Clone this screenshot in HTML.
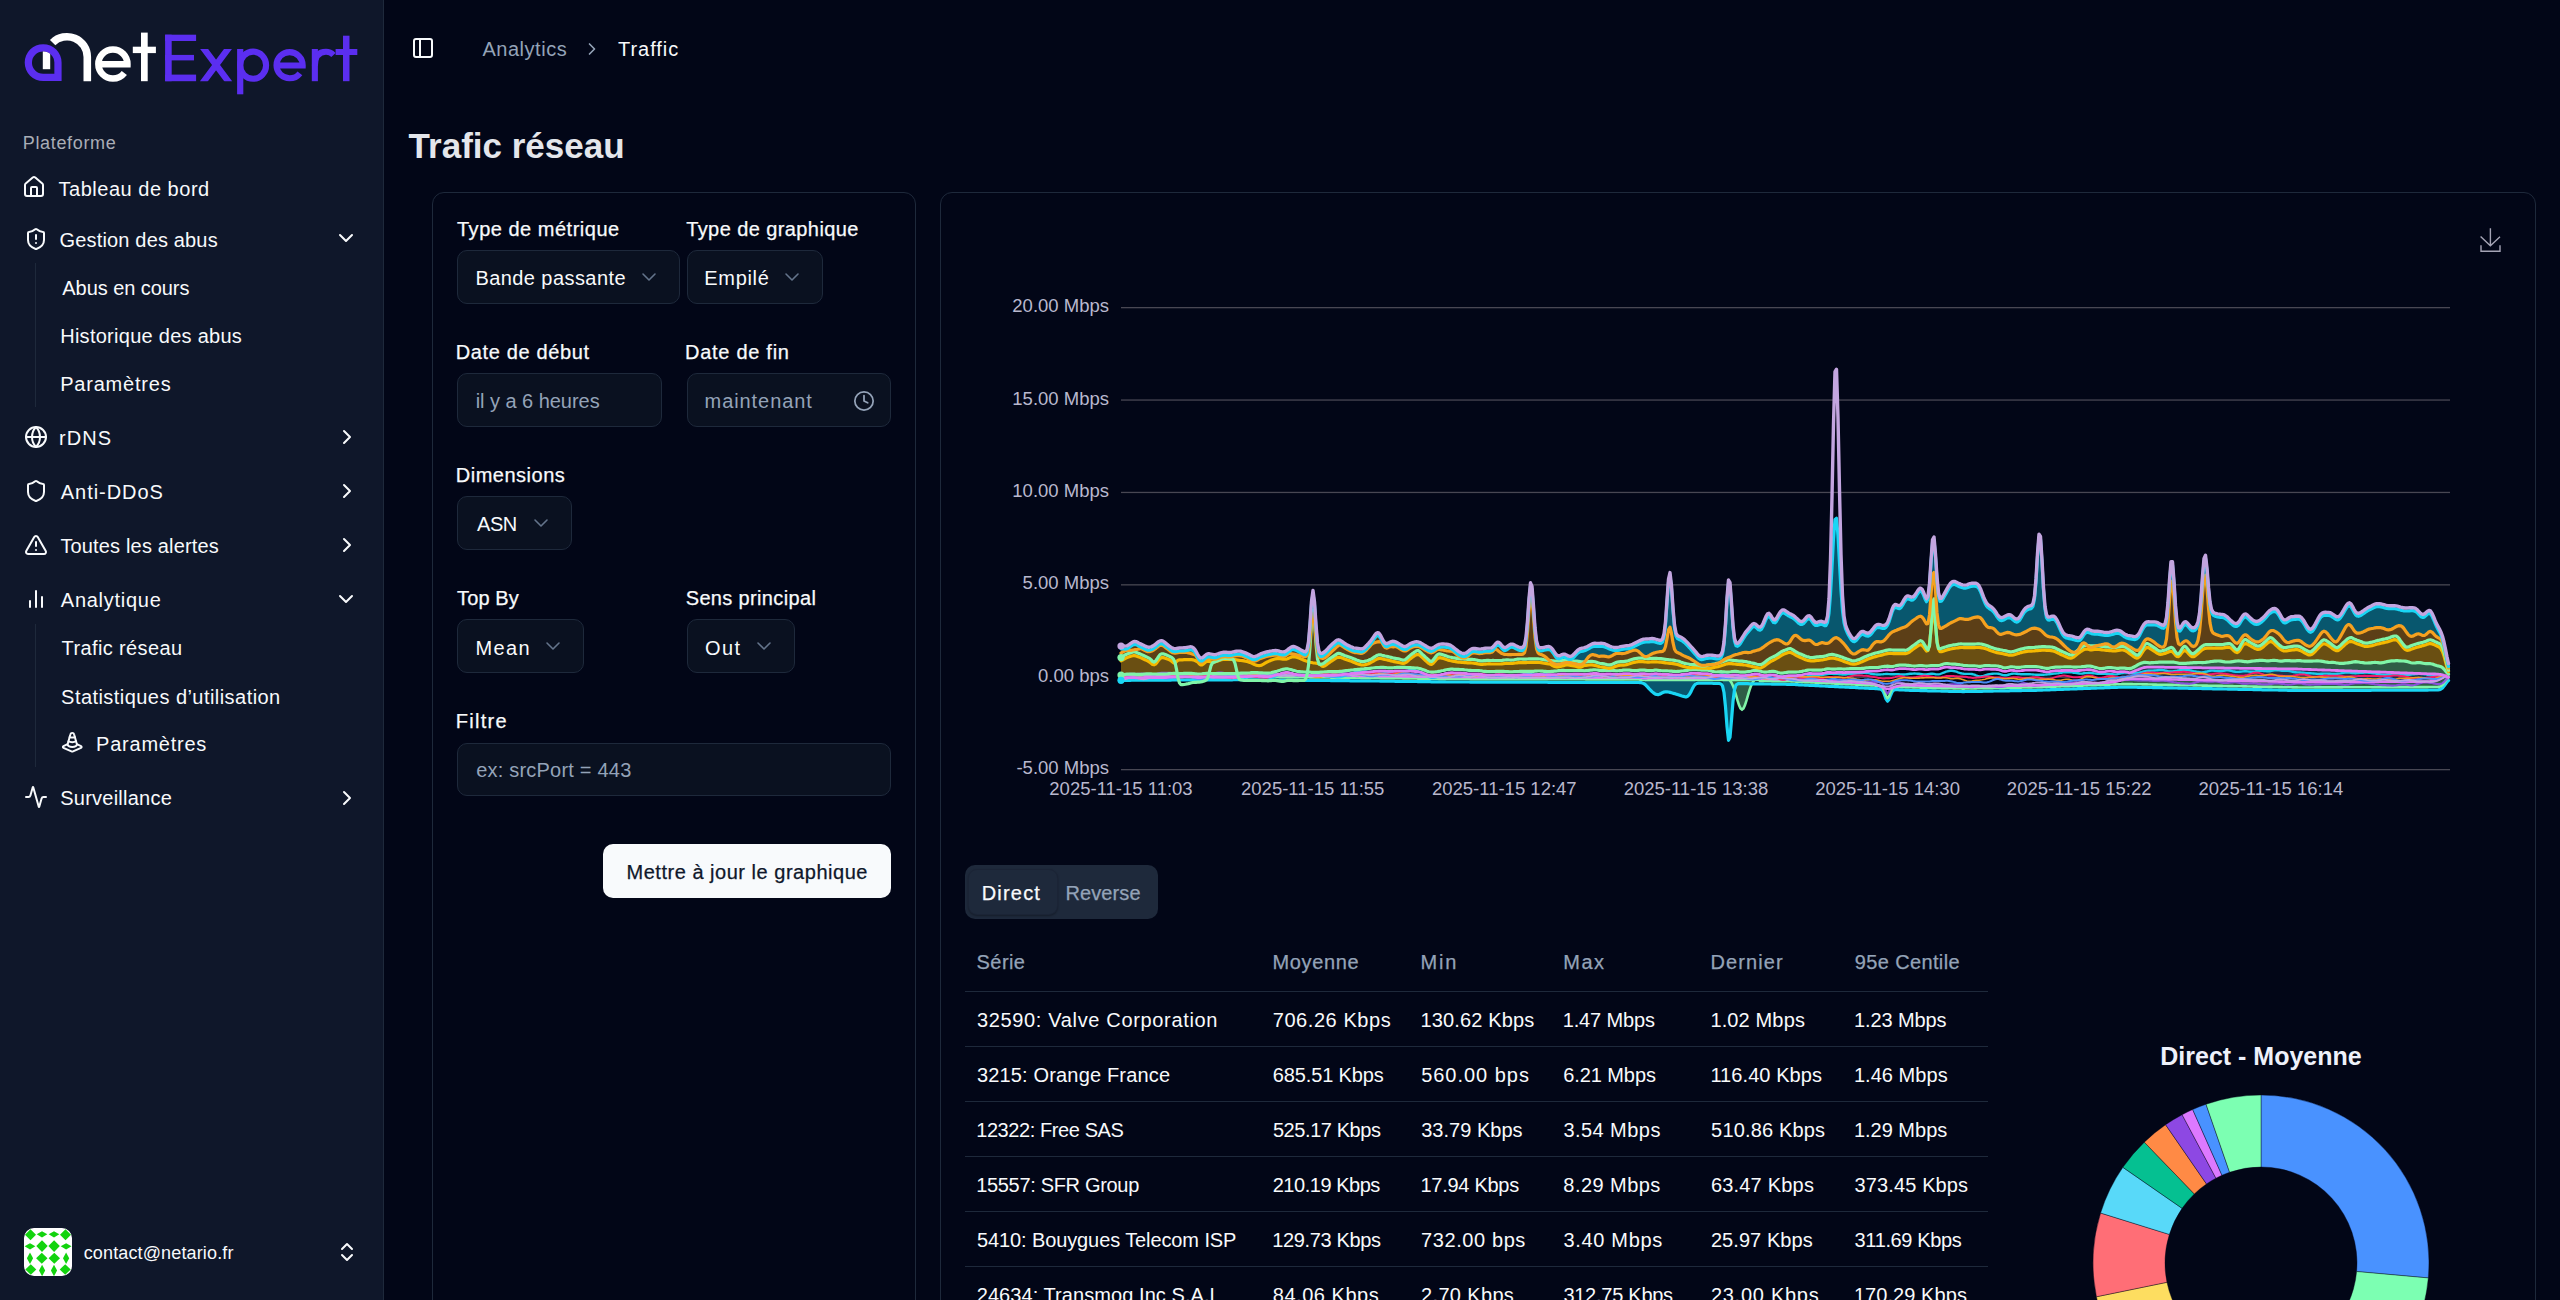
<!DOCTYPE html><html><head><meta charset="utf-8"><style>
html,body{margin:0;padding:0;}
body{width:2560px;height:1300px;overflow:hidden;background:#020617;position:relative;font-family:"Liberation Sans",sans-serif;}
.t{position:absolute;line-height:1;white-space:nowrap;}
.i{position:absolute;overflow:visible;}
.b{position:absolute;}
</style></head><body>
<div class="b" style="left:0.0px;top:0.0px;width:383.0px;height:1300.0px;background:#0f172a;"></div>
<div class="b" style="left:383.0px;top:0.0px;width:1.0px;height:1300.0px;background:#1e293b;"></div>
<svg class="i" style="left:0;top:0;width:384px;height:110px" viewBox="0 0 384 110"><path d="M43.15,44.150000000000006 A18.45,18.45 0 0 0 24.7,62.6 A18.45,18.45 0 0 0 43.15,81.05 L61.599999999999994,81.05 L61.599999999999994,62.6 A18.45,18.45 0 0 0 43.15,44.150000000000006 Z M43.15,51.400000000000006 A11.2,11.2 0 0 1 54.349999999999994,62.6 L54.349999999999994,73.8 L43.15,73.8 A11.2,11.2 0 0 1 31.95,62.6 A11.2,11.2 0 0 1 43.15,51.400000000000006 Z" fill="#5b2ef0" fill-rule="evenodd"/><clipPath id="kc"><path d="M43.15,51.400000000000006 A11.2,11.2 0 0 1 54.349999999999994,62.6 L54.349999999999994,73.8 L43.15,73.8 A11.2,11.2 0 0 1 31.95,62.6 A11.2,11.2 0 0 1 43.15,51.400000000000006 Z"/></clipPath><rect x="42.8" y="48" width="7.4" height="21.2" fill="#ffffff" clip-path="url(#kc)"/><path d="M52.65,42.65 A20.3,20.3 0 0 1 87.3,57.0 L87.3,81.2" fill="none" stroke="#ffffff" stroke-width="7.6"/><path d="M98.9,64.3 L127.4,64.3 A14.5,14.5 0 0 0 112.9,49.5 A14.5,14.5 0 0 0 98.4,64.0 A14.5,14.5 0 0 0 112.9,78.5 A14.5,14.5 0 0 0 124.33,72.93" fill="none" stroke="#ffffff" stroke-width="6.6"/><rect x="141" y="32.6" width="6.7" height="48.6" fill="#ffffff"/><rect x="132.8" y="46.7" width="23.1" height="6.4" fill="#ffffff"/><rect x="165.1" y="34.7" width="6.6" height="46.5" fill="#5b2ef0"/><rect x="165.1" y="34.7" width="31" height="6.3" fill="#5b2ef0"/><rect x="165.1" y="54.9" width="28.9" height="5.5" fill="#5b2ef0"/><rect x="165.1" y="74.6" width="31" height="6.6" fill="#5b2ef0"/><clipPath id="xc"><rect x="195" y="49" width="45" height="32.2"/></clipPath><path d="M202.5,46.8 L229.8,83.4 M229.6,46.8 L202.3,83.4" stroke="#5b2ef0" stroke-width="6.4" fill="none" clip-path="url(#xc)"/><rect x="237.1" y="49" width="6.2" height="45.3" fill="#5b2ef0"/><ellipse cx="253.1" cy="65.2" rx="13" ry="13.6" fill="none" stroke="#5b2ef0" stroke-width="6.1"/><path d="M277.0,65.5 L302.70000000000005,65.5 A13.1,13.1 0 0 0 289.6,52.1 A13.1,13.1 0 0 0 276.5,65.2 A13.1,13.1 0 0 0 289.6,78.3 A13.1,13.1 0 0 0 299.92,73.27" fill="none" stroke="#5b2ef0" stroke-width="6.1"/><rect x="311.8" y="49" width="6.1" height="32.2" fill="#5b2ef0"/><path d="M314.9,66 C314.9,55 320,51.8 326,51.8 C329.5,51.8 331.5,53 333.5,55" stroke="#5b2ef0" stroke-width="6" fill="none"/><rect x="343" y="35.7" width="6.5" height="45.5" fill="#5b2ef0"/><rect x="335.6" y="49" width="21.7" height="6" fill="#5b2ef0"/></svg>
<div class="t" style="left:22.8px;top:134.0px;font-size:18px;color:#a9adb6;letter-spacing:0.65px;">Plateforme</div>
<div class="t" style="left:58.6px;top:178.9px;font-size:20px;color:#f8fafc;letter-spacing:0.51px;">Tableau de bord</div>
<div class="t" style="left:59.6px;top:230.1px;font-size:20px;color:#f8fafc;letter-spacing:0.16px;">Gestion des abus</div>
<div class="t" style="left:62.3px;top:278.2px;font-size:20px;color:#f8fafc;letter-spacing:-0.06px;">Abus en cours</div>
<div class="t" style="left:60.2px;top:326.2px;font-size:20px;color:#f8fafc;letter-spacing:0.27px;">Historique des abus</div>
<div class="t" style="left:60.2px;top:373.9px;font-size:20px;color:#f8fafc;letter-spacing:0.79px;">Paramètres</div>
<div class="t" style="left:59.0px;top:427.7px;font-size:20px;color:#f8fafc;letter-spacing:1.03px;">rDNS</div>
<div class="t" style="left:60.8px;top:482.4px;font-size:20px;color:#f8fafc;letter-spacing:0.96px;">Anti-DDoS</div>
<div class="t" style="left:60.4px;top:536.1px;font-size:20px;color:#f8fafc;letter-spacing:0.16px;">Toutes les alertes</div>
<div class="t" style="left:60.8px;top:590.2px;font-size:20px;color:#f8fafc;letter-spacing:0.74px;">Analytique</div>
<div class="t" style="left:61.6px;top:638.1px;font-size:20px;color:#f8fafc;letter-spacing:0.38px;">Trafic réseau</div>
<div class="t" style="left:61.1px;top:686.6px;font-size:20px;color:#f8fafc;letter-spacing:0.45px;">Statistiques d’utilisation</div>
<div class="t" style="left:96.1px;top:734.1px;font-size:20px;color:#f8fafc;letter-spacing:0.76px;">Paramètres</div>
<div class="t" style="left:60.3px;top:787.6px;font-size:20px;color:#f8fafc;letter-spacing:0.23px;">Surveillance</div>
<svg class="i" style="left:22.3px;top:175.3px;width:24px;height:24px;" viewBox="0 0 24 24" fill="none" stroke="#f8fafc" stroke-width="2" stroke-linecap="round" stroke-linejoin="round"><path d="M15 21v-8a1 1 0 0 0-1-1h-4a1 1 0 0 0-1 1v8"/><path d="M3 10a2 2 0 0 1 .709-1.528l7-5.999a2 2 0 0 1 2.582 0l7 5.999A2 2 0 0 1 21 10v9a2 2 0 0 1-2 2H5a2 2 0 0 1-2-2z"/></svg>
<svg class="i" style="left:23.9px;top:227.1px;width:24px;height:24px;" viewBox="0 0 24 24" fill="none" stroke="#f8fafc" stroke-width="2" stroke-linecap="round" stroke-linejoin="round"><path d="M20 13c0 5-3.5 7.5-7.66 8.95a1 1 0 0 1-.67-.01C7.5 20.5 4 18 4 13V6a1 1 0 0 1 1-1c2 0 4.5-1.2 6.24-2.72a1.17 1.17 0 0 1 1.52 0C14.51 3.81 17 5 19 5a1 1 0 0 1 1 1z"/><path d="M12 8v4"/><path d="M12 16h.01"/></svg>
<svg class="i" style="left:23.6px;top:425.0px;width:24px;height:24px;" viewBox="0 0 24 24" fill="none" stroke="#f8fafc" stroke-width="2" stroke-linecap="round" stroke-linejoin="round"><circle cx="12" cy="12" r="10"/><path d="M12 2a14.5 14.5 0 0 0 0 20 14.5 14.5 0 0 0 0-20"/><path d="M2 12h20"/></svg>
<svg class="i" style="left:23.8px;top:479.1px;width:24px;height:24px;" viewBox="0 0 24 24" fill="none" stroke="#f8fafc" stroke-width="2" stroke-linecap="round" stroke-linejoin="round"><path d="M20 13c0 5-3.5 7.5-7.66 8.95a1 1 0 0 1-.67-.01C7.5 20.5 4 18 4 13V6a1 1 0 0 1 1-1c2 0 4.5-1.2 6.24-2.72a1.17 1.17 0 0 1 1.52 0C14.51 3.81 17 5 19 5a1 1 0 0 1 1 1z"/></svg>
<svg class="i" style="left:24.0px;top:533.4px;width:24px;height:24px;" viewBox="0 0 24 24" fill="none" stroke="#f8fafc" stroke-width="2" stroke-linecap="round" stroke-linejoin="round"><path d="m21.73 18-8-14a2 2 0 0 0-3.48 0l-8 14A2 2 0 0 0 4 21h16a2 2 0 0 0 1.73-3"/><path d="M12 9v4"/><path d="M12 17h.01"/></svg>
<svg class="i" style="left:23.7px;top:587.3px;width:24px;height:24px;" viewBox="0 0 24 24" fill="none" stroke="#f8fafc" stroke-width="2" stroke-linecap="round" stroke-linejoin="round"><line x1="18" x2="18" y1="20" y2="10"/><line x1="12" x2="12" y1="20" y2="4"/><line x1="6" x2="6" y1="20" y2="14"/></svg>
<svg class="i" style="left:61.3px;top:731.2px;width:22.5px;height:22.5px;" viewBox="0 0 24 24" fill="none" stroke="#f8fafc" stroke-width="2.1" stroke-linecap="round" stroke-linejoin="round"><path d="M16.05 10.966a5 2.5 0 0 1-8.1 0"/><path d="m16.923 14.049 4.48 2.04a1 1 0 0 1 .001 1.831l-8.574 3.9a2 2 0 0 1-1.66 0l-8.574-3.91a1 1 0 0 1 0-1.83l4.484-2.04"/><path d="M16.949 14.14a5 2.5 0 1 1-9.9 0L10.063 3.5a2 2 0 0 1 3.874 0z"/><path d="M9.194 6.57a5 2.5 0 0 0 5.61 0"/></svg>
<svg class="i" style="left:24.0px;top:785.2px;width:24px;height:24px;" viewBox="0 0 24 24" fill="none" stroke="#f8fafc" stroke-width="2" stroke-linecap="round" stroke-linejoin="round"><path d="M22 12h-2.48a2 2 0 0 0-1.93 1.46l-2.35 8.36a.25.25 0 0 1-.48 0L9.24 2.18a.25.25 0 0 0-.48 0l-2.35 8.36A2 2 0 0 1 4.49 12H2"/></svg>
<svg class="i" style="left:334.3px;top:226.3px;width:24px;height:24px;" viewBox="0 0 24 24" fill="none" stroke="#f8fafc" stroke-width="2" stroke-linecap="round" stroke-linejoin="round"><path d="m6 9 6 6 6-6"/></svg>
<svg class="i" style="left:335.0px;top:425.0px;width:24px;height:24px;" viewBox="0 0 24 24" fill="none" stroke="#f8fafc" stroke-width="2" stroke-linecap="round" stroke-linejoin="round"><path d="m9 18 6-6-6-6"/></svg>
<svg class="i" style="left:335.0px;top:479.0px;width:24px;height:24px;" viewBox="0 0 24 24" fill="none" stroke="#f8fafc" stroke-width="2" stroke-linecap="round" stroke-linejoin="round"><path d="m9 18 6-6-6-6"/></svg>
<svg class="i" style="left:335.0px;top:533.0px;width:24px;height:24px;" viewBox="0 0 24 24" fill="none" stroke="#f8fafc" stroke-width="2" stroke-linecap="round" stroke-linejoin="round"><path d="m9 18 6-6-6-6"/></svg>
<svg class="i" style="left:334.3px;top:586.5px;width:24px;height:24px;" viewBox="0 0 24 24" fill="none" stroke="#f8fafc" stroke-width="2" stroke-linecap="round" stroke-linejoin="round"><path d="m6 9 6 6 6-6"/></svg>
<svg class="i" style="left:335.0px;top:785.5px;width:24px;height:24px;" viewBox="0 0 24 24" fill="none" stroke="#f8fafc" stroke-width="2" stroke-linecap="round" stroke-linejoin="round"><path d="m9 18 6-6-6-6"/></svg>
<div class="b" style="left:35.0px;top:263.0px;width:1.0px;height:144.0px;background:#1e293b;"></div>
<div class="b" style="left:35.0px;top:624.0px;width:1.0px;height:143.0px;background:#1e293b;"></div>
<svg class="i" style="left:24px;top:1228px;width:48px;height:48px" viewBox="0 0 48 48"><clipPath id="avc"><rect x="0" y="0" width="48" height="48" rx="10"/></clipPath><g clip-path="url(#avc)"><rect width="48" height="48" fill="#fff"/><path d="M1.0,6.8 L6.5,1.2999999999999998 L12.0,6.8 L6.5,12.3 Z" fill="#12d30e"/><path d="M12.7,6.3 L18,3.1999999999999997 L23.3,6.3 L18,9.4 Z" fill="#12d30e"/><path d="M24.7,6.3 L30,3.1999999999999997 L35.3,6.3 L30,9.4 Z" fill="#12d30e"/><path d="M36.0,6.8 L41.5,1.2999999999999998 L47.0,6.8 L41.5,12.3 Z" fill="#12d30e"/><path d="M0.5999999999999996,18.3 L6,15.200000000000001 L11.4,18.3 L6,21.400000000000002 Z" fill="#12d30e"/><path d="M12.3,18.1 L18,12.3 L23.7,18.1 L18,23.900000000000002 Z" fill="#12d30e"/><path d="M24.400000000000002,18.1 L30.1,12.3 L35.800000000000004,18.1 L30.1,23.900000000000002 Z" fill="#12d30e"/><path d="M36.7,18.3 L42.1,15.200000000000001 L47.5,18.3 L42.1,21.400000000000002 Z" fill="#12d30e"/><path d="M2.9,30.3 L6,24.6 L9.1,30.3 L6,36.0 Z" fill="#12d30e"/><path d="M12.100000000000001,30.2 L17.8,24.7 L23.5,30.2 L17.8,35.7 Z" fill="#12d30e"/><path d="M24.6,30.2 L30.3,24.7 L36.0,30.2 L30.3,35.7 Z" fill="#12d30e"/><path d="M39.0,30.3 L42.1,24.6 L45.2,30.3 L42.1,36.0 Z" fill="#12d30e"/><path d="M1.2999999999999998,41.5 L6.8,36.25 L12.3,41.5 L6.8,46.75 Z" fill="#12d30e"/><path d="M15.000000000000002,42.5 L18.1,36.8 L21.200000000000003,42.5 L18.1,48.2 Z" fill="#12d30e"/><path d="M26.9,42.5 L30,36.8 L33.1,42.5 L30,48.2 Z" fill="#12d30e"/><path d="M35.7,41.5 L41.2,36.25 L46.7,41.5 L41.2,46.75 Z" fill="#12d30e"/></g></svg>
<div class="t" style="left:83.7px;top:1243.8px;font-size:18px;color:#f8fafc;letter-spacing:0.14px;">contact@netario.fr</div>
<svg class="i" style="left:334.8px;top:1240.2px;width:24px;height:24px;" viewBox="0 0 24 24" fill="none" stroke="#f8fafc" stroke-width="2" stroke-linecap="round" stroke-linejoin="round"><path d="m7 15 5 5 5-5"/><path d="m7 9 5-5 5 5"/></svg>
<svg class="i" style="left:410.9px;top:35.8px;width:24px;height:24px;" viewBox="0 0 24 24" fill="none" stroke="#f8fafc" stroke-width="2" stroke-linecap="round" stroke-linejoin="round"><rect width="18" height="18" x="3" y="3" rx="2"/><path d="M9 3v18"/></svg>
<div class="t" style="left:482.4px;top:39.0px;font-size:20px;color:#94a3b8;letter-spacing:0.54px;">Analytics</div>
<svg class="i" style="left:582.0px;top:39.2px;width:20px;height:20px;" viewBox="0 0 24 24" fill="none" stroke="#94a3b8" stroke-width="2" stroke-linecap="round" stroke-linejoin="round"><path d="m9 18 6-6-6-6"/></svg>
<div class="t" style="left:618.0px;top:39.0px;font-size:20px;color:#f8fafc;letter-spacing:0.97px;">Traffic</div>
<div class="t" style="left:408.6px;top:128.2px;font-size:35px;color:#e4e6eb;font-weight:700;">Trafic réseau</div>
<div class="b" style="left:432.0px;top:192.0px;width:484.0px;height:1300.0px;border:1px solid #1e293b;border-radius:12px;box-sizing:border-box;"></div>
<div class="t" style="left:457.0px;top:219.2px;font-size:20px;color:#f8fafc;-webkit-text-stroke:0.25px #f8fafc;letter-spacing:0.51px;">Type de métrique</div>
<div class="t" style="left:686.2px;top:219.2px;font-size:20px;color:#f8fafc;-webkit-text-stroke:0.25px #f8fafc;letter-spacing:0.41px;">Type de graphique</div>
<div class="t" style="left:455.8px;top:342.0px;font-size:20px;color:#f8fafc;-webkit-text-stroke:0.25px #f8fafc;letter-spacing:0.63px;">Date de début</div>
<div class="t" style="left:685.0px;top:342.0px;font-size:20px;color:#f8fafc;-webkit-text-stroke:0.25px #f8fafc;letter-spacing:0.72px;">Date de fin</div>
<div class="t" style="left:455.8px;top:465.1px;font-size:20px;color:#f8fafc;-webkit-text-stroke:0.25px #f8fafc;letter-spacing:0.5px;">Dimensions</div>
<div class="t" style="left:457.0px;top:588.4px;font-size:20px;color:#f8fafc;-webkit-text-stroke:0.25px #f8fafc;letter-spacing:0.14px;">Top By</div>
<div class="t" style="left:685.7px;top:588.4px;font-size:20px;color:#f8fafc;-webkit-text-stroke:0.25px #f8fafc;letter-spacing:0.35px;">Sens principal</div>
<div class="t" style="left:455.8px;top:711.2px;font-size:20px;color:#f8fafc;-webkit-text-stroke:0.25px #f8fafc;letter-spacing:1.26px;">Filtre</div>
<div class="b" style="left:457.0px;top:250.0px;width:223.0px;height:54.0px;border:1px solid #1e293b;background:#0a1120;border-radius:10px;box-sizing:border-box;"></div>
<div class="b" style="left:686.5px;top:250.0px;width:136.5px;height:54.0px;border:1px solid #1e293b;background:#0a1120;border-radius:10px;box-sizing:border-box;"></div>
<div class="b" style="left:457.0px;top:373.0px;width:205.0px;height:54.0px;border:1px solid #1e293b;background:#0a1120;border-radius:10px;box-sizing:border-box;"></div>
<div class="b" style="left:686.5px;top:373.0px;width:204.5px;height:54.0px;border:1px solid #1e293b;background:#0a1120;border-radius:10px;box-sizing:border-box;"></div>
<div class="b" style="left:457.0px;top:496.0px;width:115.0px;height:54.0px;border:1px solid #1e293b;background:#0a1120;border-radius:10px;box-sizing:border-box;"></div>
<div class="b" style="left:457.0px;top:619.0px;width:127.0px;height:54.0px;border:1px solid #1e293b;background:#0a1120;border-radius:10px;box-sizing:border-box;"></div>
<div class="b" style="left:686.5px;top:619.0px;width:108.5px;height:54.0px;border:1px solid #1e293b;background:#0a1120;border-radius:10px;box-sizing:border-box;"></div>
<div class="b" style="left:457.0px;top:742.5px;width:434.0px;height:53.5px;border:1px solid #1e293b;background:#0a1120;border-radius:10px;box-sizing:border-box;"></div>
<div class="t" style="left:475.4px;top:268.3px;font-size:20px;color:#f8fafc;letter-spacing:0.43px;">Bande passante</div>
<div class="t" style="left:704.3px;top:268.3px;font-size:20px;color:#f8fafc;letter-spacing:0.68px;">Empilé</div>
<div class="t" style="left:475.7px;top:391.1px;font-size:20px;color:#94a3b8;letter-spacing:-0.04px;">il y a 6 heures</div>
<div class="t" style="left:704.6px;top:391.1px;font-size:20px;color:#94a3b8;letter-spacing:0.92px;">maintenant</div>
<div class="t" style="left:477.0px;top:513.9px;font-size:20px;color:#f8fafc;letter-spacing:-0.45px;">ASN</div>
<div class="t" style="left:475.4px;top:638.1px;font-size:20px;color:#f8fafc;letter-spacing:1.37px;">Mean</div>
<div class="t" style="left:705.0px;top:638.1px;font-size:20px;color:#f8fafc;letter-spacing:1.4px;">Out</div>
<div class="t" style="left:476.2px;top:760.1px;font-size:20px;color:#94a3b8;letter-spacing:0.21px;">ex: srcPort = 443</div>
<svg class="i" style="left:637.0px;top:265.0px;width:24px;height:24px;" viewBox="0 0 24 24" fill="none" stroke="#64748b" stroke-width="1.6" stroke-linecap="round" stroke-linejoin="round"><path d="m6 9 6 6 6-6"/></svg>
<svg class="i" style="left:780.4px;top:265.0px;width:24px;height:24px;" viewBox="0 0 24 24" fill="none" stroke="#64748b" stroke-width="1.6" stroke-linecap="round" stroke-linejoin="round"><path d="m6 9 6 6 6-6"/></svg>
<svg class="i" style="left:529.0px;top:510.5px;width:24px;height:24px;" viewBox="0 0 24 24" fill="none" stroke="#64748b" stroke-width="1.6" stroke-linecap="round" stroke-linejoin="round"><path d="m6 9 6 6 6-6"/></svg>
<svg class="i" style="left:541.3px;top:633.8px;width:24px;height:24px;" viewBox="0 0 24 24" fill="none" stroke="#64748b" stroke-width="1.6" stroke-linecap="round" stroke-linejoin="round"><path d="m6 9 6 6 6-6"/></svg>
<svg class="i" style="left:751.7px;top:633.8px;width:24px;height:24px;" viewBox="0 0 24 24" fill="none" stroke="#64748b" stroke-width="1.6" stroke-linecap="round" stroke-linejoin="round"><path d="m6 9 6 6 6-6"/></svg>
<svg class="i" style="left:853.1px;top:389.6px;width:22px;height:22px;" viewBox="0 0 24 24" fill="none" stroke="#94a3b8" stroke-width="1.9" stroke-linecap="round" stroke-linejoin="round"><circle cx="12" cy="12" r="10"/><polyline points="12 6 12 12 16 14"/></svg>
<div class="b" style="left:603.3px;top:844.1px;width:287.5px;height:53.5px;background:#f8fafc;border-radius:10px;"></div>
<div class="t" style="left:626.5px;top:862.3px;font-size:20px;color:#0f172a;-webkit-text-stroke:0.25px #0f172a;letter-spacing:0.52px;">Mettre à jour le graphique</div>
<div class="b" style="left:940.0px;top:192.0px;width:1596.0px;height:1300.0px;border:1px solid #1e293b;border-radius:12px;box-sizing:border-box;"></div>
<svg class="i" style="left:2478px;top:226px;width:26px;height:28px" viewBox="0 0 26 28"><path d="M2.6,10.5 L12.4,19.8 L22.0,10.8 M3.0,19.2 L3.0,25.3 L22.0,25.3 L22.0,19.2 M12.4,19.6 L12.4,2.2" fill="none" stroke="#a5a4b5" stroke-width="1.4"/></svg>
<svg class="i" style="left:0;top:0;width:2560px;height:1300px" viewBox="0 0 2560 1300"><rect x="1121" y="307.0" width="1329" height="1.3" fill="#484753"/><rect x="1121" y="399.4" width="1329" height="1.3" fill="#484753"/><rect x="1121" y="491.8" width="1329" height="1.3" fill="#484753"/><rect x="1121" y="584.2" width="1329" height="1.3" fill="#484753"/><rect x="1121" y="676.6" width="1329" height="1.3" fill="#484753"/><rect x="1121" y="769.0" width="1329" height="1.3" fill="#484753"/><g font-family="Liberation Sans, sans-serif" font-size="18.5" fill="#b9b8ce"><text x="1109" y="312.1" text-anchor="end">20.00 Mbps</text><text x="1109" y="404.5" text-anchor="end">15.00 Mbps</text><text x="1109" y="496.9" text-anchor="end">10.00 Mbps</text><text x="1109" y="589.3" text-anchor="end">5.00 Mbps</text><text x="1109" y="681.7" text-anchor="end">0.00 bps</text><text x="1109" y="774.1" text-anchor="end">-5.00 Mbps</text><text x="1121.0" y="794.7" text-anchor="middle">2025-11-15 11:03</text><text x="1312.7" y="794.7" text-anchor="middle">2025-11-15 11:55</text><text x="1504.3" y="794.7" text-anchor="middle">2025-11-15 12:47</text><text x="1696.0" y="794.7" text-anchor="middle">2025-11-15 13:38</text><text x="1887.6" y="794.7" text-anchor="middle">2025-11-15 14:30</text><text x="2079.2" y="794.7" text-anchor="middle">2025-11-15 15:22</text><text x="2270.9" y="794.7" text-anchor="middle">2025-11-15 16:14</text></g><path d="M1121.0,649.0 L1122.5,648.9 L1124.0,649.0 L1125.5,649.1 L1127.0,648.8 L1128.5,648.0 L1130.0,646.9 L1131.5,645.8 L1133.0,644.8 L1134.5,644.4 L1136.0,644.6 L1137.5,645.3 L1139.0,646.2 L1140.5,646.9 L1142.0,647.6 L1143.5,648.3 L1145.0,649.1 L1146.5,649.7 L1148.0,650.2 L1149.5,650.2 L1151.0,649.8 L1152.5,649.2 L1154.0,648.3 L1155.5,647.2 L1157.0,645.9 L1158.5,644.7 L1160.0,643.9 L1161.5,643.7 L1163.0,644.2 L1164.5,645.2 L1166.0,646.4 L1167.5,647.6 L1169.0,648.8 L1170.5,649.9 L1172.0,650.9 L1173.5,651.4 L1175.0,651.6 L1176.5,651.5 L1178.0,651.2 L1179.5,651.0 L1181.0,650.9 L1182.5,650.9 L1184.0,650.8 L1185.5,650.7 L1187.0,650.4 L1188.5,650.1 L1190.0,649.8 L1191.5,649.9 L1193.0,650.5 L1194.5,651.9 L1196.0,654.2 L1197.5,657.0 L1199.0,659.5 L1200.5,660.9 L1202.0,660.9 L1203.5,659.9 L1205.0,658.5 L1206.5,657.4 L1208.0,656.8 L1209.5,656.8 L1211.0,657.1 L1212.5,657.4 L1214.0,657.7 L1215.5,657.6 L1217.0,657.2 L1218.5,656.7 L1220.0,656.1 L1221.5,655.6 L1223.0,655.3 L1224.5,655.2 L1226.0,655.2 L1227.5,655.4 L1229.0,655.5 L1230.5,655.4 L1232.0,655.2 L1233.5,654.8 L1235.0,654.5 L1236.5,654.2 L1238.0,654.1 L1239.5,654.1 L1241.0,654.3 L1242.5,654.8 L1244.0,655.3 L1245.5,655.9 L1247.0,656.6 L1248.5,657.3 L1250.0,658.1 L1251.5,658.9 L1253.0,659.5 L1254.5,659.6 L1256.0,659.2 L1257.5,658.5 L1259.0,657.7 L1260.5,656.9 L1262.0,656.4 L1263.5,655.9 L1265.0,655.4 L1266.5,655.0 L1268.0,654.6 L1269.5,654.3 L1271.0,654.1 L1272.5,653.8 L1274.0,653.6 L1275.5,653.5 L1277.0,653.7 L1278.5,654.0 L1280.0,654.4 L1281.5,654.7 L1283.0,654.9 L1284.5,654.7 L1286.0,654.0 L1287.5,652.9 L1289.0,651.6 L1290.5,650.5 L1292.0,649.7 L1293.5,649.5 L1295.0,649.9 L1296.5,650.5 L1298.0,651.3 L1299.5,652.1 L1301.0,653.0 L1302.5,653.8 L1304.0,654.6 L1305.5,654.8 L1307.0,652.8 L1308.5,644.9 L1310.0,627.0 L1311.5,604.4 L1313.0,593.5 L1314.5,604.9 L1316.0,627.9 L1317.5,646.0 L1319.0,654.2 L1320.5,656.4 L1322.0,656.4 L1323.5,655.6 L1325.0,654.4 L1326.5,653.0 L1328.0,651.4 L1329.5,649.7 L1331.0,648.2 L1332.5,646.8 L1334.0,645.5 L1335.5,644.2 L1337.0,643.2 L1338.5,642.8 L1340.0,643.2 L1341.5,644.1 L1343.0,645.2 L1344.5,646.3 L1346.0,647.2 L1347.5,648.1 L1349.0,648.8 L1350.5,649.6 L1352.0,650.2 L1353.5,650.8 L1355.0,651.1 L1356.5,651.2 L1358.0,651.4 L1359.5,651.7 L1361.0,652.0 L1362.5,651.7 L1364.0,650.9 L1365.5,649.5 L1367.0,648.0 L1368.5,646.4 L1370.0,644.7 L1371.5,642.8 L1373.0,640.6 L1374.5,638.4 L1376.0,636.5 L1377.5,635.6 L1379.0,636.2 L1380.5,638.2 L1382.0,641.2 L1383.5,644.1 L1385.0,646.0 L1386.5,646.6 L1388.0,646.2 L1389.5,645.4 L1391.0,644.7 L1392.5,644.3 L1394.0,644.4 L1395.5,644.9 L1397.0,645.6 L1398.5,646.4 L1400.0,647.4 L1401.5,648.3 L1403.0,649.2 L1404.5,649.5 L1406.0,649.3 L1407.5,648.5 L1409.0,647.4 L1410.5,646.5 L1412.0,645.8 L1413.5,645.3 L1415.0,644.9 L1416.5,644.8 L1418.0,644.9 L1419.5,645.3 L1421.0,646.1 L1422.5,647.0 L1424.0,647.9 L1425.5,648.8 L1427.0,649.7 L1428.5,650.5 L1430.0,651.1 L1431.5,651.3 L1433.0,650.8 L1434.5,649.9 L1436.0,648.9 L1437.5,648.0 L1439.0,647.4 L1440.5,647.1 L1442.0,647.0 L1443.5,647.0 L1445.0,647.1 L1446.5,647.3 L1448.0,647.5 L1449.5,647.9 L1451.0,648.6 L1452.5,649.6 L1454.0,650.8 L1455.5,652.0 L1457.0,653.2 L1458.5,654.4 L1460.0,655.3 L1461.5,656.0 L1463.0,656.5 L1464.5,656.5 L1466.0,656.0 L1467.5,655.0 L1469.0,653.7 L1470.5,652.5 L1472.0,651.7 L1473.5,651.4 L1475.0,651.5 L1476.5,651.7 L1478.0,651.9 L1479.5,652.1 L1481.0,652.0 L1482.5,651.8 L1484.0,651.5 L1485.5,651.2 L1487.0,651.1 L1488.5,651.1 L1490.0,651.1 L1491.5,650.8 L1493.0,649.8 L1494.5,648.1 L1496.0,646.3 L1497.5,645.1 L1499.0,645.4 L1500.5,646.8 L1502.0,648.7 L1503.5,650.2 L1505.0,650.6 L1506.5,650.0 L1508.0,648.9 L1509.5,647.8 L1511.0,647.2 L1512.5,647.2 L1514.0,647.7 L1515.5,648.5 L1517.0,649.2 L1518.5,650.0 L1520.0,650.5 L1521.5,650.7 L1523.0,650.2 L1524.5,647.8 L1526.0,640.2 L1527.5,623.8 L1529.0,601.4 L1530.5,585.8 L1532.0,589.4 L1533.5,609.1 L1535.0,630.5 L1536.5,643.7 L1538.0,649.1 L1539.5,650.6 L1541.0,650.8 L1542.5,650.6 L1544.0,650.3 L1545.5,650.0 L1547.0,649.6 L1548.5,649.5 L1550.0,649.8 L1551.5,651.0 L1553.0,652.9 L1554.5,655.1 L1556.0,657.2 L1557.5,658.5 L1559.0,658.8 L1560.5,658.3 L1562.0,657.6 L1563.5,657.1 L1565.0,657.3 L1566.5,658.0 L1568.0,658.9 L1569.5,659.4 L1571.0,659.3 L1572.5,658.5 L1574.0,657.1 L1575.5,655.5 L1577.0,653.9 L1578.5,652.6 L1580.0,651.7 L1581.5,651.3 L1583.0,651.1 L1584.5,650.7 L1586.0,650.2 L1587.5,649.4 L1589.0,648.6 L1590.5,647.7 L1592.0,646.9 L1593.5,646.5 L1595.0,646.3 L1596.5,646.4 L1598.0,646.4 L1599.5,646.4 L1601.0,646.3 L1602.5,646.4 L1604.0,646.7 L1605.5,647.2 L1607.0,647.9 L1608.5,648.6 L1610.0,649.3 L1611.5,649.8 L1613.0,650.2 L1614.5,650.5 L1616.0,650.5 L1617.5,650.4 L1619.0,650.1 L1620.5,649.7 L1622.0,649.4 L1623.5,649.2 L1625.0,649.0 L1626.5,648.8 L1628.0,648.6 L1629.5,648.4 L1631.0,647.9 L1632.5,647.3 L1634.0,646.5 L1635.5,645.7 L1637.0,645.0 L1638.5,644.3 L1640.0,643.6 L1641.5,642.9 L1643.0,642.3 L1644.5,642.1 L1646.0,642.0 L1647.5,642.0 L1649.0,641.9 L1650.5,641.6 L1652.0,641.5 L1653.5,641.7 L1655.0,642.0 L1656.5,642.5 L1658.0,642.9 L1659.5,643.3 L1661.0,643.3 L1662.5,642.0 L1664.0,637.1 L1665.5,624.6 L1667.0,603.4 L1668.5,582.2 L1670.0,575.6 L1671.5,588.8 L1673.0,610.8 L1674.5,627.8 L1676.0,636.0 L1677.5,638.6 L1679.0,639.4 L1680.5,640.0 L1682.0,640.8 L1683.5,641.9 L1685.0,643.1 L1686.5,644.6 L1688.0,646.2 L1689.5,647.8 L1691.0,649.5 L1692.5,651.2 L1694.0,652.9 L1695.5,654.6 L1697.0,656.4 L1698.5,658.1 L1700.0,659.2 L1701.5,659.6 L1703.0,659.4 L1704.5,659.0 L1706.0,658.5 L1707.5,658.3 L1709.0,658.1 L1710.5,658.1 L1712.0,658.2 L1713.5,658.4 L1715.0,658.6 L1716.5,658.9 L1718.0,659.0 L1719.5,658.7 L1721.0,657.6 L1722.5,654.2 L1724.0,645.1 L1725.5,626.4 L1727.0,601.0 L1728.5,583.0 L1730.0,585.7 L1731.5,606.1 L1733.0,628.1 L1734.5,641.2 L1736.0,645.8 L1737.5,646.3 L1739.0,645.2 L1740.5,643.4 L1742.0,641.0 L1743.5,638.5 L1745.0,636.1 L1746.5,634.1 L1748.0,632.3 L1749.5,630.5 L1751.0,628.7 L1752.5,627.1 L1754.0,626.5 L1755.5,627.0 L1757.0,628.4 L1758.5,629.8 L1760.0,630.2 L1761.5,629.1 L1763.0,626.5 L1764.5,623.0 L1766.0,619.4 L1767.5,616.9 L1769.0,616.3 L1770.5,617.9 L1772.0,620.4 L1773.5,622.5 L1775.0,622.8 L1776.5,621.3 L1778.0,618.7 L1779.5,616.0 L1781.0,614.0 L1782.5,612.9 L1784.0,613.0 L1785.5,613.8 L1787.0,614.8 L1788.5,615.9 L1790.0,616.7 L1791.5,617.4 L1793.0,618.2 L1794.5,619.3 L1796.0,620.7 L1797.5,622.1 L1799.0,623.5 L1800.5,624.4 L1802.0,624.5 L1803.5,623.6 L1805.0,622.0 L1806.5,620.1 L1808.0,618.9 L1809.5,618.8 L1811.0,620.1 L1812.5,622.2 L1814.0,624.2 L1815.5,625.4 L1817.0,625.5 L1818.5,624.9 L1820.0,624.4 L1821.5,624.3 L1823.0,624.8 L1824.5,625.6 L1826.0,625.6 L1827.5,622.6 L1829.0,613.2 L1830.5,594.4 L1832.0,567.1 L1833.5,538.5 L1835.0,519.4 L1836.5,518.2 L1838.0,535.4 L1839.5,563.2 L1841.0,590.9 L1842.5,611.0 L1844.0,622.6 L1845.5,628.6 L1847.0,632.2 L1848.5,635.2 L1850.0,637.8 L1851.5,640.0 L1853.0,641.4 L1854.5,641.6 L1856.0,640.7 L1857.5,639.0 L1859.0,637.0 L1860.5,635.3 L1862.0,634.4 L1863.5,634.5 L1865.0,635.3 L1866.5,636.0 L1868.0,636.2 L1869.5,635.6 L1871.0,634.3 L1872.5,632.4 L1874.0,630.4 L1875.5,628.7 L1877.0,627.7 L1878.5,627.4 L1880.0,627.7 L1881.5,628.1 L1883.0,628.4 L1884.5,628.3 L1886.0,627.4 L1887.5,625.4 L1889.0,621.9 L1890.5,617.2 L1892.0,612.4 L1893.5,608.9 L1895.0,607.5 L1896.5,607.7 L1898.0,608.4 L1899.5,608.6 L1901.0,607.6 L1902.5,605.4 L1904.0,602.7 L1905.5,600.3 L1907.0,599.0 L1908.5,599.0 L1910.0,599.6 L1911.5,600.2 L1913.0,599.9 L1914.5,598.6 L1916.0,596.5 L1917.5,594.0 L1919.0,591.9 L1920.5,591.1 L1922.0,592.1 L1923.5,595.1 L1925.0,599.0 L1926.5,601.7 L1928.0,599.1 L1929.5,586.2 L1931.0,563.5 L1932.5,542.8 L1934.0,540.0 L1935.5,557.2 L1937.0,580.3 L1938.5,595.7 L1940.0,601.3 L1941.5,601.2 L1943.0,599.0 L1944.5,596.3 L1946.0,593.6 L1947.5,590.9 L1949.0,588.4 L1950.5,586.3 L1952.0,584.9 L1953.5,584.4 L1955.0,584.5 L1956.5,585.2 L1958.0,586.0 L1959.5,586.7 L1961.0,587.3 L1962.5,587.8 L1964.0,588.1 L1965.5,588.1 L1967.0,587.8 L1968.5,587.2 L1970.0,586.7 L1971.5,586.3 L1973.0,586.2 L1974.5,586.1 L1976.0,586.3 L1977.5,587.0 L1979.0,588.7 L1980.5,591.7 L1982.0,595.6 L1983.5,599.7 L1985.0,603.2 L1986.5,605.9 L1988.0,607.6 L1989.5,608.8 L1991.0,609.7 L1992.5,610.8 L1994.0,612.4 L1995.5,614.5 L1997.0,616.9 L1998.5,618.9 L2000.0,620.2 L2001.5,620.6 L2003.0,620.3 L2004.5,619.5 L2006.0,618.7 L2007.5,617.9 L2009.0,617.6 L2010.5,618.0 L2012.0,619.0 L2013.5,620.3 L2015.0,621.5 L2016.5,622.1 L2018.0,621.7 L2019.5,620.3 L2021.0,617.9 L2022.5,615.2 L2024.0,612.8 L2025.5,611.1 L2027.0,610.0 L2028.5,609.3 L2030.0,608.9 L2031.5,608.4 L2033.0,606.3 L2034.5,599.0 L2036.0,581.9 L2037.5,556.7 L2039.0,537.2 L2040.5,539.5 L2042.0,562.9 L2043.5,590.6 L2045.0,609.3 L2046.5,617.6 L2048.0,620.0 L2049.5,620.1 L2051.0,619.5 L2052.5,619.1 L2054.0,619.3 L2055.5,620.6 L2057.0,622.9 L2058.5,626.0 L2060.0,629.4 L2061.5,632.7 L2063.0,635.3 L2064.5,637.0 L2066.0,637.9 L2067.5,638.3 L2069.0,638.6 L2070.5,638.9 L2072.0,639.2 L2073.5,639.6 L2075.0,640.1 L2076.5,640.5 L2078.0,640.8 L2079.5,640.5 L2081.0,639.2 L2082.5,637.0 L2084.0,634.7 L2085.5,633.0 L2087.0,632.3 L2088.5,632.4 L2090.0,633.0 L2091.5,633.6 L2093.0,634.0 L2094.5,634.2 L2096.0,634.2 L2097.5,634.2 L2099.0,634.4 L2100.5,634.6 L2102.0,634.9 L2103.5,635.2 L2105.0,635.4 L2106.5,635.5 L2108.0,635.4 L2109.5,635.2 L2111.0,634.8 L2112.5,634.4 L2114.0,633.9 L2115.5,633.5 L2117.0,633.3 L2118.5,633.4 L2120.0,633.8 L2121.5,634.7 L2123.0,635.8 L2124.5,636.9 L2126.0,637.7 L2127.5,638.3 L2129.0,638.6 L2130.5,638.9 L2132.0,639.2 L2133.5,639.5 L2135.0,639.6 L2136.5,639.1 L2138.0,637.8 L2139.5,635.6 L2141.0,632.6 L2142.5,629.6 L2144.0,627.2 L2145.5,625.6 L2147.0,624.9 L2148.5,624.8 L2150.0,624.9 L2151.5,624.9 L2153.0,624.9 L2154.5,624.9 L2156.0,625.1 L2157.5,625.6 L2159.0,626.4 L2160.5,627.2 L2162.0,628.0 L2163.5,628.3 L2165.0,626.8 L2166.5,620.5 L2168.0,605.5 L2169.5,583.0 L2171.0,564.6 L2172.5,564.8 L2174.0,584.2 L2175.5,608.2 L2177.0,624.4 L2178.5,630.8 L2180.0,631.1 L2181.5,629.0 L2183.0,626.5 L2184.5,624.9 L2186.0,624.8 L2187.5,626.0 L2189.0,627.8 L2190.5,629.6 L2192.0,630.7 L2193.5,630.9 L2195.0,630.2 L2196.5,628.5 L2198.0,624.8 L2199.5,616.4 L2201.0,600.6 L2202.5,579.2 L2204.0,561.4 L2205.5,558.3 L2207.0,571.2 L2208.5,590.2 L2210.0,604.9 L2211.5,612.3 L2213.0,615.1 L2214.5,616.0 L2216.0,616.5 L2217.5,616.9 L2219.0,617.1 L2220.5,617.3 L2222.0,617.4 L2223.5,617.7 L2225.0,618.3 L2226.5,619.3 L2228.0,620.6 L2229.5,622.1 L2231.0,623.6 L2232.5,624.9 L2234.0,626.0 L2235.5,626.5 L2237.0,626.3 L2238.5,625.2 L2240.0,623.2 L2241.5,620.7 L2243.0,618.5 L2244.5,617.1 L2246.0,617.0 L2247.5,618.1 L2249.0,619.6 L2250.5,621.2 L2252.0,622.4 L2253.5,623.5 L2255.0,624.2 L2256.5,624.5 L2258.0,624.2 L2259.5,623.5 L2261.0,622.4 L2262.5,621.2 L2264.0,619.8 L2265.5,618.1 L2267.0,616.4 L2268.5,614.7 L2270.0,613.3 L2271.5,612.3 L2273.0,611.7 L2274.5,611.5 L2276.0,611.9 L2277.5,613.3 L2279.0,615.5 L2280.5,618.2 L2282.0,620.8 L2283.5,622.5 L2285.0,623.0 L2286.5,622.5 L2288.0,621.5 L2289.5,620.5 L2291.0,619.8 L2292.5,619.6 L2294.0,619.5 L2295.5,619.3 L2297.0,619.2 L2298.5,619.1 L2300.0,619.5 L2301.5,620.7 L2303.0,622.5 L2304.5,624.8 L2306.0,627.4 L2307.5,629.8 L2309.0,631.6 L2310.5,632.3 L2312.0,631.6 L2313.5,629.9 L2315.0,627.4 L2316.5,624.6 L2318.0,621.7 L2319.5,619.1 L2321.0,617.1 L2322.5,615.9 L2324.0,615.5 L2325.5,615.3 L2327.0,615.4 L2328.5,615.4 L2330.0,615.7 L2331.5,616.3 L2333.0,617.3 L2334.5,618.4 L2336.0,619.5 L2337.5,619.9 L2339.0,619.4 L2340.5,617.9 L2342.0,615.7 L2343.5,613.2 L2345.0,610.5 L2346.5,608.1 L2348.0,606.3 L2349.5,605.8 L2351.0,606.9 L2352.5,609.4 L2354.0,612.3 L2355.5,614.7 L2357.0,616.0 L2358.5,616.3 L2360.0,615.8 L2361.5,615.0 L2363.0,614.0 L2364.5,612.9 L2366.0,611.8 L2367.5,610.8 L2369.0,610.1 L2370.5,609.4 L2372.0,608.6 L2373.5,607.8 L2375.0,607.1 L2376.5,606.7 L2378.0,606.6 L2379.5,606.7 L2381.0,606.9 L2382.5,607.3 L2384.0,607.7 L2385.5,608.1 L2387.0,608.4 L2388.5,608.6 L2390.0,608.7 L2391.5,608.7 L2393.0,608.7 L2394.5,608.7 L2396.0,608.9 L2397.5,609.2 L2399.0,609.6 L2400.5,610.1 L2402.0,610.4 L2403.5,610.8 L2405.0,611.0 L2406.5,611.0 L2408.0,610.9 L2409.5,610.8 L2411.0,610.7 L2412.5,610.7 L2414.0,610.9 L2415.5,611.4 L2417.0,612.5 L2418.5,614.1 L2420.0,615.7 L2421.5,617.0 L2423.0,617.5 L2424.5,616.9 L2426.0,615.6 L2427.5,614.2 L2429.0,613.4 L2430.5,613.9 L2432.0,616.1 L2433.5,619.5 L2435.0,623.2 L2436.5,626.6 L2438.0,629.4 L2439.5,632.1 L2441.0,635.2 L2442.5,639.3 L2444.0,645.0 L2445.5,652.1 L2447.0,659.9 L2448.5,666.5 L2448.5,674.2 L2447.0,672.7 L2445.5,670.9 L2444.0,669.1 L2442.5,667.6 L2441.0,666.7 L2439.5,666.2 L2438.0,665.9 L2436.5,665.5 L2435.0,665.0 L2433.5,664.4 L2432.0,664.0 L2430.5,663.7 L2429.0,663.7 L2427.5,663.7 L2426.0,663.7 L2424.5,663.5 L2423.0,663.2 L2421.5,662.9 L2420.0,662.7 L2418.5,662.6 L2417.0,662.7 L2415.5,662.9 L2414.0,663.0 L2412.5,663.0 L2411.0,662.7 L2409.5,662.3 L2408.0,661.8 L2406.5,661.4 L2405.0,661.1 L2403.5,661.0 L2402.0,661.0 L2400.5,660.9 L2399.0,660.8 L2397.5,660.7 L2396.0,660.7 L2394.5,660.8 L2393.0,660.9 L2391.5,660.9 L2390.0,661.1 L2388.5,661.3 L2387.0,661.6 L2385.5,662.0 L2384.0,662.4 L2382.5,662.7 L2381.0,662.8 L2379.5,662.8 L2378.0,662.6 L2376.5,662.5 L2375.0,662.4 L2373.5,662.5 L2372.0,662.6 L2370.5,662.8 L2369.0,662.9 L2367.5,663.0 L2366.0,663.0 L2364.5,662.9 L2363.0,662.7 L2361.5,662.5 L2360.0,662.3 L2358.5,662.0 L2357.0,661.8 L2355.5,661.7 L2354.0,661.8 L2352.5,662.1 L2351.0,662.4 L2349.5,662.6 L2348.0,662.8 L2346.5,663.0 L2345.0,663.1 L2343.5,663.3 L2342.0,663.4 L2340.5,663.4 L2339.0,663.3 L2337.5,663.0 L2336.0,662.8 L2334.5,662.5 L2333.0,662.4 L2331.5,662.4 L2330.0,662.5 L2328.5,662.4 L2327.0,662.2 L2325.5,662.0 L2324.0,661.6 L2322.5,661.3 L2321.0,661.1 L2319.5,661.0 L2318.0,660.9 L2316.5,660.9 L2315.0,661.0 L2313.5,661.0 L2312.0,661.1 L2310.5,661.2 L2309.0,661.2 L2307.5,661.2 L2306.0,661.2 L2304.5,661.1 L2303.0,661.0 L2301.5,660.9 L2300.0,660.7 L2298.5,660.7 L2297.0,660.7 L2295.5,660.8 L2294.0,660.9 L2292.5,660.9 L2291.0,660.8 L2289.5,660.6 L2288.0,660.6 L2286.5,660.6 L2285.0,660.7 L2283.5,660.9 L2282.0,661.1 L2280.5,661.1 L2279.0,661.0 L2277.5,660.7 L2276.0,660.5 L2274.5,660.4 L2273.0,660.4 L2271.5,660.5 L2270.0,660.7 L2268.5,660.8 L2267.0,660.8 L2265.5,660.7 L2264.0,660.5 L2262.5,660.4 L2261.0,660.3 L2259.5,660.4 L2258.0,660.6 L2256.5,660.7 L2255.0,660.8 L2253.5,661.0 L2252.0,661.2 L2250.5,661.4 L2249.0,661.7 L2247.5,661.8 L2246.0,661.7 L2244.5,661.6 L2243.0,661.3 L2241.5,661.1 L2240.0,661.0 L2238.5,660.9 L2237.0,661.0 L2235.5,661.2 L2234.0,661.4 L2232.5,661.7 L2231.0,661.8 L2229.5,662.0 L2228.0,662.0 L2226.5,662.0 L2225.0,661.9 L2223.5,661.7 L2222.0,661.4 L2220.5,661.2 L2219.0,661.0 L2217.5,661.0 L2216.0,661.1 L2214.5,661.2 L2213.0,661.3 L2211.5,661.5 L2210.0,661.7 L2208.5,662.0 L2207.0,662.2 L2205.5,662.4 L2204.0,662.5 L2202.5,662.6 L2201.0,662.5 L2199.5,662.5 L2198.0,662.5 L2196.5,662.6 L2195.0,662.6 L2193.5,662.7 L2192.0,662.8 L2190.5,662.9 L2189.0,663.1 L2187.5,663.2 L2186.0,663.3 L2184.5,663.3 L2183.0,663.4 L2181.5,663.3 L2180.0,663.3 L2178.5,663.1 L2177.0,662.8 L2175.5,662.5 L2174.0,662.2 L2172.5,662.1 L2171.0,662.1 L2169.5,662.1 L2168.0,662.2 L2166.5,662.2 L2165.0,662.2 L2163.5,662.2 L2162.0,662.1 L2160.5,662.1 L2159.0,662.2 L2157.5,662.3 L2156.0,662.4 L2154.5,662.5 L2153.0,662.6 L2151.5,662.7 L2150.0,662.8 L2148.5,662.7 L2147.0,662.5 L2145.5,662.4 L2144.0,662.4 L2142.5,662.7 L2141.0,663.2 L2139.5,663.9 L2138.0,664.7 L2136.5,665.6 L2135.0,666.5 L2133.5,667.2 L2132.0,667.9 L2130.5,668.4 L2129.0,668.6 L2127.5,668.6 L2126.0,668.4 L2124.5,668.2 L2123.0,668.1 L2121.5,668.1 L2120.0,668.2 L2118.5,668.3 L2117.0,668.3 L2115.5,668.2 L2114.0,668.0 L2112.5,667.8 L2111.0,667.6 L2109.5,667.6 L2108.0,667.6 L2106.5,667.8 L2105.0,668.1 L2103.5,668.3 L2102.0,668.5 L2100.5,668.5 L2099.0,668.3 L2097.5,668.0 L2096.0,667.6 L2094.5,667.2 L2093.0,666.8 L2091.5,666.4 L2090.0,666.2 L2088.5,666.1 L2087.0,666.1 L2085.5,666.3 L2084.0,666.5 L2082.5,666.7 L2081.0,666.9 L2079.5,667.0 L2078.0,667.0 L2076.5,667.1 L2075.0,667.1 L2073.5,667.1 L2072.0,667.0 L2070.5,666.9 L2069.0,666.9 L2067.5,666.8 L2066.0,666.9 L2064.5,666.9 L2063.0,667.0 L2061.5,667.0 L2060.0,667.1 L2058.5,667.1 L2057.0,667.2 L2055.5,667.2 L2054.0,667.3 L2052.5,667.5 L2051.0,667.8 L2049.5,668.1 L2048.0,668.3 L2046.5,668.3 L2045.0,668.2 L2043.5,668.0 L2042.0,667.6 L2040.5,667.3 L2039.0,667.0 L2037.5,666.8 L2036.0,666.7 L2034.5,666.7 L2033.0,666.7 L2031.5,666.7 L2030.0,666.7 L2028.5,666.6 L2027.0,666.6 L2025.5,666.7 L2024.0,666.8 L2022.5,667.0 L2021.0,667.2 L2019.5,667.3 L2018.0,667.4 L2016.5,667.3 L2015.0,667.2 L2013.5,667.0 L2012.0,666.9 L2010.5,666.9 L2009.0,667.2 L2007.5,667.5 L2006.0,667.8 L2004.5,667.8 L2003.0,667.6 L2001.5,667.1 L2000.0,666.6 L1998.5,666.2 L1997.0,666.0 L1995.5,665.9 L1994.0,665.9 L1992.5,665.9 L1991.0,665.8 L1989.5,665.7 L1988.0,665.6 L1986.5,665.6 L1985.0,665.7 L1983.5,665.9 L1982.0,666.2 L1980.5,666.3 L1979.0,666.3 L1977.5,666.2 L1976.0,666.0 L1974.5,665.9 L1973.0,665.8 L1971.5,665.8 L1970.0,665.8 L1968.5,665.8 L1967.0,665.7 L1965.5,665.6 L1964.0,665.5 L1962.5,665.2 L1961.0,665.0 L1959.5,664.7 L1958.0,664.5 L1956.5,664.3 L1955.0,664.2 L1953.5,664.2 L1952.0,664.1 L1950.5,664.0 L1949.0,663.8 L1947.5,663.6 L1946.0,663.6 L1944.5,663.8 L1943.0,664.2 L1941.5,664.7 L1940.0,665.2 L1938.5,665.5 L1937.0,665.6 L1935.5,665.6 L1934.0,665.5 L1932.5,665.5 L1931.0,665.6 L1929.5,665.8 L1928.0,666.0 L1926.5,666.1 L1925.0,666.0 L1923.5,665.8 L1922.0,665.6 L1920.5,665.6 L1919.0,665.7 L1917.5,665.8 L1916.0,666.0 L1914.5,666.1 L1913.0,666.0 L1911.5,665.9 L1910.0,665.7 L1908.5,665.4 L1907.0,665.3 L1905.5,665.2 L1904.0,665.2 L1902.5,665.2 L1901.0,665.2 L1899.5,665.2 L1898.0,665.3 L1896.5,665.6 L1895.0,666.0 L1893.5,666.3 L1892.0,666.5 L1890.5,666.5 L1889.0,666.3 L1887.5,666.2 L1886.0,666.3 L1884.5,666.4 L1883.0,666.7 L1881.5,666.9 L1880.0,667.2 L1878.5,667.4 L1877.0,667.5 L1875.5,667.6 L1874.0,667.6 L1872.5,667.6 L1871.0,667.6 L1869.5,667.7 L1868.0,667.8 L1866.5,667.9 L1865.0,668.1 L1863.5,668.3 L1862.0,668.4 L1860.5,668.5 L1859.0,668.6 L1857.5,668.7 L1856.0,668.7 L1854.5,668.7 L1853.0,668.7 L1851.5,668.7 L1850.0,668.7 L1848.5,668.8 L1847.0,668.9 L1845.5,669.0 L1844.0,669.1 L1842.5,669.0 L1841.0,668.9 L1839.5,668.9 L1838.0,668.9 L1836.5,669.0 L1835.0,669.1 L1833.5,669.2 L1832.0,669.1 L1830.5,669.0 L1829.0,668.9 L1827.5,668.9 L1826.0,669.1 L1824.5,669.5 L1823.0,669.8 L1821.5,670.1 L1820.0,670.2 L1818.5,670.2 L1817.0,670.2 L1815.5,670.1 L1814.0,670.1 L1812.5,670.1 L1811.0,670.0 L1809.5,670.0 L1808.0,670.1 L1806.5,670.3 L1805.0,670.7 L1803.5,671.0 L1802.0,671.4 L1800.5,671.7 L1799.0,671.9 L1797.5,672.0 L1796.0,672.1 L1794.5,672.2 L1793.0,672.2 L1791.5,672.1 L1790.0,672.1 L1788.5,672.2 L1787.0,672.4 L1785.5,672.7 L1784.0,672.9 L1782.5,673.1 L1781.0,673.1 L1779.5,672.9 L1778.0,672.5 L1776.5,672.0 L1775.0,671.6 L1773.5,671.4 L1772.0,671.3 L1770.5,671.5 L1769.0,671.7 L1767.5,672.0 L1766.0,672.2 L1764.5,672.2 L1763.0,672.0 L1761.5,671.6 L1760.0,671.1 L1758.5,670.7 L1757.0,670.4 L1755.5,670.4 L1754.0,670.5 L1752.5,670.8 L1751.0,671.2 L1749.5,671.5 L1748.0,671.7 L1746.5,671.9 L1745.0,672.1 L1743.5,672.2 L1742.0,672.2 L1740.5,672.1 L1739.0,671.9 L1737.5,671.6 L1736.0,671.4 L1734.5,671.3 L1733.0,671.5 L1731.5,671.7 L1730.0,672.0 L1728.5,672.1 L1727.0,672.1 L1725.5,672.0 L1724.0,671.9 L1722.5,671.8 L1721.0,671.7 L1719.5,671.8 L1718.0,671.9 L1716.5,672.0 L1715.0,671.9 L1713.5,671.6 L1712.0,671.2 L1710.5,670.7 L1709.0,670.3 L1707.5,670.1 L1706.0,670.1 L1704.5,670.1 L1703.0,670.2 L1701.5,670.1 L1700.0,670.0 L1698.5,669.9 L1697.0,669.7 L1695.5,669.7 L1694.0,669.6 L1692.5,669.7 L1691.0,669.8 L1689.5,670.0 L1688.0,670.3 L1686.5,670.5 L1685.0,670.7 L1683.5,670.9 L1682.0,671.0 L1680.5,671.2 L1679.0,671.3 L1677.5,671.4 L1676.0,671.5 L1674.5,671.4 L1673.0,671.4 L1671.5,671.2 L1670.0,671.1 L1668.5,671.0 L1667.0,670.9 L1665.5,670.9 L1664.0,670.9 L1662.5,670.8 L1661.0,670.7 L1659.5,670.5 L1658.0,670.3 L1656.5,670.2 L1655.0,670.2 L1653.5,670.4 L1652.0,670.5 L1650.5,670.7 L1649.0,670.7 L1647.5,670.6 L1646.0,670.4 L1644.5,670.2 L1643.0,670.1 L1641.5,670.1 L1640.0,670.2 L1638.5,670.4 L1637.0,670.6 L1635.5,670.7 L1634.0,670.6 L1632.5,670.5 L1631.0,670.3 L1629.5,670.2 L1628.0,670.1 L1626.5,670.1 L1625.0,670.1 L1623.5,670.2 L1622.0,670.4 L1620.5,670.5 L1619.0,670.7 L1617.5,670.8 L1616.0,670.8 L1614.5,670.7 L1613.0,670.6 L1611.5,670.5 L1610.0,670.3 L1608.5,670.3 L1607.0,670.3 L1605.5,670.5 L1604.0,670.6 L1602.5,670.6 L1601.0,670.6 L1599.5,670.4 L1598.0,670.1 L1596.5,670.0 L1595.0,669.9 L1593.5,669.9 L1592.0,670.1 L1590.5,670.2 L1589.0,670.4 L1587.5,670.6 L1586.0,670.7 L1584.5,670.8 L1583.0,670.7 L1581.5,670.6 L1580.0,670.6 L1578.5,670.5 L1577.0,670.5 L1575.5,670.5 L1574.0,670.5 L1572.5,670.6 L1571.0,670.6 L1569.5,670.7 L1568.0,670.7 L1566.5,670.6 L1565.0,670.5 L1563.5,670.4 L1562.0,670.4 L1560.5,670.5 L1559.0,670.6 L1557.5,670.9 L1556.0,671.1 L1554.5,671.2 L1553.0,671.4 L1551.5,671.4 L1550.0,671.5 L1548.5,671.5 L1547.0,671.5 L1545.5,671.4 L1544.0,671.3 L1542.5,671.2 L1541.0,671.1 L1539.5,671.0 L1538.0,671.0 L1536.5,671.1 L1535.0,671.2 L1533.5,671.3 L1532.0,671.4 L1530.5,671.4 L1529.0,671.4 L1527.5,671.4 L1526.0,671.4 L1524.5,671.3 L1523.0,671.3 L1521.5,671.4 L1520.0,671.4 L1518.5,671.5 L1517.0,671.6 L1515.5,671.7 L1514.0,671.7 L1512.5,671.8 L1511.0,671.8 L1509.5,671.8 L1508.0,671.7 L1506.5,671.6 L1505.0,671.5 L1503.5,671.4 L1502.0,671.3 L1500.5,671.3 L1499.0,671.3 L1497.5,671.3 L1496.0,671.4 L1494.5,671.6 L1493.0,671.7 L1491.5,671.7 L1490.0,671.7 L1488.5,671.7 L1487.0,671.6 L1485.5,671.4 L1484.0,671.3 L1482.5,671.1 L1481.0,670.8 L1479.5,670.7 L1478.0,670.5 L1476.5,670.5 L1475.0,670.5 L1473.5,670.5 L1472.0,670.5 L1470.5,670.4 L1469.0,670.3 L1467.5,670.2 L1466.0,670.0 L1464.5,669.9 L1463.0,669.7 L1461.5,669.6 L1460.0,669.5 L1458.5,669.4 L1457.0,669.4 L1455.5,669.3 L1454.0,669.3 L1452.5,669.2 L1451.0,669.2 L1449.5,669.3 L1448.0,669.5 L1446.5,669.8 L1445.0,670.1 L1443.5,670.5 L1442.0,670.8 L1440.5,671.1 L1439.0,671.3 L1437.5,671.6 L1436.0,671.8 L1434.5,672.0 L1433.0,672.2 L1431.5,672.2 L1430.0,672.0 L1428.5,671.7 L1427.0,671.2 L1425.5,670.6 L1424.0,670.0 L1422.5,669.4 L1421.0,668.9 L1419.5,668.5 L1418.0,668.2 L1416.5,668.0 L1415.0,668.0 L1413.5,667.9 L1412.0,667.8 L1410.5,667.7 L1409.0,667.6 L1407.5,667.5 L1406.0,667.5 L1404.5,667.4 L1403.0,667.4 L1401.5,667.4 L1400.0,667.4 L1398.5,667.3 L1397.0,667.4 L1395.5,667.5 L1394.0,667.7 L1392.5,667.8 L1391.0,667.9 L1389.5,667.9 L1388.0,667.8 L1386.5,667.7 L1385.0,667.5 L1383.5,667.4 L1382.0,667.4 L1380.5,667.4 L1379.0,667.5 L1377.5,667.6 L1376.0,667.7 L1374.5,667.8 L1373.0,668.0 L1371.5,668.1 L1370.0,668.3 L1368.5,668.5 L1367.0,668.6 L1365.5,668.7 L1364.0,668.9 L1362.5,669.0 L1361.0,669.1 L1359.5,669.3 L1358.0,669.4 L1356.5,669.6 L1355.0,669.7 L1353.5,669.9 L1352.0,670.0 L1350.5,670.2 L1349.0,670.3 L1347.5,670.5 L1346.0,670.7 L1344.5,670.9 L1343.0,671.1 L1341.5,671.3 L1340.0,671.4 L1338.5,671.6 L1337.0,671.7 L1335.5,671.7 L1334.0,671.7 L1332.5,671.7 L1331.0,671.6 L1329.5,671.6 L1328.0,671.7 L1326.5,671.8 L1325.0,671.9 L1323.5,672.0 L1322.0,672.1 L1320.5,672.2 L1319.0,672.3 L1317.5,672.3 L1316.0,672.3 L1314.5,672.3 L1313.0,672.3 L1311.5,672.3 L1310.0,672.2 L1308.5,672.2 L1307.0,672.1 L1305.5,672.0 L1304.0,672.0 L1302.5,671.9 L1301.0,671.9 L1299.5,671.7 L1298.0,671.5 L1296.5,671.2 L1295.0,670.8 L1293.5,670.4 L1292.0,669.9 L1290.5,669.5 L1289.0,669.2 L1287.5,668.9 L1286.0,668.9 L1284.5,669.1 L1283.0,669.4 L1281.5,669.8 L1280.0,670.3 L1278.5,670.7 L1277.0,671.2 L1275.5,671.6 L1274.0,672.0 L1272.5,672.4 L1271.0,672.8 L1269.5,673.0 L1268.0,673.1 L1266.5,673.1 L1265.0,673.0 L1263.5,673.0 L1262.0,672.9 L1260.5,672.8 L1259.0,672.8 L1257.5,672.7 L1256.0,672.6 L1254.5,672.6 L1253.0,672.6 L1251.5,672.7 L1250.0,672.9 L1248.5,673.0 L1247.0,673.1 L1245.5,673.2 L1244.0,673.2 L1242.5,673.2 L1241.0,673.2 L1239.5,673.3 L1238.0,673.4 L1236.5,673.4 L1235.0,673.6 L1233.5,673.6 L1232.0,673.7 L1230.5,673.7 L1229.0,673.7 L1227.5,673.7 L1226.0,673.7 L1224.5,673.6 L1223.0,673.6 L1221.5,673.6 L1220.0,673.6 L1218.5,673.6 L1217.0,673.7 L1215.5,673.7 L1214.0,673.7 L1212.5,673.6 L1211.0,673.5 L1209.5,673.4 L1208.0,673.4 L1206.5,673.4 L1205.0,673.5 L1203.5,673.7 L1202.0,673.9 L1200.5,674.0 L1199.0,674.0 L1197.5,674.0 L1196.0,673.8 L1194.5,673.7 L1193.0,673.5 L1191.5,673.4 L1190.0,673.3 L1188.5,673.3 L1187.0,673.3 L1185.5,673.4 L1184.0,673.4 L1182.5,673.5 L1181.0,673.5 L1179.5,673.5 L1178.0,673.5 L1176.5,673.4 L1175.0,673.4 L1173.5,673.4 L1172.0,673.5 L1170.5,673.6 L1169.0,673.7 L1167.5,673.9 L1166.0,674.0 L1164.5,674.0 L1163.0,674.0 L1161.5,674.0 L1160.0,674.0 L1158.5,674.0 L1157.0,674.0 L1155.5,674.0 L1154.0,674.0 L1152.5,674.0 L1151.0,673.9 L1149.5,673.9 L1148.0,673.9 L1146.5,673.9 L1145.0,674.0 L1143.5,674.2 L1142.0,674.3 L1140.5,674.4 L1139.0,674.4 L1137.5,674.3 L1136.0,674.3 L1134.5,674.2 L1133.0,674.1 L1131.5,674.1 L1130.0,674.1 L1128.5,674.1 L1127.0,674.2 L1125.5,674.3 L1124.0,674.5 L1122.5,674.8 L1121.0,675.0 Z " fill="#5c3f17"/><path d="M1556.0,657.2 L1557.5,658.5 L1559.0,658.8 L1560.5,658.3 L1562.0,657.6 L1563.5,657.1 L1565.0,657.3 L1566.5,658.0 L1568.0,658.9 L1569.5,659.4 L1571.0,659.3 L1572.5,658.5 L1574.0,657.1 L1575.5,655.5 L1577.0,653.9 L1578.5,652.6 L1580.0,651.7 L1581.5,651.3 L1583.0,651.1 L1584.5,650.7 L1586.0,650.2 L1587.5,649.4 L1589.0,648.6 L1590.5,647.7 L1592.0,646.9 L1593.5,646.5 L1595.0,646.3 L1596.5,646.4 L1598.0,646.4 L1599.5,646.4 L1601.0,646.3 L1602.5,646.4 L1604.0,646.7 L1605.5,647.2 L1607.0,647.9 L1608.5,648.6 L1610.0,649.3 L1611.5,649.8 L1613.0,650.2 L1614.5,650.5 L1616.0,650.5 L1617.5,650.4 L1619.0,650.1 L1620.5,649.7 L1622.0,649.4 L1623.5,649.2 L1625.0,649.0 L1626.5,648.8 L1628.0,648.6 L1629.5,648.4 L1631.0,647.9 L1632.5,647.3 L1634.0,646.5 L1635.5,645.7 L1637.0,645.0 L1638.5,644.3 L1640.0,643.6 L1641.5,642.9 L1643.0,642.3 L1644.5,642.1 L1646.0,642.0 L1647.5,642.0 L1649.0,641.9 L1650.5,641.6 L1652.0,641.5 L1653.5,641.7 L1655.0,642.0 L1656.5,642.5 L1658.0,642.9 L1659.5,643.3 L1661.0,643.3 L1662.5,642.0 L1664.0,637.1 L1665.5,624.6 L1667.0,603.4 L1668.5,582.2 L1670.0,575.6 L1671.5,588.8 L1673.0,610.8 L1674.5,627.8 L1676.0,636.0 L1677.5,638.6 L1679.0,639.4 L1680.5,640.0 L1682.0,640.8 L1683.5,641.9 L1685.0,643.1 L1686.5,644.6 L1688.0,646.2 L1689.5,647.8 L1691.0,649.5 L1692.5,651.2 L1694.0,652.9 L1695.5,654.6 L1697.0,656.4 L1698.5,658.1 L1700.0,659.2 L1701.5,659.6 L1703.0,659.4 L1704.5,659.0 L1706.0,658.5 L1707.5,658.3 L1709.0,658.1 L1710.5,658.1 L1712.0,658.2 L1713.5,658.4 L1715.0,658.6 L1716.5,658.9 L1718.0,659.0 L1719.5,658.7 L1721.0,657.6 L1722.5,654.2 L1724.0,645.1 L1725.5,626.4 L1727.0,601.0 L1728.5,583.0 L1730.0,585.7 L1731.5,606.1 L1733.0,628.1 L1734.5,641.2 L1736.0,645.8 L1737.5,646.3 L1739.0,645.2 L1740.5,643.4 L1742.0,641.0 L1743.5,638.5 L1745.0,636.1 L1746.5,634.1 L1748.0,632.3 L1749.5,630.5 L1751.0,628.7 L1752.5,627.1 L1754.0,626.5 L1755.5,627.0 L1757.0,628.4 L1758.5,629.8 L1760.0,630.2 L1761.5,629.1 L1763.0,626.5 L1764.5,623.0 L1766.0,619.4 L1767.5,616.9 L1769.0,616.3 L1770.5,617.9 L1772.0,620.4 L1773.5,622.5 L1775.0,622.8 L1776.5,621.3 L1778.0,618.7 L1779.5,616.0 L1781.0,614.0 L1782.5,612.9 L1784.0,613.0 L1785.5,613.8 L1787.0,614.8 L1788.5,615.9 L1790.0,616.7 L1791.5,617.4 L1793.0,618.2 L1794.5,619.3 L1796.0,620.7 L1797.5,622.1 L1799.0,623.5 L1800.5,624.4 L1802.0,624.5 L1803.5,623.6 L1805.0,622.0 L1806.5,620.1 L1808.0,618.9 L1809.5,618.8 L1811.0,620.1 L1812.5,622.2 L1814.0,624.2 L1815.5,625.4 L1817.0,625.5 L1818.5,624.9 L1820.0,624.4 L1821.5,624.3 L1823.0,624.8 L1824.5,625.6 L1826.0,625.6 L1827.5,622.6 L1829.0,613.2 L1830.5,594.4 L1832.0,567.1 L1833.5,538.5 L1835.0,519.4 L1836.5,518.2 L1838.0,535.4 L1839.5,563.2 L1841.0,590.9 L1842.5,611.0 L1844.0,622.6 L1845.5,628.6 L1847.0,632.2 L1848.5,635.2 L1850.0,637.8 L1851.5,640.0 L1853.0,641.4 L1854.5,641.6 L1856.0,640.7 L1857.5,639.0 L1859.0,637.0 L1860.5,635.3 L1862.0,634.4 L1863.5,634.5 L1865.0,635.3 L1866.5,636.0 L1868.0,636.2 L1869.5,635.6 L1871.0,634.3 L1872.5,632.4 L1874.0,630.4 L1875.5,628.7 L1877.0,627.7 L1878.5,627.4 L1880.0,627.7 L1881.5,628.1 L1883.0,628.4 L1884.5,628.3 L1886.0,627.4 L1887.5,625.4 L1889.0,621.9 L1890.5,617.2 L1892.0,612.4 L1893.5,608.9 L1895.0,607.5 L1896.5,607.7 L1898.0,608.4 L1899.5,608.6 L1901.0,607.6 L1902.5,605.4 L1904.0,602.7 L1905.5,600.3 L1907.0,599.0 L1908.5,599.0 L1910.0,599.6 L1911.5,600.2 L1913.0,599.9 L1914.5,598.6 L1916.0,596.5 L1917.5,594.0 L1919.0,591.9 L1920.5,591.1 L1922.0,592.1 L1923.5,595.1 L1925.0,599.0 L1926.5,601.7 L1928.0,599.1 L1929.5,586.2 L1931.0,563.5 L1932.5,542.8 L1934.0,540.0 L1935.5,557.2 L1937.0,580.3 L1938.5,595.7 L1940.0,601.3 L1941.5,601.2 L1943.0,599.0 L1944.5,596.3 L1946.0,593.6 L1947.5,590.9 L1949.0,588.4 L1950.5,586.3 L1952.0,584.9 L1953.5,584.4 L1955.0,584.5 L1956.5,585.2 L1958.0,586.0 L1959.5,586.7 L1961.0,587.3 L1962.5,587.8 L1964.0,588.1 L1965.5,588.1 L1967.0,587.8 L1968.5,587.2 L1970.0,586.7 L1971.5,586.3 L1973.0,586.2 L1974.5,586.1 L1976.0,586.3 L1977.5,587.0 L1979.0,588.7 L1980.5,591.7 L1982.0,595.6 L1983.5,599.7 L1985.0,603.2 L1986.5,605.9 L1988.0,607.6 L1989.5,608.8 L1991.0,609.7 L1992.5,610.8 L1994.0,612.4 L1995.5,614.5 L1997.0,616.9 L1998.5,618.9 L2000.0,620.2 L2001.5,620.6 L2003.0,620.3 L2004.5,619.5 L2006.0,618.7 L2007.5,617.9 L2009.0,617.6 L2010.5,618.0 L2012.0,619.0 L2013.5,620.3 L2015.0,621.5 L2016.5,622.1 L2018.0,621.7 L2019.5,620.3 L2021.0,617.9 L2022.5,615.2 L2024.0,612.8 L2025.5,611.1 L2027.0,610.0 L2028.5,609.3 L2030.0,608.9 L2031.5,608.4 L2033.0,606.3 L2034.5,599.0 L2036.0,581.9 L2037.5,556.7 L2039.0,537.2 L2040.5,539.5 L2042.0,562.9 L2043.5,590.6 L2045.0,609.3 L2046.5,617.6 L2048.0,620.0 L2049.5,620.1 L2051.0,619.5 L2052.5,619.1 L2054.0,619.3 L2055.5,620.6 L2057.0,622.9 L2058.5,626.0 L2060.0,629.4 L2061.5,632.7 L2063.0,635.3 L2064.5,637.0 L2066.0,637.9 L2067.5,638.3 L2069.0,638.6 L2070.5,638.9 L2072.0,639.2 L2073.5,639.6 L2075.0,640.1 L2076.5,640.5 L2078.0,640.8 L2079.5,640.5 L2081.0,639.2 L2082.5,637.0 L2084.0,634.7 L2085.5,633.0 L2087.0,632.3 L2088.5,632.4 L2090.0,633.0 L2091.5,633.6 L2093.0,634.0 L2094.5,634.2 L2096.0,634.2 L2097.5,634.2 L2099.0,634.4 L2100.5,634.6 L2102.0,634.9 L2103.5,635.2 L2105.0,635.4 L2106.5,635.5 L2108.0,635.4 L2109.5,635.2 L2111.0,634.8 L2112.5,634.4 L2114.0,633.9 L2115.5,633.5 L2117.0,633.3 L2118.5,633.4 L2120.0,633.8 L2121.5,634.7 L2123.0,635.8 L2124.5,636.9 L2126.0,637.7 L2127.5,638.3 L2129.0,638.6 L2130.5,638.9 L2132.0,639.2 L2133.5,639.5 L2135.0,639.6 L2136.5,639.1 L2138.0,637.8 L2139.5,635.6 L2141.0,632.6 L2142.5,629.6 L2144.0,627.2 L2145.5,625.6 L2147.0,624.9 L2148.5,624.8 L2150.0,624.9 L2151.5,624.9 L2153.0,624.9 L2154.5,624.9 L2156.0,625.1 L2157.5,625.6 L2159.0,626.4 L2160.5,627.2 L2162.0,628.0 L2163.5,628.3 L2165.0,626.8 L2166.5,620.5 L2168.0,605.5 L2169.5,583.0 L2171.0,564.6 L2172.5,564.8 L2174.0,584.2 L2175.5,608.2 L2177.0,624.4 L2178.5,630.8 L2180.0,631.1 L2181.5,629.0 L2183.0,626.5 L2184.5,624.9 L2186.0,624.8 L2187.5,626.0 L2189.0,627.8 L2190.5,629.6 L2192.0,630.7 L2193.5,630.9 L2195.0,630.2 L2196.5,628.5 L2198.0,624.8 L2199.5,616.4 L2201.0,600.6 L2202.5,579.2 L2204.0,561.4 L2205.5,558.3 L2207.0,571.2 L2208.5,590.2 L2210.0,604.9 L2211.5,612.3 L2213.0,615.1 L2214.5,616.0 L2216.0,616.5 L2217.5,616.9 L2219.0,617.1 L2220.5,617.3 L2222.0,617.4 L2223.5,617.7 L2225.0,618.3 L2226.5,619.3 L2228.0,620.6 L2229.5,622.1 L2231.0,623.6 L2232.5,624.9 L2234.0,626.0 L2235.5,626.5 L2237.0,626.3 L2238.5,625.2 L2240.0,623.2 L2241.5,620.7 L2243.0,618.5 L2244.5,617.1 L2246.0,617.0 L2247.5,618.1 L2249.0,619.6 L2250.5,621.2 L2252.0,622.4 L2253.5,623.5 L2255.0,624.2 L2256.5,624.5 L2258.0,624.2 L2259.5,623.5 L2261.0,622.4 L2262.5,621.2 L2264.0,619.8 L2265.5,618.1 L2267.0,616.4 L2268.5,614.7 L2270.0,613.3 L2271.5,612.3 L2273.0,611.7 L2274.5,611.5 L2276.0,611.9 L2277.5,613.3 L2279.0,615.5 L2280.5,618.2 L2282.0,620.8 L2283.5,622.5 L2285.0,623.0 L2286.5,622.5 L2288.0,621.5 L2289.5,620.5 L2291.0,619.8 L2292.5,619.6 L2294.0,619.5 L2295.5,619.3 L2297.0,619.2 L2298.5,619.1 L2300.0,619.5 L2301.5,620.7 L2303.0,622.5 L2304.5,624.8 L2306.0,627.4 L2307.5,629.8 L2309.0,631.6 L2310.5,632.3 L2312.0,631.6 L2313.5,629.9 L2315.0,627.4 L2316.5,624.6 L2318.0,621.7 L2319.5,619.1 L2321.0,617.1 L2322.5,615.9 L2324.0,615.5 L2325.5,615.3 L2327.0,615.4 L2328.5,615.4 L2330.0,615.7 L2331.5,616.3 L2333.0,617.3 L2334.5,618.4 L2336.0,619.5 L2337.5,619.9 L2339.0,619.4 L2340.5,617.9 L2342.0,615.7 L2343.5,613.2 L2345.0,610.5 L2346.5,608.1 L2348.0,606.3 L2349.5,605.8 L2351.0,606.9 L2352.5,609.4 L2354.0,612.3 L2355.5,614.7 L2357.0,616.0 L2358.5,616.3 L2360.0,615.8 L2361.5,615.0 L2363.0,614.0 L2364.5,612.9 L2366.0,611.8 L2367.5,610.8 L2369.0,610.1 L2370.5,609.4 L2372.0,608.6 L2373.5,607.8 L2375.0,607.1 L2376.5,606.7 L2378.0,606.6 L2379.5,606.7 L2381.0,606.9 L2382.5,607.3 L2384.0,607.7 L2385.5,608.1 L2387.0,608.4 L2388.5,608.6 L2390.0,608.7 L2391.5,608.7 L2393.0,608.7 L2394.5,608.7 L2396.0,608.9 L2397.5,609.2 L2399.0,609.6 L2400.5,610.1 L2402.0,610.4 L2403.5,610.8 L2405.0,611.0 L2406.5,611.0 L2408.0,610.9 L2409.5,610.8 L2411.0,610.7 L2412.5,610.7 L2414.0,610.9 L2415.5,611.4 L2417.0,612.5 L2418.5,614.1 L2420.0,615.7 L2421.5,617.0 L2423.0,617.5 L2424.5,616.9 L2426.0,615.6 L2427.5,614.2 L2429.0,613.4 L2430.5,613.9 L2432.0,616.1 L2433.5,619.5 L2435.0,623.2 L2436.5,626.6 L2438.0,629.4 L2439.5,632.1 L2441.0,635.2 L2442.5,639.3 L2444.0,645.0 L2445.5,652.1 L2447.0,659.9 L2448.5,666.5 L2448.5,668.0 L2447.0,661.4 L2445.5,653.6 L2444.0,646.5 L2442.5,642.3 L2441.0,639.7 L2439.5,638.3 L2438.0,637.6 L2436.5,636.7 L2435.0,635.4 L2433.5,633.7 L2432.0,632.1 L2430.5,631.4 L2429.0,631.8 L2427.5,633.1 L2426.0,634.5 L2424.5,635.4 L2423.0,635.5 L2421.5,634.9 L2420.0,634.2 L2418.5,633.8 L2417.0,634.0 L2415.5,634.7 L2414.0,635.5 L2412.5,636.2 L2411.0,636.3 L2409.5,635.7 L2408.0,634.3 L2406.5,632.3 L2405.0,630.1 L2403.5,628.0 L2402.0,626.5 L2400.5,625.8 L2399.0,625.6 L2397.5,626.0 L2396.0,626.7 L2394.5,627.6 L2393.0,628.5 L2391.5,629.2 L2390.0,629.7 L2388.5,629.9 L2387.0,629.6 L2385.5,629.2 L2384.0,628.6 L2382.5,628.1 L2381.0,627.7 L2379.5,627.6 L2378.0,627.5 L2376.5,627.6 L2375.0,627.8 L2373.5,628.2 L2372.0,628.5 L2370.5,628.8 L2369.0,629.1 L2367.5,629.7 L2366.0,630.5 L2364.5,631.2 L2363.0,631.9 L2361.5,632.5 L2360.0,632.9 L2358.5,633.2 L2357.0,633.1 L2355.5,632.2 L2354.0,630.5 L2352.5,628.2 L2351.0,626.0 L2349.5,624.6 L2348.0,624.6 L2346.5,625.9 L2345.0,628.2 L2343.5,630.9 L2342.0,633.7 L2340.5,636.4 L2339.0,638.9 L2337.5,640.9 L2336.0,641.9 L2334.5,641.7 L2333.0,640.5 L2331.5,638.8 L2330.0,636.9 L2328.5,635.0 L2327.0,633.1 L2325.5,631.7 L2324.0,631.2 L2322.5,631.9 L2321.0,633.5 L2319.5,635.6 L2318.0,637.9 L2316.5,640.1 L2315.0,642.2 L2313.5,644.0 L2312.0,645.4 L2310.5,646.2 L2309.0,646.3 L2307.5,645.8 L2306.0,645.1 L2304.5,644.1 L2303.0,642.9 L2301.5,641.7 L2300.0,640.8 L2298.5,640.4 L2297.0,640.3 L2295.5,640.5 L2294.0,640.9 L2292.5,641.3 L2291.0,641.8 L2289.5,642.3 L2288.0,642.5 L2286.5,642.2 L2285.0,641.2 L2283.5,639.5 L2282.0,637.5 L2280.5,635.6 L2279.0,634.1 L2277.5,632.9 L2276.0,631.9 L2274.5,631.1 L2273.0,630.5 L2271.5,630.5 L2270.0,631.2 L2268.5,632.6 L2267.0,634.6 L2265.5,636.6 L2264.0,638.3 L2262.5,639.7 L2261.0,640.7 L2259.5,641.5 L2258.0,641.9 L2256.5,641.9 L2255.0,641.4 L2253.5,640.7 L2252.0,639.8 L2250.5,638.7 L2249.0,637.3 L2247.5,635.9 L2246.0,634.9 L2244.5,634.9 L2243.0,636.1 L2241.5,638.2 L2240.0,640.6 L2238.5,642.4 L2237.0,643.3 L2235.5,642.8 L2234.0,641.4 L2232.5,639.4 L2231.0,637.6 L2229.5,636.3 L2228.0,635.6 L2226.5,635.5 L2225.0,635.8 L2223.5,636.1 L2222.0,636.3 L2220.5,636.1 L2219.0,635.6 L2217.5,635.0 L2216.0,634.4 L2214.5,633.8 L2213.0,632.9 L2211.5,630.3 L2210.0,622.9 L2208.5,608.0 L2207.0,588.6 L2205.5,575.2 L2204.0,577.7 L2202.5,595.1 L2201.0,616.3 L2199.5,632.0 L2198.0,640.4 L2196.5,644.3 L2195.0,646.1 L2193.5,646.6 L2192.0,646.0 L2190.5,644.6 L2189.0,642.8 L2187.5,641.3 L2186.0,640.8 L2184.5,641.2 L2183.0,642.4 L2181.5,643.9 L2180.0,644.8 L2178.5,643.7 L2177.0,637.4 L2175.5,622.0 L2174.0,599.1 L2172.5,580.9 L2171.0,581.6 L2169.5,600.7 L2168.0,623.7 L2166.5,638.8 L2165.0,645.3 L2163.5,647.0 L2162.0,647.1 L2160.5,646.7 L2159.0,646.0 L2157.5,644.9 L2156.0,643.7 L2154.5,642.4 L2153.0,641.3 L2151.5,640.3 L2150.0,639.5 L2148.5,638.9 L2147.0,638.8 L2145.5,639.8 L2144.0,641.8 L2142.5,644.4 L2141.0,647.2 L2139.5,649.3 L2138.0,650.3 L2136.5,650.4 L2135.0,649.9 L2133.5,649.0 L2132.0,648.1 L2130.5,647.2 L2129.0,646.3 L2127.5,645.3 L2126.0,644.5 L2124.5,643.8 L2123.0,643.3 L2121.5,643.2 L2120.0,643.6 L2118.5,644.6 L2117.0,645.7 L2115.5,646.7 L2114.0,647.2 L2112.5,647.0 L2111.0,646.1 L2109.5,645.0 L2108.0,644.1 L2106.5,643.8 L2105.0,643.9 L2103.5,644.2 L2102.0,644.6 L2100.5,645.0 L2099.0,645.2 L2097.5,645.5 L2096.0,645.9 L2094.5,646.5 L2093.0,647.1 L2091.5,647.4 L2090.0,647.3 L2088.5,646.5 L2087.0,645.2 L2085.5,643.7 L2084.0,642.8 L2082.5,643.2 L2081.0,645.2 L2079.5,647.9 L2078.0,650.4 L2076.5,651.8 L2075.0,652.3 L2073.5,652.3 L2072.0,651.9 L2070.5,651.1 L2069.0,650.0 L2067.5,648.7 L2066.0,647.4 L2064.5,646.0 L2063.0,644.5 L2061.5,643.0 L2060.0,641.5 L2058.5,640.3 L2057.0,639.1 L2055.5,638.2 L2054.0,637.5 L2052.5,637.2 L2051.0,637.0 L2049.5,636.8 L2048.0,636.4 L2046.5,635.6 L2045.0,634.4 L2043.5,632.9 L2042.0,631.4 L2040.5,630.1 L2039.0,629.2 L2037.5,628.7 L2036.0,628.4 L2034.5,628.2 L2033.0,628.3 L2031.5,628.6 L2030.0,629.3 L2028.5,630.1 L2027.0,631.0 L2025.5,631.8 L2024.0,632.5 L2022.5,633.2 L2021.0,633.9 L2019.5,634.4 L2018.0,634.7 L2016.5,634.8 L2015.0,634.6 L2013.5,634.3 L2012.0,633.7 L2010.5,633.1 L2009.0,632.6 L2007.5,632.4 L2006.0,632.7 L2004.5,633.2 L2003.0,633.8 L2001.5,634.3 L2000.0,634.3 L1998.5,633.6 L1997.0,632.2 L1995.5,630.4 L1994.0,628.9 L1992.5,628.0 L1991.0,627.7 L1989.5,627.6 L1988.0,627.2 L1986.5,626.0 L1985.0,624.1 L1983.5,621.7 L1982.0,619.4 L1980.5,617.8 L1979.0,617.1 L1977.5,616.9 L1976.0,617.1 L1974.5,617.3 L1973.0,617.7 L1971.5,618.3 L1970.0,618.9 L1968.5,619.3 L1967.0,619.4 L1965.5,619.3 L1964.0,619.1 L1962.5,618.8 L1961.0,618.6 L1959.5,618.7 L1958.0,619.3 L1956.5,620.1 L1955.0,620.9 L1953.5,621.6 L1952.0,622.3 L1950.5,623.0 L1949.0,623.9 L1947.5,624.9 L1946.0,625.8 L1944.5,626.7 L1943.0,627.5 L1941.5,628.3 L1940.0,628.3 L1938.5,624.8 L1937.0,612.7 L1935.5,591.0 L1934.0,572.5 L1932.5,574.7 L1931.0,595.0 L1929.5,614.7 L1928.0,623.4 L1926.5,623.9 L1925.0,621.5 L1923.5,618.8 L1922.0,616.9 L1920.5,616.2 L1919.0,616.5 L1917.5,617.4 L1916.0,618.5 L1914.5,619.5 L1913.0,620.5 L1911.5,621.7 L1910.0,623.1 L1908.5,624.5 L1907.0,625.8 L1905.5,626.7 L1904.0,627.3 L1902.5,627.8 L1901.0,628.3 L1899.5,628.9 L1898.0,629.5 L1896.5,630.2 L1895.0,630.8 L1893.5,631.4 L1892.0,632.2 L1890.5,633.3 L1889.0,634.8 L1887.5,636.7 L1886.0,638.6 L1884.5,640.2 L1883.0,641.3 L1881.5,641.8 L1880.0,641.9 L1878.5,641.7 L1877.0,641.6 L1875.5,642.1 L1874.0,643.2 L1872.5,645.0 L1871.0,647.2 L1869.5,649.0 L1868.0,650.1 L1866.5,650.3 L1865.0,650.0 L1863.5,649.7 L1862.0,649.8 L1860.5,650.5 L1859.0,651.4 L1857.5,652.4 L1856.0,653.4 L1854.5,654.0 L1853.0,653.9 L1851.5,653.0 L1850.0,651.6 L1848.5,649.7 L1847.0,647.7 L1845.5,645.7 L1844.0,643.9 L1842.5,642.3 L1841.0,640.8 L1839.5,639.5 L1838.0,638.4 L1836.5,637.7 L1835.0,637.8 L1833.5,638.7 L1832.0,640.0 L1830.5,641.5 L1829.0,642.7 L1827.5,643.4 L1826.0,643.4 L1824.5,643.1 L1823.0,642.7 L1821.5,642.7 L1820.0,643.2 L1818.5,643.9 L1817.0,644.5 L1815.5,644.5 L1814.0,643.6 L1812.5,642.2 L1811.0,640.9 L1809.5,640.2 L1808.0,640.2 L1806.5,640.4 L1805.0,640.6 L1803.5,640.4 L1802.0,639.9 L1800.5,638.9 L1799.0,637.5 L1797.5,636.2 L1796.0,635.3 L1794.5,635.5 L1793.0,636.9 L1791.5,639.2 L1790.0,641.6 L1788.5,643.3 L1787.0,644.0 L1785.5,643.8 L1784.0,643.1 L1782.5,642.0 L1781.0,641.1 L1779.5,640.3 L1778.0,639.8 L1776.5,639.7 L1775.0,640.1 L1773.5,640.6 L1772.0,641.3 L1770.5,642.1 L1769.0,643.0 L1767.5,644.0 L1766.0,645.1 L1764.5,646.2 L1763.0,647.4 L1761.5,648.4 L1760.0,649.3 L1758.5,649.9 L1757.0,650.3 L1755.5,650.7 L1754.0,651.1 L1752.5,651.6 L1751.0,652.2 L1749.5,652.5 L1748.0,652.6 L1746.5,652.4 L1745.0,652.3 L1743.5,652.5 L1742.0,652.9 L1740.5,653.4 L1739.0,653.8 L1737.5,654.2 L1736.0,654.5 L1734.5,655.0 L1733.0,655.6 L1731.5,656.3 L1730.0,656.9 L1728.5,657.5 L1727.0,658.1 L1725.5,658.8 L1724.0,659.7 L1722.5,660.7 L1721.0,661.7 L1719.5,662.6 L1718.0,663.3 L1716.5,663.8 L1715.0,664.3 L1713.5,664.5 L1712.0,664.6 L1710.5,664.6 L1709.0,664.6 L1707.5,664.8 L1706.0,665.1 L1704.5,665.3 L1703.0,665.4 L1701.5,665.3 L1700.0,664.9 L1698.5,664.1 L1697.0,663.1 L1695.5,662.0 L1694.0,661.0 L1692.5,660.1 L1691.0,659.1 L1689.5,658.2 L1688.0,657.5 L1686.5,656.9 L1685.0,656.3 L1683.5,655.6 L1682.0,654.8 L1680.5,653.9 L1679.0,653.2 L1677.5,652.6 L1676.0,651.7 L1674.5,649.1 L1673.0,642.7 L1671.5,633.4 L1670.0,627.2 L1668.5,629.9 L1667.0,638.6 L1665.5,646.5 L1664.0,650.3 L1662.5,651.4 L1661.0,651.6 L1659.5,651.7 L1658.0,652.0 L1656.5,652.3 L1655.0,652.7 L1653.5,653.1 L1652.0,653.8 L1650.5,654.7 L1649.0,655.6 L1647.5,656.3 L1646.0,656.6 L1644.5,656.4 L1643.0,655.5 L1641.5,654.2 L1640.0,652.8 L1638.5,651.4 L1637.0,650.5 L1635.5,650.1 L1634.0,650.1 L1632.5,650.5 L1631.0,651.0 L1629.5,651.6 L1628.0,652.2 L1626.5,652.8 L1625.0,653.2 L1623.5,653.5 L1622.0,653.6 L1620.5,653.5 L1619.0,653.3 L1617.5,653.2 L1616.0,653.5 L1614.5,654.2 L1613.0,655.1 L1611.5,656.0 L1610.0,656.6 L1608.5,656.8 L1607.0,656.6 L1605.5,656.3 L1604.0,656.1 L1602.5,656.1 L1601.0,656.2 L1599.5,656.3 L1598.0,656.1 L1596.5,655.6 L1595.0,655.1 L1593.5,654.7 L1592.0,654.7 L1590.5,655.2 L1589.0,656.4 L1587.5,658.1 L1586.0,660.2 L1584.5,662.1 L1583.0,663.6 L1581.5,664.4 L1580.0,664.7 L1578.5,664.6 L1577.0,664.2 L1575.5,663.8 L1574.0,663.5 L1572.5,663.2 L1571.0,662.9 L1569.5,662.6 L1568.0,662.5 L1566.5,662.5 L1565.0,662.7 L1563.5,663.1 L1562.0,663.5 L1560.5,663.9 L1559.0,664.2 L1557.5,664.4 L1556.0,664.3 Z " fill="#08576e"/><path d="M1121.0,660.8 L1122.5,660.1 L1124.0,659.2 L1125.5,658.3 L1127.0,657.6 L1128.5,657.0 L1130.0,656.5 L1131.5,656.0 L1133.0,655.7 L1134.5,655.6 L1136.0,655.9 L1137.5,656.4 L1139.0,657.0 L1140.5,657.6 L1142.0,658.3 L1143.5,659.0 L1145.0,659.7 L1146.5,660.4 L1148.0,661.2 L1149.5,662.1 L1151.0,663.3 L1152.5,664.4 L1154.0,664.8 L1155.5,664.1 L1157.0,662.4 L1158.5,660.3 L1160.0,658.6 L1161.5,657.7 L1163.0,657.6 L1164.5,657.9 L1166.0,658.4 L1167.5,659.0 L1169.0,659.6 L1170.5,660.4 L1172.0,661.5 L1173.5,662.8 L1175.0,663.0 L1176.5,661.5 L1178.0,660.3 L1179.5,659.9 L1181.0,659.8 L1182.5,659.8 L1184.0,659.7 L1185.5,659.7 L1187.0,659.7 L1188.5,659.6 L1190.0,659.6 L1191.5,659.7 L1193.0,659.9 L1194.5,660.3 L1196.0,661.0 L1197.5,661.8 L1199.0,663.5 L1200.5,664.9 L1202.0,664.9 L1203.5,663.9 L1205.0,662.5 L1206.5,661.4 L1208.0,661.1 L1209.5,661.5 L1211.0,661.9 L1212.5,662.1 L1214.0,661.9 L1215.5,661.6 L1217.0,661.2 L1218.5,660.7 L1220.0,660.1 L1221.5,659.7 L1223.0,659.5 L1224.5,659.4 L1226.0,659.4 L1227.5,659.4 L1229.0,659.5 L1230.5,659.4 L1232.0,659.5 L1233.5,659.6 L1235.0,659.7 L1236.5,659.9 L1238.0,660.1 L1239.5,660.3 L1241.0,660.5 L1242.5,660.7 L1244.0,660.9 L1245.5,661.2 L1247.0,661.5 L1248.5,661.9 L1250.0,662.4 L1251.5,663.1 L1253.0,663.8 L1254.5,664.5 L1256.0,665.1 L1257.5,665.5 L1259.0,665.7 L1260.5,665.5 L1262.0,664.9 L1263.5,664.1 L1265.0,663.2 L1266.5,662.3 L1268.0,661.6 L1269.5,660.9 L1271.0,660.3 L1272.5,659.7 L1274.0,659.2 L1275.5,658.8 L1277.0,658.6 L1278.5,658.6 L1280.0,658.7 L1281.5,658.9 L1283.0,659.1 L1284.5,659.2 L1286.0,659.1 L1287.5,658.7 L1289.0,658.1 L1290.5,657.4 L1292.0,656.8 L1293.5,656.6 L1295.0,656.9 L1296.5,657.2 L1298.0,657.6 L1299.5,658.2 L1301.0,658.9 L1302.5,659.5 L1304.0,660.2 L1305.5,660.8 L1307.0,661.3 L1308.5,661.8 L1310.0,662.2 L1311.5,662.5 L1313.0,662.8 L1314.5,663.0 L1316.0,663.2 L1317.5,663.5 L1319.0,663.8 L1320.5,664.8 L1322.0,666.1 L1323.5,666.4 L1325.0,665.7 L1326.5,664.6 L1328.0,663.5 L1329.5,662.4 L1331.0,661.3 L1332.5,660.3 L1334.0,659.3 L1335.5,658.3 L1337.0,657.5 L1338.5,657.1 L1340.0,657.3 L1341.5,657.7 L1343.0,658.3 L1344.5,658.9 L1346.0,659.4 L1347.5,659.9 L1349.0,660.4 L1350.5,660.9 L1352.0,661.6 L1353.5,662.2 L1355.0,662.8 L1356.5,663.4 L1358.0,663.9 L1359.5,664.4 L1361.0,664.8 L1362.5,665.0 L1364.0,664.9 L1365.5,664.6 L1367.0,664.2 L1368.5,663.7 L1370.0,663.0 L1371.5,662.2 L1373.0,661.4 L1374.5,660.4 L1376.0,659.6 L1377.5,658.9 L1379.0,658.5 L1380.5,658.5 L1382.0,658.8 L1383.5,659.1 L1385.0,659.5 L1386.5,659.8 L1388.0,660.1 L1389.5,660.5 L1391.0,660.9 L1392.5,661.3 L1394.0,661.6 L1395.5,661.9 L1397.0,662.2 L1398.5,662.5 L1400.0,662.8 L1401.5,663.2 L1403.0,663.4 L1404.5,663.2 L1406.0,662.4 L1407.5,661.2 L1409.0,659.9 L1410.5,658.6 L1412.0,657.5 L1413.5,656.4 L1415.0,655.4 L1416.5,654.7 L1418.0,654.5 L1419.5,655.1 L1421.0,656.3 L1422.5,657.7 L1424.0,659.2 L1425.5,660.6 L1427.0,661.9 L1428.5,663.2 L1430.0,664.1 L1431.5,664.3 L1433.0,663.3 L1434.5,661.7 L1436.0,659.9 L1437.5,658.5 L1439.0,657.8 L1440.5,657.7 L1442.0,658.1 L1443.5,658.5 L1445.0,659.0 L1446.5,659.6 L1448.0,660.1 L1449.5,660.5 L1451.0,660.8 L1452.5,661.1 L1454.0,661.3 L1455.5,661.6 L1457.0,661.9 L1458.5,662.1 L1460.0,662.2 L1461.5,662.3 L1463.0,662.5 L1464.5,662.6 L1466.0,662.7 L1467.5,662.8 L1469.0,662.8 L1470.5,662.9 L1472.0,663.0 L1473.5,663.1 L1475.0,663.3 L1476.5,663.6 L1478.0,663.9 L1479.5,664.1 L1481.0,664.3 L1482.5,664.3 L1484.0,664.2 L1485.5,664.1 L1487.0,664.0 L1488.5,663.9 L1490.0,663.9 L1491.5,664.0 L1493.0,664.0 L1494.5,664.0 L1496.0,664.0 L1497.5,664.0 L1499.0,664.0 L1500.5,664.0 L1502.0,663.8 L1503.5,663.7 L1505.0,663.5 L1506.5,663.4 L1508.0,663.5 L1509.5,663.5 L1511.0,663.5 L1512.5,663.4 L1514.0,663.2 L1515.5,663.0 L1517.0,662.8 L1518.5,662.6 L1520.0,662.5 L1521.5,662.6 L1523.0,662.6 L1524.5,662.6 L1526.0,662.6 L1527.5,662.5 L1529.0,662.5 L1530.5,662.4 L1532.0,662.4 L1533.5,662.4 L1535.0,662.4 L1536.5,662.4 L1538.0,662.4 L1539.5,662.5 L1541.0,662.7 L1542.5,662.9 L1544.0,663.2 L1545.5,663.4 L1547.0,663.7 L1548.5,663.9 L1550.0,664.0 L1551.5,664.8 L1553.0,665.8 L1554.5,666.4 L1556.0,666.8 L1557.5,666.9 L1559.0,666.7 L1560.5,666.4 L1562.0,666.0 L1563.5,665.6 L1565.0,665.2 L1566.5,665.0 L1568.0,665.0 L1569.5,665.1 L1571.0,665.4 L1572.5,665.7 L1574.0,666.0 L1575.5,666.3 L1577.0,666.7 L1578.5,667.1 L1580.0,667.2 L1581.5,666.9 L1583.0,666.1 L1584.5,665.4 L1586.0,665.3 L1587.5,665.2 L1589.0,665.0 L1590.5,664.9 L1592.0,664.9 L1593.5,665.1 L1595.0,665.4 L1596.5,665.8 L1598.0,666.3 L1599.5,666.7 L1601.0,667.0 L1602.5,667.2 L1604.0,667.4 L1605.5,667.7 L1607.0,668.0 L1608.5,668.3 L1610.0,668.2 L1611.5,667.9 L1613.0,667.4 L1614.5,666.8 L1616.0,666.2 L1617.5,665.7 L1619.0,665.4 L1620.5,665.2 L1622.0,665.1 L1623.5,665.1 L1625.0,664.9 L1626.5,664.6 L1628.0,664.2 L1629.5,663.8 L1631.0,663.3 L1632.5,662.8 L1634.0,662.4 L1635.5,662.1 L1637.0,661.8 L1638.5,661.7 L1640.0,661.6 L1641.5,661.6 L1643.0,661.7 L1644.5,661.8 L1646.0,662.0 L1647.5,662.1 L1649.0,662.1 L1650.5,662.0 L1652.0,661.9 L1653.5,661.9 L1655.0,661.8 L1656.5,661.9 L1658.0,662.0 L1659.5,662.1 L1661.0,662.2 L1662.5,662.4 L1664.0,662.6 L1665.5,662.8 L1667.0,663.0 L1668.5,663.2 L1670.0,663.3 L1671.5,663.5 L1673.0,663.7 L1674.5,663.9 L1676.0,664.2 L1677.5,664.5 L1679.0,664.9 L1680.5,665.4 L1682.0,665.9 L1683.5,666.4 L1685.0,666.8 L1686.5,667.2 L1688.0,667.5 L1689.5,667.7 L1691.0,667.8 L1692.5,667.7 L1694.0,667.6 L1695.5,667.7 L1697.0,667.7 L1698.5,667.9 L1700.0,668.0 L1701.5,668.1 L1703.0,668.2 L1704.5,668.1 L1706.0,668.1 L1707.5,668.1 L1709.0,668.3 L1710.5,668.2 L1712.0,667.9 L1713.5,667.6 L1715.0,667.3 L1716.5,666.9 L1718.0,666.6 L1719.5,666.2 L1721.0,665.7 L1722.5,665.2 L1724.0,664.7 L1725.5,664.2 L1727.0,663.8 L1728.5,663.6 L1730.0,663.6 L1731.5,663.7 L1733.0,663.8 L1734.5,664.0 L1736.0,664.2 L1737.5,664.4 L1739.0,664.5 L1740.5,664.7 L1742.0,664.7 L1743.5,664.9 L1745.0,665.0 L1746.5,665.3 L1748.0,665.6 L1749.5,665.9 L1751.0,666.2 L1752.5,666.6 L1754.0,666.9 L1755.5,667.3 L1757.0,667.7 L1758.5,667.9 L1760.0,668.0 L1761.5,667.7 L1763.0,666.9 L1764.5,665.9 L1766.0,664.7 L1767.5,663.6 L1769.0,662.6 L1770.5,661.7 L1772.0,660.9 L1773.5,660.2 L1775.0,659.4 L1776.5,658.5 L1778.0,657.6 L1779.5,656.6 L1781.0,655.6 L1782.5,654.8 L1784.0,654.1 L1785.5,653.5 L1787.0,652.9 L1788.5,652.5 L1790.0,652.4 L1791.5,652.8 L1793.0,653.5 L1794.5,654.4 L1796.0,655.3 L1797.5,656.1 L1799.0,656.8 L1800.5,657.5 L1802.0,658.1 L1803.5,658.8 L1805.0,659.4 L1806.5,660.0 L1808.0,660.4 L1809.5,660.7 L1811.0,660.9 L1812.5,660.9 L1814.0,660.8 L1815.5,660.6 L1817.0,660.4 L1818.5,660.3 L1820.0,660.2 L1821.5,660.0 L1823.0,659.8 L1824.5,659.5 L1826.0,659.2 L1827.5,658.8 L1829.0,658.4 L1830.5,658.1 L1832.0,658.1 L1833.5,658.2 L1835.0,658.5 L1836.5,658.9 L1838.0,659.3 L1839.5,659.8 L1841.0,660.3 L1842.5,660.8 L1844.0,661.4 L1845.5,662.0 L1847.0,662.5 L1848.5,663.1 L1850.0,663.6 L1851.5,664.0 L1853.0,664.2 L1854.5,664.2 L1856.0,663.9 L1857.5,663.5 L1859.0,662.9 L1860.5,662.3 L1862.0,661.7 L1863.5,661.0 L1865.0,660.4 L1866.5,659.7 L1868.0,659.1 L1869.5,658.6 L1871.0,658.1 L1872.5,657.5 L1874.0,657.0 L1875.5,656.6 L1877.0,656.2 L1878.5,655.8 L1880.0,655.5 L1881.5,655.1 L1883.0,654.7 L1884.5,654.3 L1886.0,653.9 L1887.5,653.6 L1889.0,653.5 L1890.5,653.4 L1892.0,653.5 L1893.5,653.6 L1895.0,653.7 L1896.5,653.7 L1898.0,653.7 L1899.5,653.6 L1901.0,653.6 L1902.5,653.6 L1904.0,653.7 L1905.5,653.6 L1907.0,653.3 L1908.5,652.6 L1910.0,651.6 L1911.5,650.4 L1913.0,649.3 L1914.5,648.2 L1916.0,647.1 L1917.5,646.1 L1919.0,645.2 L1920.5,644.8 L1922.0,645.3 L1923.5,646.9 L1925.0,649.1 L1926.5,651.0 L1928.0,650.4 L1929.5,643.7 L1931.0,629.6 L1932.5,615.3 L1934.0,613.4 L1935.5,625.7 L1937.0,640.6 L1938.5,649.0 L1940.0,651.6 L1941.5,651.7 L1943.0,651.2 L1944.5,650.7 L1946.0,650.3 L1947.5,649.8 L1949.0,649.4 L1950.5,649.0 L1952.0,648.7 L1953.5,648.5 L1955.0,648.2 L1956.5,648.0 L1958.0,647.8 L1959.5,647.6 L1961.0,647.5 L1962.5,647.5 L1964.0,647.6 L1965.5,647.6 L1967.0,647.7 L1968.5,647.7 L1970.0,647.7 L1971.5,647.6 L1973.0,647.6 L1974.5,647.6 L1976.0,647.5 L1977.5,647.5 L1979.0,647.5 L1980.5,647.6 L1982.0,647.8 L1983.5,648.1 L1985.0,648.6 L1986.5,649.1 L1988.0,649.6 L1989.5,650.2 L1991.0,650.8 L1992.5,651.3 L1994.0,651.8 L1995.5,652.2 L1997.0,652.6 L1998.5,652.9 L2000.0,653.2 L2001.5,653.5 L2003.0,653.8 L2004.5,654.1 L2006.0,654.4 L2007.5,654.8 L2009.0,655.1 L2010.5,655.2 L2012.0,655.2 L2013.5,654.9 L2015.0,654.5 L2016.5,654.0 L2018.0,653.5 L2019.5,653.1 L2021.0,652.6 L2022.5,652.2 L2024.0,651.9 L2025.5,651.6 L2027.0,651.4 L2028.5,651.2 L2030.0,651.2 L2031.5,651.1 L2033.0,651.0 L2034.5,650.9 L2036.0,650.7 L2037.5,650.6 L2039.0,650.4 L2040.5,650.3 L2042.0,650.2 L2043.5,650.2 L2045.0,650.2 L2046.5,650.3 L2048.0,650.3 L2049.5,650.4 L2051.0,650.6 L2052.5,650.8 L2054.0,651.2 L2055.5,651.8 L2057.0,652.5 L2058.5,653.2 L2060.0,654.0 L2061.5,654.7 L2063.0,655.4 L2064.5,656.1 L2066.0,656.7 L2067.5,657.4 L2069.0,657.9 L2070.5,658.2 L2072.0,657.9 L2073.5,657.1 L2075.0,656.0 L2076.5,654.8 L2078.0,653.6 L2079.5,652.4 L2081.0,651.3 L2082.5,650.3 L2084.0,649.5 L2085.5,649.1 L2087.0,649.1 L2088.5,649.2 L2090.0,649.8 L2091.5,649.9 L2093.0,649.6 L2094.5,649.4 L2096.0,649.3 L2097.5,649.4 L2099.0,649.5 L2100.5,649.6 L2102.0,649.8 L2103.5,650.0 L2105.0,650.1 L2106.5,650.3 L2108.0,650.4 L2109.5,650.6 L2111.0,650.7 L2112.5,650.8 L2114.0,650.9 L2115.5,650.8 L2117.0,650.6 L2118.5,650.4 L2120.0,650.2 L2121.5,650.0 L2123.0,650.0 L2124.5,650.4 L2126.0,651.1 L2127.5,652.0 L2129.0,653.1 L2130.5,654.2 L2132.0,655.3 L2133.5,656.5 L2135.0,657.5 L2136.5,658.1 L2138.0,657.9 L2139.5,656.6 L2141.0,654.5 L2142.5,652.1 L2144.0,649.9 L2145.5,648.2 L2147.0,647.5 L2148.5,647.7 L2150.0,648.5 L2151.5,649.3 L2153.0,650.3 L2154.5,651.3 L2156.0,652.4 L2157.5,653.4 L2159.0,654.1 L2160.5,654.3 L2162.0,654.2 L2163.5,653.8 L2165.0,653.4 L2166.5,652.8 L2168.0,652.2 L2169.5,651.6 L2171.0,651.3 L2172.5,651.8 L2174.0,653.3 L2175.5,655.2 L2177.0,656.5 L2178.5,656.6 L2180.0,655.3 L2181.5,653.3 L2183.0,651.5 L2184.5,650.6 L2186.0,651.0 L2187.5,652.4 L2189.0,654.1 L2190.5,655.7 L2192.0,656.7 L2193.5,656.7 L2195.0,656.0 L2196.5,654.8 L2198.0,653.5 L2199.5,652.1 L2201.0,650.8 L2202.5,649.6 L2204.0,648.8 L2205.5,648.3 L2207.0,648.2 L2208.5,648.2 L2210.0,648.1 L2211.5,648.1 L2213.0,648.1 L2214.5,648.1 L2216.0,648.1 L2217.5,648.2 L2219.0,648.2 L2220.5,648.2 L2222.0,648.1 L2223.5,647.9 L2225.0,647.6 L2226.5,647.4 L2228.0,647.2 L2229.5,647.4 L2231.0,648.1 L2232.5,649.3 L2234.0,650.8 L2235.5,652.1 L2237.0,652.6 L2238.5,651.8 L2240.0,649.9 L2241.5,647.4 L2243.0,645.1 L2244.5,643.8 L2246.0,643.6 L2247.5,644.2 L2249.0,645.1 L2250.5,646.0 L2252.0,646.9 L2253.5,647.7 L2255.0,648.5 L2256.5,649.1 L2258.0,649.4 L2259.5,649.2 L2261.0,648.5 L2262.5,647.4 L2264.0,646.2 L2265.5,644.8 L2267.0,643.5 L2268.5,642.3 L2270.0,641.7 L2271.5,641.7 L2273.0,642.6 L2274.5,643.8 L2276.0,645.3 L2277.5,646.7 L2279.0,648.1 L2280.5,649.3 L2282.0,650.2 L2283.5,650.8 L2285.0,651.0 L2286.5,650.8 L2288.0,650.6 L2289.5,650.3 L2291.0,650.1 L2292.5,649.9 L2294.0,649.8 L2295.5,649.6 L2297.0,649.7 L2298.5,649.9 L2300.0,650.4 L2301.5,651.1 L2303.0,651.9 L2304.5,652.8 L2306.0,653.6 L2307.5,654.4 L2309.0,654.9 L2310.5,654.9 L2312.0,654.2 L2313.5,653.0 L2315.0,651.6 L2316.5,650.0 L2318.0,648.4 L2319.5,646.8 L2321.0,645.4 L2322.5,644.3 L2324.0,643.8 L2325.5,644.0 L2327.0,644.7 L2328.5,645.6 L2330.0,646.6 L2331.5,647.7 L2333.0,648.9 L2334.5,649.9 L2336.0,650.6 L2337.5,650.7 L2339.0,650.0 L2340.5,648.8 L2342.0,647.4 L2343.5,646.0 L2345.0,644.6 L2346.5,643.4 L2348.0,642.3 L2349.5,641.6 L2351.0,641.4 L2352.5,641.7 L2354.0,642.4 L2355.5,643.1 L2357.0,643.7 L2358.5,644.2 L2360.0,644.8 L2361.5,645.3 L2363.0,645.8 L2364.5,646.3 L2366.0,646.5 L2367.5,646.5 L2369.0,646.2 L2370.5,645.9 L2372.0,645.6 L2373.5,645.2 L2375.0,644.8 L2376.5,644.3 L2378.0,643.9 L2379.5,643.6 L2381.0,643.2 L2382.5,642.9 L2384.0,642.6 L2385.5,642.3 L2387.0,641.9 L2388.5,641.4 L2390.0,640.9 L2391.5,640.4 L2393.0,639.9 L2394.5,639.7 L2396.0,639.9 L2397.5,640.7 L2399.0,642.2 L2400.5,644.1 L2402.0,646.1 L2403.5,647.9 L2405.0,649.4 L2406.5,650.2 L2408.0,650.3 L2409.5,649.9 L2411.0,649.3 L2412.5,648.8 L2414.0,648.2 L2415.5,647.8 L2417.0,647.3 L2418.5,646.9 L2420.0,646.5 L2421.5,646.1 L2423.0,645.6 L2424.5,645.2 L2426.0,644.7 L2427.5,644.1 L2429.0,643.7 L2430.5,643.6 L2432.0,643.8 L2433.5,644.4 L2435.0,645.1 L2436.5,645.8 L2438.0,646.5 L2439.5,647.4 L2441.0,648.9 L2442.5,651.7 L2444.0,656.1 L2445.5,661.6 L2447.0,667.3 L2448.5,671.6 L2448.5,674.2 L2447.0,672.7 L2445.5,670.9 L2444.0,669.1 L2442.5,667.6 L2441.0,666.7 L2439.5,666.2 L2438.0,665.9 L2436.5,665.5 L2435.0,665.0 L2433.5,664.4 L2432.0,664.0 L2430.5,663.7 L2429.0,663.7 L2427.5,663.7 L2426.0,663.7 L2424.5,663.5 L2423.0,663.2 L2421.5,662.9 L2420.0,662.7 L2418.5,662.6 L2417.0,662.7 L2415.5,662.9 L2414.0,663.0 L2412.5,663.0 L2411.0,662.7 L2409.5,662.3 L2408.0,661.8 L2406.5,661.4 L2405.0,661.1 L2403.5,661.0 L2402.0,661.0 L2400.5,660.9 L2399.0,660.8 L2397.5,660.7 L2396.0,660.7 L2394.5,660.8 L2393.0,660.9 L2391.5,660.9 L2390.0,661.1 L2388.5,661.3 L2387.0,661.6 L2385.5,662.0 L2384.0,662.4 L2382.5,662.7 L2381.0,662.8 L2379.5,662.8 L2378.0,662.6 L2376.5,662.5 L2375.0,662.4 L2373.5,662.5 L2372.0,662.6 L2370.5,662.8 L2369.0,662.9 L2367.5,663.0 L2366.0,663.0 L2364.5,662.9 L2363.0,662.7 L2361.5,662.5 L2360.0,662.3 L2358.5,662.0 L2357.0,661.8 L2355.5,661.7 L2354.0,661.8 L2352.5,662.1 L2351.0,662.4 L2349.5,662.6 L2348.0,662.8 L2346.5,663.0 L2345.0,663.1 L2343.5,663.3 L2342.0,663.4 L2340.5,663.4 L2339.0,663.3 L2337.5,663.0 L2336.0,662.8 L2334.5,662.5 L2333.0,662.4 L2331.5,662.4 L2330.0,662.5 L2328.5,662.4 L2327.0,662.2 L2325.5,662.0 L2324.0,661.6 L2322.5,661.3 L2321.0,661.1 L2319.5,661.0 L2318.0,660.9 L2316.5,660.9 L2315.0,661.0 L2313.5,661.0 L2312.0,661.1 L2310.5,661.2 L2309.0,661.2 L2307.5,661.2 L2306.0,661.2 L2304.5,661.1 L2303.0,661.0 L2301.5,660.9 L2300.0,660.7 L2298.5,660.7 L2297.0,660.7 L2295.5,660.8 L2294.0,660.9 L2292.5,660.9 L2291.0,660.8 L2289.5,660.6 L2288.0,660.6 L2286.5,660.6 L2285.0,660.7 L2283.5,660.9 L2282.0,661.1 L2280.5,661.1 L2279.0,661.0 L2277.5,660.7 L2276.0,660.5 L2274.5,660.4 L2273.0,660.4 L2271.5,660.5 L2270.0,660.7 L2268.5,660.8 L2267.0,660.8 L2265.5,660.7 L2264.0,660.5 L2262.5,660.4 L2261.0,660.3 L2259.5,660.4 L2258.0,660.6 L2256.5,660.7 L2255.0,660.8 L2253.5,661.0 L2252.0,661.2 L2250.5,661.4 L2249.0,661.7 L2247.5,661.8 L2246.0,661.7 L2244.5,661.6 L2243.0,661.3 L2241.5,661.1 L2240.0,661.0 L2238.5,660.9 L2237.0,661.0 L2235.5,661.2 L2234.0,661.4 L2232.5,661.7 L2231.0,661.8 L2229.5,662.0 L2228.0,662.0 L2226.5,662.0 L2225.0,661.9 L2223.5,661.7 L2222.0,661.4 L2220.5,661.2 L2219.0,661.0 L2217.5,661.0 L2216.0,661.1 L2214.5,661.2 L2213.0,661.3 L2211.5,661.5 L2210.0,661.7 L2208.5,662.0 L2207.0,662.2 L2205.5,662.4 L2204.0,662.5 L2202.5,662.6 L2201.0,662.5 L2199.5,662.5 L2198.0,662.5 L2196.5,662.6 L2195.0,662.6 L2193.5,662.7 L2192.0,662.8 L2190.5,662.9 L2189.0,663.1 L2187.5,663.2 L2186.0,663.3 L2184.5,663.3 L2183.0,663.4 L2181.5,663.3 L2180.0,663.3 L2178.5,663.1 L2177.0,662.8 L2175.5,662.5 L2174.0,662.2 L2172.5,662.1 L2171.0,662.1 L2169.5,662.1 L2168.0,662.2 L2166.5,662.2 L2165.0,662.2 L2163.5,662.2 L2162.0,662.1 L2160.5,662.1 L2159.0,662.2 L2157.5,662.3 L2156.0,662.4 L2154.5,662.5 L2153.0,662.6 L2151.5,662.7 L2150.0,662.8 L2148.5,662.7 L2147.0,662.5 L2145.5,662.4 L2144.0,662.4 L2142.5,662.7 L2141.0,663.2 L2139.5,663.9 L2138.0,664.7 L2136.5,665.6 L2135.0,666.5 L2133.5,667.2 L2132.0,667.9 L2130.5,668.4 L2129.0,668.6 L2127.5,668.6 L2126.0,668.4 L2124.5,668.2 L2123.0,668.1 L2121.5,668.1 L2120.0,668.2 L2118.5,668.3 L2117.0,668.3 L2115.5,668.2 L2114.0,668.0 L2112.5,667.8 L2111.0,667.6 L2109.5,667.6 L2108.0,667.6 L2106.5,667.8 L2105.0,668.1 L2103.5,668.3 L2102.0,668.5 L2100.5,668.5 L2099.0,668.3 L2097.5,668.0 L2096.0,667.6 L2094.5,667.2 L2093.0,666.8 L2091.5,666.4 L2090.0,666.2 L2088.5,666.1 L2087.0,666.1 L2085.5,666.3 L2084.0,666.5 L2082.5,666.7 L2081.0,666.9 L2079.5,667.0 L2078.0,667.0 L2076.5,667.1 L2075.0,667.1 L2073.5,667.1 L2072.0,667.0 L2070.5,666.9 L2069.0,666.9 L2067.5,666.8 L2066.0,666.9 L2064.5,666.9 L2063.0,667.0 L2061.5,667.0 L2060.0,667.1 L2058.5,667.1 L2057.0,667.2 L2055.5,667.2 L2054.0,667.3 L2052.5,667.5 L2051.0,667.8 L2049.5,668.1 L2048.0,668.3 L2046.5,668.3 L2045.0,668.2 L2043.5,668.0 L2042.0,667.6 L2040.5,667.3 L2039.0,667.0 L2037.5,666.8 L2036.0,666.7 L2034.5,666.7 L2033.0,666.7 L2031.5,666.7 L2030.0,666.7 L2028.5,666.6 L2027.0,666.6 L2025.5,666.7 L2024.0,666.8 L2022.5,667.0 L2021.0,667.2 L2019.5,667.3 L2018.0,667.4 L2016.5,667.3 L2015.0,667.2 L2013.5,667.0 L2012.0,666.9 L2010.5,666.9 L2009.0,667.2 L2007.5,667.5 L2006.0,667.8 L2004.5,667.8 L2003.0,667.6 L2001.5,667.1 L2000.0,666.6 L1998.5,666.2 L1997.0,666.0 L1995.5,665.9 L1994.0,665.9 L1992.5,665.9 L1991.0,665.8 L1989.5,665.7 L1988.0,665.6 L1986.5,665.6 L1985.0,665.7 L1983.5,665.9 L1982.0,666.2 L1980.5,666.3 L1979.0,666.3 L1977.5,666.2 L1976.0,666.0 L1974.5,665.9 L1973.0,665.8 L1971.5,665.8 L1970.0,665.8 L1968.5,665.8 L1967.0,665.7 L1965.5,665.6 L1964.0,665.5 L1962.5,665.2 L1961.0,665.0 L1959.5,664.7 L1958.0,664.5 L1956.5,664.3 L1955.0,664.2 L1953.5,664.2 L1952.0,664.1 L1950.5,664.0 L1949.0,663.8 L1947.5,663.6 L1946.0,663.6 L1944.5,663.8 L1943.0,664.2 L1941.5,664.7 L1940.0,665.2 L1938.5,665.5 L1937.0,665.6 L1935.5,665.6 L1934.0,665.5 L1932.5,665.5 L1931.0,665.6 L1929.5,665.8 L1928.0,666.0 L1926.5,666.1 L1925.0,666.0 L1923.5,665.8 L1922.0,665.6 L1920.5,665.6 L1919.0,665.7 L1917.5,665.8 L1916.0,666.0 L1914.5,666.1 L1913.0,666.0 L1911.5,665.9 L1910.0,665.7 L1908.5,665.4 L1907.0,665.3 L1905.5,665.2 L1904.0,665.2 L1902.5,665.2 L1901.0,665.2 L1899.5,665.2 L1898.0,665.3 L1896.5,665.6 L1895.0,666.0 L1893.5,666.3 L1892.0,666.5 L1890.5,666.5 L1889.0,666.3 L1887.5,666.2 L1886.0,666.3 L1884.5,666.4 L1883.0,666.7 L1881.5,666.9 L1880.0,667.2 L1878.5,667.4 L1877.0,667.5 L1875.5,667.6 L1874.0,667.6 L1872.5,667.6 L1871.0,667.6 L1869.5,667.7 L1868.0,667.8 L1866.5,667.9 L1865.0,668.1 L1863.5,668.3 L1862.0,668.4 L1860.5,668.5 L1859.0,668.6 L1857.5,668.7 L1856.0,668.7 L1854.5,668.7 L1853.0,668.7 L1851.5,668.7 L1850.0,668.7 L1848.5,668.8 L1847.0,668.9 L1845.5,669.0 L1844.0,669.1 L1842.5,669.0 L1841.0,668.9 L1839.5,668.9 L1838.0,668.9 L1836.5,669.0 L1835.0,669.1 L1833.5,669.2 L1832.0,669.1 L1830.5,669.0 L1829.0,668.9 L1827.5,668.9 L1826.0,669.1 L1824.5,669.5 L1823.0,669.8 L1821.5,670.1 L1820.0,670.2 L1818.5,670.2 L1817.0,670.2 L1815.5,670.1 L1814.0,670.1 L1812.5,670.1 L1811.0,670.0 L1809.5,670.0 L1808.0,670.1 L1806.5,670.3 L1805.0,670.7 L1803.5,671.0 L1802.0,671.4 L1800.5,671.7 L1799.0,671.9 L1797.5,672.0 L1796.0,672.1 L1794.5,672.2 L1793.0,672.2 L1791.5,672.1 L1790.0,672.1 L1788.5,672.2 L1787.0,672.4 L1785.5,672.7 L1784.0,672.9 L1782.5,673.1 L1781.0,673.1 L1779.5,672.9 L1778.0,672.5 L1776.5,672.0 L1775.0,671.6 L1773.5,671.4 L1772.0,671.3 L1770.5,671.5 L1769.0,671.7 L1767.5,672.0 L1766.0,672.2 L1764.5,672.2 L1763.0,672.0 L1761.5,671.6 L1760.0,671.1 L1758.5,670.7 L1757.0,670.4 L1755.5,670.4 L1754.0,670.5 L1752.5,670.8 L1751.0,671.2 L1749.5,671.5 L1748.0,671.7 L1746.5,671.9 L1745.0,672.1 L1743.5,672.2 L1742.0,672.2 L1740.5,672.1 L1739.0,671.9 L1737.5,671.6 L1736.0,671.4 L1734.5,671.3 L1733.0,671.5 L1731.5,671.7 L1730.0,672.0 L1728.5,672.1 L1727.0,672.1 L1725.5,672.0 L1724.0,671.9 L1722.5,671.8 L1721.0,671.7 L1719.5,671.8 L1718.0,671.9 L1716.5,672.0 L1715.0,671.9 L1713.5,671.6 L1712.0,671.2 L1710.5,670.7 L1709.0,670.3 L1707.5,670.1 L1706.0,670.1 L1704.5,670.1 L1703.0,670.2 L1701.5,670.1 L1700.0,670.0 L1698.5,669.9 L1697.0,669.7 L1695.5,669.7 L1694.0,669.6 L1692.5,669.7 L1691.0,669.8 L1689.5,670.0 L1688.0,670.3 L1686.5,670.5 L1685.0,670.7 L1683.5,670.9 L1682.0,671.0 L1680.5,671.2 L1679.0,671.3 L1677.5,671.4 L1676.0,671.5 L1674.5,671.4 L1673.0,671.4 L1671.5,671.2 L1670.0,671.1 L1668.5,671.0 L1667.0,670.9 L1665.5,670.9 L1664.0,670.9 L1662.5,670.8 L1661.0,670.7 L1659.5,670.5 L1658.0,670.3 L1656.5,670.2 L1655.0,670.2 L1653.5,670.4 L1652.0,670.5 L1650.5,670.7 L1649.0,670.7 L1647.5,670.6 L1646.0,670.4 L1644.5,670.2 L1643.0,670.1 L1641.5,670.1 L1640.0,670.2 L1638.5,670.4 L1637.0,670.6 L1635.5,670.7 L1634.0,670.6 L1632.5,670.5 L1631.0,670.3 L1629.5,670.2 L1628.0,670.1 L1626.5,670.1 L1625.0,670.1 L1623.5,670.2 L1622.0,670.4 L1620.5,670.5 L1619.0,670.7 L1617.5,670.8 L1616.0,670.8 L1614.5,670.7 L1613.0,670.6 L1611.5,670.5 L1610.0,670.3 L1608.5,670.3 L1607.0,670.3 L1605.5,670.5 L1604.0,670.6 L1602.5,670.6 L1601.0,670.6 L1599.5,670.4 L1598.0,670.1 L1596.5,670.0 L1595.0,669.9 L1593.5,669.9 L1592.0,670.1 L1590.5,670.2 L1589.0,670.4 L1587.5,670.6 L1586.0,670.7 L1584.5,670.8 L1583.0,670.7 L1581.5,670.6 L1580.0,670.6 L1578.5,670.5 L1577.0,670.5 L1575.5,670.5 L1574.0,670.5 L1572.5,670.6 L1571.0,670.6 L1569.5,670.7 L1568.0,670.7 L1566.5,670.6 L1565.0,670.5 L1563.5,670.4 L1562.0,670.4 L1560.5,670.5 L1559.0,670.6 L1557.5,670.9 L1556.0,671.1 L1554.5,671.2 L1553.0,671.4 L1551.5,671.4 L1550.0,671.5 L1548.5,671.5 L1547.0,671.5 L1545.5,671.4 L1544.0,671.3 L1542.5,671.2 L1541.0,671.1 L1539.5,671.0 L1538.0,671.0 L1536.5,671.1 L1535.0,671.2 L1533.5,671.3 L1532.0,671.4 L1530.5,671.4 L1529.0,671.4 L1527.5,671.4 L1526.0,671.4 L1524.5,671.3 L1523.0,671.3 L1521.5,671.4 L1520.0,671.4 L1518.5,671.5 L1517.0,671.6 L1515.5,671.7 L1514.0,671.7 L1512.5,671.8 L1511.0,671.8 L1509.5,671.8 L1508.0,671.7 L1506.5,671.6 L1505.0,671.5 L1503.5,671.4 L1502.0,671.3 L1500.5,671.3 L1499.0,671.3 L1497.5,671.3 L1496.0,671.4 L1494.5,671.6 L1493.0,671.7 L1491.5,671.7 L1490.0,671.7 L1488.5,671.7 L1487.0,671.6 L1485.5,671.4 L1484.0,671.3 L1482.5,671.1 L1481.0,670.8 L1479.5,670.7 L1478.0,670.5 L1476.5,670.5 L1475.0,670.5 L1473.5,670.5 L1472.0,670.5 L1470.5,670.4 L1469.0,670.3 L1467.5,670.2 L1466.0,670.0 L1464.5,669.9 L1463.0,669.7 L1461.5,669.6 L1460.0,669.5 L1458.5,669.4 L1457.0,669.4 L1455.5,669.3 L1454.0,669.3 L1452.5,669.2 L1451.0,669.2 L1449.5,669.3 L1448.0,669.5 L1446.5,669.8 L1445.0,670.1 L1443.5,670.5 L1442.0,670.8 L1440.5,671.1 L1439.0,671.3 L1437.5,671.6 L1436.0,671.8 L1434.5,672.0 L1433.0,672.2 L1431.5,672.2 L1430.0,672.0 L1428.5,671.7 L1427.0,671.2 L1425.5,670.6 L1424.0,670.0 L1422.5,669.4 L1421.0,668.9 L1419.5,668.5 L1418.0,668.2 L1416.5,668.0 L1415.0,668.0 L1413.5,667.9 L1412.0,667.8 L1410.5,667.7 L1409.0,667.6 L1407.5,667.5 L1406.0,667.5 L1404.5,667.4 L1403.0,667.4 L1401.5,667.4 L1400.0,667.4 L1398.5,667.3 L1397.0,667.4 L1395.5,667.5 L1394.0,667.7 L1392.5,667.8 L1391.0,667.9 L1389.5,667.9 L1388.0,667.8 L1386.5,667.7 L1385.0,667.5 L1383.5,667.4 L1382.0,667.4 L1380.5,667.4 L1379.0,667.5 L1377.5,667.6 L1376.0,667.7 L1374.5,667.8 L1373.0,668.0 L1371.5,668.1 L1370.0,668.3 L1368.5,668.5 L1367.0,668.6 L1365.5,668.7 L1364.0,668.9 L1362.5,669.0 L1361.0,669.1 L1359.5,669.3 L1358.0,669.4 L1356.5,669.6 L1355.0,669.7 L1353.5,669.9 L1352.0,670.0 L1350.5,670.2 L1349.0,670.3 L1347.5,670.5 L1346.0,670.7 L1344.5,670.9 L1343.0,671.1 L1341.5,671.3 L1340.0,671.4 L1338.5,671.6 L1337.0,671.7 L1335.5,671.7 L1334.0,671.7 L1332.5,671.7 L1331.0,671.6 L1329.5,671.6 L1328.0,671.7 L1326.5,671.8 L1325.0,671.9 L1323.5,672.0 L1322.0,672.1 L1320.5,672.2 L1319.0,672.3 L1317.5,672.3 L1316.0,672.3 L1314.5,672.3 L1313.0,672.3 L1311.5,672.3 L1310.0,672.2 L1308.5,672.2 L1307.0,672.1 L1305.5,672.0 L1304.0,672.0 L1302.5,671.9 L1301.0,671.9 L1299.5,671.7 L1298.0,671.5 L1296.5,671.2 L1295.0,670.8 L1293.5,670.4 L1292.0,669.9 L1290.5,669.5 L1289.0,669.2 L1287.5,668.9 L1286.0,668.9 L1284.5,669.1 L1283.0,669.4 L1281.5,669.8 L1280.0,670.3 L1278.5,670.7 L1277.0,671.2 L1275.5,671.6 L1274.0,672.0 L1272.5,672.4 L1271.0,672.8 L1269.5,673.0 L1268.0,673.1 L1266.5,673.1 L1265.0,673.0 L1263.5,673.0 L1262.0,672.9 L1260.5,672.8 L1259.0,672.8 L1257.5,672.7 L1256.0,672.6 L1254.5,672.6 L1253.0,672.6 L1251.5,672.7 L1250.0,672.9 L1248.5,673.0 L1247.0,673.1 L1245.5,673.2 L1244.0,673.2 L1242.5,673.2 L1241.0,673.2 L1239.5,673.3 L1238.0,673.4 L1236.5,673.4 L1235.0,673.6 L1233.5,673.6 L1232.0,673.7 L1230.5,673.7 L1229.0,673.7 L1227.5,673.7 L1226.0,673.7 L1224.5,673.6 L1223.0,673.6 L1221.5,673.6 L1220.0,673.6 L1218.5,673.6 L1217.0,673.7 L1215.5,673.7 L1214.0,673.7 L1212.5,673.6 L1211.0,673.5 L1209.5,673.4 L1208.0,673.4 L1206.5,673.4 L1205.0,673.5 L1203.5,673.7 L1202.0,673.9 L1200.5,674.0 L1199.0,674.0 L1197.5,674.0 L1196.0,673.8 L1194.5,673.7 L1193.0,673.5 L1191.5,673.4 L1190.0,673.3 L1188.5,673.3 L1187.0,673.3 L1185.5,673.4 L1184.0,673.4 L1182.5,673.5 L1181.0,673.5 L1179.5,673.5 L1178.0,673.5 L1176.5,673.4 L1175.0,673.4 L1173.5,673.4 L1172.0,673.5 L1170.5,673.6 L1169.0,673.7 L1167.5,673.9 L1166.0,674.0 L1164.5,674.0 L1163.0,674.0 L1161.5,674.0 L1160.0,674.0 L1158.5,674.0 L1157.0,674.0 L1155.5,674.0 L1154.0,674.0 L1152.5,674.0 L1151.0,673.9 L1149.5,673.9 L1148.0,673.9 L1146.5,673.9 L1145.0,674.0 L1143.5,674.2 L1142.0,674.3 L1140.5,674.4 L1139.0,674.4 L1137.5,674.3 L1136.0,674.3 L1134.5,674.2 L1133.0,674.1 L1131.5,674.1 L1130.0,674.1 L1128.5,674.1 L1127.0,674.2 L1125.5,674.3 L1124.0,674.5 L1122.5,674.8 L1121.0,675.0 Z " fill="#6a4f12"/><path d="M2129.0,668.6 L2130.5,668.4 L2132.0,667.9 L2133.5,667.2 L2135.0,666.5 L2136.5,665.6 L2138.0,664.7 L2139.5,663.9 L2141.0,663.2 L2142.5,662.7 L2144.0,662.4 L2145.5,662.4 L2147.0,662.5 L2148.5,662.7 L2150.0,662.8 L2151.5,662.7 L2153.0,662.6 L2154.5,662.5 L2156.0,662.4 L2157.5,662.3 L2159.0,662.2 L2160.5,662.1 L2162.0,662.1 L2163.5,662.2 L2165.0,662.2 L2166.5,662.2 L2168.0,662.2 L2169.5,662.1 L2171.0,662.1 L2172.5,662.1 L2174.0,662.2 L2175.5,662.5 L2177.0,662.8 L2178.5,663.1 L2180.0,663.3 L2181.5,663.3 L2183.0,663.4 L2184.5,663.3 L2186.0,663.3 L2187.5,663.2 L2189.0,663.1 L2190.5,662.9 L2192.0,662.8 L2193.5,662.7 L2195.0,662.6 L2196.5,662.6 L2198.0,662.5 L2199.5,662.5 L2201.0,662.5 L2202.5,662.6 L2204.0,662.5 L2205.5,662.4 L2207.0,662.2 L2208.5,662.0 L2210.0,661.7 L2211.5,661.5 L2213.0,661.3 L2214.5,661.2 L2216.0,661.1 L2217.5,661.0 L2219.0,661.0 L2220.5,661.2 L2222.0,661.4 L2223.5,661.7 L2225.0,661.9 L2226.5,662.0 L2228.0,662.0 L2229.5,662.0 L2231.0,661.8 L2232.5,661.7 L2234.0,661.4 L2235.5,661.2 L2237.0,661.0 L2238.5,660.9 L2240.0,661.0 L2241.5,661.1 L2243.0,661.3 L2244.5,661.6 L2246.0,661.7 L2247.5,661.8 L2249.0,661.7 L2250.5,661.4 L2252.0,661.2 L2253.5,661.0 L2255.0,660.8 L2256.5,660.7 L2258.0,660.6 L2259.5,660.4 L2261.0,660.3 L2262.5,660.4 L2264.0,660.5 L2265.5,660.7 L2267.0,660.8 L2268.5,660.8 L2270.0,660.7 L2271.5,660.5 L2273.0,660.4 L2274.5,660.4 L2276.0,660.5 L2277.5,660.7 L2279.0,661.0 L2280.5,661.1 L2282.0,661.1 L2283.5,660.9 L2285.0,660.7 L2286.5,660.6 L2288.0,660.6 L2289.5,660.6 L2291.0,660.8 L2292.5,660.9 L2294.0,660.9 L2295.5,660.8 L2297.0,660.7 L2298.5,660.7 L2300.0,660.7 L2301.5,660.9 L2303.0,661.0 L2304.5,661.1 L2306.0,661.2 L2307.5,661.2 L2309.0,661.2 L2310.5,661.2 L2312.0,661.1 L2313.5,661.0 L2315.0,661.0 L2316.5,660.9 L2318.0,660.9 L2319.5,661.0 L2321.0,661.1 L2322.5,661.3 L2324.0,661.6 L2325.5,662.0 L2327.0,662.2 L2328.5,662.4 L2330.0,662.5 L2331.5,662.4 L2333.0,662.4 L2334.5,662.5 L2336.0,662.8 L2337.5,663.0 L2339.0,663.3 L2340.5,663.4 L2342.0,663.4 L2343.5,663.3 L2345.0,663.1 L2346.5,663.0 L2348.0,662.8 L2349.5,662.6 L2351.0,662.4 L2352.5,662.1 L2354.0,661.8 L2355.5,661.7 L2357.0,661.8 L2358.5,662.0 L2360.0,662.3 L2361.5,662.5 L2363.0,662.7 L2364.5,662.9 L2366.0,663.0 L2367.5,663.0 L2369.0,662.9 L2370.5,662.8 L2372.0,662.6 L2373.5,662.5 L2375.0,662.4 L2376.5,662.5 L2378.0,662.6 L2379.5,662.8 L2381.0,662.8 L2382.5,662.7 L2384.0,662.4 L2385.5,662.0 L2387.0,661.6 L2388.5,661.3 L2390.0,661.1 L2391.5,660.9 L2393.0,660.9 L2394.5,660.8 L2396.0,660.7 L2397.5,660.7 L2399.0,660.8 L2400.5,660.9 L2402.0,661.0 L2403.5,661.0 L2405.0,661.1 L2406.5,661.4 L2408.0,661.8 L2409.5,662.3 L2411.0,662.7 L2412.5,663.0 L2414.0,663.0 L2415.5,662.9 L2417.0,662.7 L2418.5,662.6 L2420.0,662.7 L2421.5,662.9 L2423.0,663.2 L2424.5,663.5 L2426.0,663.7 L2427.5,663.7 L2429.0,663.7 L2430.5,663.7 L2432.0,664.0 L2433.5,664.4 L2435.0,665.0 L2436.5,665.5 L2438.0,665.9 L2439.5,666.2 L2441.0,666.7 L2442.5,667.6 L2444.0,669.1 L2445.5,670.9 L2447.0,672.7 L2448.5,674.2 L2448.5,677.2 L2447.0,676.8 L2445.5,676.1 L2444.0,675.5 L2442.5,674.9 L2441.0,674.5 L2439.5,674.3 L2438.0,674.2 L2436.5,674.1 L2435.0,674.0 L2433.5,674.0 L2432.0,673.9 L2430.5,673.9 L2429.0,673.8 L2427.5,673.8 L2426.0,673.7 L2424.5,673.7 L2423.0,673.6 L2421.5,673.6 L2420.0,673.5 L2418.5,673.4 L2417.0,673.4 L2415.5,673.3 L2414.0,673.3 L2412.5,673.2 L2411.0,673.2 L2409.5,673.1 L2408.0,673.1 L2406.5,673.0 L2405.0,673.0 L2403.5,672.9 L2402.0,672.8 L2400.5,672.8 L2399.0,672.7 L2397.5,672.7 L2396.0,672.6 L2394.5,672.6 L2393.0,672.5 L2391.5,672.5 L2390.0,672.4 L2388.5,672.4 L2387.0,672.3 L2385.5,672.2 L2384.0,672.2 L2382.5,672.1 L2381.0,672.1 L2379.5,672.0 L2378.0,672.0 L2376.5,671.9 L2375.0,671.9 L2373.5,671.8 L2372.0,671.8 L2370.5,671.7 L2369.0,671.6 L2367.5,671.6 L2366.0,671.5 L2364.5,671.5 L2363.0,671.4 L2361.5,671.4 L2360.0,671.3 L2358.5,671.3 L2357.0,671.2 L2355.5,671.2 L2354.0,671.1 L2352.5,671.1 L2351.0,671.0 L2349.5,670.9 L2348.0,670.9 L2346.5,670.8 L2345.0,670.8 L2343.5,670.7 L2342.0,670.7 L2340.5,670.6 L2339.0,670.6 L2337.5,670.5 L2336.0,670.5 L2334.5,670.4 L2333.0,670.3 L2331.5,670.3 L2330.0,670.2 L2328.5,670.2 L2327.0,670.1 L2325.5,670.1 L2324.0,670.0 L2322.5,670.0 L2321.0,669.9 L2319.5,669.9 L2318.0,669.8 L2316.5,669.7 L2315.0,669.7 L2313.5,669.6 L2312.0,669.6 L2310.5,669.5 L2309.0,669.5 L2307.5,669.4 L2306.0,669.4 L2304.5,669.3 L2303.0,669.3 L2301.5,669.2 L2300.0,669.1 L2298.5,669.1 L2297.0,669.0 L2295.5,669.0 L2294.0,669.0 L2292.5,669.0 L2291.0,668.9 L2289.5,668.9 L2288.0,668.9 L2286.5,668.9 L2285.0,668.9 L2283.5,668.8 L2282.0,668.8 L2280.5,668.8 L2279.0,668.8 L2277.5,668.8 L2276.0,668.7 L2274.5,668.7 L2273.0,668.7 L2271.5,668.7 L2270.0,668.7 L2268.5,668.6 L2267.0,668.6 L2265.5,668.6 L2264.0,668.6 L2262.5,668.6 L2261.0,668.5 L2259.5,668.5 L2258.0,668.5 L2256.5,668.5 L2255.0,668.5 L2253.5,668.4 L2252.0,668.4 L2250.5,668.4 L2249.0,668.4 L2247.5,668.4 L2246.0,668.3 L2244.5,668.3 L2243.0,668.3 L2241.5,668.3 L2240.0,668.3 L2238.5,668.2 L2237.0,668.2 L2235.5,668.2 L2234.0,668.2 L2232.5,668.2 L2231.0,668.1 L2229.5,668.1 L2228.0,668.1 L2226.5,668.1 L2225.0,668.1 L2223.5,668.0 L2222.0,668.0 L2220.5,668.0 L2219.0,668.0 L2217.5,668.0 L2216.0,667.9 L2214.5,667.9 L2213.0,667.9 L2211.5,667.9 L2210.0,667.9 L2208.5,667.8 L2207.0,667.8 L2205.5,667.8 L2204.0,667.8 L2202.5,667.8 L2201.0,667.7 L2199.5,667.7 L2198.0,667.7 L2196.5,667.7 L2195.0,667.7 L2193.5,667.6 L2192.0,667.6 L2190.5,667.6 L2189.0,667.6 L2187.5,667.6 L2186.0,667.5 L2184.5,667.5 L2183.0,667.5 L2181.5,667.5 L2180.0,667.5 L2178.5,667.4 L2177.0,667.4 L2175.5,667.4 L2174.0,667.4 L2172.5,667.4 L2171.0,667.3 L2169.5,667.3 L2168.0,667.3 L2166.5,667.3 L2165.0,667.3 L2163.5,667.2 L2162.0,667.2 L2160.5,667.2 L2159.0,667.2 L2157.5,667.2 L2156.0,667.2 L2154.5,667.1 L2153.0,667.1 L2151.5,667.1 L2150.0,667.1 L2148.5,667.1 L2147.0,667.1 L2145.5,667.3 L2144.0,667.5 L2142.5,668.0 L2141.0,668.5 L2139.5,669.1 L2138.0,669.7 L2136.5,670.3 L2135.0,670.9 L2133.5,671.5 L2132.0,672.1 L2130.5,672.5 L2129.0,672.8 Z " fill="#2f5e46"/><path d="M1644.5,677.5 L1646.0,677.5 L1647.5,677.5 L1649.0,677.5 L1650.5,677.5 L1652.0,677.5 L1653.5,677.5 L1655.0,677.5 L1656.5,677.5 L1658.0,677.5 L1659.5,677.5 L1661.0,677.5 L1662.5,677.5 L1664.0,677.5 L1665.5,677.5 L1667.0,677.5 L1668.5,677.5 L1670.0,677.5 L1671.5,677.5 L1673.0,677.5 L1674.5,677.5 L1676.0,677.5 L1677.5,677.5 L1679.0,677.5 L1680.5,677.5 L1682.0,677.5 L1683.5,677.5 L1685.0,677.5 L1686.5,677.5 L1688.0,677.5 L1689.5,677.5 L1691.0,677.5 L1692.5,677.5 L1694.0,677.5 L1695.5,677.5 L1695.5,684.1 L1694.0,685.8 L1692.5,688.4 L1691.0,691.6 L1689.5,694.3 L1688.0,696.1 L1686.5,696.8 L1685.0,696.8 L1683.5,696.4 L1682.0,696.0 L1680.5,695.5 L1679.0,695.0 L1677.5,694.5 L1676.0,694.1 L1674.5,693.6 L1673.0,693.2 L1671.5,692.8 L1670.0,692.4 L1668.5,692.0 L1667.0,691.8 L1665.5,691.8 L1664.0,692.1 L1662.5,692.7 L1661.0,693.5 L1659.5,694.2 L1658.0,694.6 L1656.5,694.5 L1655.0,693.9 L1653.5,692.9 L1652.0,691.6 L1650.5,690.1 L1649.0,688.6 L1647.5,686.9 L1646.0,685.3 L1644.5,684.0 Z M1722.5,677.5 L1724.0,677.5 L1725.5,677.5 L1727.0,677.5 L1728.5,677.5 L1730.0,677.5 L1731.5,677.5 L1733.0,677.5 L1734.5,677.5 L1736.0,677.5 L1736.0,685.1 L1734.5,689.7 L1733.0,701.3 L1731.5,720.0 L1730.0,737.4 L1728.5,740.4 L1727.0,726.6 L1725.5,706.9 L1724.0,692.5 L1722.5,685.9 Z " fill="#08576e"/><path d="M1728.5,677.5 L1730.0,677.5 L1731.5,677.5 L1733.0,677.5 L1734.5,677.5 L1736.0,677.5 L1737.5,677.5 L1739.0,677.5 L1740.5,677.5 L1742.0,677.5 L1743.5,677.5 L1745.0,677.5 L1746.5,677.5 L1748.0,677.5 L1749.5,677.5 L1751.0,677.5 L1752.5,677.5 L1754.0,677.5 L1755.5,677.5 L1757.0,677.5 L1758.5,677.5 L1760.0,677.5 L1761.5,677.5 L1763.0,677.5 L1764.5,677.5 L1764.5,677.5 L1763.0,677.5 L1761.5,677.6 L1760.0,677.7 L1758.5,677.9 L1757.0,678.3 L1755.5,679.1 L1754.0,680.5 L1752.5,682.7 L1751.0,685.9 L1749.5,690.1 L1748.0,695.1 L1746.5,700.4 L1745.0,705.1 L1743.5,708.3 L1742.0,709.5 L1740.5,708.3 L1739.0,705.1 L1737.5,700.4 L1736.0,695.1 L1734.5,690.1 L1733.0,685.9 L1731.5,682.7 L1730.0,680.5 L1728.5,679.1 Z " fill="#2f5e46"/><path d="M2121.5,671.6 L2123.0,671.6 L2124.5,671.7 L2126.0,671.9 L2127.5,672.1 L2129.0,672.8 L2130.5,672.5 L2132.0,672.1 L2133.5,671.5 L2135.0,670.9 L2136.5,670.3 L2138.0,669.7 L2139.5,669.1 L2141.0,668.5 L2142.5,668.0 L2144.0,667.5 L2145.5,667.3 L2147.0,667.1 L2148.5,667.1 L2150.0,667.1 L2151.5,667.1 L2153.0,667.1 L2154.5,667.1 L2156.0,667.2 L2157.5,667.2 L2159.0,667.2 L2160.5,667.2 L2162.0,667.2 L2163.5,667.2 L2165.0,667.3 L2166.5,667.3 L2168.0,667.3 L2169.5,667.3 L2171.0,667.3 L2172.5,667.4 L2174.0,667.4 L2175.5,667.4 L2177.0,667.4 L2178.5,667.4 L2180.0,667.5 L2181.5,667.5 L2183.0,667.5 L2184.5,667.5 L2186.0,667.5 L2187.5,667.6 L2189.0,667.6 L2190.5,667.6 L2192.0,667.6 L2193.5,667.6 L2195.0,667.7 L2196.5,667.7 L2198.0,667.7 L2199.5,667.7 L2201.0,667.7 L2202.5,667.8 L2204.0,667.8 L2205.5,667.8 L2207.0,667.8 L2208.5,667.8 L2210.0,667.9 L2211.5,667.9 L2213.0,667.9 L2214.5,667.9 L2216.0,667.9 L2217.5,668.0 L2219.0,668.0 L2220.5,668.0 L2222.0,668.0 L2223.5,668.0 L2225.0,668.1 L2226.5,668.1 L2228.0,668.1 L2229.5,668.1 L2231.0,668.1 L2232.5,668.2 L2234.0,668.2 L2235.5,668.2 L2237.0,668.2 L2238.5,668.2 L2240.0,668.3 L2241.5,668.3 L2243.0,668.3 L2244.5,668.3 L2246.0,668.3 L2247.5,668.4 L2249.0,668.4 L2250.5,668.4 L2252.0,668.4 L2253.5,668.4 L2255.0,668.5 L2256.5,668.5 L2258.0,668.5 L2259.5,668.5 L2261.0,668.5 L2262.5,668.6 L2264.0,668.6 L2265.5,668.6 L2267.0,668.6 L2268.5,668.6 L2270.0,668.7 L2271.5,668.7 L2273.0,668.7 L2274.5,668.7 L2276.0,668.7 L2277.5,668.8 L2279.0,668.8 L2280.5,668.8 L2282.0,668.8 L2283.5,668.8 L2285.0,668.9 L2286.5,668.9 L2288.0,668.9 L2289.5,668.9 L2291.0,668.9 L2292.5,669.0 L2294.0,669.0 L2295.5,669.0 L2297.0,669.0 L2298.5,669.1 L2300.0,669.1 L2301.5,669.2 L2303.0,669.3 L2304.5,669.3 L2306.0,669.4 L2307.5,669.4 L2309.0,669.5 L2310.5,669.5 L2312.0,669.6 L2313.5,669.6 L2315.0,669.7 L2316.5,669.7 L2318.0,669.8 L2319.5,669.9 L2321.0,669.9 L2322.5,670.0 L2324.0,670.0 L2325.5,670.1 L2327.0,670.1 L2328.5,670.2 L2330.0,670.2 L2331.5,670.3 L2333.0,670.3 L2334.5,670.4 L2336.0,670.5 L2337.5,670.5 L2339.0,670.6 L2340.5,670.6 L2342.0,670.7 L2343.5,670.7 L2345.0,670.8 L2346.5,670.8 L2348.0,670.9 L2349.5,670.9 L2351.0,671.0 L2352.5,671.1 L2354.0,671.1 L2355.5,671.2 L2357.0,671.2 L2358.5,671.3 L2360.0,671.3 L2361.5,671.4 L2363.0,671.4 L2364.5,671.5 L2366.0,671.5 L2367.5,671.6 L2369.0,671.6 L2370.5,671.7 L2372.0,671.8 L2373.5,671.8 L2375.0,671.9 L2376.5,671.9 L2378.0,672.0 L2379.5,672.0 L2381.0,672.1 L2382.5,672.1 L2384.0,672.2 L2385.5,672.2 L2387.0,672.3 L2388.5,672.4 L2390.0,672.4 L2391.5,672.5 L2393.0,672.5 L2394.5,672.6 L2396.0,672.6 L2397.5,672.7 L2399.0,672.7 L2400.5,672.8 L2402.0,672.8 L2403.5,672.9 L2405.0,673.0 L2406.5,673.0 L2408.0,673.1 L2409.5,673.1 L2411.0,673.2 L2412.5,673.2 L2414.0,673.3 L2415.5,673.3 L2417.0,673.4 L2418.5,673.4 L2420.0,673.5 L2421.5,673.6 L2423.0,673.6 L2424.5,673.7 L2426.0,673.7 L2427.5,673.8 L2429.0,673.8 L2430.5,673.9 L2432.0,673.9 L2433.5,674.0 L2435.0,674.0 L2436.5,674.1 L2438.0,674.2 L2439.5,674.3 L2441.0,674.5 L2442.5,674.9 L2444.0,675.5 L2445.5,676.1 L2447.0,676.8 L2448.5,677.2 L2448.5,671.9 L2447.0,673.5 L2445.5,675.5 L2444.0,677.6 L2442.5,679.4 L2441.0,680.6 L2439.5,681.2 L2438.0,681.4 L2436.5,681.5 L2435.0,681.5 L2433.5,681.5 L2432.0,681.5 L2430.5,681.5 L2429.0,681.5 L2427.5,681.6 L2426.0,681.6 L2424.5,681.6 L2423.0,681.6 L2421.5,681.6 L2420.0,681.6 L2418.5,681.6 L2417.0,681.6 L2415.5,681.6 L2414.0,681.6 L2412.5,681.6 L2411.0,681.6 L2409.5,681.6 L2408.0,681.6 L2406.5,681.6 L2405.0,681.6 L2403.5,681.6 L2402.0,681.6 L2400.5,681.6 L2399.0,681.7 L2397.5,681.7 L2396.0,681.7 L2394.5,681.7 L2393.0,681.7 L2391.5,681.7 L2390.0,681.7 L2388.5,681.7 L2387.0,681.7 L2385.5,681.7 L2384.0,681.7 L2382.5,681.7 L2381.0,681.7 L2379.5,681.7 L2378.0,681.7 L2376.5,681.7 L2375.0,681.7 L2373.5,681.7 L2372.0,681.7 L2370.5,681.8 L2369.0,681.8 L2367.5,681.8 L2366.0,681.8 L2364.5,681.8 L2363.0,681.8 L2361.5,681.8 L2360.0,681.8 L2358.5,681.8 L2357.0,681.8 L2355.5,681.8 L2354.0,681.8 L2352.5,681.8 L2351.0,681.8 L2349.5,681.8 L2348.0,681.8 L2346.5,681.8 L2345.0,681.8 L2343.5,681.8 L2342.0,681.9 L2340.5,681.9 L2339.0,681.9 L2337.5,681.9 L2336.0,681.9 L2334.5,681.9 L2333.0,681.9 L2331.5,681.9 L2330.0,681.9 L2328.5,681.9 L2327.0,681.9 L2325.5,681.9 L2324.0,681.9 L2322.5,681.9 L2321.0,681.9 L2319.5,681.9 L2318.0,681.9 L2316.5,681.9 L2315.0,681.9 L2313.5,682.0 L2312.0,682.0 L2310.5,682.0 L2309.0,682.0 L2307.5,682.0 L2306.0,682.0 L2304.5,682.0 L2303.0,682.0 L2301.5,682.0 L2300.0,682.0 L2298.5,682.0 L2297.0,681.9 L2295.5,681.9 L2294.0,681.9 L2292.5,681.9 L2291.0,681.8 L2289.5,681.8 L2288.0,681.8 L2286.5,681.7 L2285.0,681.7 L2283.5,681.7 L2282.0,681.6 L2280.5,681.6 L2279.0,681.6 L2277.5,681.5 L2276.0,681.5 L2274.5,681.5 L2273.0,681.5 L2271.5,681.4 L2270.0,681.4 L2268.5,681.4 L2267.0,681.3 L2265.5,681.3 L2264.0,681.3 L2262.5,681.2 L2261.0,681.2 L2259.5,681.2 L2258.0,681.2 L2256.5,681.1 L2255.0,681.1 L2253.5,681.1 L2252.0,681.0 L2250.5,681.0 L2249.0,681.0 L2247.5,681.0 L2246.0,680.9 L2244.5,680.9 L2243.0,680.9 L2241.5,680.8 L2240.0,680.8 L2238.5,680.8 L2237.0,680.7 L2235.5,680.7 L2234.0,680.7 L2232.5,680.6 L2231.0,680.6 L2229.5,680.6 L2228.0,680.6 L2226.5,680.5 L2225.0,680.5 L2223.5,680.5 L2222.0,680.4 L2220.5,680.4 L2219.0,680.4 L2217.5,680.4 L2216.0,680.3 L2214.5,680.3 L2213.0,680.3 L2211.5,680.2 L2210.0,680.2 L2208.5,680.2 L2207.0,680.1 L2205.5,680.1 L2204.0,680.1 L2202.5,680.1 L2201.0,680.0 L2199.5,680.0 L2198.0,680.0 L2196.5,679.9 L2195.0,679.9 L2193.5,679.9 L2192.0,679.8 L2190.5,679.8 L2189.0,679.8 L2187.5,679.8 L2186.0,679.7 L2184.5,679.7 L2183.0,679.7 L2181.5,679.6 L2180.0,679.6 L2178.5,679.6 L2177.0,679.5 L2175.5,679.5 L2174.0,679.5 L2172.5,679.4 L2171.0,679.4 L2169.5,679.4 L2168.0,679.4 L2166.5,679.3 L2165.0,679.3 L2163.5,679.3 L2162.0,679.2 L2160.5,679.2 L2159.0,679.2 L2157.5,679.2 L2156.0,679.1 L2154.5,679.1 L2153.0,679.1 L2151.5,679.0 L2150.0,679.0 L2148.5,679.0 L2147.0,678.9 L2145.5,678.9 L2144.0,678.9 L2142.5,678.9 L2141.0,678.8 L2139.5,678.8 L2138.0,678.8 L2136.5,678.7 L2135.0,678.7 L2133.5,678.7 L2132.0,678.6 L2130.5,678.6 L2129.0,678.6 L2127.5,678.6 L2126.0,678.6 L2124.5,678.6 L2123.0,678.6 L2121.5,678.6 Z " fill="#1f3550"/><path d="M2121.5,678.6 L2123.0,678.6 L2124.5,678.6 L2126.0,678.6 L2127.5,678.6 L2129.0,678.6 L2130.5,678.6 L2132.0,678.6 L2133.5,678.7 L2135.0,678.7 L2136.5,678.7 L2138.0,678.8 L2139.5,678.8 L2141.0,678.8 L2142.5,678.9 L2144.0,678.9 L2145.5,678.9 L2147.0,678.9 L2148.5,679.0 L2150.0,679.0 L2151.5,679.0 L2153.0,679.1 L2154.5,679.1 L2156.0,679.1 L2157.5,679.2 L2159.0,679.2 L2160.5,679.2 L2162.0,679.2 L2163.5,679.3 L2165.0,679.3 L2166.5,679.3 L2168.0,679.4 L2169.5,679.4 L2171.0,679.4 L2172.5,679.4 L2174.0,679.5 L2175.5,679.5 L2177.0,679.5 L2178.5,679.6 L2180.0,679.6 L2181.5,679.6 L2183.0,679.7 L2184.5,679.7 L2186.0,679.7 L2187.5,679.8 L2189.0,679.8 L2190.5,679.8 L2192.0,679.8 L2193.5,679.9 L2195.0,679.9 L2196.5,679.9 L2198.0,680.0 L2199.5,680.0 L2201.0,680.0 L2202.5,680.1 L2204.0,680.1 L2205.5,680.1 L2207.0,680.1 L2208.5,680.2 L2210.0,680.2 L2211.5,680.2 L2213.0,680.3 L2214.5,680.3 L2216.0,680.3 L2217.5,680.4 L2219.0,680.4 L2220.5,680.4 L2222.0,680.4 L2223.5,680.5 L2225.0,680.5 L2226.5,680.5 L2228.0,680.6 L2229.5,680.6 L2231.0,680.6 L2232.5,680.6 L2234.0,680.7 L2235.5,680.7 L2237.0,680.7 L2238.5,680.8 L2240.0,680.8 L2241.5,680.8 L2243.0,680.9 L2244.5,680.9 L2246.0,680.9 L2247.5,681.0 L2249.0,681.0 L2250.5,681.0 L2252.0,681.0 L2253.5,681.1 L2255.0,681.1 L2256.5,681.1 L2258.0,681.2 L2259.5,681.2 L2261.0,681.2 L2262.5,681.2 L2264.0,681.3 L2265.5,681.3 L2267.0,681.3 L2268.5,681.4 L2270.0,681.4 L2271.5,681.4 L2273.0,681.5 L2274.5,681.5 L2276.0,681.5 L2277.5,681.5 L2279.0,681.6 L2280.5,681.6 L2282.0,681.6 L2283.5,681.7 L2285.0,681.7 L2286.5,681.7 L2288.0,681.8 L2289.5,681.8 L2291.0,681.8 L2292.5,681.9 L2294.0,681.9 L2295.5,681.9 L2297.0,681.9 L2298.5,682.0 L2300.0,682.0 L2301.5,682.0 L2303.0,682.0 L2304.5,682.0 L2306.0,682.0 L2307.5,682.0 L2309.0,682.0 L2310.5,682.0 L2312.0,682.0 L2313.5,682.0 L2315.0,681.9 L2316.5,681.9 L2318.0,681.9 L2319.5,681.9 L2321.0,681.9 L2322.5,681.9 L2324.0,681.9 L2325.5,681.9 L2327.0,681.9 L2328.5,681.9 L2330.0,681.9 L2331.5,681.9 L2333.0,681.9 L2334.5,681.9 L2336.0,681.9 L2337.5,681.9 L2339.0,681.9 L2340.5,681.9 L2342.0,681.9 L2343.5,681.8 L2345.0,681.8 L2346.5,681.8 L2348.0,681.8 L2349.5,681.8 L2351.0,681.8 L2352.5,681.8 L2354.0,681.8 L2355.5,681.8 L2357.0,681.8 L2358.5,681.8 L2360.0,681.8 L2361.5,681.8 L2363.0,681.8 L2364.5,681.8 L2366.0,681.8 L2367.5,681.8 L2369.0,681.8 L2370.5,681.8 L2372.0,681.7 L2373.5,681.7 L2375.0,681.7 L2376.5,681.7 L2378.0,681.7 L2379.5,681.7 L2381.0,681.7 L2382.5,681.7 L2384.0,681.7 L2385.5,681.7 L2387.0,681.7 L2388.5,681.7 L2390.0,681.7 L2391.5,681.7 L2393.0,681.7 L2394.5,681.7 L2396.0,681.7 L2397.5,681.7 L2399.0,681.7 L2400.5,681.6 L2402.0,681.6 L2403.5,681.6 L2405.0,681.6 L2406.5,681.6 L2408.0,681.6 L2409.5,681.6 L2411.0,681.6 L2412.5,681.6 L2414.0,681.6 L2415.5,681.6 L2417.0,681.6 L2418.5,681.6 L2420.0,681.6 L2421.5,681.6 L2423.0,681.6 L2424.5,681.6 L2426.0,681.6 L2427.5,681.6 L2429.0,681.5 L2430.5,681.5 L2432.0,681.5 L2433.5,681.5 L2435.0,681.5 L2436.5,681.5 L2438.0,681.4 L2439.5,681.2 L2441.0,680.6 L2442.5,679.4 L2444.0,677.6 L2445.5,675.5 L2447.0,673.5 L2448.5,671.9 L2448.5,677.4 L2447.0,679.0 L2445.5,681.0 L2444.0,683.1 L2442.5,684.9 L2441.0,686.1 L2439.5,686.7 L2438.0,686.9 L2436.5,687.0 L2435.0,687.0 L2433.5,687.0 L2432.0,687.0 L2430.5,687.0 L2429.0,687.0 L2427.5,687.1 L2426.0,687.1 L2424.5,687.1 L2423.0,687.1 L2421.5,687.1 L2420.0,687.1 L2418.5,687.1 L2417.0,687.1 L2415.5,687.1 L2414.0,687.1 L2412.5,687.1 L2411.0,687.1 L2409.5,687.1 L2408.0,687.1 L2406.5,687.1 L2405.0,687.1 L2403.5,687.1 L2402.0,687.1 L2400.5,687.1 L2399.0,687.2 L2397.5,687.2 L2396.0,687.2 L2394.5,687.2 L2393.0,687.2 L2391.5,687.2 L2390.0,687.2 L2388.5,687.2 L2387.0,687.2 L2385.5,687.2 L2384.0,687.2 L2382.5,687.2 L2381.0,687.2 L2379.5,687.2 L2378.0,687.2 L2376.5,687.2 L2375.0,687.2 L2373.5,687.2 L2372.0,687.2 L2370.5,687.3 L2369.0,687.3 L2367.5,687.3 L2366.0,687.3 L2364.5,687.3 L2363.0,687.3 L2361.5,687.3 L2360.0,687.3 L2358.5,687.3 L2357.0,687.3 L2355.5,687.3 L2354.0,687.3 L2352.5,687.3 L2351.0,687.3 L2349.5,687.3 L2348.0,687.3 L2346.5,687.3 L2345.0,687.3 L2343.5,687.3 L2342.0,687.4 L2340.5,687.4 L2339.0,687.4 L2337.5,687.4 L2336.0,687.4 L2334.5,687.4 L2333.0,687.4 L2331.5,687.4 L2330.0,687.4 L2328.5,687.4 L2327.0,687.4 L2325.5,687.4 L2324.0,687.4 L2322.5,687.4 L2321.0,687.4 L2319.5,687.4 L2318.0,687.4 L2316.5,687.4 L2315.0,687.4 L2313.5,687.5 L2312.0,687.5 L2310.5,687.5 L2309.0,687.5 L2307.5,687.5 L2306.0,687.5 L2304.5,687.5 L2303.0,687.5 L2301.5,687.5 L2300.0,687.5 L2298.5,687.5 L2297.0,687.4 L2295.5,687.4 L2294.0,687.4 L2292.5,687.4 L2291.0,687.3 L2289.5,687.3 L2288.0,687.3 L2286.5,687.2 L2285.0,687.2 L2283.5,687.2 L2282.0,687.1 L2280.5,687.1 L2279.0,687.1 L2277.5,687.0 L2276.0,687.0 L2274.5,687.0 L2273.0,687.0 L2271.5,686.9 L2270.0,686.9 L2268.5,686.9 L2267.0,686.8 L2265.5,686.8 L2264.0,686.8 L2262.5,686.8 L2261.0,686.7 L2259.5,686.7 L2258.0,686.7 L2256.5,686.6 L2255.0,686.6 L2253.5,686.6 L2252.0,686.5 L2250.5,686.5 L2249.0,686.5 L2247.5,686.5 L2246.0,686.4 L2244.5,686.4 L2243.0,686.4 L2241.5,686.3 L2240.0,686.3 L2238.5,686.3 L2237.0,686.2 L2235.5,686.2 L2234.0,686.2 L2232.5,686.1 L2231.0,686.1 L2229.5,686.1 L2228.0,686.1 L2226.5,686.0 L2225.0,686.0 L2223.5,686.0 L2222.0,685.9 L2220.5,685.9 L2219.0,685.9 L2217.5,685.9 L2216.0,685.8 L2214.5,685.8 L2213.0,685.8 L2211.5,685.7 L2210.0,685.7 L2208.5,685.7 L2207.0,685.6 L2205.5,685.6 L2204.0,685.6 L2202.5,685.6 L2201.0,685.5 L2199.5,685.5 L2198.0,685.5 L2196.5,685.4 L2195.0,685.4 L2193.5,685.4 L2192.0,685.3 L2190.5,685.3 L2189.0,685.3 L2187.5,685.2 L2186.0,685.2 L2184.5,685.2 L2183.0,685.2 L2181.5,685.1 L2180.0,685.1 L2178.5,685.1 L2177.0,685.0 L2175.5,685.0 L2174.0,685.0 L2172.5,684.9 L2171.0,684.9 L2169.5,684.9 L2168.0,684.9 L2166.5,684.8 L2165.0,684.8 L2163.5,684.8 L2162.0,684.7 L2160.5,684.7 L2159.0,684.7 L2157.5,684.7 L2156.0,684.6 L2154.5,684.6 L2153.0,684.6 L2151.5,684.5 L2150.0,684.5 L2148.5,684.5 L2147.0,684.4 L2145.5,684.4 L2144.0,684.4 L2142.5,684.4 L2141.0,684.3 L2139.5,684.3 L2138.0,684.3 L2136.5,684.2 L2135.0,684.2 L2133.5,684.2 L2132.0,684.1 L2130.5,684.1 L2129.0,684.1 L2127.5,684.1 L2126.0,684.1 L2124.5,684.1 L2123.0,684.1 L2121.5,684.1 Z " fill="#2f5e46"/><path d="M1728.5,679.1 L1730.0,680.5 L1731.5,682.7 L1733.0,685.9 L1734.5,690.1 L1736.0,695.1 L1737.5,700.4 L1739.0,705.1 L1740.5,708.3 L1742.0,709.5 L1743.5,708.3 L1745.0,705.1 L1746.5,700.4 L1748.0,695.1 L1749.5,690.1 L1751.0,685.9 L1752.5,682.7 L1754.0,680.5 L1755.5,679.1 L1757.0,678.3 L1758.5,677.9 L1760.0,677.7 L1761.5,677.6 L1763.0,677.5 L1764.5,677.5 L1766.0,677.5 L1767.5,677.5" fill="none" stroke="#80f5a8" stroke-width="2.6"/><path d="M1121.0,680.3 L1122.5,680.3 L1124.0,680.3 L1125.5,680.3 L1127.0,680.3 L1128.5,680.3 L1130.0,680.3 L1131.5,680.2 L1133.0,680.2 L1134.5,680.2 L1136.0,680.2 L1137.5,680.2 L1139.0,680.2 L1140.5,680.2 L1142.0,680.2 L1143.5,680.2 L1145.0,680.2 L1146.5,680.2 L1148.0,680.2 L1149.5,680.2 L1151.0,680.2 L1152.5,680.1 L1154.0,680.1 L1155.5,680.1 L1157.0,680.1 L1158.5,680.1 L1160.0,680.1 L1161.5,680.1 L1163.0,680.1 L1164.5,680.1 L1166.0,680.1 L1167.5,680.1 L1169.0,680.1 L1170.5,680.1 L1172.0,680.0 L1173.5,680.0 L1175.0,680.0 L1176.5,680.0 L1178.0,680.0 L1179.5,680.0 L1181.0,680.0 L1182.5,680.0 L1184.0,680.0 L1185.5,680.0 L1187.0,680.0 L1188.5,680.0 L1190.0,680.0 L1191.5,680.0 L1193.0,679.9 L1194.5,679.9 L1196.0,679.9 L1197.5,679.9 L1199.0,679.9 L1200.5,679.9 L1202.0,679.9 L1203.5,679.9 L1205.0,679.9 L1206.5,679.9 L1208.0,679.9 L1209.5,679.9 L1211.0,679.9 L1212.5,679.9 L1214.0,679.8 L1215.5,679.8 L1217.0,679.8 L1218.5,679.8 L1220.0,679.8 L1221.5,679.8 L1223.0,679.8 L1224.5,679.8 L1226.0,679.8 L1227.5,679.8 L1229.0,679.8 L1230.5,679.8 L1232.0,679.8 L1233.5,679.7 L1235.0,679.7 L1236.5,679.7 L1238.0,679.7 L1239.5,679.7 L1241.0,679.7 L1242.5,679.7 L1244.0,679.7 L1245.5,679.7 L1247.0,679.7 L1248.5,679.8 L1250.0,679.8 L1251.5,679.8 L1253.0,679.8 L1254.5,679.8 L1256.0,679.8 L1257.5,679.8 L1259.0,679.9 L1260.5,679.9 L1262.0,679.9 L1263.5,679.9 L1265.0,679.9 L1266.5,679.9 L1268.0,679.9 L1269.5,680.0 L1271.0,680.0 L1272.5,680.0 L1274.0,680.0 L1275.5,680.0 L1277.0,680.0 L1278.5,680.0 L1280.0,680.1 L1281.5,680.1 L1283.0,680.1 L1284.5,680.1 L1286.0,680.1 L1287.5,680.1 L1289.0,680.2 L1290.5,680.2 L1292.0,680.2 L1293.5,680.2 L1295.0,680.2 L1296.5,680.2 L1298.0,680.2 L1299.5,680.3 L1301.0,680.3 L1302.5,680.3 L1304.0,680.3 L1305.5,680.3 L1307.0,680.3 L1308.5,680.3 L1310.0,680.4 L1311.5,680.4 L1313.0,680.4 L1314.5,680.4 L1316.0,680.4 L1317.5,680.4 L1319.0,680.4 L1320.5,680.5 L1322.0,680.5 L1323.5,680.5 L1325.0,680.5 L1326.5,680.5 L1328.0,680.5 L1329.5,680.5 L1331.0,680.6 L1332.5,680.6 L1334.0,680.6 L1335.5,680.6 L1337.0,680.6 L1338.5,680.6 L1340.0,680.7 L1341.5,680.7 L1343.0,680.7 L1344.5,680.7 L1346.0,680.7 L1347.5,680.7 L1349.0,680.7 L1350.5,680.8 L1352.0,680.8 L1353.5,680.8 L1355.0,680.8 L1356.5,680.8 L1358.0,680.8 L1359.5,680.8 L1361.0,680.9 L1362.5,680.9 L1364.0,680.9 L1365.5,680.9 L1367.0,680.9 L1368.5,680.9 L1370.0,680.9 L1371.5,681.0 L1373.0,681.0 L1374.5,681.0 L1376.0,681.0 L1377.5,681.0 L1379.0,681.0 L1380.5,681.1 L1382.0,681.1 L1383.5,681.1 L1385.0,681.1 L1386.5,681.1 L1388.0,681.2 L1389.5,681.2 L1391.0,681.2 L1392.5,681.2 L1394.0,681.2 L1395.5,681.3 L1397.0,681.3 L1398.5,681.3 L1400.0,681.3 L1401.5,681.3 L1403.0,681.4 L1404.5,681.4 L1406.0,681.4 L1407.5,681.4 L1409.0,681.4 L1410.5,681.5 L1412.0,681.5 L1413.5,681.5 L1415.0,681.5 L1416.5,681.5 L1418.0,681.6 L1419.5,681.6 L1421.0,681.6 L1422.5,681.6 L1424.0,681.7 L1425.5,681.7 L1427.0,681.7 L1428.5,681.7 L1430.0,681.7 L1431.5,681.8 L1433.0,681.8 L1434.5,681.8 L1436.0,681.8 L1437.5,681.8 L1439.0,681.9 L1440.5,681.9 L1442.0,681.9 L1443.5,681.9 L1445.0,681.9 L1446.5,682.0 L1448.0,682.0 L1449.5,682.0 L1451.0,682.0 L1452.5,682.0 L1454.0,682.0 L1455.5,682.0 L1457.0,682.0 L1458.5,682.0 L1460.0,682.0 L1461.5,682.0 L1463.0,682.0 L1464.5,682.0 L1466.0,682.0 L1467.5,682.0 L1469.0,682.0 L1470.5,682.1 L1472.0,682.1 L1473.5,682.1 L1475.0,682.1 L1476.5,682.1 L1478.0,682.1 L1479.5,682.1 L1481.0,682.1 L1482.5,682.1 L1484.0,682.1 L1485.5,682.1 L1487.0,682.1 L1488.5,682.1 L1490.0,682.1 L1491.5,682.1 L1493.0,682.1 L1494.5,682.1 L1496.0,682.1 L1497.5,682.1 L1499.0,682.1 L1500.5,682.1 L1502.0,682.1 L1503.5,682.1 L1505.0,682.1 L1506.5,682.1 L1508.0,682.1 L1509.5,682.2 L1511.0,682.2 L1512.5,682.2 L1514.0,682.2 L1515.5,682.2 L1517.0,682.2 L1518.5,682.2 L1520.0,682.2 L1521.5,682.2 L1523.0,682.2 L1524.5,682.2 L1526.0,682.2 L1527.5,682.2 L1529.0,682.2 L1530.5,682.2 L1532.0,682.2 L1533.5,682.2 L1535.0,682.2 L1536.5,682.2 L1538.0,682.2 L1539.5,682.2 L1541.0,682.2 L1542.5,682.2 L1544.0,682.2 L1545.5,682.2 L1547.0,682.2 L1548.5,682.3 L1550.0,682.3 L1551.5,682.3 L1553.0,682.3 L1554.5,682.3 L1556.0,682.3 L1557.5,682.3 L1559.0,682.3 L1560.5,682.3 L1562.0,682.3 L1563.5,682.3 L1565.0,682.3 L1566.5,682.3 L1568.0,682.3 L1569.5,682.3 L1571.0,682.3 L1572.5,682.3 L1574.0,682.3 L1575.5,682.3 L1577.0,682.3 L1578.5,682.3 L1580.0,682.3 L1581.5,682.3 L1583.0,682.3 L1584.5,682.3 L1586.0,682.4 L1587.5,682.4 L1589.0,682.4 L1590.5,682.4 L1592.0,682.4 L1593.5,682.4 L1595.0,682.4 L1596.5,682.4 L1598.0,682.4 L1599.5,682.4 L1601.0,682.4 L1602.5,682.4 L1604.0,682.4 L1605.5,682.4 L1607.0,682.4 L1608.5,682.4 L1610.0,682.4 L1611.5,682.4 L1613.0,682.4 L1614.5,682.4 L1616.0,682.4 L1617.5,682.4 L1619.0,682.4 L1620.5,682.4 L1622.0,682.4 L1623.5,682.4 L1625.0,682.5 L1626.5,682.5 L1628.0,682.5 L1629.5,682.5 L1631.0,682.5 L1632.5,682.5 L1634.0,682.5 L1635.5,682.5 L1637.0,682.5 L1638.5,682.5 L1640.0,682.6 L1641.5,682.7 L1643.0,683.2 L1644.5,684.0 L1646.0,685.3 L1647.5,686.9 L1649.0,688.6 L1650.5,690.1 L1652.0,691.6 L1653.5,692.9 L1655.0,693.9 L1656.5,694.5 L1658.0,694.6 L1659.5,694.2 L1661.0,693.5 L1662.5,692.7 L1664.0,692.1 L1665.5,691.8 L1667.0,691.8 L1668.5,692.0 L1670.0,692.4 L1671.5,692.8 L1673.0,693.2 L1674.5,693.6 L1676.0,694.1 L1677.5,694.5 L1679.0,695.0 L1680.5,695.5 L1682.0,696.0 L1683.5,696.4 L1685.0,696.8 L1686.5,696.8 L1688.0,696.1 L1689.5,694.3 L1691.0,691.6 L1692.5,688.4 L1694.0,685.8 L1695.5,684.1 L1697.0,683.4 L1698.5,683.1 L1700.0,683.1 L1701.5,683.1 L1703.0,683.1 L1704.5,683.1 L1706.0,683.2 L1707.5,683.2 L1709.0,683.2 L1710.5,683.2 L1712.0,683.2 L1713.5,683.3 L1715.0,683.3 L1716.5,683.3 L1718.0,683.3 L1719.5,683.4 L1721.0,683.9 L1722.5,685.9 L1724.0,692.5 L1725.5,706.9 L1727.0,726.6 L1728.5,740.4 L1730.0,737.4 L1731.5,720.0 L1733.0,701.3 L1734.5,689.7 L1736.0,685.1 L1737.5,683.9 L1739.0,683.6 L1740.5,683.6 L1742.0,683.7 L1743.5,683.7 L1745.0,683.7 L1746.5,683.7 L1748.0,683.7 L1749.5,683.8 L1751.0,683.8 L1752.5,683.8 L1754.0,683.8 L1755.5,683.8 L1757.0,683.9 L1758.5,683.9 L1760.0,683.9 L1761.5,683.9 L1763.0,683.9 L1764.5,684.0 L1766.0,684.0 L1767.5,684.0 L1769.0,684.0 L1770.5,684.0 L1772.0,684.1 L1773.5,684.1 L1775.0,684.1 L1776.5,684.1 L1778.0,684.1 L1779.5,684.2 L1781.0,684.2 L1782.5,684.2 L1784.0,684.2 L1785.5,684.2 L1787.0,684.3 L1788.5,684.3 L1790.0,684.3 L1791.5,684.4 L1793.0,684.5 L1794.5,684.5 L1796.0,684.6 L1797.5,684.7 L1799.0,684.8 L1800.5,684.8 L1802.0,684.9 L1803.5,685.0 L1805.0,685.1 L1806.5,685.1 L1808.0,685.2 L1809.5,685.3 L1811.0,685.4 L1812.5,685.4 L1814.0,685.5 L1815.5,685.6 L1817.0,685.7 L1818.5,685.7 L1820.0,685.8 L1821.5,685.9 L1823.0,686.0 L1824.5,686.0 L1826.0,686.1 L1827.5,686.2 L1829.0,686.3 L1830.5,686.3 L1832.0,686.4 L1833.5,686.5 L1835.0,686.6 L1836.5,686.6 L1838.0,686.7 L1839.5,686.8 L1841.0,686.9 L1842.5,686.9 L1844.0,687.0 L1845.5,687.1 L1847.0,687.2 L1848.5,687.2 L1850.0,687.3 L1851.5,687.4 L1853.0,687.5 L1854.5,687.5 L1856.0,687.6 L1857.5,687.7 L1859.0,687.8 L1860.5,687.8 L1862.0,687.9 L1863.5,688.0 L1865.0,688.1 L1866.5,688.1 L1868.0,688.2 L1869.5,688.3 L1871.0,688.4 L1872.5,688.4 L1874.0,688.5 L1875.5,688.6 L1877.0,688.7 L1878.5,688.8 L1880.0,688.9 L1881.5,689.5 L1883.0,691.2 L1884.5,694.6 L1886.0,698.9 L1887.5,701.2 L1889.0,699.5 L1890.5,695.5 L1892.0,692.0 L1893.5,690.2 L1895.0,689.7 L1896.5,689.7 L1898.0,689.7 L1899.5,689.8 L1901.0,689.9 L1902.5,689.9 L1904.0,690.0 L1905.5,690.1 L1907.0,690.2 L1908.5,690.2 L1910.0,690.3 L1911.5,690.3 L1913.0,690.4 L1914.5,690.4 L1916.0,690.5 L1917.5,690.5 L1919.0,690.5 L1920.5,690.6 L1922.0,690.6 L1923.5,690.6 L1925.0,690.7 L1926.5,690.7 L1928.0,690.8 L1929.5,690.8 L1931.0,690.8 L1932.5,690.9 L1934.0,690.9 L1935.5,690.9 L1937.0,691.0 L1938.5,691.0 L1940.0,691.0 L1941.5,691.1 L1943.0,691.1 L1944.5,691.2 L1946.0,691.2 L1947.5,691.2 L1949.0,691.3 L1950.5,691.3 L1952.0,691.3 L1953.5,691.4 L1955.0,691.4 L1956.5,691.5 L1958.0,691.5 L1959.5,691.5 L1961.0,691.5 L1962.5,691.6 L1964.0,691.6 L1965.5,691.5 L1967.0,691.5 L1968.5,691.5 L1970.0,691.5 L1971.5,691.4 L1973.0,691.4 L1974.5,691.4 L1976.0,691.4 L1977.5,691.3 L1979.0,691.3 L1980.5,691.3 L1982.0,691.3 L1983.5,691.2 L1985.0,691.2 L1986.5,691.2 L1988.0,691.1 L1989.5,691.1 L1991.0,691.1 L1992.5,691.1 L1994.0,691.0 L1995.5,691.0 L1997.0,691.0 L1998.5,691.0 L2000.0,690.9 L2001.5,690.9 L2003.0,690.9 L2004.5,690.9 L2006.0,690.8 L2007.5,690.8 L2009.0,690.8 L2010.5,690.7 L2012.0,690.7 L2013.5,690.7 L2015.0,690.7 L2016.5,690.6 L2018.0,690.6 L2019.5,690.6 L2021.0,690.6 L2022.5,690.5 L2024.0,690.5 L2025.5,690.5 L2027.0,690.5 L2028.5,690.4 L2030.0,690.4 L2031.5,690.4 L2033.0,690.3 L2034.5,690.3 L2036.0,690.3 L2037.5,690.2 L2039.0,690.2 L2040.5,690.1 L2042.0,690.1 L2043.5,690.0 L2045.0,690.0 L2046.5,689.9 L2048.0,689.8 L2049.5,689.8 L2051.0,689.7 L2052.5,689.7 L2054.0,689.6 L2055.5,689.6 L2057.0,689.5 L2058.5,689.5 L2060.0,689.4 L2061.5,689.3 L2063.0,689.3 L2064.5,689.2 L2066.0,689.2 L2067.5,689.1 L2069.0,689.1 L2070.5,689.0 L2072.0,689.0 L2073.5,688.9 L2075.0,688.8 L2076.5,688.8 L2078.0,688.7 L2079.5,688.7 L2081.0,688.6 L2082.5,688.6 L2084.0,688.5 L2085.5,688.5 L2087.0,688.4 L2088.5,688.3 L2090.0,688.3 L2091.5,688.2 L2093.0,688.2 L2094.5,688.1 L2096.0,688.1 L2097.5,688.0 L2099.0,688.0 L2100.5,687.9 L2102.0,687.8 L2103.5,687.8 L2105.0,687.7 L2106.5,687.7 L2108.0,687.6 L2109.5,687.6 L2111.0,687.5 L2112.5,687.5 L2114.0,687.4 L2115.5,687.4 L2117.0,687.3 L2118.5,687.2 L2120.0,687.2 L2121.5,687.1 L2123.0,687.1 L2124.5,687.1 L2126.0,687.1 L2127.5,687.1 L2129.0,687.1 L2130.5,687.1 L2132.0,687.1 L2133.5,687.2 L2135.0,687.2 L2136.5,687.2 L2138.0,687.3 L2139.5,687.3 L2141.0,687.3 L2142.5,687.4 L2144.0,687.4 L2145.5,687.4 L2147.0,687.4 L2148.5,687.5 L2150.0,687.5 L2151.5,687.5 L2153.0,687.6 L2154.5,687.6 L2156.0,687.6 L2157.5,687.7 L2159.0,687.7 L2160.5,687.7 L2162.0,687.7 L2163.5,687.8 L2165.0,687.8 L2166.5,687.8 L2168.0,687.9 L2169.5,687.9 L2171.0,687.9 L2172.5,687.9 L2174.0,688.0 L2175.5,688.0 L2177.0,688.0 L2178.5,688.1 L2180.0,688.1 L2181.5,688.1 L2183.0,688.2 L2184.5,688.2 L2186.0,688.2 L2187.5,688.2 L2189.0,688.3 L2190.5,688.3 L2192.0,688.3 L2193.5,688.4 L2195.0,688.4 L2196.5,688.4 L2198.0,688.5 L2199.5,688.5 L2201.0,688.5 L2202.5,688.6 L2204.0,688.6 L2205.5,688.6 L2207.0,688.6 L2208.5,688.7 L2210.0,688.7 L2211.5,688.7 L2213.0,688.8 L2214.5,688.8 L2216.0,688.8 L2217.5,688.9 L2219.0,688.9 L2220.5,688.9 L2222.0,688.9 L2223.5,689.0 L2225.0,689.0 L2226.5,689.0 L2228.0,689.1 L2229.5,689.1 L2231.0,689.1 L2232.5,689.1 L2234.0,689.2 L2235.5,689.2 L2237.0,689.2 L2238.5,689.3 L2240.0,689.3 L2241.5,689.3 L2243.0,689.4 L2244.5,689.4 L2246.0,689.4 L2247.5,689.5 L2249.0,689.5 L2250.5,689.5 L2252.0,689.5 L2253.5,689.6 L2255.0,689.6 L2256.5,689.6 L2258.0,689.7 L2259.5,689.7 L2261.0,689.7 L2262.5,689.8 L2264.0,689.8 L2265.5,689.8 L2267.0,689.8 L2268.5,689.9 L2270.0,689.9 L2271.5,689.9 L2273.0,690.0 L2274.5,690.0 L2276.0,690.0 L2277.5,690.0 L2279.0,690.1 L2280.5,690.1 L2282.0,690.1 L2283.5,690.2 L2285.0,690.2 L2286.5,690.2 L2288.0,690.3 L2289.5,690.3 L2291.0,690.3 L2292.5,690.4 L2294.0,690.4 L2295.5,690.4 L2297.0,690.4 L2298.5,690.5 L2300.0,690.5 L2301.5,690.5 L2303.0,690.5 L2304.5,690.5 L2306.0,690.5 L2307.5,690.5 L2309.0,690.5 L2310.5,690.5 L2312.0,690.5 L2313.5,690.5 L2315.0,690.4 L2316.5,690.4 L2318.0,690.4 L2319.5,690.4 L2321.0,690.4 L2322.5,690.4 L2324.0,690.4 L2325.5,690.4 L2327.0,690.4 L2328.5,690.4 L2330.0,690.4 L2331.5,690.4 L2333.0,690.4 L2334.5,690.4 L2336.0,690.4 L2337.5,690.4 L2339.0,690.4 L2340.5,690.4 L2342.0,690.4 L2343.5,690.3 L2345.0,690.3 L2346.5,690.3 L2348.0,690.3 L2349.5,690.3 L2351.0,690.3 L2352.5,690.3 L2354.0,690.3 L2355.5,690.3 L2357.0,690.3 L2358.5,690.3 L2360.0,690.3 L2361.5,690.3 L2363.0,690.3 L2364.5,690.3 L2366.0,690.3 L2367.5,690.3 L2369.0,690.3 L2370.5,690.3 L2372.0,690.2 L2373.5,690.2 L2375.0,690.2 L2376.5,690.2 L2378.0,690.2 L2379.5,690.2 L2381.0,690.2 L2382.5,690.2 L2384.0,690.2 L2385.5,690.2 L2387.0,690.2 L2388.5,690.2 L2390.0,690.2 L2391.5,690.2 L2393.0,690.2 L2394.5,690.2 L2396.0,690.2 L2397.5,690.2 L2399.0,690.2 L2400.5,690.1 L2402.0,690.1 L2403.5,690.1 L2405.0,690.1 L2406.5,690.1 L2408.0,690.1 L2409.5,690.1 L2411.0,690.1 L2412.5,690.1 L2414.0,690.1 L2415.5,690.1 L2417.0,690.1 L2418.5,690.1 L2420.0,690.1 L2421.5,690.1 L2423.0,690.1 L2424.5,690.1 L2426.0,690.1 L2427.5,690.1 L2429.0,690.0 L2430.5,690.0 L2432.0,690.0 L2433.5,690.0 L2435.0,690.0 L2436.5,690.0 L2438.0,689.9 L2439.5,689.7 L2441.0,689.1 L2442.5,687.9 L2444.0,686.1 L2445.5,684.0 L2447.0,682.0 L2448.5,680.4" fill="none" stroke="#19d6f5" stroke-width="3.2" stroke-linejoin="round" stroke-linecap="round" opacity="1"/><path d="M1121.0,677.3 L1122.5,677.3 L1124.0,677.3 L1125.5,677.3 L1127.0,677.3 L1128.5,677.3 L1130.0,677.3 L1131.5,677.2 L1133.0,677.2 L1134.5,677.2 L1136.0,677.2 L1137.5,677.2 L1139.0,677.2 L1140.5,677.2 L1142.0,677.2 L1143.5,677.2 L1145.0,677.2 L1146.5,677.2 L1148.0,677.2 L1149.5,677.2 L1151.0,677.2 L1152.5,677.1 L1154.0,677.1 L1155.5,677.1 L1157.0,677.1 L1158.5,677.1 L1160.0,677.1 L1161.5,677.1 L1163.0,677.1 L1164.5,677.1 L1166.0,677.1 L1167.5,677.1 L1169.0,677.1 L1170.5,677.1 L1172.0,677.0 L1173.5,677.0 L1175.0,677.0 L1176.5,677.0 L1178.0,677.0 L1179.5,677.0 L1181.0,677.0 L1182.5,677.0 L1184.0,677.0 L1185.5,677.0 L1187.0,677.0 L1188.5,677.0 L1190.0,677.0 L1191.5,677.0 L1193.0,676.9 L1194.5,676.9 L1196.0,676.9 L1197.5,676.9 L1199.0,676.9 L1200.5,676.9 L1202.0,676.9 L1203.5,676.9 L1205.0,676.9 L1206.5,676.9 L1208.0,676.9 L1209.5,676.9 L1211.0,676.9 L1212.5,676.9 L1214.0,676.8 L1215.5,676.8 L1217.0,676.8 L1218.5,676.8 L1220.0,676.8 L1221.5,676.8 L1223.0,676.8 L1224.5,676.8 L1226.0,676.8 L1227.5,676.8 L1229.0,676.8 L1230.5,676.8 L1232.0,676.8 L1233.5,676.7 L1235.0,676.7 L1236.5,676.7 L1238.0,676.7 L1239.5,676.7 L1241.0,676.7 L1242.5,676.7 L1244.0,676.7 L1245.5,676.7 L1247.0,676.7 L1248.5,676.8 L1250.0,676.8 L1251.5,676.8 L1253.0,676.8 L1254.5,676.8 L1256.0,676.8 L1257.5,676.8 L1259.0,676.9 L1260.5,676.9 L1262.0,676.9 L1263.5,676.9 L1265.0,676.9 L1266.5,676.9 L1268.0,676.9 L1269.5,677.0 L1271.0,677.0 L1272.5,677.0 L1274.0,677.0 L1275.5,677.0 L1277.0,677.0 L1278.5,677.0 L1280.0,677.1 L1281.5,677.1 L1283.0,677.1 L1284.5,677.1 L1286.0,677.1 L1287.5,677.1 L1289.0,677.2 L1290.5,677.2 L1292.0,677.2 L1293.5,677.2 L1295.0,677.2 L1296.5,677.2 L1298.0,677.2 L1299.5,677.3 L1301.0,677.3 L1302.5,677.3 L1304.0,677.3 L1305.5,677.3 L1307.0,677.3 L1308.5,677.3 L1310.0,677.4 L1311.5,677.4 L1313.0,677.4 L1314.5,677.4 L1316.0,677.4 L1317.5,677.4 L1319.0,677.4 L1320.5,677.5 L1322.0,677.5 L1323.5,677.5 L1325.0,677.5 L1326.5,677.5 L1328.0,677.5 L1329.5,677.5 L1331.0,677.6 L1332.5,677.6 L1334.0,677.6 L1335.5,677.6 L1337.0,677.6 L1338.5,677.6 L1340.0,677.7 L1341.5,677.7 L1343.0,677.7 L1344.5,677.7 L1346.0,677.7 L1347.5,677.7 L1349.0,677.7 L1350.5,677.8 L1352.0,677.8 L1353.5,677.8 L1355.0,677.8 L1356.5,677.8 L1358.0,677.8 L1359.5,677.8 L1361.0,677.9 L1362.5,677.9 L1364.0,677.9 L1365.5,677.9 L1367.0,677.9 L1368.5,677.9 L1370.0,677.9 L1371.5,678.0 L1373.0,678.0 L1374.5,678.0 L1376.0,678.0 L1377.5,678.0 L1379.0,678.0 L1380.5,678.1 L1382.0,678.1 L1383.5,678.1 L1385.0,678.1 L1386.5,678.1 L1388.0,678.2 L1389.5,678.2 L1391.0,678.2 L1392.5,678.2 L1394.0,678.2 L1395.5,678.3 L1397.0,678.3 L1398.5,678.3 L1400.0,678.3 L1401.5,678.3 L1403.0,678.4 L1404.5,678.4 L1406.0,678.4 L1407.5,678.4 L1409.0,678.4 L1410.5,678.5 L1412.0,678.5 L1413.5,678.5 L1415.0,678.5 L1416.5,678.5 L1418.0,678.6 L1419.5,678.6 L1421.0,678.6 L1422.5,678.6 L1424.0,678.7 L1425.5,678.7 L1427.0,678.7 L1428.5,678.7 L1430.0,678.7 L1431.5,678.8 L1433.0,678.8 L1434.5,678.8 L1436.0,678.8 L1437.5,678.8 L1439.0,678.9 L1440.5,678.9 L1442.0,678.9 L1443.5,678.9 L1445.0,678.9 L1446.5,679.0 L1448.0,679.0 L1449.5,679.0 L1451.0,679.0 L1452.5,679.0 L1454.0,679.0 L1455.5,679.0 L1457.0,679.0 L1458.5,679.0 L1460.0,679.0 L1461.5,679.0 L1463.0,679.0 L1464.5,679.0 L1466.0,679.0 L1467.5,679.0 L1469.0,679.0 L1470.5,679.1 L1472.0,679.1 L1473.5,679.1 L1475.0,679.1 L1476.5,679.1 L1478.0,679.1 L1479.5,679.1 L1481.0,679.1 L1482.5,679.1 L1484.0,679.1 L1485.5,679.1 L1487.0,679.1 L1488.5,679.1 L1490.0,679.1 L1491.5,679.1 L1493.0,679.1 L1494.5,679.1 L1496.0,679.1 L1497.5,679.1 L1499.0,679.1 L1500.5,679.1 L1502.0,679.1 L1503.5,679.1 L1505.0,679.1 L1506.5,679.1 L1508.0,679.1 L1509.5,679.2 L1511.0,679.2 L1512.5,679.2 L1514.0,679.2 L1515.5,679.2 L1517.0,679.2 L1518.5,679.2 L1520.0,679.2 L1521.5,679.2 L1523.0,679.2 L1524.5,679.2 L1526.0,679.2 L1527.5,679.2 L1529.0,679.2 L1530.5,679.2 L1532.0,679.2 L1533.5,679.2 L1535.0,679.2 L1536.5,679.2 L1538.0,679.2 L1539.5,679.2 L1541.0,679.2 L1542.5,679.2 L1544.0,679.2 L1545.5,679.2 L1547.0,679.2 L1548.5,679.3 L1550.0,679.3 L1551.5,679.3 L1553.0,679.3 L1554.5,679.3 L1556.0,679.3 L1557.5,679.3 L1559.0,679.3 L1560.5,679.3 L1562.0,679.3 L1563.5,679.3 L1565.0,679.3 L1566.5,679.3 L1568.0,679.3 L1569.5,679.3 L1571.0,679.3 L1572.5,679.3 L1574.0,679.3 L1575.5,679.3 L1577.0,679.3 L1578.5,679.3 L1580.0,679.3 L1581.5,679.3 L1583.0,679.3 L1584.5,679.3 L1586.0,679.4 L1587.5,679.4 L1589.0,679.4 L1590.5,679.4 L1592.0,679.4 L1593.5,679.4 L1595.0,679.4 L1596.5,679.4 L1598.0,679.4 L1599.5,679.4 L1601.0,679.4 L1602.5,679.4 L1604.0,679.4 L1605.5,679.4 L1607.0,679.4 L1608.5,679.4 L1610.0,679.4 L1611.5,679.4 L1613.0,679.4 L1614.5,679.4 L1616.0,679.4 L1617.5,679.4 L1619.0,679.4 L1620.5,679.4 L1622.0,679.4 L1623.5,679.4 L1625.0,679.5 L1626.5,679.5 L1628.0,679.5 L1629.5,679.5 L1631.0,679.5 L1632.5,679.5 L1634.0,679.5 L1635.5,679.5 L1637.0,679.5 L1638.5,679.5 L1640.0,679.6 L1641.5,679.7 L1643.0,680.0 L1644.5,680.0 L1646.0,680.0 L1647.5,680.0 L1649.0,680.0 L1650.5,680.0 L1652.0,680.0 L1653.5,680.0 L1655.0,680.0 L1656.5,680.0 L1658.0,680.0 L1659.5,680.0 L1661.0,680.0 L1662.5,680.0 L1664.0,680.0 L1665.5,680.0 L1667.0,680.0 L1668.5,680.0 L1670.0,680.0 L1671.5,680.0 L1673.0,680.0 L1674.5,680.0 L1676.0,680.0 L1677.5,680.0 L1679.0,680.0 L1680.5,680.0 L1682.0,680.0 L1683.5,680.0 L1685.0,680.0 L1686.5,680.0 L1688.0,680.0 L1689.5,680.0 L1691.0,680.0 L1692.5,680.0 L1694.0,680.0 L1695.5,680.0 L1697.0,680.0 L1698.5,680.0 L1700.0,680.0 L1701.5,680.0 L1703.0,680.0 L1704.5,680.0 L1706.0,680.0 L1707.5,680.0 L1709.0,680.0 L1710.5,680.0 L1712.0,680.0 L1713.5,680.0 L1715.0,680.0 L1716.5,680.0 L1718.0,680.0 L1719.5,680.0 L1721.0,680.0 L1722.5,680.0 L1724.0,680.0 L1725.5,680.0 L1727.0,680.0 L1728.5,680.0 L1730.0,680.0 L1731.5,680.0 L1733.0,680.0 L1734.5,680.0 L1736.0,680.0 L1737.5,680.0 L1739.0,680.0 L1740.5,680.0 L1742.0,680.0 L1743.5,680.0 L1745.0,680.0 L1746.5,680.0 L1748.0,680.0 L1749.5,680.0 L1751.0,680.0 L1752.5,680.0 L1754.0,680.0 L1755.5,680.0 L1757.0,680.0 L1758.5,680.0 L1760.0,680.9 L1761.5,680.9 L1763.0,680.9 L1764.5,681.0 L1766.0,681.0 L1767.5,681.0 L1769.0,681.0 L1770.5,681.0 L1772.0,681.1 L1773.5,681.1 L1775.0,681.1 L1776.5,681.1 L1778.0,681.1 L1779.5,681.2 L1781.0,681.2 L1782.5,681.2 L1784.0,681.2 L1785.5,681.2 L1787.0,681.3 L1788.5,681.3 L1790.0,681.3 L1791.5,681.4 L1793.0,681.5 L1794.5,681.5 L1796.0,681.6 L1797.5,681.7 L1799.0,681.8 L1800.5,681.8 L1802.0,681.9 L1803.5,682.0 L1805.0,682.1 L1806.5,682.1 L1808.0,682.2 L1809.5,682.3 L1811.0,682.4 L1812.5,682.4 L1814.0,682.5 L1815.5,682.6 L1817.0,682.7 L1818.5,682.7 L1820.0,682.8 L1821.5,682.9 L1823.0,683.0 L1824.5,683.0 L1826.0,683.1 L1827.5,683.2 L1829.0,683.3 L1830.5,683.3 L1832.0,683.4 L1833.5,683.5 L1835.0,683.6 L1836.5,683.6 L1838.0,683.7 L1839.5,683.8 L1841.0,683.9 L1842.5,683.9 L1844.0,684.0 L1845.5,684.1 L1847.0,684.2 L1848.5,684.2 L1850.0,684.3 L1851.5,684.4 L1853.0,684.5 L1854.5,684.5 L1856.0,684.6 L1857.5,684.7 L1859.0,684.8 L1860.5,684.8 L1862.0,684.9 L1863.5,685.0 L1865.0,685.1 L1866.5,685.1 L1868.0,685.2 L1869.5,685.3 L1871.0,685.4 L1872.5,685.4 L1874.0,685.5 L1875.5,685.6 L1877.0,685.7 L1878.5,685.8 L1880.0,685.9 L1881.5,686.5 L1883.0,688.2 L1884.5,691.6 L1886.0,695.9 L1887.5,698.2 L1889.0,696.5 L1890.5,692.5 L1892.0,689.0 L1893.5,687.2 L1895.0,686.7 L1896.5,686.7 L1898.0,686.7 L1899.5,686.8 L1901.0,686.9 L1902.5,686.9 L1904.0,687.0 L1905.5,687.1 L1907.0,687.2 L1908.5,687.2 L1910.0,687.3 L1911.5,687.3 L1913.0,687.4 L1914.5,687.4 L1916.0,687.5 L1917.5,687.5 L1919.0,687.5 L1920.5,687.6 L1922.0,687.6 L1923.5,687.6 L1925.0,687.7 L1926.5,687.7 L1928.0,687.8 L1929.5,687.8 L1931.0,687.8 L1932.5,687.9 L1934.0,687.9 L1935.5,687.9 L1937.0,688.0 L1938.5,688.0 L1940.0,688.0 L1941.5,688.1 L1943.0,688.1 L1944.5,688.2 L1946.0,688.2 L1947.5,688.2 L1949.0,688.3 L1950.5,688.3 L1952.0,688.3 L1953.5,688.4 L1955.0,688.4 L1956.5,688.5 L1958.0,688.5 L1959.5,688.5 L1961.0,688.5 L1962.5,688.6 L1964.0,688.6 L1965.5,688.5 L1967.0,688.5 L1968.5,688.5 L1970.0,688.5 L1971.5,688.4 L1973.0,688.4 L1974.5,688.4 L1976.0,688.4 L1977.5,688.3 L1979.0,688.3 L1980.5,688.3 L1982.0,688.3 L1983.5,688.2 L1985.0,688.2 L1986.5,688.2 L1988.0,688.1 L1989.5,688.1 L1991.0,688.1 L1992.5,688.1 L1994.0,688.0 L1995.5,688.0 L1997.0,688.0 L1998.5,688.0 L2000.0,687.9 L2001.5,687.9 L2003.0,687.9 L2004.5,687.9 L2006.0,687.8 L2007.5,687.8 L2009.0,687.8 L2010.5,687.7 L2012.0,687.7 L2013.5,687.7 L2015.0,687.7 L2016.5,687.6 L2018.0,687.6 L2019.5,687.6 L2021.0,687.6 L2022.5,687.5 L2024.0,687.5 L2025.5,687.5 L2027.0,687.5 L2028.5,687.4 L2030.0,687.4 L2031.5,687.4 L2033.0,687.3 L2034.5,687.3 L2036.0,687.3 L2037.5,687.2 L2039.0,687.2 L2040.5,687.1 L2042.0,687.1 L2043.5,687.0 L2045.0,687.0 L2046.5,686.9 L2048.0,686.8 L2049.5,686.8 L2051.0,686.7 L2052.5,686.7 L2054.0,686.6 L2055.5,686.6 L2057.0,686.5 L2058.5,686.5 L2060.0,686.4 L2061.5,686.3 L2063.0,686.3 L2064.5,686.2 L2066.0,686.2 L2067.5,686.1 L2069.0,686.1 L2070.5,686.0 L2072.0,686.0 L2073.5,685.9 L2075.0,685.8 L2076.5,685.8 L2078.0,685.7 L2079.5,685.7 L2081.0,685.6 L2082.5,685.6 L2084.0,685.5 L2085.5,685.5 L2087.0,685.4 L2088.5,685.3 L2090.0,685.3 L2091.5,685.2 L2093.0,685.2 L2094.5,685.1 L2096.0,685.1 L2097.5,685.0 L2099.0,685.0 L2100.5,684.9 L2102.0,684.8 L2103.5,684.8 L2105.0,684.7 L2106.5,684.7 L2108.0,684.6 L2109.5,684.6 L2111.0,684.5 L2112.5,684.5 L2114.0,684.4 L2115.5,684.4 L2117.0,684.3 L2118.5,684.2 L2120.0,684.2 L2121.5,684.1 L2123.0,684.1 L2124.5,684.1 L2126.0,684.1 L2127.5,684.1 L2129.0,684.1 L2130.5,684.1 L2132.0,684.1 L2133.5,684.2 L2135.0,684.2 L2136.5,684.2 L2138.0,684.3 L2139.5,684.3 L2141.0,684.3 L2142.5,684.4 L2144.0,684.4 L2145.5,684.4 L2147.0,684.4 L2148.5,684.5 L2150.0,684.5 L2151.5,684.5 L2153.0,684.6 L2154.5,684.6 L2156.0,684.6 L2157.5,684.7 L2159.0,684.7 L2160.5,684.7 L2162.0,684.7 L2163.5,684.8 L2165.0,684.8 L2166.5,684.8 L2168.0,684.9 L2169.5,684.9 L2171.0,684.9 L2172.5,684.9 L2174.0,685.0 L2175.5,685.0 L2177.0,685.0 L2178.5,685.1 L2180.0,685.1 L2181.5,685.1 L2183.0,685.2 L2184.5,685.2 L2186.0,685.2 L2187.5,685.2 L2189.0,685.3 L2190.5,685.3 L2192.0,685.3 L2193.5,685.4 L2195.0,685.4 L2196.5,685.4 L2198.0,685.5 L2199.5,685.5 L2201.0,685.5 L2202.5,685.6 L2204.0,685.6 L2205.5,685.6 L2207.0,685.6 L2208.5,685.7 L2210.0,685.7 L2211.5,685.7 L2213.0,685.8 L2214.5,685.8 L2216.0,685.8 L2217.5,685.9 L2219.0,685.9 L2220.5,685.9 L2222.0,685.9 L2223.5,686.0 L2225.0,686.0 L2226.5,686.0 L2228.0,686.1 L2229.5,686.1 L2231.0,686.1 L2232.5,686.1 L2234.0,686.2 L2235.5,686.2 L2237.0,686.2 L2238.5,686.3 L2240.0,686.3 L2241.5,686.3 L2243.0,686.4 L2244.5,686.4 L2246.0,686.4 L2247.5,686.5 L2249.0,686.5 L2250.5,686.5 L2252.0,686.5 L2253.5,686.6 L2255.0,686.6 L2256.5,686.6 L2258.0,686.7 L2259.5,686.7 L2261.0,686.7 L2262.5,686.8 L2264.0,686.8 L2265.5,686.8 L2267.0,686.8 L2268.5,686.9 L2270.0,686.9 L2271.5,686.9 L2273.0,687.0 L2274.5,687.0 L2276.0,687.0 L2277.5,687.0 L2279.0,687.1 L2280.5,687.1 L2282.0,687.1 L2283.5,687.2 L2285.0,687.2 L2286.5,687.2 L2288.0,687.3 L2289.5,687.3 L2291.0,687.3 L2292.5,687.4 L2294.0,687.4 L2295.5,687.4 L2297.0,687.4 L2298.5,687.5 L2300.0,687.5 L2301.5,687.5 L2303.0,687.5 L2304.5,687.5 L2306.0,687.5 L2307.5,687.5 L2309.0,687.5 L2310.5,687.5 L2312.0,687.5 L2313.5,687.5 L2315.0,687.4 L2316.5,687.4 L2318.0,687.4 L2319.5,687.4 L2321.0,687.4 L2322.5,687.4 L2324.0,687.4 L2325.5,687.4 L2327.0,687.4 L2328.5,687.4 L2330.0,687.4 L2331.5,687.4 L2333.0,687.4 L2334.5,687.4 L2336.0,687.4 L2337.5,687.4 L2339.0,687.4 L2340.5,687.4 L2342.0,687.4 L2343.5,687.3 L2345.0,687.3 L2346.5,687.3 L2348.0,687.3 L2349.5,687.3 L2351.0,687.3 L2352.5,687.3 L2354.0,687.3 L2355.5,687.3 L2357.0,687.3 L2358.5,687.3 L2360.0,687.3 L2361.5,687.3 L2363.0,687.3 L2364.5,687.3 L2366.0,687.3 L2367.5,687.3 L2369.0,687.3 L2370.5,687.3 L2372.0,687.2 L2373.5,687.2 L2375.0,687.2 L2376.5,687.2 L2378.0,687.2 L2379.5,687.2 L2381.0,687.2 L2382.5,687.2 L2384.0,687.2 L2385.5,687.2 L2387.0,687.2 L2388.5,687.2 L2390.0,687.2 L2391.5,687.2 L2393.0,687.2 L2394.5,687.2 L2396.0,687.2 L2397.5,687.2 L2399.0,687.2 L2400.5,687.1 L2402.0,687.1 L2403.5,687.1 L2405.0,687.1 L2406.5,687.1 L2408.0,687.1 L2409.5,687.1 L2411.0,687.1 L2412.5,687.1 L2414.0,687.1 L2415.5,687.1 L2417.0,687.1 L2418.5,687.1 L2420.0,687.1 L2421.5,687.1 L2423.0,687.1 L2424.5,687.1 L2426.0,687.1 L2427.5,687.1 L2429.0,687.0 L2430.5,687.0 L2432.0,687.0 L2433.5,687.0 L2435.0,687.0 L2436.5,687.0 L2438.0,686.9 L2439.5,686.7 L2441.0,686.1 L2442.5,684.9 L2444.0,683.1 L2445.5,681.0 L2447.0,679.0 L2448.5,677.4" fill="none" stroke="#80f5a8" stroke-width="2.6" stroke-linejoin="round" stroke-linecap="round" opacity="1"/><path d="M1121.0,676.9 L1122.5,676.2 L1124.0,675.5 L1125.5,674.9 L1127.0,674.4 L1128.5,674.1 L1130.0,673.9 L1131.5,673.9 L1133.0,673.9 L1134.5,673.9 L1136.0,674.0 L1137.5,673.9 L1139.0,673.8 L1140.5,673.8 L1142.0,673.7 L1143.5,673.8 L1145.0,673.8 L1146.5,674.0 L1148.0,674.2 L1149.5,674.4 L1151.0,674.5 L1152.5,674.5 L1154.0,674.4 L1155.5,674.1 L1157.0,673.8 L1158.5,673.4 L1160.0,673.1 L1161.5,672.9 L1163.0,672.9 L1164.5,672.9 L1166.0,672.8 L1167.5,672.8 L1169.0,672.8 L1170.5,672.8 L1172.0,673.0 L1173.5,673.3 L1175.0,673.7 L1176.5,674.1 L1178.0,674.4 L1179.5,674.4 L1181.0,674.3 L1182.5,674.0 L1184.0,673.7 L1185.5,673.5 L1187.0,673.5 L1188.5,673.6 L1190.0,674.0 L1191.5,674.4 L1193.0,674.8 L1194.5,675.0 L1196.0,675.0 L1197.5,674.8 L1199.0,674.6 L1200.5,674.2 L1202.0,673.9 L1203.5,673.7 L1205.0,673.6 L1206.5,673.5 L1208.0,673.5 L1209.5,673.5 L1211.0,673.4 L1212.5,673.3 L1214.0,673.2 L1215.5,673.0 L1217.0,672.8 L1218.5,672.7 L1220.0,672.6 L1221.5,672.7 L1223.0,672.9 L1224.5,673.4 L1226.0,673.8 L1227.5,674.3 L1229.0,674.7 L1230.5,674.9 L1232.0,675.0 L1233.5,674.9 L1235.0,674.6 L1236.5,674.3 L1238.0,674.1 L1239.5,673.9 L1241.0,673.8 L1242.5,673.7 L1244.0,673.7 L1245.5,673.8 L1247.0,674.0 L1248.5,674.2 L1250.0,674.6 L1251.5,674.9 L1253.0,675.2 L1254.5,675.3 L1256.0,675.2 L1257.5,675.1 L1259.0,674.9 L1260.5,674.8 L1262.0,674.8 L1263.5,674.8 L1265.0,674.7 L1266.5,674.5 L1268.0,674.3 L1269.5,674.1 L1271.0,673.9 L1272.5,673.8 L1274.0,673.9 L1275.5,674.0 L1277.0,674.3 L1278.5,674.5 L1280.0,674.8 L1281.5,675.0 L1283.0,675.1 L1284.5,675.1 L1286.0,675.0 L1287.5,674.8 L1289.0,674.7 L1290.5,674.5 L1292.0,674.3 L1293.5,674.2 L1295.0,674.2 L1296.5,674.2 L1298.0,674.3 L1299.5,674.4 L1301.0,674.5 L1302.5,674.6 L1304.0,674.8 L1305.5,674.9 L1307.0,675.1 L1308.5,675.2 L1310.0,675.2 L1311.5,675.1 L1313.0,674.9 L1314.5,674.6 L1316.0,674.2 L1317.5,673.7 L1319.0,673.3 L1320.5,672.9 L1322.0,672.6 L1323.5,672.3 L1325.0,672.2 L1326.5,672.3 L1328.0,672.4 L1329.5,672.5 L1331.0,672.7 L1332.5,672.8 L1334.0,672.8 L1335.5,672.8 L1337.0,672.7 L1338.5,672.7 L1340.0,672.7 L1341.5,672.7 L1343.0,672.8 L1344.5,673.0 L1346.0,673.4 L1347.5,673.8 L1349.0,674.4 L1350.5,674.9 L1352.0,675.4 L1353.5,675.7 L1355.0,676.0 L1356.5,676.1 L1358.0,676.1 L1359.5,676.0 L1361.0,675.9 L1362.5,675.8 L1364.0,675.7 L1365.5,675.5 L1367.0,675.3 L1368.5,675.1 L1370.0,674.8 L1371.5,674.5 L1373.0,674.4 L1374.5,674.3 L1376.0,674.3 L1377.5,674.5 L1379.0,674.7 L1380.5,674.9 L1382.0,675.1 L1383.5,675.2 L1385.0,675.3 L1386.5,675.3 L1388.0,675.4 L1389.5,675.4 L1391.0,675.4 L1392.5,675.4 L1394.0,675.3 L1395.5,675.2 L1397.0,675.0 L1398.5,674.9 L1400.0,674.9 L1401.5,675.0 L1403.0,675.2 L1404.5,675.3 L1406.0,675.3 L1407.5,675.3 L1409.0,675.2 L1410.5,675.1 L1412.0,675.1 L1413.5,675.1 L1415.0,675.1 L1416.5,675.1 L1418.0,675.1 L1419.5,675.0 L1421.0,674.9 L1422.5,674.8 L1424.0,674.8 L1425.5,674.9 L1427.0,675.1 L1428.5,675.3 L1430.0,675.4 L1431.5,675.5 L1433.0,675.5 L1434.5,675.4 L1436.0,675.4 L1437.5,675.4 L1439.0,675.4 L1440.5,675.5 L1442.0,675.6 L1443.5,675.7 L1445.0,675.8 L1446.5,676.0 L1448.0,676.2 L1449.5,676.4 L1451.0,676.5 L1452.5,676.5 L1454.0,676.3 L1455.5,676.2 L1457.0,676.0 L1458.5,676.0 L1460.0,676.0 L1461.5,676.0 L1463.0,676.1 L1464.5,676.3 L1466.0,676.5 L1467.5,676.7 L1469.0,676.9 L1470.5,677.0 L1472.0,677.1 L1473.5,677.0 L1475.0,676.9 L1476.5,676.6 L1478.0,676.3 L1479.5,676.1 L1481.0,676.0 L1482.5,675.9 L1484.0,675.9 L1485.5,676.0 L1487.0,676.0 L1488.5,675.9 L1490.0,675.8 L1491.5,675.6 L1493.0,675.5 L1494.5,675.5 L1496.0,675.5 L1497.5,675.6 L1499.0,675.8 L1500.5,676.0 L1502.0,676.1 L1503.5,676.2 L1505.0,676.3 L1506.5,676.4 L1508.0,676.5 L1509.5,676.6 L1511.0,676.7 L1512.5,676.8 L1514.0,676.8 L1515.5,676.8 L1517.0,676.7 L1518.5,676.7 L1520.0,676.7 L1521.5,676.7 L1523.0,676.8 L1524.5,676.9 L1526.0,677.0 L1527.5,677.0 L1529.0,676.9 L1530.5,676.7 L1532.0,676.4 L1533.5,676.0 L1535.0,675.5 L1536.5,675.1 L1538.0,674.6 L1539.5,674.4 L1541.0,674.2 L1542.5,674.2 L1544.0,674.4 L1545.5,674.7 L1547.0,675.0 L1548.5,675.3 L1550.0,675.6 L1551.5,675.8 L1553.0,676.0 L1554.5,676.3 L1556.0,676.5 L1557.5,676.7 L1559.0,677.0 L1560.5,677.2 L1562.0,677.4 L1563.5,677.6 L1565.0,677.7 L1566.5,677.6 L1568.0,677.4 L1569.5,677.1 L1571.0,676.8 L1572.5,676.5 L1574.0,676.3 L1575.5,676.3 L1577.0,676.2 L1578.5,676.1 L1580.0,676.0 L1581.5,675.8 L1583.0,675.6 L1584.5,675.4 L1586.0,675.5 L1587.5,675.6 L1589.0,675.9 L1590.5,676.2 L1592.0,676.5 L1593.5,676.7 L1595.0,676.8 L1596.5,676.7 L1598.0,676.7 L1599.5,676.5 L1601.0,676.3 L1602.5,676.1 L1604.0,676.0 L1605.5,675.9 L1607.0,675.9 L1608.5,676.0 L1610.0,676.1 L1611.5,676.2 L1613.0,676.2 L1614.5,676.1 L1616.0,675.9 L1617.5,675.7 L1619.0,675.4 L1620.5,675.2 L1622.0,675.1 L1623.5,675.1 L1625.0,675.2 L1626.5,675.3 L1628.0,675.4 L1629.5,675.5 L1631.0,675.5 L1632.5,675.4 L1634.0,675.4 L1635.5,675.5 L1637.0,675.8 L1638.5,676.3 L1640.0,676.9 L1641.5,677.7 L1643.0,678.4 L1644.5,678.5 L1646.0,678.4 L1647.5,678.0 L1649.0,677.4 L1650.5,676.8 L1652.0,676.2 L1653.5,675.9 L1655.0,675.8 L1656.5,675.9 L1658.0,676.1 L1659.5,676.4 L1661.0,676.6 L1662.5,676.7 L1664.0,676.7 L1665.5,676.6 L1667.0,676.4 L1668.5,676.3 L1670.0,676.1 L1671.5,675.9 L1673.0,675.8 L1674.5,675.9 L1676.0,676.0 L1677.5,676.1 L1679.0,676.3 L1680.5,676.5 L1682.0,676.6 L1683.5,676.7 L1685.0,676.9 L1686.5,676.9 L1688.0,677.0 L1689.5,676.8 L1691.0,676.5 L1692.5,676.1 L1694.0,675.6 L1695.5,675.2 L1697.0,674.9 L1698.5,675.0 L1700.0,675.3 L1701.5,675.7 L1703.0,676.1 L1704.5,676.4 L1706.0,676.6 L1707.5,676.6 L1709.0,676.7 L1710.5,676.8 L1712.0,677.0 L1713.5,677.3 L1715.0,677.7 L1716.5,678.0 L1718.0,678.1 L1719.5,678.1 L1721.0,677.9 L1722.5,677.6 L1724.0,677.3 L1725.5,677.1 L1727.0,676.9 L1728.5,676.9 L1730.0,677.0 L1731.5,677.1 L1733.0,677.3 L1734.5,677.3 L1736.0,677.2 L1737.5,677.1 L1739.0,676.9 L1740.5,676.6 L1742.0,676.4 L1743.5,676.1 L1745.0,675.8 L1746.5,675.5 L1748.0,675.2 L1749.5,674.9 L1751.0,674.8 L1752.5,674.7 L1754.0,674.7 L1755.5,674.8 L1757.0,674.9 L1758.5,675.0 L1760.0,676.1 L1761.5,676.4 L1763.0,676.7 L1764.5,677.1 L1766.0,677.4 L1767.5,677.8 L1769.0,678.1 L1770.5,678.3 L1772.0,678.4 L1773.5,678.5 L1775.0,678.6 L1776.5,678.6 L1778.0,678.7 L1779.5,678.9 L1781.0,679.0 L1782.5,679.1 L1784.0,679.2 L1785.5,679.1 L1787.0,679.0 L1788.5,678.8 L1790.0,678.5 L1791.5,678.1 L1793.0,677.8 L1794.5,677.5 L1796.0,677.3 L1797.5,677.3 L1799.0,677.4 L1800.5,677.7 L1802.0,677.9 L1803.5,678.1 L1805.0,678.3 L1806.5,678.3 L1808.0,678.3 L1809.5,678.4 L1811.0,678.4 L1812.5,678.6 L1814.0,678.8 L1815.5,679.0 L1817.0,679.3 L1818.5,679.5 L1820.0,679.7 L1821.5,679.8 L1823.0,679.9 L1824.5,680.0 L1826.0,680.0 L1827.5,680.0 L1829.0,680.1 L1830.5,680.2 L1832.0,680.4 L1833.5,680.5 L1835.0,680.7 L1836.5,680.8 L1838.0,681.0 L1839.5,681.2 L1841.0,681.3 L1842.5,681.4 L1844.0,681.3 L1845.5,681.2 L1847.0,681.1 L1848.5,681.0 L1850.0,680.9 L1851.5,681.0 L1853.0,681.1 L1854.5,681.3 L1856.0,681.5 L1857.5,681.7 L1859.0,681.8 L1860.5,681.9 L1862.0,682.0 L1863.5,682.1 L1865.0,682.1 L1866.5,682.1 L1868.0,682.1 L1869.5,682.1 L1871.0,682.0 L1872.5,682.0 L1874.0,682.0 L1875.5,682.0 L1877.0,682.1 L1878.5,682.2 L1880.0,682.4 L1881.5,682.9 L1883.0,684.4 L1884.5,687.5 L1886.0,691.5 L1887.5,693.5 L1889.0,691.7 L1890.5,687.5 L1892.0,684.0 L1893.5,682.3 L1895.0,681.9 L1896.5,681.9 L1898.0,682.1 L1899.5,682.4 L1901.0,682.9 L1902.5,683.3 L1904.0,683.9 L1905.5,684.3 L1907.0,684.7 L1908.5,685.0 L1910.0,685.2 L1911.5,685.2 L1913.0,685.0 L1914.5,684.8 L1916.0,684.5 L1917.5,684.2 L1919.0,684.0 L1920.5,683.9 L1922.0,683.9 L1923.5,683.9 L1925.0,683.9 L1926.5,684.0 L1928.0,684.0 L1929.5,683.9 L1931.0,683.9 L1932.5,683.8 L1934.0,683.8 L1935.5,683.9 L1937.0,684.0 L1938.5,684.2 L1940.0,684.4 L1941.5,684.7 L1943.0,684.8 L1944.5,684.9 L1946.0,684.8 L1947.5,684.7 L1949.0,684.6 L1950.5,684.4 L1952.0,684.3 L1953.5,684.3 L1955.0,684.4 L1956.5,684.5 L1958.0,684.6 L1959.5,684.9 L1961.0,685.2 L1962.5,685.6 L1964.0,686.0 L1965.5,686.4 L1967.0,686.7 L1968.5,687.0 L1970.0,687.2 L1971.5,687.2 L1973.0,687.1 L1974.5,686.9 L1976.0,686.7 L1977.5,686.5 L1979.0,686.3 L1980.5,686.1 L1982.0,686.0 L1983.5,685.9 L1985.0,685.9 L1986.5,685.8 L1988.0,685.9 L1989.5,685.9 L1991.0,686.1 L1992.5,686.3 L1994.0,686.5 L1995.5,686.7 L1997.0,686.8 L1998.5,686.9 L2000.0,686.9 L2001.5,686.8 L2003.0,686.7 L2004.5,686.5 L2006.0,686.2 L2007.5,685.9 L2009.0,685.6 L2010.5,685.3 L2012.0,685.2 L2013.5,685.1 L2015.0,685.0 L2016.5,684.8 L2018.0,684.6 L2019.5,684.2 L2021.0,683.7 L2022.5,683.4 L2024.0,683.2 L2025.5,683.3 L2027.0,683.6 L2028.5,684.1 L2030.0,684.7 L2031.5,685.2 L2033.0,685.6 L2034.5,685.8 L2036.0,685.7 L2037.5,685.5 L2039.0,685.3 L2040.5,685.0 L2042.0,684.7 L2043.5,684.5 L2045.0,684.3 L2046.5,684.3 L2048.0,684.3 L2049.5,684.3 L2051.0,684.2 L2052.5,684.1 L2054.0,684.0 L2055.5,683.9 L2057.0,683.7 L2058.5,683.6 L2060.0,683.5 L2061.5,683.5 L2063.0,683.5 L2064.5,683.5 L2066.0,683.5 L2067.5,683.4 L2069.0,683.3 L2070.5,683.0 L2072.0,682.7 L2073.5,682.5 L2075.0,682.3 L2076.5,682.2 L2078.0,682.3 L2079.5,682.3 L2081.0,682.3 L2082.5,682.3 L2084.0,682.3 L2085.5,682.3 L2087.0,682.3 L2088.5,682.4 L2090.0,682.5 L2091.5,682.6 L2093.0,682.8 L2094.5,682.8 L2096.0,682.9 L2097.5,683.0 L2099.0,683.0 L2100.5,683.0 L2102.0,682.9 L2103.5,682.6 L2105.0,682.3 L2106.5,681.9 L2108.0,681.5 L2109.5,681.2 L2111.0,681.0 L2112.5,680.8 L2114.0,680.8 L2115.5,680.7 L2117.0,680.6 L2118.5,680.4 L2120.0,680.2 L2121.5,680.0 L2123.0,679.8 L2124.5,679.8 L2126.0,679.8 L2127.5,679.8 L2129.0,679.9 L2130.5,680.0 L2132.0,680.0 L2133.5,680.0 L2135.0,680.1 L2136.5,680.1 L2138.0,680.3 L2139.5,680.4 L2141.0,680.5 L2142.5,680.5 L2144.0,680.4 L2145.5,680.4 L2147.0,680.4 L2148.5,680.4 L2150.0,680.6 L2151.5,680.7 L2153.0,680.9 L2154.5,681.0 L2156.0,681.0 L2157.5,680.9 L2159.0,680.8 L2160.5,680.7 L2162.0,680.7 L2163.5,680.7 L2165.0,680.8 L2166.5,680.9 L2168.0,681.1 L2169.5,681.4 L2171.0,681.7 L2172.5,682.0 L2174.0,682.3 L2175.5,682.5 L2177.0,682.8 L2178.5,683.0 L2180.0,683.2 L2181.5,683.3 L2183.0,683.4 L2184.5,683.5 L2186.0,683.6 L2187.5,683.7 L2189.0,683.8 L2190.5,683.7 L2192.0,683.5 L2193.5,683.2 L2195.0,682.7 L2196.5,682.3 L2198.0,681.9 L2199.5,681.5 L2201.0,681.3 L2202.5,681.2 L2204.0,681.3 L2205.5,681.4 L2207.0,681.6 L2208.5,681.7 L2210.0,681.7 L2211.5,681.7 L2213.0,681.6 L2214.5,681.5 L2216.0,681.5 L2217.5,681.6 L2219.0,681.9 L2220.5,682.3 L2222.0,682.6 L2223.5,682.9 L2225.0,683.0 L2226.5,683.0 L2228.0,682.9 L2229.5,682.7 L2231.0,682.5 L2232.5,682.3 L2234.0,682.2 L2235.5,682.1 L2237.0,682.3 L2238.5,682.6 L2240.0,683.0 L2241.5,683.3 L2243.0,683.6 L2244.5,683.7 L2246.0,683.7 L2247.5,683.6 L2249.0,683.5 L2250.5,683.4 L2252.0,683.3 L2253.5,683.4 L2255.0,683.5 L2256.5,683.7 L2258.0,683.9 L2259.5,684.0 L2261.0,684.2 L2262.5,684.3 L2264.0,684.3 L2265.5,684.3 L2267.0,684.3 L2268.5,684.2 L2270.0,684.0 L2271.5,683.8 L2273.0,683.6 L2274.5,683.4 L2276.0,683.3 L2277.5,683.3 L2279.0,683.4 L2280.5,683.6 L2282.0,683.8 L2283.5,684.0 L2285.0,684.3 L2286.5,684.5 L2288.0,684.6 L2289.5,684.5 L2291.0,684.4 L2292.5,684.2 L2294.0,683.9 L2295.5,683.6 L2297.0,683.4 L2298.5,683.3 L2300.0,683.3 L2301.5,683.5 L2303.0,683.8 L2304.5,684.1 L2306.0,684.4 L2307.5,684.5 L2309.0,684.6 L2310.5,684.6 L2312.0,684.5 L2313.5,684.5 L2315.0,684.4 L2316.5,684.4 L2318.0,684.4 L2319.5,684.3 L2321.0,684.1 L2322.5,684.0 L2324.0,683.9 L2325.5,683.8 L2327.0,683.8 L2328.5,683.8 L2330.0,683.8 L2331.5,683.8 L2333.0,683.8 L2334.5,683.9 L2336.0,684.0 L2337.5,684.1 L2339.0,684.3 L2340.5,684.4 L2342.0,684.6 L2343.5,684.7 L2345.0,684.8 L2346.5,684.7 L2348.0,684.6 L2349.5,684.3 L2351.0,683.9 L2352.5,683.6 L2354.0,683.3 L2355.5,683.2 L2357.0,683.1 L2358.5,683.1 L2360.0,683.1 L2361.5,683.1 L2363.0,683.0 L2364.5,683.0 L2366.0,683.1 L2367.5,683.2 L2369.0,683.4 L2370.5,683.6 L2372.0,683.8 L2373.5,684.0 L2375.0,684.3 L2376.5,684.5 L2378.0,684.7 L2379.5,684.9 L2381.0,685.0 L2382.5,685.1 L2384.0,685.1 L2385.5,685.2 L2387.0,685.3 L2388.5,685.4 L2390.0,685.5 L2391.5,685.6 L2393.0,685.6 L2394.5,685.5 L2396.0,685.4 L2397.5,685.2 L2399.0,684.9 L2400.5,684.7 L2402.0,684.4 L2403.5,684.3 L2405.0,684.4 L2406.5,684.6 L2408.0,684.8 L2409.5,685.1 L2411.0,685.3 L2412.5,685.3 L2414.0,685.0 L2415.5,684.6 L2417.0,684.1 L2418.5,683.6 L2420.0,683.1 L2421.5,682.8 L2423.0,682.5 L2424.5,682.4 L2426.0,682.4 L2427.5,682.5 L2429.0,682.6 L2430.5,682.8 L2432.0,683.0 L2433.5,683.3 L2435.0,683.6 L2436.5,683.9 L2438.0,684.1 L2439.5,684.1 L2441.0,683.9 L2442.5,683.1 L2444.0,681.8 L2445.5,680.3 L2447.0,678.8 L2448.5,677.7" fill="none" stroke="#9050e8" stroke-width="2.2" stroke-linejoin="round" stroke-linecap="round" opacity="0.9"/><path d="M1121.0,675.3 L1122.5,675.3 L1124.0,675.3 L1125.5,675.3 L1127.0,675.3 L1128.5,675.3 L1130.0,675.3 L1131.5,675.2 L1133.0,675.2 L1134.5,675.2 L1136.0,675.2 L1137.5,675.2 L1139.0,675.2 L1140.5,675.2 L1142.0,675.2 L1143.5,675.2 L1145.0,675.2 L1146.5,675.2 L1148.0,675.2 L1149.5,675.2 L1151.0,675.2 L1152.5,675.1 L1154.0,675.1 L1155.5,675.1 L1157.0,675.1 L1158.5,675.1 L1160.0,675.1 L1161.5,675.1 L1163.0,675.1 L1164.5,675.1 L1166.0,675.1 L1167.5,675.1 L1169.0,675.1 L1170.5,675.1 L1172.0,675.0 L1173.5,675.0 L1175.0,675.0 L1176.5,675.0 L1178.0,675.0 L1179.5,675.0 L1181.0,675.0 L1182.5,675.0 L1184.0,675.0 L1185.5,675.0 L1187.0,675.0 L1188.5,675.0 L1190.0,675.0 L1191.5,675.0 L1193.0,674.9 L1194.5,674.9 L1196.0,674.9 L1197.5,674.9 L1199.0,674.9 L1200.5,674.9 L1202.0,674.9 L1203.5,674.9 L1205.0,674.9 L1206.5,674.9 L1208.0,674.9 L1209.5,674.9 L1211.0,674.9 L1212.5,674.9 L1214.0,674.8 L1215.5,674.8 L1217.0,674.8 L1218.5,674.8 L1220.0,674.8 L1221.5,674.8 L1223.0,674.8 L1224.5,674.8 L1226.0,674.8 L1227.5,674.8 L1229.0,674.8 L1230.5,674.8 L1232.0,674.8 L1233.5,674.7 L1235.0,674.7 L1236.5,674.7 L1238.0,674.7 L1239.5,674.7 L1241.0,674.7 L1242.5,674.7 L1244.0,674.7 L1245.5,674.7 L1247.0,674.8 L1248.5,674.8 L1250.0,674.8 L1251.5,674.8 L1253.0,674.8 L1254.5,674.8 L1256.0,674.8 L1257.5,674.8 L1259.0,674.9 L1260.5,674.9 L1262.0,674.9 L1263.5,674.9 L1265.0,674.9 L1266.5,674.9 L1268.0,674.9 L1269.5,675.0 L1271.0,675.0 L1272.5,675.0 L1274.0,675.0 L1275.5,675.0 L1277.0,675.0 L1278.5,675.0 L1280.0,675.1 L1281.5,675.1 L1283.0,675.1 L1284.5,675.1 L1286.0,675.1 L1287.5,675.1 L1289.0,675.2 L1290.5,675.2 L1292.0,675.2 L1293.5,675.2 L1295.0,675.2 L1296.5,675.2 L1298.0,675.2 L1299.5,675.3 L1301.0,675.3 L1302.5,675.3 L1304.0,675.3 L1305.5,675.3 L1307.0,675.3 L1308.5,675.3 L1310.0,675.4 L1311.5,675.4 L1313.0,675.4 L1314.5,675.4 L1316.0,675.4 L1317.5,675.4 L1319.0,675.4 L1320.5,675.5 L1322.0,675.5 L1323.5,675.5 L1325.0,675.5 L1326.5,675.5 L1328.0,675.5 L1329.5,675.5 L1331.0,675.6 L1332.5,675.6 L1334.0,675.6 L1335.5,675.6 L1337.0,675.6 L1338.5,675.6 L1340.0,675.7 L1341.5,675.7 L1343.0,675.7 L1344.5,675.7 L1346.0,675.7 L1347.5,675.7 L1349.0,675.7 L1350.5,675.8 L1352.0,675.8 L1353.5,675.8 L1355.0,675.8 L1356.5,675.8 L1358.0,675.8 L1359.5,675.8 L1361.0,675.9 L1362.5,675.9 L1364.0,675.9 L1365.5,675.9 L1367.0,675.9 L1368.5,675.9 L1370.0,675.9 L1371.5,676.0 L1373.0,676.0 L1374.5,676.0 L1376.0,676.0 L1377.5,676.0 L1379.0,676.1 L1380.5,676.1 L1382.0,676.1 L1383.5,676.1 L1385.0,676.1 L1386.5,676.1 L1388.0,676.2 L1389.5,676.2 L1391.0,676.2 L1392.5,676.2 L1394.0,676.2 L1395.5,676.3 L1397.0,676.3 L1398.5,676.3 L1400.0,676.3 L1401.5,676.3 L1403.0,676.4 L1404.5,676.4 L1406.0,676.4 L1407.5,676.4 L1409.0,676.4 L1410.5,676.5 L1412.0,676.5 L1413.5,676.5 L1415.0,676.5 L1416.5,676.5 L1418.0,676.6 L1419.5,676.6 L1421.0,676.6 L1422.5,676.6 L1424.0,676.7 L1425.5,676.7 L1427.0,676.7 L1428.5,676.7 L1430.0,676.7 L1431.5,676.8 L1433.0,676.8 L1434.5,676.8 L1436.0,676.8 L1437.5,676.8 L1439.0,676.9 L1440.5,676.9 L1442.0,676.9 L1443.5,676.9 L1445.0,676.9 L1446.5,676.9 L1448.0,677.0 L1449.5,677.0 L1451.0,677.0 L1452.5,677.0 L1454.0,677.0 L1455.5,677.0 L1457.0,677.0 L1458.5,677.0 L1460.0,677.0 L1461.5,677.0 L1463.0,677.0 L1464.5,677.0 L1466.0,677.0 L1467.5,677.0 L1469.0,677.0 L1470.5,677.1 L1472.0,677.1 L1473.5,677.1 L1475.0,677.1 L1476.5,677.1 L1478.0,677.1 L1479.5,677.1 L1481.0,677.1 L1482.5,677.1 L1484.0,677.1 L1485.5,677.1 L1487.0,677.1 L1488.5,677.1 L1490.0,677.1 L1491.5,677.1 L1493.0,677.1 L1494.5,677.1 L1496.0,677.1 L1497.5,677.1 L1499.0,677.1 L1500.5,677.1 L1502.0,677.1 L1503.5,677.1 L1505.0,677.1 L1506.5,677.1 L1508.0,677.1 L1509.5,677.2 L1511.0,677.2 L1512.5,677.2 L1514.0,677.2 L1515.5,677.2 L1517.0,677.2 L1518.5,677.2 L1520.0,677.2 L1521.5,677.2 L1523.0,677.2 L1524.5,677.2 L1526.0,677.2 L1527.5,677.2 L1529.0,677.2 L1530.5,677.2 L1532.0,677.2 L1533.5,677.2 L1535.0,677.2 L1536.5,677.2 L1538.0,677.2 L1539.5,677.2 L1541.0,677.2 L1542.5,677.2 L1544.0,677.2 L1545.5,677.2 L1547.0,677.3 L1548.5,677.3 L1550.0,677.3 L1551.5,677.3 L1553.0,677.3 L1554.5,677.3 L1556.0,677.3 L1557.5,677.3 L1559.0,677.3 L1560.5,677.3 L1562.0,677.3 L1563.5,677.3 L1565.0,677.3 L1566.5,677.3 L1568.0,677.3 L1569.5,677.3 L1571.0,677.3 L1572.5,677.3 L1574.0,677.3 L1575.5,677.3 L1577.0,677.3 L1578.5,677.3 L1580.0,677.3 L1581.5,677.3 L1583.0,677.3 L1584.5,677.3 L1586.0,677.4 L1587.5,677.4 L1589.0,677.4 L1590.5,677.4 L1592.0,677.4 L1593.5,677.4 L1595.0,677.4 L1596.5,677.4 L1598.0,677.4 L1599.5,677.4 L1601.0,677.4 L1602.5,677.4 L1604.0,677.4 L1605.5,677.4 L1607.0,677.4 L1608.5,677.4 L1610.0,677.4 L1611.5,677.4 L1613.0,677.4 L1614.5,677.4 L1616.0,677.4 L1617.5,677.4 L1619.0,677.4 L1620.5,677.4 L1622.0,677.4 L1623.5,677.4 L1625.0,677.5 L1626.5,677.5 L1628.0,677.5 L1629.5,677.5 L1631.0,677.5 L1632.5,677.5 L1634.0,677.5 L1635.5,677.6 L1637.0,677.6 L1638.5,677.6 L1640.0,677.7 L1641.5,677.7 L1643.0,677.8 L1644.5,677.8 L1646.0,677.9 L1647.5,677.9 L1649.0,677.9 L1650.5,678.0 L1652.0,678.0 L1653.5,678.0 L1655.0,678.0 L1656.5,678.0 L1658.0,678.0 L1659.5,678.0 L1661.0,678.0 L1662.5,678.0 L1664.0,678.0 L1665.5,678.0 L1667.0,678.0 L1668.5,678.0 L1670.0,678.0 L1671.5,678.0 L1673.0,678.0 L1674.5,678.0 L1676.0,678.0 L1677.5,678.0 L1679.0,678.0 L1680.5,678.0 L1682.0,678.0 L1683.5,678.0 L1685.0,678.0 L1686.5,678.0 L1688.0,678.0 L1689.5,678.0 L1691.0,678.0 L1692.5,678.0 L1694.0,678.0 L1695.5,678.0 L1697.0,678.0 L1698.5,678.0 L1700.0,678.0 L1701.5,678.0 L1703.0,678.0 L1704.5,678.0 L1706.0,678.0 L1707.5,678.0 L1709.0,678.0 L1710.5,678.0 L1712.0,678.0 L1713.5,678.0 L1715.0,678.0 L1716.5,678.0 L1718.0,678.0 L1719.5,678.0 L1721.0,678.0 L1722.5,678.0 L1724.0,678.0 L1725.5,678.0 L1727.0,678.0 L1728.5,678.0 L1730.0,678.0 L1731.5,678.0 L1733.0,678.0 L1734.5,678.0 L1736.0,678.0 L1737.5,678.0 L1739.0,678.0 L1740.5,678.0 L1742.0,678.0 L1743.5,678.0 L1745.0,678.0 L1746.5,678.0 L1748.0,678.0 L1749.5,678.0 L1751.0,678.1 L1752.5,678.1 L1754.0,678.2 L1755.5,678.2 L1757.0,678.3 L1758.5,678.4 L1760.0,678.5 L1761.5,678.6 L1763.0,678.7 L1764.5,678.8 L1766.0,678.9 L1767.5,678.9 L1769.0,679.0 L1770.5,679.0 L1772.0,679.0 L1773.5,679.1 L1775.0,679.1 L1776.5,679.1 L1778.0,679.1 L1779.5,679.2 L1781.0,679.2 L1782.5,679.2 L1784.0,679.2 L1785.5,679.3 L1787.0,679.3 L1788.5,679.3 L1790.0,679.4 L1791.5,679.4 L1793.0,679.5 L1794.5,679.6 L1796.0,679.6 L1797.5,679.7 L1799.0,679.8 L1800.5,679.8 L1802.0,679.9 L1803.5,680.0 L1805.0,680.1 L1806.5,680.1 L1808.0,680.2 L1809.5,680.3 L1811.0,680.4 L1812.5,680.4 L1814.0,680.5 L1815.5,680.6 L1817.0,680.7 L1818.5,680.7 L1820.0,680.8 L1821.5,680.9 L1823.0,681.0 L1824.5,681.0 L1826.0,681.1 L1827.5,681.2 L1829.0,681.3 L1830.5,681.3 L1832.0,681.4 L1833.5,681.5 L1835.0,681.6 L1836.5,681.6 L1838.0,681.7 L1839.5,681.8 L1841.0,681.9 L1842.5,681.9 L1844.0,682.0 L1845.5,682.1 L1847.0,682.2 L1848.5,682.2 L1850.0,682.3 L1851.5,682.4 L1853.0,682.5 L1854.5,682.5 L1856.0,682.6 L1857.5,682.7 L1859.0,682.8 L1860.5,682.8 L1862.0,682.9 L1863.5,683.0 L1865.0,683.1 L1866.5,683.2 L1868.0,683.3 L1869.5,683.4 L1871.0,683.5 L1872.5,683.8 L1874.0,684.0 L1875.5,684.4 L1877.0,684.9 L1878.5,685.5 L1880.0,686.2 L1881.5,686.9 L1883.0,687.6 L1884.5,688.2 L1886.0,688.6 L1887.5,688.8 L1889.0,688.8 L1890.5,688.5 L1892.0,688.1 L1893.5,687.6 L1895.0,687.0 L1896.5,686.5 L1898.0,686.0 L1899.5,685.7 L1901.0,685.4 L1902.5,685.3 L1904.0,685.2 L1905.5,685.2 L1907.0,685.2 L1908.5,685.2 L1910.0,685.3 L1911.5,685.3 L1913.0,685.4 L1914.5,685.4 L1916.0,685.4 L1917.5,685.5 L1919.0,685.5 L1920.5,685.6 L1922.0,685.6 L1923.5,685.6 L1925.0,685.7 L1926.5,685.7 L1928.0,685.8 L1929.5,685.8 L1931.0,685.8 L1932.5,685.9 L1934.0,685.9 L1935.5,685.9 L1937.0,686.0 L1938.5,686.0 L1940.0,686.0 L1941.5,686.1 L1943.0,686.1 L1944.5,686.2 L1946.0,686.2 L1947.5,686.2 L1949.0,686.3 L1950.5,686.3 L1952.0,686.3 L1953.5,686.4 L1955.0,686.4 L1956.5,686.4 L1958.0,686.4 L1959.5,686.5 L1961.0,686.5 L1962.5,686.5 L1964.0,686.5 L1965.5,686.5 L1967.0,686.5 L1968.5,686.5 L1970.0,686.5 L1971.5,686.4 L1973.0,686.4 L1974.5,686.4 L1976.0,686.4 L1977.5,686.3 L1979.0,686.3 L1980.5,686.3 L1982.0,686.3 L1983.5,686.2 L1985.0,686.2 L1986.5,686.2 L1988.0,686.1 L1989.5,686.1 L1991.0,686.1 L1992.5,686.1 L1994.0,686.0 L1995.5,686.0 L1997.0,686.0 L1998.5,686.0 L2000.0,685.9 L2001.5,685.9 L2003.0,685.9 L2004.5,685.9 L2006.0,685.8 L2007.5,685.8 L2009.0,685.8 L2010.5,685.7 L2012.0,685.7 L2013.5,685.7 L2015.0,685.7 L2016.5,685.6 L2018.0,685.6 L2019.5,685.6 L2021.0,685.6 L2022.5,685.5 L2024.0,685.5 L2025.5,685.5 L2027.0,685.4 L2028.5,685.4 L2030.0,685.4 L2031.5,685.4 L2033.0,685.3 L2034.5,685.3 L2036.0,685.2 L2037.5,685.2 L2039.0,685.2 L2040.5,685.1 L2042.0,685.1 L2043.5,685.0 L2045.0,685.0 L2046.5,684.9 L2048.0,684.8 L2049.5,684.8 L2051.0,684.7 L2052.5,684.7 L2054.0,684.6 L2055.5,684.6 L2057.0,684.5 L2058.5,684.5 L2060.0,684.4 L2061.5,684.3 L2063.0,684.3 L2064.5,684.2 L2066.0,684.2 L2067.5,684.1 L2069.0,684.1 L2070.5,684.0 L2072.0,684.0 L2073.5,683.9 L2075.0,683.8 L2076.5,683.8 L2078.0,683.7 L2079.5,683.7 L2081.0,683.6 L2082.5,683.6 L2084.0,683.5 L2085.5,683.5 L2087.0,683.4 L2088.5,683.3 L2090.0,683.3 L2091.5,683.2 L2093.0,683.2 L2094.5,683.1 L2096.0,683.1 L2097.5,683.0 L2099.0,683.0 L2100.5,682.9 L2102.0,682.8 L2103.5,682.8 L2105.0,682.7 L2106.5,682.7 L2108.0,682.6 L2109.5,682.5 L2111.0,682.3 L2112.5,682.2 L2114.0,682.0 L2115.5,681.7 L2117.0,681.4 L2118.5,681.0 L2120.0,680.7 L2121.5,680.3 L2123.0,679.9 L2124.5,679.6 L2126.0,679.3 L2127.5,679.1 L2129.0,678.9 L2130.5,678.8 L2132.0,678.8 L2133.5,678.7 L2135.0,678.7 L2136.5,678.7 L2138.0,678.8 L2139.5,678.8 L2141.0,678.8 L2142.5,678.9 L2144.0,678.9 L2145.5,678.9 L2147.0,678.9 L2148.5,679.0 L2150.0,679.0 L2151.5,679.0 L2153.0,679.1 L2154.5,679.1 L2156.0,679.1 L2157.5,679.1 L2159.0,679.2 L2160.5,679.2 L2162.0,679.2 L2163.5,679.3 L2165.0,679.3 L2166.5,679.3 L2168.0,679.4 L2169.5,679.4 L2171.0,679.4 L2172.5,679.5 L2174.0,679.5 L2175.5,679.5 L2177.0,679.5 L2178.5,679.6 L2180.0,679.6 L2181.5,679.6 L2183.0,679.7 L2184.5,679.7 L2186.0,679.7 L2187.5,679.8 L2189.0,679.8 L2190.5,679.8 L2192.0,679.8 L2193.5,679.9 L2195.0,679.9 L2196.5,679.9 L2198.0,680.0 L2199.5,680.0 L2201.0,680.0 L2202.5,680.0 L2204.0,680.1 L2205.5,680.1 L2207.0,680.1 L2208.5,680.2 L2210.0,680.2 L2211.5,680.2 L2213.0,680.3 L2214.5,680.3 L2216.0,680.3 L2217.5,680.3 L2219.0,680.4 L2220.5,680.4 L2222.0,680.4 L2223.5,680.5 L2225.0,680.5 L2226.5,680.5 L2228.0,680.6 L2229.5,680.6 L2231.0,680.6 L2232.5,680.7 L2234.0,680.7 L2235.5,680.7 L2237.0,680.7 L2238.5,680.8 L2240.0,680.8 L2241.5,680.8 L2243.0,680.9 L2244.5,680.9 L2246.0,680.9 L2247.5,680.9 L2249.0,681.0 L2250.5,681.0 L2252.0,681.0 L2253.5,681.1 L2255.0,681.1 L2256.5,681.1 L2258.0,681.2 L2259.5,681.2 L2261.0,681.2 L2262.5,681.2 L2264.0,681.3 L2265.5,681.3 L2267.0,681.3 L2268.5,681.4 L2270.0,681.4 L2271.5,681.4 L2273.0,681.5 L2274.5,681.5 L2276.0,681.5 L2277.5,681.5 L2279.0,681.6 L2280.5,681.6 L2282.0,681.6 L2283.5,681.7 L2285.0,681.7 L2286.5,681.7 L2288.0,681.8 L2289.5,681.8 L2291.0,681.8 L2292.5,681.8 L2294.0,681.9 L2295.5,681.9 L2297.0,681.9 L2298.5,681.9 L2300.0,681.9 L2301.5,682.0 L2303.0,682.0 L2304.5,682.0 L2306.0,682.0 L2307.5,682.0 L2309.0,682.0 L2310.5,682.0 L2312.0,682.0 L2313.5,682.0 L2315.0,681.9 L2316.5,681.9 L2318.0,681.9 L2319.5,681.9 L2321.0,681.9 L2322.5,681.9 L2324.0,681.9 L2325.5,681.9 L2327.0,681.9 L2328.5,681.9 L2330.0,681.9 L2331.5,681.9 L2333.0,681.9 L2334.5,681.9 L2336.0,681.9 L2337.5,681.9 L2339.0,681.9 L2340.5,681.9 L2342.0,681.9 L2343.5,681.8 L2345.0,681.8 L2346.5,681.8 L2348.0,681.8 L2349.5,681.8 L2351.0,681.8 L2352.5,681.8 L2354.0,681.8 L2355.5,681.8 L2357.0,681.8 L2358.5,681.8 L2360.0,681.8 L2361.5,681.8 L2363.0,681.8 L2364.5,681.8 L2366.0,681.8 L2367.5,681.8 L2369.0,681.8 L2370.5,681.8 L2372.0,681.7 L2373.5,681.7 L2375.0,681.7 L2376.5,681.7 L2378.0,681.7 L2379.5,681.7 L2381.0,681.7 L2382.5,681.7 L2384.0,681.7 L2385.5,681.7 L2387.0,681.7 L2388.5,681.7 L2390.0,681.7 L2391.5,681.7 L2393.0,681.7 L2394.5,681.7 L2396.0,681.7 L2397.5,681.7 L2399.0,681.7 L2400.5,681.6 L2402.0,681.6 L2403.5,681.6 L2405.0,681.6 L2406.5,681.6 L2408.0,681.6 L2409.5,681.6 L2411.0,681.6 L2412.5,681.6 L2414.0,681.6 L2415.5,681.6 L2417.0,681.6 L2418.5,681.6 L2420.0,681.6 L2421.5,681.6 L2423.0,681.6 L2424.5,681.6 L2426.0,681.5 L2427.5,681.5 L2429.0,681.5 L2430.5,681.4 L2432.0,681.3 L2433.5,681.1 L2435.0,680.8 L2436.5,680.5 L2438.0,680.0 L2439.5,679.4 L2441.0,678.7 L2442.5,677.9 L2444.0,677.0 L2445.5,676.1 L2447.0,675.3 L2448.5,674.5" fill="none" stroke="#e07af5" stroke-width="2.6" stroke-linejoin="round" stroke-linecap="round" opacity="1"/><path d="M1121.0,676.1 L1122.5,676.1 L1124.0,676.1 L1125.5,676.2 L1127.0,676.4 L1128.5,676.6 L1130.0,676.9 L1131.5,677.1 L1133.0,677.3 L1134.5,677.5 L1136.0,677.7 L1137.5,677.8 L1139.0,677.9 L1140.5,677.9 L1142.0,677.8 L1143.5,677.7 L1145.0,677.7 L1146.5,677.6 L1148.0,677.6 L1149.5,677.7 L1151.0,677.8 L1152.5,677.9 L1154.0,678.0 L1155.5,678.1 L1157.0,678.1 L1158.5,678.1 L1160.0,678.0 L1161.5,677.8 L1163.0,677.6 L1164.5,677.5 L1166.0,677.4 L1167.5,677.5 L1169.0,677.5 L1170.5,677.6 L1172.0,677.7 L1173.5,677.6 L1175.0,677.5 L1176.5,677.3 L1178.0,677.1 L1179.5,676.9 L1181.0,676.8 L1182.5,676.8 L1184.0,676.8 L1185.5,676.9 L1187.0,677.0 L1188.5,677.1 L1190.0,677.1 L1191.5,677.2 L1193.0,677.3 L1194.5,677.4 L1196.0,677.6 L1197.5,677.8 L1199.0,678.0 L1200.5,678.3 L1202.0,678.5 L1203.5,678.7 L1205.0,678.7 L1206.5,678.6 L1208.0,678.4 L1209.5,678.1 L1211.0,677.9 L1212.5,677.7 L1214.0,677.5 L1215.5,677.4 L1217.0,677.4 L1218.5,677.4 L1220.0,677.5 L1221.5,677.6 L1223.0,677.8 L1224.5,678.0 L1226.0,678.2 L1227.5,678.3 L1229.0,678.4 L1230.5,678.4 L1232.0,678.5 L1233.5,678.5 L1235.0,678.4 L1236.5,678.3 L1238.0,678.1 L1239.5,677.8 L1241.0,677.5 L1242.5,677.2 L1244.0,677.0 L1245.5,676.7 L1247.0,676.4 L1248.5,676.1 L1250.0,675.9 L1251.5,675.8 L1253.0,675.8 L1254.5,676.0 L1256.0,676.3 L1257.5,676.6 L1259.0,677.0 L1260.5,677.2 L1262.0,677.4 L1263.5,677.6 L1265.0,677.8 L1266.5,678.1 L1268.0,678.3 L1269.5,678.3 L1271.0,678.1 L1272.5,677.7 L1274.0,677.0 L1275.5,676.3 L1277.0,675.7 L1278.5,675.2 L1280.0,674.8 L1281.5,674.4 L1283.0,673.9 L1284.5,673.5 L1286.0,673.2 L1287.5,673.1 L1289.0,673.2 L1290.5,673.5 L1292.0,674.0 L1293.5,674.5 L1295.0,675.0 L1296.5,675.3 L1298.0,675.6 L1299.5,675.6 L1301.0,675.5 L1302.5,675.3 L1304.0,675.0 L1305.5,674.9 L1307.0,674.9 L1308.5,674.9 L1310.0,675.1 L1311.5,675.2 L1313.0,675.4 L1314.5,675.6 L1316.0,675.7 L1317.5,675.7 L1319.0,675.7 L1320.5,675.5 L1322.0,675.3 L1323.5,675.2 L1325.0,675.2 L1326.5,675.2 L1328.0,675.4 L1329.5,675.7 L1331.0,676.0 L1332.5,676.4 L1334.0,676.8 L1335.5,677.1 L1337.0,677.2 L1338.5,677.3 L1340.0,677.1 L1341.5,676.8 L1343.0,676.4 L1344.5,675.9 L1346.0,675.3 L1347.5,674.7 L1349.0,674.0 L1350.5,673.5 L1352.0,673.0 L1353.5,672.6 L1355.0,672.3 L1356.5,672.0 L1358.0,671.8 L1359.5,671.6 L1361.0,671.5 L1362.5,671.4 L1364.0,671.4 L1365.5,671.5 L1367.0,671.7 L1368.5,671.9 L1370.0,672.0 L1371.5,672.1 L1373.0,672.0 L1374.5,671.9 L1376.0,671.8 L1377.5,671.7 L1379.0,671.7 L1380.5,671.7 L1382.0,671.8 L1383.5,672.0 L1385.0,672.2 L1386.5,672.4 L1388.0,672.5 L1389.5,672.6 L1391.0,672.7 L1392.5,672.7 L1394.0,672.6 L1395.5,672.5 L1397.0,672.4 L1398.5,672.3 L1400.0,672.2 L1401.5,672.0 L1403.0,671.7 L1404.5,671.4 L1406.0,671.0 L1407.5,670.6 L1409.0,670.3 L1410.5,670.1 L1412.0,670.1 L1413.5,670.2 L1415.0,670.3 L1416.5,670.6 L1418.0,671.1 L1419.5,671.7 L1421.0,672.4 L1422.5,673.3 L1424.0,674.2 L1425.5,675.2 L1427.0,676.0 L1428.5,676.8 L1430.0,677.4 L1431.5,677.7 L1433.0,677.8 L1434.5,677.6 L1436.0,677.4 L1437.5,677.0 L1439.0,676.5 L1440.5,675.8 L1442.0,675.1 L1443.5,674.4 L1445.0,673.8 L1446.5,673.5 L1448.0,673.3 L1449.5,673.4 L1451.0,673.7 L1452.5,674.0 L1454.0,674.4 L1455.5,674.7 L1457.0,674.8 L1458.5,674.8 L1460.0,674.8 L1461.5,674.8 L1463.0,674.8 L1464.5,674.8 L1466.0,674.9 L1467.5,675.0 L1469.0,675.0 L1470.5,674.9 L1472.0,674.8 L1473.5,674.5 L1475.0,674.3 L1476.5,674.2 L1478.0,674.2 L1479.5,674.3 L1481.0,674.7 L1482.5,675.1 L1484.0,675.5 L1485.5,675.9 L1487.0,676.2 L1488.5,676.4 L1490.0,676.4 L1491.5,676.4 L1493.0,676.4 L1494.5,676.3 L1496.0,676.3 L1497.5,676.2 L1499.0,676.2 L1500.5,676.2 L1502.0,676.2 L1503.5,676.3 L1505.0,676.4 L1506.5,676.5 L1508.0,676.5 L1509.5,676.5 L1511.0,676.3 L1512.5,676.2 L1514.0,676.0 L1515.5,675.8 L1517.0,675.6 L1518.5,675.4 L1520.0,675.1 L1521.5,674.8 L1523.0,674.4 L1524.5,674.0 L1526.0,673.8 L1527.5,673.7 L1529.0,673.8 L1530.5,673.9 L1532.0,674.2 L1533.5,674.4 L1535.0,674.6 L1536.5,674.7 L1538.0,674.8 L1539.5,674.8 L1541.0,674.8 L1542.5,674.7 L1544.0,674.5 L1545.5,674.4 L1547.0,674.2 L1548.5,674.2 L1550.0,674.2 L1551.5,674.4 L1553.0,674.7 L1554.5,675.0 L1556.0,675.3 L1557.5,675.6 L1559.0,675.8 L1560.5,675.9 L1562.0,675.9 L1563.5,675.9 L1565.0,675.8 L1566.5,675.6 L1568.0,675.4 L1569.5,675.1 L1571.0,674.8 L1572.5,674.6 L1574.0,674.4 L1575.5,674.3 L1577.0,674.3 L1578.5,674.4 L1580.0,674.5 L1581.5,674.6 L1583.0,674.8 L1584.5,674.9 L1586.0,675.0 L1587.5,674.9 L1589.0,674.8 L1590.5,674.6 L1592.0,674.3 L1593.5,674.2 L1595.0,674.1 L1596.5,674.2 L1598.0,674.4 L1599.5,674.7 L1601.0,675.0 L1602.5,675.1 L1604.0,675.2 L1605.5,675.2 L1607.0,675.2 L1608.5,675.2 L1610.0,675.2 L1611.5,675.2 L1613.0,675.1 L1614.5,675.0 L1616.0,674.8 L1617.5,674.6 L1619.0,674.5 L1620.5,674.5 L1622.0,674.5 L1623.5,674.5 L1625.0,674.5 L1626.5,674.6 L1628.0,674.7 L1629.5,674.9 L1631.0,675.2 L1632.5,675.5 L1634.0,675.8 L1635.5,675.9 L1637.0,675.9 L1638.5,675.8 L1640.0,675.7 L1641.5,675.6 L1643.0,675.7 L1644.5,675.8 L1646.0,676.1 L1647.5,676.3 L1649.0,676.4 L1650.5,676.4 L1652.0,676.2 L1653.5,675.9 L1655.0,675.6 L1656.5,675.4 L1658.0,675.4 L1659.5,675.5 L1661.0,675.6 L1662.5,675.8 L1664.0,675.9 L1665.5,676.0 L1667.0,676.0 L1668.5,676.0 L1670.0,676.0 L1671.5,676.0 L1673.0,675.9 L1674.5,675.9 L1676.0,675.8 L1677.5,675.8 L1679.0,675.9 L1680.5,675.9 L1682.0,676.0 L1683.5,676.0 L1685.0,675.8 L1686.5,675.5 L1688.0,675.1 L1689.5,674.7 L1691.0,674.3 L1692.5,673.9 L1694.0,673.7 L1695.5,673.5 L1697.0,673.5 L1698.5,673.5 L1700.0,673.7 L1701.5,673.9 L1703.0,674.2 L1704.5,674.5 L1706.0,674.8 L1707.5,675.1 L1709.0,675.5 L1710.5,675.9 L1712.0,676.3 L1713.5,676.4 L1715.0,676.2 L1716.5,675.8 L1718.0,675.3 L1719.5,674.9 L1721.0,674.6 L1722.5,674.5 L1724.0,674.6 L1725.5,674.8 L1727.0,675.0 L1728.5,675.3 L1730.0,675.6 L1731.5,675.8 L1733.0,675.9 L1734.5,676.0 L1736.0,676.0 L1737.5,676.1 L1739.0,676.2 L1740.5,676.2 L1742.0,676.2 L1743.5,676.1 L1745.0,676.0 L1746.5,675.8 L1748.0,675.7 L1749.5,675.6 L1751.0,675.5 L1752.5,675.4 L1754.0,675.3 L1755.5,675.3 L1757.0,675.4 L1758.5,675.6 L1760.0,676.0 L1761.5,676.3 L1763.0,676.5 L1764.5,676.5 L1766.0,676.3 L1767.5,676.1 L1769.0,675.7 L1770.5,675.5 L1772.0,675.3 L1773.5,675.2 L1775.0,675.3 L1776.5,675.5 L1778.0,675.9 L1779.5,676.2 L1781.0,676.5 L1782.5,676.8 L1784.0,676.9 L1785.5,677.0 L1787.0,677.2 L1788.5,677.3 L1790.0,677.3 L1791.5,677.3 L1793.0,677.1 L1794.5,676.9 L1796.0,676.7 L1797.5,676.5 L1799.0,676.5 L1800.5,676.5 L1802.0,676.6 L1803.5,676.6 L1805.0,676.6 L1806.5,676.5 L1808.0,676.3 L1809.5,676.1 L1811.0,675.9 L1812.5,675.6 L1814.0,675.3 L1815.5,675.1 L1817.0,675.0 L1818.5,675.1 L1820.0,675.1 L1821.5,675.1 L1823.0,674.9 L1824.5,674.6 L1826.0,674.3 L1827.5,674.0 L1829.0,673.8 L1830.5,673.8 L1832.0,673.9 L1833.5,674.0 L1835.0,674.0 L1836.5,674.0 L1838.0,674.1 L1839.5,674.2 L1841.0,674.4 L1842.5,674.6 L1844.0,674.6 L1845.5,674.5 L1847.0,674.3 L1848.5,674.1 L1850.0,674.0 L1851.5,673.9 L1853.0,673.8 L1854.5,673.7 L1856.0,673.6 L1857.5,673.4 L1859.0,673.3 L1860.5,673.1 L1862.0,673.0 L1863.5,672.9 L1865.0,672.9 L1866.5,673.0 L1868.0,673.1 L1869.5,673.4 L1871.0,673.7 L1872.5,674.0 L1874.0,674.2 L1875.5,674.4 L1877.0,674.5 L1878.5,674.5 L1880.0,674.5 L1881.5,674.4 L1883.0,674.3 L1884.5,674.1 L1886.0,674.0 L1887.5,674.0 L1889.0,674.1 L1890.5,674.2 L1892.0,674.3 L1893.5,674.3 L1895.0,674.2 L1896.5,674.1 L1898.0,674.1 L1899.5,674.3 L1901.0,674.4 L1902.5,674.5 L1904.0,674.5 L1905.5,674.4 L1907.0,674.2 L1908.5,674.0 L1910.0,673.8 L1911.5,673.7 L1913.0,673.6 L1914.5,673.5 L1916.0,673.6 L1917.5,673.7 L1919.0,673.8 L1920.5,674.0 L1922.0,674.2 L1923.5,674.4 L1925.0,674.4 L1926.5,674.4 L1928.0,674.1 L1929.5,673.9 L1931.0,673.7 L1932.5,673.7 L1934.0,673.9 L1935.5,674.2 L1937.0,674.4 L1938.5,674.4 L1940.0,674.1 L1941.5,673.5 L1943.0,672.9 L1944.5,672.3 L1946.0,671.7 L1947.5,671.3 L1949.0,671.0 L1950.5,670.8 L1952.0,670.8 L1953.5,671.0 L1955.0,671.3 L1956.5,671.7 L1958.0,672.3 L1959.5,672.8 L1961.0,673.3 L1962.5,673.6 L1964.0,673.8 L1965.5,673.9 L1967.0,673.9 L1968.5,673.9 L1970.0,673.9 L1971.5,674.0 L1973.0,674.3 L1974.5,674.7 L1976.0,675.3 L1977.5,675.8 L1979.0,676.2 L1980.5,676.4 L1982.0,676.3 L1983.5,675.9 L1985.0,675.4 L1986.5,674.9 L1988.0,674.5 L1989.5,674.1 L1991.0,673.9 L1992.5,673.7 L1994.0,673.6 L1995.5,673.6 L1997.0,673.6 L1998.5,673.8 L2000.0,674.1 L2001.5,674.6 L2003.0,675.1 L2004.5,675.3 L2006.0,675.3 L2007.5,675.0 L2009.0,674.5 L2010.5,674.1 L2012.0,673.7 L2013.5,673.6 L2015.0,673.6 L2016.5,673.8 L2018.0,674.0 L2019.5,674.1 L2021.0,674.3 L2022.5,674.3 L2024.0,674.3 L2025.5,674.3 L2027.0,674.3 L2028.5,674.3 L2030.0,674.3 L2031.5,674.4 L2033.0,674.5 L2034.5,674.6 L2036.0,674.7 L2037.5,674.8 L2039.0,674.8 L2040.5,674.8 L2042.0,674.8 L2043.5,674.7 L2045.0,674.6 L2046.5,674.5 L2048.0,674.4 L2049.5,674.2 L2051.0,674.0 L2052.5,673.8 L2054.0,673.6 L2055.5,673.5 L2057.0,673.4 L2058.5,673.2 L2060.0,672.9 L2061.5,672.7 L2063.0,672.4 L2064.5,672.3 L2066.0,672.2 L2067.5,672.1 L2069.0,672.2 L2070.5,672.3 L2072.0,672.4 L2073.5,672.7 L2075.0,672.9 L2076.5,673.1 L2078.0,673.3 L2079.5,673.5 L2081.0,673.6 L2082.5,673.5 L2084.0,673.3 L2085.5,673.1 L2087.0,672.9 L2088.5,672.8 L2090.0,672.8 L2091.5,673.0 L2093.0,673.2 L2094.5,673.4 L2096.0,673.6 L2097.5,673.7 L2099.0,673.8 L2100.5,673.9 L2102.0,673.9 L2103.5,673.9 L2105.0,673.9 L2106.5,674.0 L2108.0,674.0 L2109.5,674.1 L2111.0,674.2 L2112.5,674.3 L2114.0,674.4 L2115.5,674.4 L2117.0,674.2 L2118.5,673.9 L2120.0,673.5 L2121.5,673.0 L2123.0,672.7 L2124.5,672.5 L2126.0,672.4 L2127.5,672.5 L2129.0,673.1 L2130.5,673.2 L2132.0,673.2 L2133.5,673.2 L2135.0,673.1 L2136.5,673.0 L2138.0,672.9 L2139.5,672.6 L2141.0,672.3 L2142.5,671.9 L2144.0,671.5 L2145.5,671.2 L2147.0,670.9 L2148.5,670.8 L2150.0,670.7 L2151.5,670.6 L2153.0,670.6 L2154.5,670.5 L2156.0,670.4 L2157.5,670.2 L2159.0,670.0 L2160.5,669.9 L2162.0,670.0 L2163.5,670.1 L2165.0,670.5 L2166.5,670.8 L2168.0,671.2 L2169.5,671.4 L2171.0,671.5 L2172.5,671.4 L2174.0,671.2 L2175.5,671.0 L2177.0,670.8 L2178.5,670.5 L2180.0,670.2 L2181.5,669.9 L2183.0,669.7 L2184.5,669.6 L2186.0,669.7 L2187.5,669.9 L2189.0,670.2 L2190.5,670.5 L2192.0,670.8 L2193.5,671.2 L2195.0,671.5 L2196.5,671.8 L2198.0,672.0 L2199.5,672.2 L2201.0,672.4 L2202.5,672.3 L2204.0,672.1 L2205.5,671.8 L2207.0,671.5 L2208.5,671.1 L2210.0,670.8 L2211.5,670.6 L2213.0,670.6 L2214.5,670.7 L2216.0,670.9 L2217.5,671.1 L2219.0,671.2 L2220.5,671.2 L2222.0,671.0 L2223.5,670.8 L2225.0,670.5 L2226.5,670.4 L2228.0,670.4 L2229.5,670.5 L2231.0,670.8 L2232.5,671.2 L2234.0,671.5 L2235.5,671.8 L2237.0,671.9 L2238.5,671.9 L2240.0,671.7 L2241.5,671.6 L2243.0,671.4 L2244.5,671.3 L2246.0,671.3 L2247.5,671.4 L2249.0,671.6 L2250.5,671.7 L2252.0,671.7 L2253.5,671.6 L2255.0,671.5 L2256.5,671.2 L2258.0,671.0 L2259.5,670.8 L2261.0,670.7 L2262.5,670.8 L2264.0,671.0 L2265.5,671.1 L2267.0,671.3 L2268.5,671.3 L2270.0,671.2 L2271.5,670.9 L2273.0,670.6 L2274.5,670.4 L2276.0,670.3 L2277.5,670.2 L2279.0,670.4 L2280.5,670.5 L2282.0,670.7 L2283.5,670.7 L2285.0,670.8 L2286.5,670.8 L2288.0,670.9 L2289.5,671.1 L2291.0,671.4 L2292.5,671.7 L2294.0,672.0 L2295.5,672.2 L2297.0,672.4 L2298.5,672.4 L2300.0,672.5 L2301.5,672.6 L2303.0,672.7 L2304.5,672.9 L2306.0,673.1 L2307.5,673.2 L2309.0,673.3 L2310.5,673.3 L2312.0,673.4 L2313.5,673.5 L2315.0,673.6 L2316.5,673.8 L2318.0,673.9 L2319.5,673.9 L2321.0,673.8 L2322.5,673.7 L2324.0,673.6 L2325.5,673.6 L2327.0,673.6 L2328.5,673.7 L2330.0,673.8 L2331.5,673.9 L2333.0,673.9 L2334.5,673.9 L2336.0,673.9 L2337.5,673.7 L2339.0,673.6 L2340.5,673.4 L2342.0,673.1 L2343.5,672.8 L2345.0,672.6 L2346.5,672.5 L2348.0,672.5 L2349.5,672.6 L2351.0,672.8 L2352.5,673.0 L2354.0,673.1 L2355.5,673.2 L2357.0,673.1 L2358.5,673.0 L2360.0,672.9 L2361.5,672.8 L2363.0,672.7 L2364.5,672.6 L2366.0,672.6 L2367.5,672.6 L2369.0,672.7 L2370.5,672.8 L2372.0,673.0 L2373.5,673.2 L2375.0,673.4 L2376.5,673.7 L2378.0,674.0 L2379.5,674.3 L2381.0,674.5 L2382.5,674.6 L2384.0,674.7 L2385.5,674.7 L2387.0,674.6 L2388.5,674.5 L2390.0,674.5 L2391.5,674.4 L2393.0,674.3 L2394.5,674.3 L2396.0,674.3 L2397.5,674.3 L2399.0,674.4 L2400.5,674.6 L2402.0,674.7 L2403.5,674.8 L2405.0,674.9 L2406.5,674.9 L2408.0,674.8 L2409.5,674.7 L2411.0,674.5 L2412.5,674.3 L2414.0,674.2 L2415.5,674.0 L2417.0,674.0 L2418.5,673.9 L2420.0,673.9 L2421.5,674.0 L2423.0,674.1 L2424.5,674.2 L2426.0,674.4 L2427.5,674.7 L2429.0,675.0 L2430.5,675.3 L2432.0,675.5 L2433.5,675.6 L2435.0,675.7 L2436.5,675.6 L2438.0,675.5 L2439.5,675.5 L2441.0,675.5 L2442.5,675.5 L2444.0,675.6 L2445.5,675.7 L2447.0,676.2 L2448.5,676.5" fill="none" stroke="#19d6f5" stroke-width="2.4" stroke-linejoin="round" stroke-linecap="round" opacity="0.95"/><path d="M1121.0,678.6 L1122.5,678.1 L1124.0,677.6 L1125.5,677.2 L1127.0,677.0 L1128.5,676.9 L1130.0,677.0 L1131.5,677.1 L1133.0,677.4 L1134.5,677.6 L1136.0,677.9 L1137.5,678.1 L1139.0,678.2 L1140.5,678.2 L1142.0,677.9 L1143.5,677.6 L1145.0,677.4 L1146.5,677.1 L1148.0,677.1 L1149.5,677.1 L1151.0,677.1 L1152.5,677.2 L1154.0,677.2 L1155.5,677.1 L1157.0,677.1 L1158.5,677.1 L1160.0,677.1 L1161.5,677.3 L1163.0,677.4 L1164.5,677.4 L1166.0,677.4 L1167.5,677.2 L1169.0,677.0 L1170.5,676.7 L1172.0,676.6 L1173.5,676.6 L1175.0,676.7 L1176.5,676.9 L1178.0,677.1 L1179.5,677.2 L1181.0,677.1 L1182.5,676.9 L1184.0,676.6 L1185.5,676.4 L1187.0,676.2 L1188.5,676.1 L1190.0,676.1 L1191.5,676.1 L1193.0,676.3 L1194.5,676.5 L1196.0,676.6 L1197.5,676.7 L1199.0,676.6 L1200.5,676.3 L1202.0,676.1 L1203.5,675.8 L1205.0,675.7 L1206.5,675.7 L1208.0,675.9 L1209.5,676.2 L1211.0,676.6 L1212.5,676.9 L1214.0,677.1 L1215.5,677.3 L1217.0,677.3 L1218.5,677.3 L1220.0,677.2 L1221.5,677.2 L1223.0,677.2 L1224.5,677.3 L1226.0,677.5 L1227.5,677.7 L1229.0,677.9 L1230.5,678.1 L1232.0,678.2 L1233.5,678.1 L1235.0,678.0 L1236.5,677.7 L1238.0,677.3 L1239.5,676.8 L1241.0,676.4 L1242.5,675.9 L1244.0,675.6 L1245.5,675.4 L1247.0,675.4 L1248.5,675.6 L1250.0,675.9 L1251.5,676.1 L1253.0,676.4 L1254.5,676.7 L1256.0,676.9 L1257.5,677.1 L1259.0,677.2 L1260.5,677.4 L1262.0,677.5 L1263.5,677.6 L1265.0,677.7 L1266.5,677.7 L1268.0,677.5 L1269.5,677.1 L1271.0,676.6 L1272.5,676.0 L1274.0,675.4 L1275.5,675.0 L1277.0,674.8 L1278.5,674.7 L1280.0,674.6 L1281.5,674.4 L1283.0,674.2 L1284.5,673.9 L1286.0,673.8 L1287.5,673.8 L1289.0,673.8 L1290.5,674.0 L1292.0,674.2 L1293.5,674.3 L1295.0,674.5 L1296.5,674.7 L1298.0,674.8 L1299.5,674.9 L1301.0,674.9 L1302.5,674.9 L1304.0,674.9 L1305.5,674.9 L1307.0,675.0 L1308.5,675.1 L1310.0,675.2 L1311.5,675.2 L1313.0,675.2 L1314.5,675.1 L1316.0,675.0 L1317.5,674.8 L1319.0,674.5 L1320.5,674.2 L1322.0,673.9 L1323.5,673.6 L1325.0,673.6 L1326.5,673.7 L1328.0,674.0 L1329.5,674.5 L1331.0,675.0 L1332.5,675.5 L1334.0,675.9 L1335.5,676.0 L1337.0,676.0 L1338.5,675.8 L1340.0,675.5 L1341.5,675.1 L1343.0,674.7 L1344.5,674.4 L1346.0,674.1 L1347.5,674.0 L1349.0,674.0 L1350.5,674.0 L1352.0,674.1 L1353.5,674.1 L1355.0,674.1 L1356.5,673.9 L1358.0,673.8 L1359.5,673.5 L1361.0,673.3 L1362.5,673.2 L1364.0,673.1 L1365.5,673.1 L1367.0,673.1 L1368.5,673.1 L1370.0,673.2 L1371.5,673.2 L1373.0,673.2 L1374.5,673.1 L1376.0,673.1 L1377.5,673.1 L1379.0,673.2 L1380.5,673.4 L1382.0,673.5 L1383.5,673.7 L1385.0,673.8 L1386.5,673.8 L1388.0,673.8 L1389.5,673.7 L1391.0,673.6 L1392.5,673.4 L1394.0,673.2 L1395.5,673.0 L1397.0,672.9 L1398.5,673.0 L1400.0,673.1 L1401.5,673.3 L1403.0,673.6 L1404.5,673.9 L1406.0,674.1 L1407.5,674.2 L1409.0,674.2 L1410.5,674.2 L1412.0,674.2 L1413.5,674.2 L1415.0,674.3 L1416.5,674.5 L1418.0,674.8 L1419.5,675.1 L1421.0,675.4 L1422.5,675.5 L1424.0,675.6 L1425.5,675.5 L1427.0,675.2 L1428.5,674.9 L1430.0,674.7 L1431.5,674.5 L1433.0,674.4 L1434.5,674.4 L1436.0,674.6 L1437.5,674.9 L1439.0,675.2 L1440.5,675.3 L1442.0,675.3 L1443.5,675.1 L1445.0,674.8 L1446.5,674.5 L1448.0,674.2 L1449.5,674.1 L1451.0,674.2 L1452.5,674.6 L1454.0,675.0 L1455.5,675.3 L1457.0,675.5 L1458.5,675.6 L1460.0,675.5 L1461.5,675.4 L1463.0,675.4 L1464.5,675.4 L1466.0,675.6 L1467.5,675.8 L1469.0,676.0 L1470.5,676.0 L1472.0,675.9 L1473.5,675.5 L1475.0,675.0 L1476.5,674.4 L1478.0,674.0 L1479.5,673.8 L1481.0,673.8 L1482.5,674.1 L1484.0,674.5 L1485.5,675.0 L1487.0,675.4 L1488.5,675.6 L1490.0,675.6 L1491.5,675.5 L1493.0,675.2 L1494.5,674.9 L1496.0,674.6 L1497.5,674.4 L1499.0,674.3 L1500.5,674.4 L1502.0,674.5 L1503.5,674.8 L1505.0,675.1 L1506.5,675.4 L1508.0,675.6 L1509.5,675.8 L1511.0,675.9 L1512.5,676.0 L1514.0,675.9 L1515.5,675.9 L1517.0,675.7 L1518.5,675.5 L1520.0,675.3 L1521.5,675.0 L1523.0,674.8 L1524.5,674.8 L1526.0,674.8 L1527.5,674.9 L1529.0,675.1 L1530.5,675.3 L1532.0,675.5 L1533.5,675.8 L1535.0,676.0 L1536.5,676.1 L1538.0,676.2 L1539.5,676.1 L1541.0,676.0 L1542.5,675.8 L1544.0,675.5 L1545.5,675.2 L1547.0,674.8 L1548.5,674.6 L1550.0,674.4 L1551.5,674.4 L1553.0,674.6 L1554.5,675.1 L1556.0,675.6 L1557.5,676.1 L1559.0,676.6 L1560.5,676.8 L1562.0,676.9 L1563.5,676.9 L1565.0,676.9 L1566.5,676.8 L1568.0,676.8 L1569.5,676.8 L1571.0,676.8 L1572.5,676.7 L1574.0,676.6 L1575.5,676.3 L1577.0,676.0 L1578.5,675.6 L1580.0,675.2 L1581.5,674.8 L1583.0,674.6 L1584.5,674.5 L1586.0,674.5 L1587.5,674.6 L1589.0,674.8 L1590.5,674.9 L1592.0,674.9 L1593.5,674.8 L1595.0,674.7 L1596.5,674.7 L1598.0,674.8 L1599.5,675.1 L1601.0,675.3 L1602.5,675.6 L1604.0,675.8 L1605.5,676.0 L1607.0,676.1 L1608.5,676.2 L1610.0,676.3 L1611.5,676.5 L1613.0,676.7 L1614.5,676.9 L1616.0,677.0 L1617.5,677.1 L1619.0,677.2 L1620.5,677.2 L1622.0,677.1 L1623.5,676.9 L1625.0,676.6 L1626.5,676.3 L1628.0,675.9 L1629.5,675.5 L1631.0,675.2 L1632.5,675.2 L1634.0,675.3 L1635.5,675.5 L1637.0,675.8 L1638.5,676.1 L1640.0,676.3 L1641.5,676.3 L1643.0,676.3 L1644.5,676.3 L1646.0,676.2 L1647.5,676.0 L1649.0,675.9 L1650.5,675.7 L1652.0,675.4 L1653.5,675.2 L1655.0,675.0 L1656.5,675.0 L1658.0,675.0 L1659.5,675.2 L1661.0,675.4 L1662.5,675.5 L1664.0,675.7 L1665.5,675.9 L1667.0,676.1 L1668.5,676.4 L1670.0,676.6 L1671.5,676.8 L1673.0,677.0 L1674.5,677.2 L1676.0,677.3 L1677.5,677.3 L1679.0,677.2 L1680.5,677.1 L1682.0,677.0 L1683.5,676.8 L1685.0,676.5 L1686.5,676.2 L1688.0,675.8 L1689.5,675.5 L1691.0,675.3 L1692.5,675.2 L1694.0,675.1 L1695.5,675.1 L1697.0,675.2 L1698.5,675.3 L1700.0,675.4 L1701.5,675.5 L1703.0,675.6 L1704.5,675.6 L1706.0,675.7 L1707.5,675.7 L1709.0,675.8 L1710.5,676.0 L1712.0,676.2 L1713.5,676.5 L1715.0,676.7 L1716.5,676.8 L1718.0,676.7 L1719.5,676.5 L1721.0,676.4 L1722.5,676.3 L1724.0,676.4 L1725.5,676.5 L1727.0,676.7 L1728.5,676.8 L1730.0,676.8 L1731.5,676.7 L1733.0,676.4 L1734.5,676.0 L1736.0,675.7 L1737.5,675.5 L1739.0,675.5 L1740.5,675.4 L1742.0,675.4 L1743.5,675.4 L1745.0,675.4 L1746.5,675.5 L1748.0,675.7 L1749.5,676.0 L1751.0,676.2 L1752.5,676.3 L1754.0,676.3 L1755.5,676.2 L1757.0,676.1 L1758.5,675.9 L1760.0,675.8 L1761.5,675.7 L1763.0,675.6 L1764.5,675.4 L1766.0,675.1 L1767.5,674.9 L1769.0,674.8 L1770.5,674.8 L1772.0,675.0 L1773.5,675.5 L1775.0,676.3 L1776.5,677.2 L1778.0,678.1 L1779.5,679.0 L1781.0,679.5 L1782.5,679.8 L1784.0,679.7 L1785.5,679.4 L1787.0,678.9 L1788.5,678.3 L1790.0,677.7 L1791.5,677.1 L1793.0,676.7 L1794.5,676.5 L1796.0,676.6 L1797.5,676.8 L1799.0,677.2 L1800.5,677.5 L1802.0,677.7 L1803.5,677.7 L1805.0,677.7 L1806.5,677.7 L1808.0,677.7 L1809.5,677.8 L1811.0,677.9 L1812.5,678.0 L1814.0,678.1 L1815.5,678.1 L1817.0,678.2 L1818.5,678.3 L1820.0,678.3 L1821.5,678.2 L1823.0,677.9 L1824.5,677.7 L1826.0,677.4 L1827.5,677.2 L1829.0,677.1 L1830.5,677.1 L1832.0,677.1 L1833.5,677.2 L1835.0,677.2 L1836.5,677.2 L1838.0,677.3 L1839.5,677.5 L1841.0,677.6 L1842.5,677.7 L1844.0,677.7 L1845.5,677.5 L1847.0,677.2 L1848.5,676.8 L1850.0,676.4 L1851.5,676.1 L1853.0,675.7 L1854.5,675.5 L1856.0,675.4 L1857.5,675.4 L1859.0,675.4 L1860.5,675.5 L1862.0,675.6 L1863.5,675.7 L1865.0,675.7 L1866.5,675.8 L1868.0,676.0 L1869.5,676.2 L1871.0,676.4 L1872.5,676.7 L1874.0,677.0 L1875.5,677.3 L1877.0,677.6 L1878.5,677.9 L1880.0,678.1 L1881.5,678.3 L1883.0,678.4 L1884.5,678.4 L1886.0,678.3 L1887.5,678.3 L1889.0,678.2 L1890.5,678.1 L1892.0,677.9 L1893.5,677.5 L1895.0,677.1 L1896.5,676.6 L1898.0,676.3 L1899.5,676.1 L1901.0,676.3 L1902.5,676.6 L1904.0,676.9 L1905.5,677.2 L1907.0,677.4 L1908.5,677.6 L1910.0,677.6 L1911.5,677.6 L1913.0,677.5 L1914.5,677.3 L1916.0,677.1 L1917.5,676.8 L1919.0,676.5 L1920.5,676.2 L1922.0,675.9 L1923.5,675.8 L1925.0,675.8 L1926.5,675.9 L1928.0,676.0 L1929.5,676.2 L1931.0,676.4 L1932.5,676.7 L1934.0,677.0 L1935.5,677.2 L1937.0,677.5 L1938.5,677.5 L1940.0,677.4 L1941.5,677.2 L1943.0,676.8 L1944.5,676.5 L1946.0,676.1 L1947.5,675.9 L1949.0,675.9 L1950.5,675.9 L1952.0,676.0 L1953.5,676.1 L1955.0,676.2 L1956.5,676.3 L1958.0,676.4 L1959.5,676.4 L1961.0,676.5 L1962.5,676.6 L1964.0,676.7 L1965.5,676.8 L1967.0,677.1 L1968.5,677.4 L1970.0,677.6 L1971.5,677.8 L1973.0,677.9 L1974.5,677.8 L1976.0,677.8 L1977.5,677.6 L1979.0,677.5 L1980.5,677.3 L1982.0,677.1 L1983.5,676.8 L1985.0,676.5 L1986.5,676.4 L1988.0,676.4 L1989.5,676.6 L1991.0,676.8 L1992.5,677.1 L1994.0,677.3 L1995.5,677.4 L1997.0,677.4 L1998.5,677.5 L2000.0,677.6 L2001.5,677.8 L2003.0,678.0 L2004.5,678.2 L2006.0,678.2 L2007.5,678.1 L2009.0,677.9 L2010.5,677.7 L2012.0,677.5 L2013.5,677.3 L2015.0,677.3 L2016.5,677.2 L2018.0,677.3 L2019.5,677.5 L2021.0,677.7 L2022.5,677.9 L2024.0,678.0 L2025.5,678.1 L2027.0,678.0 L2028.5,677.9 L2030.0,677.7 L2031.5,677.5 L2033.0,677.3 L2034.5,677.2 L2036.0,677.2 L2037.5,677.3 L2039.0,677.6 L2040.5,677.9 L2042.0,678.2 L2043.5,678.6 L2045.0,678.9 L2046.5,679.1 L2048.0,679.1 L2049.5,678.9 L2051.0,678.6 L2052.5,678.1 L2054.0,677.6 L2055.5,677.1 L2057.0,676.6 L2058.5,676.3 L2060.0,675.9 L2061.5,675.7 L2063.0,675.6 L2064.5,675.6 L2066.0,675.7 L2067.5,675.9 L2069.0,676.2 L2070.5,676.6 L2072.0,676.9 L2073.5,677.2 L2075.0,677.3 L2076.5,677.3 L2078.0,677.3 L2079.5,677.1 L2081.0,676.9 L2082.5,676.6 L2084.0,676.3 L2085.5,675.9 L2087.0,675.6 L2088.5,675.5 L2090.0,675.5 L2091.5,675.8 L2093.0,676.2 L2094.5,676.8 L2096.0,677.3 L2097.5,677.7 L2099.0,678.0 L2100.5,678.0 L2102.0,677.8 L2103.5,677.4 L2105.0,677.0 L2106.5,676.6 L2108.0,676.3 L2109.5,676.0 L2111.0,676.0 L2112.5,676.1 L2114.0,676.4 L2115.5,676.7 L2117.0,677.1 L2118.5,677.3 L2120.0,677.5 L2121.5,677.5 L2123.0,677.4 L2124.5,677.2 L2126.0,676.9 L2127.5,676.6 L2129.0,676.6 L2130.5,676.1 L2132.0,675.7 L2133.5,675.4 L2135.0,675.1 L2136.5,674.8 L2138.0,674.5 L2139.5,674.2 L2141.0,673.9 L2142.5,673.5 L2144.0,673.2 L2145.5,672.9 L2147.0,672.6 L2148.5,672.5 L2150.0,672.4 L2151.5,672.5 L2153.0,672.6 L2154.5,672.8 L2156.0,672.9 L2157.5,673.0 L2159.0,673.0 L2160.5,673.0 L2162.0,672.9 L2163.5,672.8 L2165.0,672.8 L2166.5,672.8 L2168.0,672.8 L2169.5,672.7 L2171.0,672.5 L2172.5,672.4 L2174.0,672.2 L2175.5,672.1 L2177.0,672.0 L2178.5,672.0 L2180.0,671.9 L2181.5,671.9 L2183.0,671.8 L2184.5,671.8 L2186.0,671.9 L2187.5,672.1 L2189.0,672.2 L2190.5,672.5 L2192.0,672.7 L2193.5,672.9 L2195.0,673.2 L2196.5,673.4 L2198.0,673.7 L2199.5,673.9 L2201.0,674.1 L2202.5,674.2 L2204.0,674.3 L2205.5,674.4 L2207.0,674.4 L2208.5,674.4 L2210.0,674.3 L2211.5,674.2 L2213.0,674.0 L2214.5,673.8 L2216.0,673.6 L2217.5,673.5 L2219.0,673.4 L2220.5,673.4 L2222.0,673.5 L2223.5,673.7 L2225.0,673.8 L2226.5,674.0 L2228.0,674.2 L2229.5,674.5 L2231.0,674.7 L2232.5,675.0 L2234.0,675.2 L2235.5,675.5 L2237.0,675.6 L2238.5,675.7 L2240.0,675.8 L2241.5,675.7 L2243.0,675.7 L2244.5,675.5 L2246.0,675.2 L2247.5,674.9 L2249.0,674.4 L2250.5,673.9 L2252.0,673.4 L2253.5,673.0 L2255.0,672.7 L2256.5,672.7 L2258.0,672.8 L2259.5,673.1 L2261.0,673.6 L2262.5,674.1 L2264.0,674.6 L2265.5,675.0 L2267.0,675.3 L2268.5,675.4 L2270.0,675.5 L2271.5,675.5 L2273.0,675.4 L2274.5,675.4 L2276.0,675.4 L2277.5,675.5 L2279.0,675.6 L2280.5,675.7 L2282.0,675.8 L2283.5,675.9 L2285.0,676.1 L2286.5,676.2 L2288.0,676.3 L2289.5,676.3 L2291.0,676.2 L2292.5,675.9 L2294.0,675.6 L2295.5,675.3 L2297.0,674.9 L2298.5,674.7 L2300.0,674.5 L2301.5,674.4 L2303.0,674.4 L2304.5,674.6 L2306.0,674.9 L2307.5,675.3 L2309.0,675.8 L2310.5,676.2 L2312.0,676.5 L2313.5,676.7 L2315.0,676.7 L2316.5,676.7 L2318.0,676.5 L2319.5,676.3 L2321.0,676.1 L2322.5,676.0 L2324.0,675.8 L2325.5,675.8 L2327.0,675.7 L2328.5,675.7 L2330.0,675.7 L2331.5,675.7 L2333.0,675.7 L2334.5,675.7 L2336.0,675.7 L2337.5,675.7 L2339.0,675.7 L2340.5,675.8 L2342.0,676.0 L2343.5,676.2 L2345.0,676.4 L2346.5,676.6 L2348.0,676.6 L2349.5,676.5 L2351.0,676.3 L2352.5,676.2 L2354.0,676.2 L2355.5,676.2 L2357.0,676.2 L2358.5,676.1 L2360.0,676.1 L2361.5,676.0 L2363.0,675.9 L2364.5,675.8 L2366.0,675.9 L2367.5,675.9 L2369.0,676.0 L2370.5,676.1 L2372.0,676.1 L2373.5,676.1 L2375.0,676.1 L2376.5,676.1 L2378.0,676.1 L2379.5,676.2 L2381.0,676.2 L2382.5,676.3 L2384.0,676.3 L2385.5,676.3 L2387.0,676.3 L2388.5,676.2 L2390.0,676.0 L2391.5,675.8 L2393.0,675.6 L2394.5,675.5 L2396.0,675.5 L2397.5,675.5 L2399.0,675.7 L2400.5,675.9 L2402.0,676.1 L2403.5,676.3 L2405.0,676.6 L2406.5,676.9 L2408.0,677.1 L2409.5,677.4 L2411.0,677.7 L2412.5,678.0 L2414.0,678.2 L2415.5,678.3 L2417.0,678.4 L2418.5,678.3 L2420.0,678.3 L2421.5,678.2 L2423.0,678.1 L2424.5,677.9 L2426.0,677.8 L2427.5,677.6 L2429.0,677.4 L2430.5,677.3 L2432.0,677.1 L2433.5,676.9 L2435.0,676.7 L2436.5,676.5 L2438.0,676.4 L2439.5,676.2 L2441.0,676.1 L2442.5,675.9 L2444.0,675.6 L2445.5,675.2 L2447.0,675.2 L2448.5,675.1" fill="none" stroke="#ff1a6e" stroke-width="2.0" stroke-linejoin="round" stroke-linecap="round" opacity="0.95"/><path d="M1121.0,676.4 L1122.5,676.7 L1124.0,677.1 L1125.5,677.4 L1127.0,677.7 L1128.5,677.9 L1130.0,678.0 L1131.5,678.0 L1133.0,677.8 L1134.5,677.6 L1136.0,677.4 L1137.5,677.3 L1139.0,677.2 L1140.5,677.2 L1142.0,677.3 L1143.5,677.4 L1145.0,677.5 L1146.5,677.5 L1148.0,677.5 L1149.5,677.5 L1151.0,677.4 L1152.5,677.3 L1154.0,677.2 L1155.5,677.2 L1157.0,677.3 L1158.5,677.3 L1160.0,677.4 L1161.5,677.4 L1163.0,677.4 L1164.5,677.3 L1166.0,677.2 L1167.5,677.1 L1169.0,677.0 L1170.5,676.8 L1172.0,676.5 L1173.5,676.4 L1175.0,676.2 L1176.5,676.2 L1178.0,676.2 L1179.5,676.1 L1181.0,676.1 L1182.5,676.0 L1184.0,676.0 L1185.5,676.0 L1187.0,676.0 L1188.5,676.0 L1190.0,675.9 L1191.5,675.9 L1193.0,676.1 L1194.5,676.4 L1196.0,676.8 L1197.5,677.2 L1199.0,677.6 L1200.5,677.9 L1202.0,677.9 L1203.5,677.9 L1205.0,677.7 L1206.5,677.5 L1208.0,677.4 L1209.5,677.3 L1211.0,677.3 L1212.5,677.2 L1214.0,677.1 L1215.5,676.9 L1217.0,676.6 L1218.5,676.3 L1220.0,676.2 L1221.5,676.2 L1223.0,676.3 L1224.5,676.5 L1226.0,676.7 L1227.5,676.9 L1229.0,677.1 L1230.5,677.2 L1232.0,677.3 L1233.5,677.4 L1235.0,677.4 L1236.5,677.4 L1238.0,677.3 L1239.5,677.0 L1241.0,676.8 L1242.5,676.5 L1244.0,676.2 L1245.5,676.0 L1247.0,675.8 L1248.5,675.6 L1250.0,675.4 L1251.5,675.2 L1253.0,675.0 L1254.5,675.0 L1256.0,675.1 L1257.5,675.3 L1259.0,675.6 L1260.5,675.9 L1262.0,676.3 L1263.5,676.5 L1265.0,676.7 L1266.5,676.8 L1268.0,676.8 L1269.5,676.6 L1271.0,676.3 L1272.5,675.9 L1274.0,675.5 L1275.5,675.1 L1277.0,675.0 L1278.5,675.0 L1280.0,675.0 L1281.5,674.9 L1283.0,674.7 L1284.5,674.4 L1286.0,674.1 L1287.5,673.9 L1289.0,673.9 L1290.5,674.1 L1292.0,674.4 L1293.5,674.8 L1295.0,675.2 L1296.5,675.4 L1298.0,675.5 L1299.5,675.4 L1301.0,675.4 L1302.5,675.3 L1304.0,675.2 L1305.5,675.2 L1307.0,675.3 L1308.5,675.5 L1310.0,675.8 L1311.5,676.2 L1313.0,676.5 L1314.5,676.9 L1316.0,677.1 L1317.5,677.3 L1319.0,677.3 L1320.5,677.1 L1322.0,676.8 L1323.5,676.3 L1325.0,675.9 L1326.5,675.5 L1328.0,675.2 L1329.5,674.9 L1331.0,674.6 L1332.5,674.4 L1334.0,674.3 L1335.5,674.3 L1337.0,674.4 L1338.5,674.5 L1340.0,674.7 L1341.5,674.8 L1343.0,674.9 L1344.5,675.0 L1346.0,674.9 L1347.5,674.9 L1349.0,674.8 L1350.5,674.7 L1352.0,674.7 L1353.5,674.7 L1355.0,674.8 L1356.5,675.0 L1358.0,675.1 L1359.5,675.2 L1361.0,675.3 L1362.5,675.3 L1364.0,675.2 L1365.5,675.1 L1367.0,675.0 L1368.5,674.9 L1370.0,674.8 L1371.5,674.7 L1373.0,674.5 L1374.5,674.4 L1376.0,674.2 L1377.5,674.1 L1379.0,673.9 L1380.5,673.8 L1382.0,673.8 L1383.5,673.9 L1385.0,674.2 L1386.5,674.5 L1388.0,674.7 L1389.5,674.9 L1391.0,674.9 L1392.5,674.7 L1394.0,674.4 L1395.5,674.0 L1397.0,673.6 L1398.5,673.4 L1400.0,673.2 L1401.5,673.1 L1403.0,673.1 L1404.5,673.1 L1406.0,673.2 L1407.5,673.4 L1409.0,673.6 L1410.5,673.9 L1412.0,674.2 L1413.5,674.5 L1415.0,674.7 L1416.5,674.9 L1418.0,675.1 L1419.5,675.2 L1421.0,675.4 L1422.5,675.5 L1424.0,675.6 L1425.5,675.7 L1427.0,675.7 L1428.5,675.7 L1430.0,675.7 L1431.5,675.7 L1433.0,675.6 L1434.5,675.6 L1436.0,675.5 L1437.5,675.5 L1439.0,675.4 L1440.5,675.3 L1442.0,675.1 L1443.5,674.9 L1445.0,674.8 L1446.5,674.8 L1448.0,674.9 L1449.5,675.1 L1451.0,675.4 L1452.5,675.5 L1454.0,675.5 L1455.5,675.4 L1457.0,675.2 L1458.5,674.9 L1460.0,674.7 L1461.5,674.7 L1463.0,674.8 L1464.5,675.0 L1466.0,675.3 L1467.5,675.6 L1469.0,675.9 L1470.5,676.2 L1472.0,676.4 L1473.5,676.4 L1475.0,676.3 L1476.5,676.1 L1478.0,675.8 L1479.5,675.4 L1481.0,675.1 L1482.5,675.0 L1484.0,674.9 L1485.5,675.0 L1487.0,675.1 L1488.5,675.3 L1490.0,675.5 L1491.5,675.6 L1493.0,675.7 L1494.5,675.7 L1496.0,675.7 L1497.5,675.7 L1499.0,675.8 L1500.5,675.9 L1502.0,675.9 L1503.5,675.9 L1505.0,675.8 L1506.5,675.8 L1508.0,675.8 L1509.5,675.8 L1511.0,676.0 L1512.5,676.2 L1514.0,676.4 L1515.5,676.6 L1517.0,676.7 L1518.5,676.8 L1520.0,676.8 L1521.5,676.6 L1523.0,676.5 L1524.5,676.3 L1526.0,676.0 L1527.5,675.8 L1529.0,675.6 L1530.5,675.4 L1532.0,675.2 L1533.5,675.0 L1535.0,674.9 L1536.5,674.9 L1538.0,675.0 L1539.5,675.3 L1541.0,675.6 L1542.5,676.0 L1544.0,676.2 L1545.5,676.4 L1547.0,676.3 L1548.5,676.0 L1550.0,675.7 L1551.5,675.3 L1553.0,675.0 L1554.5,674.9 L1556.0,675.0 L1557.5,675.2 L1559.0,675.4 L1560.5,675.7 L1562.0,675.9 L1563.5,675.9 L1565.0,675.9 L1566.5,675.8 L1568.0,675.7 L1569.5,675.7 L1571.0,675.7 L1572.5,675.7 L1574.0,675.8 L1575.5,676.0 L1577.0,676.1 L1578.5,676.3 L1580.0,676.5 L1581.5,676.6 L1583.0,676.7 L1584.5,676.7 L1586.0,676.6 L1587.5,676.3 L1589.0,676.0 L1590.5,675.7 L1592.0,675.5 L1593.5,675.3 L1595.0,675.3 L1596.5,675.3 L1598.0,675.5 L1599.5,675.7 L1601.0,676.0 L1602.5,676.3 L1604.0,676.6 L1605.5,676.8 L1607.0,676.9 L1608.5,677.0 L1610.0,676.9 L1611.5,676.8 L1613.0,676.6 L1614.5,676.3 L1616.0,676.0 L1617.5,675.6 L1619.0,675.3 L1620.5,675.1 L1622.0,675.1 L1623.5,675.1 L1625.0,675.2 L1626.5,675.3 L1628.0,675.5 L1629.5,675.7 L1631.0,675.9 L1632.5,676.1 L1634.0,676.2 L1635.5,676.3 L1637.0,676.3 L1638.5,676.2 L1640.0,676.1 L1641.5,676.1 L1643.0,676.2 L1644.5,676.4 L1646.0,676.7 L1647.5,676.9 L1649.0,677.0 L1650.5,676.9 L1652.0,676.7 L1653.5,676.5 L1655.0,676.3 L1656.5,676.3 L1658.0,676.4 L1659.5,676.7 L1661.0,677.0 L1662.5,677.3 L1664.0,677.5 L1665.5,677.5 L1667.0,677.4 L1668.5,677.3 L1670.0,677.1 L1671.5,677.0 L1673.0,676.9 L1674.5,676.8 L1676.0,676.7 L1677.5,676.6 L1679.0,676.5 L1680.5,676.4 L1682.0,676.4 L1683.5,676.4 L1685.0,676.5 L1686.5,676.5 L1688.0,676.6 L1689.5,676.5 L1691.0,676.4 L1692.5,676.2 L1694.0,676.0 L1695.5,675.6 L1697.0,675.3 L1698.5,674.9 L1700.0,674.7 L1701.5,674.5 L1703.0,674.6 L1704.5,674.8 L1706.0,675.0 L1707.5,675.3 L1709.0,675.6 L1710.5,675.9 L1712.0,676.2 L1713.5,676.5 L1715.0,676.6 L1716.5,676.7 L1718.0,676.7 L1719.5,676.7 L1721.0,676.7 L1722.5,676.6 L1724.0,676.6 L1725.5,676.5 L1727.0,676.5 L1728.5,676.4 L1730.0,676.3 L1731.5,676.1 L1733.0,675.9 L1734.5,675.8 L1736.0,675.8 L1737.5,675.9 L1739.0,676.0 L1740.5,676.3 L1742.0,676.5 L1743.5,676.7 L1745.0,676.8 L1746.5,676.9 L1748.0,676.9 L1749.5,676.9 L1751.0,676.9 L1752.5,676.9 L1754.0,676.9 L1755.5,676.9 L1757.0,677.1 L1758.5,677.4 L1760.0,677.8 L1761.5,678.2 L1763.0,678.5 L1764.5,678.7 L1766.0,678.7 L1767.5,678.7 L1769.0,678.5 L1770.5,678.4 L1772.0,678.2 L1773.5,678.2 L1775.0,678.2 L1776.5,678.3 L1778.0,678.4 L1779.5,678.5 L1781.0,678.5 L1782.5,678.4 L1784.0,678.2 L1785.5,677.9 L1787.0,677.6 L1788.5,677.3 L1790.0,677.0 L1791.5,676.8 L1793.0,676.6 L1794.5,676.5 L1796.0,676.4 L1797.5,676.4 L1799.0,676.5 L1800.5,676.7 L1802.0,676.8 L1803.5,676.9 L1805.0,676.9 L1806.5,676.9 L1808.0,676.9 L1809.5,676.8 L1811.0,676.7 L1812.5,676.6 L1814.0,676.5 L1815.5,676.6 L1817.0,676.7 L1818.5,676.9 L1820.0,677.1 L1821.5,677.2 L1823.0,677.3 L1824.5,677.3 L1826.0,677.3 L1827.5,677.3 L1829.0,677.4 L1830.5,677.5 L1832.0,677.5 L1833.5,677.5 L1835.0,677.4 L1836.5,677.3 L1838.0,677.3 L1839.5,677.3 L1841.0,677.5 L1842.5,677.6 L1844.0,677.7 L1845.5,677.8 L1847.0,677.8 L1848.5,677.9 L1850.0,678.0 L1851.5,678.2 L1853.0,678.4 L1854.5,678.7 L1856.0,679.0 L1857.5,679.4 L1859.0,679.6 L1860.5,679.9 L1862.0,680.0 L1863.5,680.1 L1865.0,680.1 L1866.5,680.0 L1868.0,679.9 L1869.5,679.8 L1871.0,679.7 L1872.5,679.6 L1874.0,679.7 L1875.5,679.8 L1877.0,680.1 L1878.5,680.4 L1880.0,680.7 L1881.5,681.0 L1883.0,681.2 L1884.5,681.3 L1886.0,681.3 L1887.5,681.3 L1889.0,681.2 L1890.5,681.0 L1892.0,680.7 L1893.5,680.4 L1895.0,679.9 L1896.5,679.4 L1898.0,678.9 L1899.5,678.5 L1901.0,678.1 L1902.5,677.9 L1904.0,677.7 L1905.5,677.7 L1907.0,677.8 L1908.5,677.9 L1910.0,678.1 L1911.5,678.2 L1913.0,678.3 L1914.5,678.3 L1916.0,678.2 L1917.5,678.2 L1919.0,678.1 L1920.5,678.0 L1922.0,677.9 L1923.5,677.9 L1925.0,677.8 L1926.5,677.8 L1928.0,677.7 L1929.5,677.7 L1931.0,677.7 L1932.5,677.7 L1934.0,677.8 L1935.5,677.9 L1937.0,678.0 L1938.5,678.0 L1940.0,678.0 L1941.5,677.9 L1943.0,677.7 L1944.5,677.7 L1946.0,677.8 L1947.5,678.0 L1949.0,678.3 L1950.5,678.6 L1952.0,678.7 L1953.5,678.7 L1955.0,678.5 L1956.5,678.4 L1958.0,678.4 L1959.5,678.6 L1961.0,679.0 L1962.5,679.5 L1964.0,680.0 L1965.5,680.6 L1967.0,681.0 L1968.5,681.3 L1970.0,681.3 L1971.5,681.2 L1973.0,680.9 L1974.5,680.6 L1976.0,680.4 L1977.5,680.3 L1979.0,680.2 L1980.5,680.0 L1982.0,679.8 L1983.5,679.5 L1985.0,679.2 L1986.5,678.8 L1988.0,678.4 L1989.5,678.1 L1991.0,678.0 L1992.5,677.9 L1994.0,678.0 L1995.5,678.1 L1997.0,678.2 L1998.5,678.3 L2000.0,678.4 L2001.5,678.5 L2003.0,678.7 L2004.5,678.8 L2006.0,678.8 L2007.5,678.7 L2009.0,678.6 L2010.5,678.5 L2012.0,678.5 L2013.5,678.5 L2015.0,678.7 L2016.5,678.9 L2018.0,679.1 L2019.5,679.2 L2021.0,679.2 L2022.5,679.1 L2024.0,678.9 L2025.5,678.6 L2027.0,678.4 L2028.5,678.4 L2030.0,678.4 L2031.5,678.6 L2033.0,678.8 L2034.5,679.0 L2036.0,679.2 L2037.5,679.3 L2039.0,679.4 L2040.5,679.4 L2042.0,679.3 L2043.5,679.3 L2045.0,679.2 L2046.5,679.2 L2048.0,679.1 L2049.5,679.2 L2051.0,679.2 L2052.5,679.4 L2054.0,679.7 L2055.5,680.0 L2057.0,680.2 L2058.5,680.3 L2060.0,680.3 L2061.5,680.1 L2063.0,679.8 L2064.5,679.5 L2066.0,679.3 L2067.5,679.3 L2069.0,679.4 L2070.5,679.7 L2072.0,680.1 L2073.5,680.3 L2075.0,680.5 L2076.5,680.3 L2078.0,680.0 L2079.5,679.5 L2081.0,678.9 L2082.5,678.2 L2084.0,677.5 L2085.5,677.0 L2087.0,676.6 L2088.5,676.6 L2090.0,676.7 L2091.5,677.0 L2093.0,677.3 L2094.5,677.7 L2096.0,678.1 L2097.5,678.5 L2099.0,678.8 L2100.5,678.9 L2102.0,679.0 L2103.5,678.9 L2105.0,678.8 L2106.5,678.5 L2108.0,678.3 L2109.5,678.0 L2111.0,677.7 L2112.5,677.6 L2114.0,677.6 L2115.5,677.7 L2117.0,677.8 L2118.5,677.8 L2120.0,677.7 L2121.5,677.6 L2123.0,677.5 L2124.5,677.3 L2126.0,677.3 L2127.5,677.3 L2129.0,677.5 L2130.5,677.2 L2132.0,676.9 L2133.5,676.5 L2135.0,676.1 L2136.5,675.7 L2138.0,675.4 L2139.5,675.1 L2141.0,674.7 L2142.5,674.3 L2144.0,673.9 L2145.5,673.6 L2147.0,673.5 L2148.5,673.6 L2150.0,673.8 L2151.5,673.9 L2153.0,674.1 L2154.5,674.1 L2156.0,674.0 L2157.5,673.9 L2159.0,673.7 L2160.5,673.6 L2162.0,673.5 L2163.5,673.4 L2165.0,673.5 L2166.5,673.7 L2168.0,673.9 L2169.5,674.2 L2171.0,674.4 L2172.5,674.5 L2174.0,674.5 L2175.5,674.4 L2177.0,674.3 L2178.5,674.2 L2180.0,674.2 L2181.5,674.2 L2183.0,674.3 L2184.5,674.3 L2186.0,674.4 L2187.5,674.4 L2189.0,674.4 L2190.5,674.3 L2192.0,674.2 L2193.5,673.9 L2195.0,673.7 L2196.5,673.4 L2198.0,673.2 L2199.5,673.1 L2201.0,673.2 L2202.5,673.3 L2204.0,673.6 L2205.5,674.0 L2207.0,674.6 L2208.5,675.2 L2210.0,675.7 L2211.5,676.0 L2213.0,676.2 L2214.5,676.2 L2216.0,676.0 L2217.5,675.7 L2219.0,675.5 L2220.5,675.3 L2222.0,675.3 L2223.5,675.3 L2225.0,675.5 L2226.5,675.6 L2228.0,675.8 L2229.5,676.0 L2231.0,676.2 L2232.5,676.4 L2234.0,676.6 L2235.5,676.8 L2237.0,677.0 L2238.5,677.1 L2240.0,677.3 L2241.5,677.3 L2243.0,677.2 L2244.5,677.0 L2246.0,676.7 L2247.5,676.4 L2249.0,676.1 L2250.5,675.8 L2252.0,675.6 L2253.5,675.5 L2255.0,675.4 L2256.5,675.4 L2258.0,675.5 L2259.5,675.6 L2261.0,675.6 L2262.5,675.6 L2264.0,675.4 L2265.5,675.2 L2267.0,674.8 L2268.5,674.5 L2270.0,674.2 L2271.5,674.2 L2273.0,674.4 L2274.5,674.8 L2276.0,675.3 L2277.5,675.8 L2279.0,676.1 L2280.5,676.3 L2282.0,676.4 L2283.5,676.4 L2285.0,676.3 L2286.5,676.3 L2288.0,676.3 L2289.5,676.4 L2291.0,676.4 L2292.5,676.5 L2294.0,676.7 L2295.5,676.9 L2297.0,677.0 L2298.5,677.2 L2300.0,677.4 L2301.5,677.5 L2303.0,677.6 L2304.5,677.6 L2306.0,677.5 L2307.5,677.4 L2309.0,677.3 L2310.5,677.2 L2312.0,677.1 L2313.5,677.1 L2315.0,677.0 L2316.5,677.0 L2318.0,677.0 L2319.5,677.0 L2321.0,677.1 L2322.5,677.1 L2324.0,677.2 L2325.5,677.2 L2327.0,677.3 L2328.5,677.4 L2330.0,677.5 L2331.5,677.6 L2333.0,677.6 L2334.5,677.6 L2336.0,677.5 L2337.5,677.5 L2339.0,677.4 L2340.5,677.4 L2342.0,677.3 L2343.5,677.2 L2345.0,677.1 L2346.5,677.0 L2348.0,676.9 L2349.5,676.9 L2351.0,677.1 L2352.5,677.3 L2354.0,677.7 L2355.5,678.2 L2357.0,678.6 L2358.5,678.9 L2360.0,679.1 L2361.5,679.1 L2363.0,679.0 L2364.5,678.9 L2366.0,678.7 L2367.5,678.6 L2369.0,678.7 L2370.5,678.8 L2372.0,679.0 L2373.5,679.1 L2375.0,679.1 L2376.5,679.0 L2378.0,678.8 L2379.5,678.6 L2381.0,678.6 L2382.5,678.8 L2384.0,679.1 L2385.5,679.5 L2387.0,679.9 L2388.5,680.1 L2390.0,680.1 L2391.5,680.0 L2393.0,679.8 L2394.5,679.4 L2396.0,679.1 L2397.5,678.7 L2399.0,678.4 L2400.5,678.3 L2402.0,678.3 L2403.5,678.3 L2405.0,678.4 L2406.5,678.4 L2408.0,678.3 L2409.5,678.2 L2411.0,678.0 L2412.5,677.8 L2414.0,677.7 L2415.5,677.5 L2417.0,677.5 L2418.5,677.4 L2420.0,677.5 L2421.5,677.5 L2423.0,677.7 L2424.5,677.9 L2426.0,678.2 L2427.5,678.5 L2429.0,678.7 L2430.5,678.9 L2432.0,678.9 L2433.5,678.8 L2435.0,678.5 L2436.5,678.0 L2438.0,677.6 L2439.5,677.1 L2441.0,676.8 L2442.5,676.5 L2444.0,676.3 L2445.5,676.2 L2447.0,676.8 L2448.5,677.2" fill="none" stroke="#f5a11f" stroke-width="1.6" stroke-linejoin="round" stroke-linecap="round" opacity="0.95"/><path d="M1121.0,679.5 L1122.5,679.0 L1124.0,678.5 L1125.5,678.2 L1127.0,677.9 L1128.5,677.7 L1130.0,677.6 L1131.5,677.5 L1133.0,677.5 L1134.5,677.6 L1136.0,677.7 L1137.5,677.8 L1139.0,677.9 L1140.5,677.9 L1142.0,677.8 L1143.5,677.7 L1145.0,677.6 L1146.5,677.5 L1148.0,677.4 L1149.5,677.3 L1151.0,677.1 L1152.5,676.8 L1154.0,676.7 L1155.5,676.6 L1157.0,676.6 L1158.5,676.7 L1160.0,677.0 L1161.5,677.4 L1163.0,677.8 L1164.5,678.2 L1166.0,678.4 L1167.5,678.5 L1169.0,678.3 L1170.5,677.9 L1172.0,677.4 L1173.5,677.0 L1175.0,676.7 L1176.5,676.5 L1178.0,676.5 L1179.5,676.5 L1181.0,676.5 L1182.5,676.6 L1184.0,676.5 L1185.5,676.5 L1187.0,676.6 L1188.5,676.7 L1190.0,677.0 L1191.5,677.3 L1193.0,677.8 L1194.5,678.3 L1196.0,678.7 L1197.5,679.0 L1199.0,679.1 L1200.5,679.1 L1202.0,678.8 L1203.5,678.5 L1205.0,678.0 L1206.5,677.6 L1208.0,677.3 L1209.5,677.1 L1211.0,677.0 L1212.5,677.0 L1214.0,676.9 L1215.5,676.8 L1217.0,676.7 L1218.5,676.6 L1220.0,676.6 L1221.5,676.5 L1223.0,676.5 L1224.5,676.4 L1226.0,676.4 L1227.5,676.3 L1229.0,676.3 L1230.5,676.4 L1232.0,676.5 L1233.5,676.6 L1235.0,676.7 L1236.5,676.7 L1238.0,676.7 L1239.5,676.7 L1241.0,676.6 L1242.5,676.6 L1244.0,676.6 L1245.5,676.6 L1247.0,676.6 L1248.5,676.6 L1250.0,676.5 L1251.5,676.4 L1253.0,676.2 L1254.5,676.1 L1256.0,676.0 L1257.5,675.9 L1259.0,675.8 L1260.5,675.7 L1262.0,675.6 L1263.5,675.6 L1265.0,675.5 L1266.5,675.5 L1268.0,675.4 L1269.5,675.2 L1271.0,675.0 L1272.5,674.7 L1274.0,674.5 L1275.5,674.3 L1277.0,674.5 L1278.5,674.8 L1280.0,675.0 L1281.5,675.1 L1283.0,675.1 L1284.5,675.1 L1286.0,675.0 L1287.5,674.9 L1289.0,674.8 L1290.5,674.8 L1292.0,674.8 L1293.5,674.8 L1295.0,674.9 L1296.5,675.0 L1298.0,675.2 L1299.5,675.3 L1301.0,675.5 L1302.5,675.6 L1304.0,675.6 L1305.5,675.7 L1307.0,675.8 L1308.5,675.9 L1310.0,676.0 L1311.5,675.9 L1313.0,675.7 L1314.5,675.4 L1316.0,675.2 L1317.5,675.1 L1319.0,675.1 L1320.5,675.3 L1322.0,675.6 L1323.5,675.9 L1325.0,676.2 L1326.5,676.4 L1328.0,676.6 L1329.5,676.7 L1331.0,676.7 L1332.5,676.7 L1334.0,676.7 L1335.5,676.5 L1337.0,676.3 L1338.5,676.0 L1340.0,675.7 L1341.5,675.5 L1343.0,675.5 L1344.5,675.5 L1346.0,675.5 L1347.5,675.6 L1349.0,675.5 L1350.5,675.4 L1352.0,675.1 L1353.5,674.8 L1355.0,674.5 L1356.5,674.4 L1358.0,674.3 L1359.5,674.5 L1361.0,674.7 L1362.5,675.0 L1364.0,675.3 L1365.5,675.6 L1367.0,675.9 L1368.5,676.1 L1370.0,676.3 L1371.5,676.3 L1373.0,676.2 L1374.5,676.0 L1376.0,675.7 L1377.5,675.4 L1379.0,675.1 L1380.5,674.9 L1382.0,674.8 L1383.5,674.7 L1385.0,674.7 L1386.5,674.8 L1388.0,674.9 L1389.5,675.1 L1391.0,675.2 L1392.5,675.2 L1394.0,675.2 L1395.5,675.0 L1397.0,674.8 L1398.5,674.5 L1400.0,674.1 L1401.5,673.8 L1403.0,673.6 L1404.5,673.5 L1406.0,673.5 L1407.5,673.6 L1409.0,673.8 L1410.5,674.0 L1412.0,674.1 L1413.5,674.2 L1415.0,674.2 L1416.5,674.3 L1418.0,674.4 L1419.5,674.6 L1421.0,674.8 L1422.5,675.2 L1424.0,675.5 L1425.5,676.0 L1427.0,676.4 L1428.5,676.9 L1430.0,677.3 L1431.5,677.5 L1433.0,677.6 L1434.5,677.5 L1436.0,677.3 L1437.5,677.1 L1439.0,676.9 L1440.5,676.7 L1442.0,676.6 L1443.5,676.6 L1445.0,676.6 L1446.5,676.7 L1448.0,676.7 L1449.5,676.7 L1451.0,676.7 L1452.5,676.6 L1454.0,676.6 L1455.5,676.6 L1457.0,676.6 L1458.5,676.5 L1460.0,676.4 L1461.5,676.3 L1463.0,676.0 L1464.5,675.7 L1466.0,675.5 L1467.5,675.2 L1469.0,675.0 L1470.5,674.9 L1472.0,674.8 L1473.5,674.8 L1475.0,674.9 L1476.5,674.9 L1478.0,675.1 L1479.5,675.2 L1481.0,675.5 L1482.5,675.8 L1484.0,676.1 L1485.5,676.5 L1487.0,676.9 L1488.5,677.2 L1490.0,677.4 L1491.5,677.6 L1493.0,677.6 L1494.5,677.5 L1496.0,677.3 L1497.5,677.2 L1499.0,677.0 L1500.5,676.8 L1502.0,676.6 L1503.5,676.4 L1505.0,676.2 L1506.5,676.2 L1508.0,676.2 L1509.5,676.3 L1511.0,676.6 L1512.5,676.8 L1514.0,677.1 L1515.5,677.2 L1517.0,677.2 L1518.5,677.1 L1520.0,676.9 L1521.5,676.6 L1523.0,676.4 L1524.5,676.2 L1526.0,676.1 L1527.5,676.0 L1529.0,675.9 L1530.5,675.7 L1532.0,675.4 L1533.5,675.0 L1535.0,674.6 L1536.5,674.3 L1538.0,674.1 L1539.5,674.1 L1541.0,674.3 L1542.5,674.6 L1544.0,674.9 L1545.5,675.3 L1547.0,675.7 L1548.5,676.1 L1550.0,676.3 L1551.5,676.5 L1553.0,676.6 L1554.5,676.7 L1556.0,676.8 L1557.5,676.9 L1559.0,676.9 L1560.5,676.9 L1562.0,676.8 L1563.5,676.7 L1565.0,676.6 L1566.5,676.5 L1568.0,676.4 L1569.5,676.3 L1571.0,676.3 L1572.5,676.3 L1574.0,676.3 L1575.5,676.4 L1577.0,676.6 L1578.5,676.8 L1580.0,677.0 L1581.5,677.1 L1583.0,677.2 L1584.5,677.2 L1586.0,677.1 L1587.5,676.9 L1589.0,676.8 L1590.5,676.6 L1592.0,676.5 L1593.5,676.3 L1595.0,676.1 L1596.5,675.9 L1598.0,675.8 L1599.5,675.8 L1601.0,675.8 L1602.5,676.0 L1604.0,676.2 L1605.5,676.3 L1607.0,676.5 L1608.5,676.7 L1610.0,676.9 L1611.5,677.0 L1613.0,677.1 L1614.5,677.2 L1616.0,677.3 L1617.5,677.4 L1619.0,677.4 L1620.5,677.3 L1622.0,677.3 L1623.5,677.2 L1625.0,677.1 L1626.5,677.1 L1628.0,677.0 L1629.5,677.0 L1631.0,677.0 L1632.5,677.1 L1634.0,677.1 L1635.5,677.2 L1637.0,677.2 L1638.5,677.2 L1640.0,677.2 L1641.5,677.1 L1643.0,677.0 L1644.5,677.0 L1646.0,676.9 L1647.5,676.7 L1649.0,676.5 L1650.5,676.2 L1652.0,676.1 L1653.5,676.0 L1655.0,676.0 L1656.5,676.2 L1658.0,676.5 L1659.5,676.8 L1661.0,677.1 L1662.5,677.3 L1664.0,677.4 L1665.5,677.4 L1667.0,677.3 L1668.5,677.2 L1670.0,677.1 L1671.5,677.0 L1673.0,676.9 L1674.5,676.9 L1676.0,676.8 L1677.5,676.7 L1679.0,676.5 L1680.5,676.3 L1682.0,676.1 L1683.5,675.9 L1685.0,675.7 L1686.5,675.6 L1688.0,675.6 L1689.5,675.6 L1691.0,675.7 L1692.5,675.9 L1694.0,676.1 L1695.5,676.3 L1697.0,676.4 L1698.5,676.5 L1700.0,676.5 L1701.5,676.6 L1703.0,676.7 L1704.5,676.8 L1706.0,677.1 L1707.5,677.4 L1709.0,677.8 L1710.5,678.3 L1712.0,678.6 L1713.5,678.9 L1715.0,678.9 L1716.5,678.8 L1718.0,678.5 L1719.5,678.2 L1721.0,677.9 L1722.5,677.8 L1724.0,677.8 L1725.5,677.9 L1727.0,678.1 L1728.5,678.2 L1730.0,678.3 L1731.5,678.1 L1733.0,677.9 L1734.5,677.5 L1736.0,677.2 L1737.5,676.9 L1739.0,676.8 L1740.5,676.9 L1742.0,677.1 L1743.5,677.4 L1745.0,677.8 L1746.5,678.3 L1748.0,678.7 L1749.5,679.1 L1751.0,679.4 L1752.5,679.5 L1754.0,679.4 L1755.5,679.2 L1757.0,678.9 L1758.5,678.6 L1760.0,678.3 L1761.5,678.0 L1763.0,677.8 L1764.5,677.7 L1766.0,677.6 L1767.5,677.7 L1769.0,677.9 L1770.5,678.0 L1772.0,678.1 L1773.5,678.1 L1775.0,678.1 L1776.5,678.0 L1778.0,677.9 L1779.5,677.9 L1781.0,678.0 L1782.5,678.2 L1784.0,678.4 L1785.5,678.6 L1787.0,678.9 L1788.5,679.3 L1790.0,679.7 L1791.5,680.0 L1793.0,680.3 L1794.5,680.5 L1796.0,680.6 L1797.5,680.6 L1799.0,680.6 L1800.5,680.5 L1802.0,680.2 L1803.5,679.9 L1805.0,679.6 L1806.5,679.2 L1808.0,679.0 L1809.5,678.8 L1811.0,678.8 L1812.5,678.8 L1814.0,679.0 L1815.5,679.2 L1817.0,679.5 L1818.5,679.8 L1820.0,680.0 L1821.5,680.2 L1823.0,680.1 L1824.5,680.0 L1826.0,679.8 L1827.5,679.6 L1829.0,679.4 L1830.5,679.2 L1832.0,679.1 L1833.5,679.0 L1835.0,679.1 L1836.5,679.2 L1838.0,679.4 L1839.5,679.6 L1841.0,679.8 L1842.5,679.9 L1844.0,680.0 L1845.5,679.9 L1847.0,679.8 L1848.5,679.6 L1850.0,679.5 L1851.5,679.4 L1853.0,679.4 L1854.5,679.6 L1856.0,679.8 L1857.5,680.0 L1859.0,680.2 L1860.5,680.2 L1862.0,680.1 L1863.5,679.9 L1865.0,679.6 L1866.5,679.4 L1868.0,679.3 L1869.5,679.4 L1871.0,679.6 L1872.5,679.9 L1874.0,680.3 L1875.5,680.8 L1877.0,681.3 L1878.5,681.9 L1880.0,682.4 L1881.5,682.9 L1883.0,683.3 L1884.5,683.6 L1886.0,683.8 L1887.5,683.8 L1889.0,683.6 L1890.5,683.2 L1892.0,682.7 L1893.5,682.0 L1895.0,681.4 L1896.5,680.8 L1898.0,680.5 L1899.5,680.3 L1901.0,680.3 L1902.5,680.3 L1904.0,680.3 L1905.5,680.3 L1907.0,680.3 L1908.5,680.4 L1910.0,680.6 L1911.5,680.8 L1913.0,681.1 L1914.5,681.2 L1916.0,681.4 L1917.5,681.4 L1919.0,681.4 L1920.5,681.4 L1922.0,681.5 L1923.5,681.5 L1925.0,681.6 L1926.5,681.6 L1928.0,681.5 L1929.5,681.4 L1931.0,681.2 L1932.5,681.1 L1934.0,681.0 L1935.5,681.0 L1937.0,681.1 L1938.5,681.1 L1940.0,681.1 L1941.5,681.0 L1943.0,680.9 L1944.5,680.9 L1946.0,680.8 L1947.5,680.8 L1949.0,680.9 L1950.5,681.2 L1952.0,681.5 L1953.5,681.9 L1955.0,682.3 L1956.5,682.7 L1958.0,683.0 L1959.5,683.1 L1961.0,683.1 L1962.5,682.9 L1964.0,682.6 L1965.5,682.4 L1967.0,682.3 L1968.5,682.2 L1970.0,682.2 L1971.5,682.1 L1973.0,682.0 L1974.5,681.9 L1976.0,681.9 L1977.5,681.9 L1979.0,682.0 L1980.5,682.1 L1982.0,682.3 L1983.5,682.5 L1985.0,682.5 L1986.5,682.4 L1988.0,682.1 L1989.5,681.6 L1991.0,681.0 L1992.5,680.3 L1994.0,679.7 L1995.5,679.3 L1997.0,679.0 L1998.5,679.1 L2000.0,679.4 L2001.5,679.8 L2003.0,680.2 L2004.5,680.5 L2006.0,680.7 L2007.5,680.8 L2009.0,680.8 L2010.5,680.8 L2012.0,680.8 L2013.5,681.0 L2015.0,681.2 L2016.5,681.3 L2018.0,681.4 L2019.5,681.3 L2021.0,681.1 L2022.5,680.7 L2024.0,680.3 L2025.5,679.9 L2027.0,679.6 L2028.5,679.5 L2030.0,679.5 L2031.5,679.6 L2033.0,679.8 L2034.5,680.0 L2036.0,680.2 L2037.5,680.4 L2039.0,680.6 L2040.5,680.8 L2042.0,681.0 L2043.5,681.3 L2045.0,681.5 L2046.5,681.6 L2048.0,681.7 L2049.5,681.7 L2051.0,681.6 L2052.5,681.5 L2054.0,681.4 L2055.5,681.4 L2057.0,681.4 L2058.5,681.6 L2060.0,681.8 L2061.5,682.0 L2063.0,682.0 L2064.5,682.0 L2066.0,681.8 L2067.5,681.6 L2069.0,681.3 L2070.5,681.0 L2072.0,680.7 L2073.5,680.5 L2075.0,680.3 L2076.5,680.2 L2078.0,680.2 L2079.5,680.1 L2081.0,680.1 L2082.5,679.9 L2084.0,679.7 L2085.5,679.6 L2087.0,679.6 L2088.5,679.7 L2090.0,679.8 L2091.5,679.9 L2093.0,679.9 L2094.5,679.7 L2096.0,679.5 L2097.5,679.3 L2099.0,679.2 L2100.5,679.1 L2102.0,679.1 L2103.5,679.1 L2105.0,679.1 L2106.5,679.1 L2108.0,678.9 L2109.5,678.8 L2111.0,678.7 L2112.5,678.5 L2114.0,678.4 L2115.5,678.2 L2117.0,678.0 L2118.5,677.8 L2120.0,677.6 L2121.5,677.3 L2123.0,677.2 L2124.5,677.0 L2126.0,676.9 L2127.5,676.6 L2129.0,676.5 L2130.5,676.1 L2132.0,675.6 L2133.5,675.2 L2135.0,674.9 L2136.5,674.8 L2138.0,674.7 L2139.5,674.8 L2141.0,674.8 L2142.5,674.9 L2144.0,675.0 L2145.5,675.0 L2147.0,675.0 L2148.5,675.0 L2150.0,675.0 L2151.5,675.1 L2153.0,675.2 L2154.5,675.3 L2156.0,675.6 L2157.5,675.9 L2159.0,676.3 L2160.5,676.6 L2162.0,676.8 L2163.5,677.0 L2165.0,677.1 L2166.5,677.1 L2168.0,677.0 L2169.5,676.9 L2171.0,676.8 L2172.5,676.8 L2174.0,676.7 L2175.5,676.7 L2177.0,676.7 L2178.5,676.7 L2180.0,676.6 L2181.5,676.5 L2183.0,676.3 L2184.5,676.0 L2186.0,675.7 L2187.5,675.6 L2189.0,675.5 L2190.5,675.5 L2192.0,675.6 L2193.5,675.9 L2195.0,676.1 L2196.5,676.4 L2198.0,676.6 L2199.5,676.7 L2201.0,676.8 L2202.5,676.7 L2204.0,676.5 L2205.5,676.5 L2207.0,676.5 L2208.5,676.6 L2210.0,676.9 L2211.5,677.2 L2213.0,677.4 L2214.5,677.4 L2216.0,677.3 L2217.5,677.2 L2219.0,677.1 L2220.5,677.1 L2222.0,677.3 L2223.5,677.6 L2225.0,677.8 L2226.5,678.0 L2228.0,678.0 L2229.5,678.1 L2231.0,678.1 L2232.5,678.2 L2234.0,678.4 L2235.5,678.7 L2237.0,678.9 L2238.5,679.0 L2240.0,679.0 L2241.5,679.0 L2243.0,678.9 L2244.5,678.8 L2246.0,678.6 L2247.5,678.5 L2249.0,678.3 L2250.5,678.1 L2252.0,677.8 L2253.5,677.6 L2255.0,677.4 L2256.5,677.2 L2258.0,677.1 L2259.5,677.0 L2261.0,677.1 L2262.5,677.2 L2264.0,677.4 L2265.5,677.6 L2267.0,677.8 L2268.5,677.9 L2270.0,678.0 L2271.5,677.9 L2273.0,677.9 L2274.5,677.9 L2276.0,677.9 L2277.5,678.0 L2279.0,678.1 L2280.5,678.3 L2282.0,678.3 L2283.5,678.3 L2285.0,678.2 L2286.5,678.1 L2288.0,678.1 L2289.5,678.1 L2291.0,678.2 L2292.5,678.4 L2294.0,678.6 L2295.5,678.8 L2297.0,679.1 L2298.5,679.3 L2300.0,679.6 L2301.5,679.8 L2303.0,680.0 L2304.5,680.0 L2306.0,680.0 L2307.5,679.9 L2309.0,679.7 L2310.5,679.6 L2312.0,679.5 L2313.5,679.6 L2315.0,679.6 L2316.5,679.7 L2318.0,679.8 L2319.5,679.7 L2321.0,679.5 L2322.5,679.3 L2324.0,679.1 L2325.5,678.9 L2327.0,678.7 L2328.5,678.6 L2330.0,678.5 L2331.5,678.4 L2333.0,678.4 L2334.5,678.3 L2336.0,678.3 L2337.5,678.4 L2339.0,678.5 L2340.5,678.7 L2342.0,678.8 L2343.5,678.9 L2345.0,678.9 L2346.5,678.9 L2348.0,678.8 L2349.5,678.7 L2351.0,678.7 L2352.5,678.8 L2354.0,679.0 L2355.5,679.2 L2357.0,679.5 L2358.5,679.8 L2360.0,680.0 L2361.5,680.3 L2363.0,680.5 L2364.5,680.7 L2366.0,680.8 L2367.5,680.8 L2369.0,680.8 L2370.5,680.7 L2372.0,680.6 L2373.5,680.5 L2375.0,680.4 L2376.5,680.3 L2378.0,680.1 L2379.5,679.8 L2381.0,679.5 L2382.5,679.0 L2384.0,678.6 L2385.5,678.3 L2387.0,678.0 L2388.5,678.0 L2390.0,678.1 L2391.5,678.5 L2393.0,679.0 L2394.5,679.5 L2396.0,680.0 L2397.5,680.5 L2399.0,680.7 L2400.5,680.8 L2402.0,680.7 L2403.5,680.6 L2405.0,680.4 L2406.5,680.3 L2408.0,680.2 L2409.5,680.1 L2411.0,680.1 L2412.5,680.0 L2414.0,679.9 L2415.5,679.8 L2417.0,679.6 L2418.5,679.3 L2420.0,679.1 L2421.5,678.8 L2423.0,678.6 L2424.5,678.5 L2426.0,678.4 L2427.5,678.5 L2429.0,678.6 L2430.5,678.7 L2432.0,678.9 L2433.5,679.0 L2435.0,679.0 L2436.5,678.9 L2438.0,678.7 L2439.5,678.3 L2441.0,677.9 L2442.5,677.4 L2444.0,676.9 L2445.5,676.4 L2447.0,676.9 L2448.5,677.4" fill="none" stroke="#4b91ff" stroke-width="2.0" stroke-linejoin="round" stroke-linecap="round" opacity="0.95"/><path d="M1121.0,680.4 L1122.5,680.1 L1124.0,679.7 L1125.5,679.2 L1127.0,678.7 L1128.5,678.1 L1130.0,677.7 L1131.5,677.3 L1133.0,677.2 L1134.5,677.3 L1136.0,677.6 L1137.5,678.1 L1139.0,678.6 L1140.5,679.0 L1142.0,679.2 L1143.5,679.3 L1145.0,679.2 L1146.5,678.9 L1148.0,678.5 L1149.5,678.1 L1151.0,677.7 L1152.5,677.2 L1154.0,676.8 L1155.5,676.4 L1157.0,675.9 L1158.5,675.5 L1160.0,675.3 L1161.5,675.3 L1163.0,675.5 L1164.5,675.8 L1166.0,676.3 L1167.5,676.7 L1169.0,677.0 L1170.5,677.2 L1172.0,677.2 L1173.5,677.3 L1175.0,677.3 L1176.5,677.3 L1178.0,677.3 L1179.5,677.3 L1181.0,677.2 L1182.5,677.1 L1184.0,677.1 L1185.5,677.0 L1187.0,677.0 L1188.5,677.0 L1190.0,676.9 L1191.5,676.8 L1193.0,676.7 L1194.5,676.7 L1196.0,676.7 L1197.5,676.8 L1199.0,676.9 L1200.5,677.0 L1202.0,677.0 L1203.5,676.9 L1205.0,676.8 L1206.5,676.7 L1208.0,676.7 L1209.5,676.8 L1211.0,677.1 L1212.5,677.3 L1214.0,677.5 L1215.5,677.5 L1217.0,677.5 L1218.5,677.4 L1220.0,677.5 L1221.5,677.5 L1223.0,677.6 L1224.5,677.6 L1226.0,677.6 L1227.5,677.6 L1229.0,677.6 L1230.5,677.7 L1232.0,677.7 L1233.5,677.8 L1235.0,677.7 L1236.5,677.6 L1238.0,677.4 L1239.5,677.2 L1241.0,677.1 L1242.5,677.0 L1244.0,676.9 L1245.5,676.7 L1247.0,676.6 L1248.5,676.3 L1250.0,676.1 L1251.5,675.9 L1253.0,675.9 L1254.5,675.9 L1256.0,676.0 L1257.5,676.2 L1259.0,676.3 L1260.5,676.4 L1262.0,676.5 L1263.5,676.6 L1265.0,676.6 L1266.5,676.6 L1268.0,676.6 L1269.5,676.5 L1271.0,676.3 L1272.5,676.0 L1274.0,675.7 L1275.5,675.3 L1277.0,675.3 L1278.5,675.3 L1280.0,675.2 L1281.5,675.1 L1283.0,675.1 L1284.5,675.0 L1286.0,675.0 L1287.5,675.1 L1289.0,675.1 L1290.5,675.2 L1292.0,675.2 L1293.5,675.2 L1295.0,675.1 L1296.5,675.1 L1298.0,675.1 L1299.5,675.1 L1301.0,675.2 L1302.5,675.2 L1304.0,675.2 L1305.5,675.2 L1307.0,675.3 L1308.5,675.3 L1310.0,675.3 L1311.5,675.3 L1313.0,675.3 L1314.5,675.3 L1316.0,675.4 L1317.5,675.5 L1319.0,675.5 L1320.5,675.5 L1322.0,675.5 L1323.5,675.5 L1325.0,675.6 L1326.5,675.7 L1328.0,675.8 L1329.5,675.8 L1331.0,675.9 L1332.5,675.9 L1334.0,675.8 L1335.5,675.6 L1337.0,675.3 L1338.5,674.9 L1340.0,674.6 L1341.5,674.3 L1343.0,674.2 L1344.5,674.2 L1346.0,674.4 L1347.5,674.6 L1349.0,674.9 L1350.5,675.0 L1352.0,675.1 L1353.5,675.1 L1355.0,674.9 L1356.5,674.8 L1358.0,674.6 L1359.5,674.4 L1361.0,674.3 L1362.5,674.4 L1364.0,674.5 L1365.5,674.6 L1367.0,674.8 L1368.5,675.0 L1370.0,675.1 L1371.5,675.1 L1373.0,675.0 L1374.5,674.9 L1376.0,674.7 L1377.5,674.6 L1379.0,674.5 L1380.5,674.4 L1382.0,674.3 L1383.5,674.3 L1385.0,674.3 L1386.5,674.3 L1388.0,674.4 L1389.5,674.6 L1391.0,674.8 L1392.5,675.0 L1394.0,675.1 L1395.5,675.2 L1397.0,675.3 L1398.5,675.2 L1400.0,675.1 L1401.5,675.0 L1403.0,674.8 L1404.5,674.7 L1406.0,674.6 L1407.5,674.6 L1409.0,674.7 L1410.5,674.9 L1412.0,675.2 L1413.5,675.5 L1415.0,675.8 L1416.5,676.1 L1418.0,676.3 L1419.5,676.4 L1421.0,676.4 L1422.5,676.5 L1424.0,676.5 L1425.5,676.6 L1427.0,676.8 L1428.5,676.9 L1430.0,677.0 L1431.5,677.1 L1433.0,677.1 L1434.5,677.1 L1436.0,677.2 L1437.5,677.3 L1439.0,677.4 L1440.5,677.6 L1442.0,677.7 L1443.5,677.8 L1445.0,677.7 L1446.5,677.6 L1448.0,677.4 L1449.5,677.1 L1451.0,676.8 L1452.5,676.4 L1454.0,676.1 L1455.5,675.7 L1457.0,675.5 L1458.5,675.4 L1460.0,675.3 L1461.5,675.5 L1463.0,675.7 L1464.5,676.0 L1466.0,676.3 L1467.5,676.5 L1469.0,676.7 L1470.5,676.6 L1472.0,676.5 L1473.5,676.2 L1475.0,675.9 L1476.5,675.6 L1478.0,675.5 L1479.5,675.6 L1481.0,675.8 L1482.5,676.2 L1484.0,676.5 L1485.5,676.9 L1487.0,677.2 L1488.5,677.4 L1490.0,677.6 L1491.5,677.8 L1493.0,677.8 L1494.5,677.9 L1496.0,677.8 L1497.5,677.7 L1499.0,677.6 L1500.5,677.5 L1502.0,677.3 L1503.5,677.2 L1505.0,677.1 L1506.5,677.0 L1508.0,676.9 L1509.5,676.9 L1511.0,676.9 L1512.5,677.0 L1514.0,677.0 L1515.5,677.1 L1517.0,677.1 L1518.5,677.2 L1520.0,677.4 L1521.5,677.5 L1523.0,677.6 L1524.5,677.7 L1526.0,677.7 L1527.5,677.7 L1529.0,677.7 L1530.5,677.6 L1532.0,677.5 L1533.5,677.3 L1535.0,677.2 L1536.5,677.1 L1538.0,677.1 L1539.5,677.2 L1541.0,677.3 L1542.5,677.5 L1544.0,677.7 L1545.5,677.9 L1547.0,678.1 L1548.5,678.1 L1550.0,678.1 L1551.5,677.9 L1553.0,677.8 L1554.5,677.6 L1556.0,677.4 L1557.5,677.4 L1559.0,677.4 L1560.5,677.5 L1562.0,677.5 L1563.5,677.5 L1565.0,677.5 L1566.5,677.4 L1568.0,677.4 L1569.5,677.5 L1571.0,677.6 L1572.5,677.8 L1574.0,678.0 L1575.5,678.1 L1577.0,678.1 L1578.5,678.0 L1580.0,677.9 L1581.5,677.8 L1583.0,677.6 L1584.5,677.4 L1586.0,677.2 L1587.5,676.9 L1589.0,676.6 L1590.5,676.3 L1592.0,675.9 L1593.5,675.7 L1595.0,675.5 L1596.5,675.5 L1598.0,675.6 L1599.5,675.7 L1601.0,675.8 L1602.5,676.0 L1604.0,676.1 L1605.5,676.4 L1607.0,676.7 L1608.5,677.1 L1610.0,677.5 L1611.5,677.7 L1613.0,677.9 L1614.5,677.9 L1616.0,677.9 L1617.5,677.8 L1619.0,677.6 L1620.5,677.5 L1622.0,677.4 L1623.5,677.3 L1625.0,677.3 L1626.5,677.3 L1628.0,677.3 L1629.5,677.2 L1631.0,676.9 L1632.5,676.5 L1634.0,676.1 L1635.5,675.8 L1637.0,675.6 L1638.5,675.7 L1640.0,675.9 L1641.5,676.1 L1643.0,676.4 L1644.5,676.6 L1646.0,676.7 L1647.5,676.8 L1649.0,677.0 L1650.5,677.1 L1652.0,677.3 L1653.5,677.4 L1655.0,677.5 L1656.5,677.5 L1658.0,677.4 L1659.5,677.4 L1661.0,677.3 L1662.5,677.4 L1664.0,677.4 L1665.5,677.4 L1667.0,677.4 L1668.5,677.3 L1670.0,677.4 L1671.5,677.5 L1673.0,677.6 L1674.5,677.7 L1676.0,677.8 L1677.5,677.8 L1679.0,677.7 L1680.5,677.7 L1682.0,677.7 L1683.5,677.9 L1685.0,678.0 L1686.5,678.2 L1688.0,678.2 L1689.5,678.1 L1691.0,677.9 L1692.5,677.7 L1694.0,677.5 L1695.5,677.4 L1697.0,677.3 L1698.5,677.3 L1700.0,677.4 L1701.5,677.5 L1703.0,677.6 L1704.5,677.7 L1706.0,677.6 L1707.5,677.5 L1709.0,677.3 L1710.5,677.0 L1712.0,676.8 L1713.5,676.6 L1715.0,676.4 L1716.5,676.2 L1718.0,676.1 L1719.5,676.2 L1721.0,676.3 L1722.5,676.5 L1724.0,676.7 L1725.5,677.0 L1727.0,677.2 L1728.5,677.3 L1730.0,677.4 L1731.5,677.5 L1733.0,677.5 L1734.5,677.6 L1736.0,677.6 L1737.5,677.6 L1739.0,677.7 L1740.5,677.8 L1742.0,677.9 L1743.5,678.1 L1745.0,678.3 L1746.5,678.5 L1748.0,678.7 L1749.5,678.7 L1751.0,678.6 L1752.5,678.5 L1754.0,678.2 L1755.5,678.0 L1757.0,677.8 L1758.5,677.6 L1760.0,677.5 L1761.5,677.4 L1763.0,677.5 L1764.5,677.6 L1766.0,677.9 L1767.5,678.3 L1769.0,678.6 L1770.5,678.8 L1772.0,678.9 L1773.5,678.8 L1775.0,678.5 L1776.5,678.2 L1778.0,678.0 L1779.5,677.8 L1781.0,677.9 L1782.5,678.0 L1784.0,678.2 L1785.5,678.4 L1787.0,678.6 L1788.5,678.7 L1790.0,678.7 L1791.5,678.7 L1793.0,678.9 L1794.5,679.1 L1796.0,679.4 L1797.5,679.8 L1799.0,680.1 L1800.5,680.3 L1802.0,680.4 L1803.5,680.5 L1805.0,680.4 L1806.5,680.4 L1808.0,680.3 L1809.5,680.3 L1811.0,680.4 L1812.5,680.4 L1814.0,680.4 L1815.5,680.3 L1817.0,680.2 L1818.5,680.1 L1820.0,679.9 L1821.5,679.8 L1823.0,679.8 L1824.5,679.9 L1826.0,680.2 L1827.5,680.7 L1829.0,681.2 L1830.5,681.6 L1832.0,682.0 L1833.5,682.2 L1835.0,682.3 L1836.5,682.2 L1838.0,682.1 L1839.5,681.8 L1841.0,681.6 L1842.5,681.4 L1844.0,681.2 L1845.5,681.1 L1847.0,681.1 L1848.5,681.0 L1850.0,681.0 L1851.5,681.0 L1853.0,681.1 L1854.5,681.2 L1856.0,681.4 L1857.5,681.6 L1859.0,681.8 L1860.5,681.9 L1862.0,682.0 L1863.5,682.1 L1865.0,682.2 L1866.5,682.4 L1868.0,682.6 L1869.5,683.0 L1871.0,683.3 L1872.5,683.7 L1874.0,684.1 L1875.5,684.4 L1877.0,684.7 L1878.5,685.1 L1880.0,685.5 L1881.5,685.8 L1883.0,686.1 L1884.5,686.3 L1886.0,686.3 L1887.5,686.3 L1889.0,686.1 L1890.5,685.8 L1892.0,685.3 L1893.5,684.7 L1895.0,684.1 L1896.5,683.7 L1898.0,683.4 L1899.5,683.3 L1901.0,683.3 L1902.5,683.4 L1904.0,683.5 L1905.5,683.6 L1907.0,683.6 L1908.5,683.7 L1910.0,683.8 L1911.5,683.8 L1913.0,683.7 L1914.5,683.5 L1916.0,683.3 L1917.5,683.1 L1919.0,683.0 L1920.5,683.1 L1922.0,683.2 L1923.5,683.4 L1925.0,683.7 L1926.5,683.9 L1928.0,684.0 L1929.5,684.0 L1931.0,683.8 L1932.5,683.6 L1934.0,683.4 L1935.5,683.3 L1937.0,683.3 L1938.5,683.4 L1940.0,683.6 L1941.5,683.8 L1943.0,684.1 L1944.5,684.3 L1946.0,684.6 L1947.5,684.8 L1949.0,685.1 L1950.5,685.4 L1952.0,685.6 L1953.5,685.8 L1955.0,685.9 L1956.5,685.9 L1958.0,685.9 L1959.5,685.8 L1961.0,685.7 L1962.5,685.6 L1964.0,685.5 L1965.5,685.5 L1967.0,685.5 L1968.5,685.6 L1970.0,685.6 L1971.5,685.5 L1973.0,685.4 L1974.5,685.4 L1976.0,685.3 L1977.5,685.4 L1979.0,685.5 L1980.5,685.6 L1982.0,685.7 L1983.5,685.8 L1985.0,685.9 L1986.5,685.9 L1988.0,685.8 L1989.5,685.7 L1991.0,685.6 L1992.5,685.4 L1994.0,685.3 L1995.5,685.2 L1997.0,685.2 L1998.5,685.3 L2000.0,685.4 L2001.5,685.4 L2003.0,685.2 L2004.5,684.9 L2006.0,684.5 L2007.5,684.2 L2009.0,683.9 L2010.5,683.8 L2012.0,683.9 L2013.5,684.1 L2015.0,684.3 L2016.5,684.5 L2018.0,684.6 L2019.5,684.6 L2021.0,684.5 L2022.5,684.4 L2024.0,684.3 L2025.5,684.1 L2027.0,683.9 L2028.5,683.7 L2030.0,683.5 L2031.5,683.3 L2033.0,683.0 L2034.5,682.8 L2036.0,682.7 L2037.5,682.6 L2039.0,682.6 L2040.5,682.7 L2042.0,682.7 L2043.5,682.9 L2045.0,683.0 L2046.5,683.1 L2048.0,683.3 L2049.5,683.4 L2051.0,683.4 L2052.5,683.3 L2054.0,683.2 L2055.5,683.2 L2057.0,683.1 L2058.5,683.2 L2060.0,683.4 L2061.5,683.7 L2063.0,683.9 L2064.5,684.2 L2066.0,684.3 L2067.5,684.4 L2069.0,684.4 L2070.5,684.3 L2072.0,684.2 L2073.5,684.0 L2075.0,683.6 L2076.5,683.2 L2078.0,682.8 L2079.5,682.4 L2081.0,682.0 L2082.5,681.8 L2084.0,681.7 L2085.5,681.8 L2087.0,681.9 L2088.5,682.1 L2090.0,682.2 L2091.5,682.4 L2093.0,682.6 L2094.5,682.7 L2096.0,682.8 L2097.5,682.9 L2099.0,682.8 L2100.5,682.7 L2102.0,682.4 L2103.5,682.0 L2105.0,681.6 L2106.5,681.1 L2108.0,680.7 L2109.5,680.4 L2111.0,680.2 L2112.5,680.1 L2114.0,680.1 L2115.5,680.1 L2117.0,680.0 L2118.5,679.8 L2120.0,679.5 L2121.5,679.2 L2123.0,678.9 L2124.5,678.7 L2126.0,678.4 L2127.5,678.2 L2129.0,678.0 L2130.5,677.7 L2132.0,677.3 L2133.5,676.9 L2135.0,676.6 L2136.5,676.3 L2138.0,676.2 L2139.5,676.1 L2141.0,676.1 L2142.5,676.2 L2144.0,676.3 L2145.5,676.5 L2147.0,676.7 L2148.5,676.9 L2150.0,677.2 L2151.5,677.5 L2153.0,677.8 L2154.5,678.0 L2156.0,678.1 L2157.5,678.1 L2159.0,677.9 L2160.5,677.7 L2162.0,677.4 L2163.5,677.3 L2165.0,677.2 L2166.5,677.2 L2168.0,677.3 L2169.5,677.4 L2171.0,677.4 L2172.5,677.5 L2174.0,677.5 L2175.5,677.6 L2177.0,677.7 L2178.5,677.8 L2180.0,678.0 L2181.5,678.0 L2183.0,678.1 L2184.5,678.1 L2186.0,678.2 L2187.5,678.3 L2189.0,678.4 L2190.5,678.6 L2192.0,678.7 L2193.5,678.7 L2195.0,678.6 L2196.5,678.4 L2198.0,678.0 L2199.5,677.6 L2201.0,677.3 L2202.5,677.1 L2204.0,677.1 L2205.5,677.4 L2207.0,677.8 L2208.5,678.2 L2210.0,678.7 L2211.5,679.2 L2213.0,679.6 L2214.5,680.0 L2216.0,680.2 L2217.5,680.3 L2219.0,680.3 L2220.5,680.3 L2222.0,680.3 L2223.5,680.3 L2225.0,680.2 L2226.5,680.1 L2228.0,679.9 L2229.5,679.7 L2231.0,679.6 L2232.5,679.5 L2234.0,679.5 L2235.5,679.5 L2237.0,679.4 L2238.5,679.3 L2240.0,679.2 L2241.5,679.2 L2243.0,679.1 L2244.5,679.2 L2246.0,679.4 L2247.5,679.5 L2249.0,679.6 L2250.5,679.7 L2252.0,679.7 L2253.5,679.6 L2255.0,679.6 L2256.5,679.6 L2258.0,679.6 L2259.5,679.6 L2261.0,679.7 L2262.5,679.8 L2264.0,680.0 L2265.5,680.2 L2267.0,680.4 L2268.5,680.6 L2270.0,680.6 L2271.5,680.6 L2273.0,680.4 L2274.5,680.2 L2276.0,679.9 L2277.5,679.7 L2279.0,679.6 L2280.5,679.5 L2282.0,679.6 L2283.5,679.7 L2285.0,679.8 L2286.5,680.0 L2288.0,680.2 L2289.5,680.4 L2291.0,680.6 L2292.5,680.7 L2294.0,680.7 L2295.5,680.6 L2297.0,680.3 L2298.5,680.0 L2300.0,679.6 L2301.5,679.3 L2303.0,679.2 L2304.5,679.1 L2306.0,679.3 L2307.5,679.5 L2309.0,679.8 L2310.5,680.1 L2312.0,680.3 L2313.5,680.3 L2315.0,680.3 L2316.5,680.2 L2318.0,680.1 L2319.5,680.1 L2321.0,680.2 L2322.5,680.3 L2324.0,680.5 L2325.5,680.7 L2327.0,681.0 L2328.5,681.1 L2330.0,681.2 L2331.5,681.2 L2333.0,681.1 L2334.5,681.1 L2336.0,681.0 L2337.5,680.9 L2339.0,680.9 L2340.5,680.8 L2342.0,680.8 L2343.5,680.8 L2345.0,680.8 L2346.5,680.8 L2348.0,680.8 L2349.5,680.7 L2351.0,680.6 L2352.5,680.4 L2354.0,680.1 L2355.5,679.8 L2357.0,679.6 L2358.5,679.3 L2360.0,679.2 L2361.5,679.2 L2363.0,679.4 L2364.5,679.6 L2366.0,679.9 L2367.5,680.2 L2369.0,680.4 L2370.5,680.5 L2372.0,680.6 L2373.5,680.6 L2375.0,680.6 L2376.5,680.6 L2378.0,680.4 L2379.5,680.3 L2381.0,680.1 L2382.5,679.9 L2384.0,679.9 L2385.5,679.9 L2387.0,680.1 L2388.5,680.3 L2390.0,680.5 L2391.5,680.7 L2393.0,680.9 L2394.5,681.0 L2396.0,681.0 L2397.5,681.0 L2399.0,680.9 L2400.5,680.8 L2402.0,680.6 L2403.5,680.4 L2405.0,680.2 L2406.5,680.1 L2408.0,680.0 L2409.5,680.0 L2411.0,680.1 L2412.5,680.4 L2414.0,680.7 L2415.5,681.0 L2417.0,681.3 L2418.5,681.4 L2420.0,681.5 L2421.5,681.4 L2423.0,681.3 L2424.5,681.3 L2426.0,681.3 L2427.5,681.5 L2429.0,681.7 L2430.5,681.8 L2432.0,681.8 L2433.5,681.7 L2435.0,681.4 L2436.5,681.0 L2438.0,680.4 L2439.5,679.8 L2441.0,679.0 L2442.5,678.2 L2444.0,677.3 L2445.5,676.5 L2447.0,677.1 L2448.5,677.6" fill="none" stroke="#c3a5e0" stroke-width="1.8" stroke-linejoin="round" stroke-linecap="round" opacity="0.95"/><path d="M1121.0,678.5 L1122.5,678.3 L1124.0,678.0 L1125.5,677.8 L1127.0,677.7 L1128.5,677.6 L1130.0,677.6 L1131.5,677.6 L1133.0,677.6 L1134.5,677.7 L1136.0,677.8 L1137.5,677.8 L1139.0,677.9 L1140.5,677.9 L1142.0,677.8 L1143.5,677.7 L1145.0,677.5 L1146.5,677.4 L1148.0,677.4 L1149.5,677.4 L1151.0,677.4 L1152.5,677.5 L1154.0,677.5 L1155.5,677.5 L1157.0,677.5 L1158.5,677.5 L1160.0,677.5 L1161.5,677.5 L1163.0,677.5 L1164.5,677.5 L1166.0,677.5 L1167.5,677.4 L1169.0,677.2 L1170.5,677.1 L1172.0,677.0 L1173.5,676.9 L1175.0,676.9 L1176.5,676.9 L1178.0,677.0 L1179.5,677.0 L1181.0,677.0 L1182.5,677.0 L1184.0,676.9 L1185.5,676.9 L1187.0,676.8 L1188.5,676.8 L1190.0,676.8 L1191.5,676.9 L1193.0,677.0 L1194.5,677.2 L1196.0,677.3 L1197.5,677.5 L1199.0,677.5 L1200.5,677.5 L1202.0,677.4 L1203.5,677.2 L1205.0,677.0 L1206.5,676.9 L1208.0,676.9 L1209.5,676.9 L1211.0,677.0 L1212.5,677.1 L1214.0,677.2 L1215.5,677.2 L1217.0,677.2 L1218.5,677.1 L1220.0,677.1 L1221.5,677.1 L1223.0,677.1 L1224.5,677.1 L1226.0,677.2 L1227.5,677.2 L1229.0,677.2 L1230.5,677.2 L1232.0,677.2 L1233.5,677.1 L1235.0,677.1 L1236.5,676.9 L1238.0,676.9 L1239.5,676.8 L1241.0,676.7 L1242.5,676.7 L1244.0,676.7 L1245.5,676.7 L1247.0,676.6 L1248.5,676.5 L1250.0,676.4 L1251.5,676.2 L1253.0,676.1 L1254.5,676.1 L1256.0,676.1 L1257.5,676.2 L1259.0,676.3 L1260.5,676.3 L1262.0,676.4 L1263.5,676.5 L1265.0,676.5 L1266.5,676.6 L1268.0,676.6 L1269.5,676.5 L1271.0,676.3 L1272.5,675.9 L1274.0,675.5 L1275.5,675.1 L1277.0,674.7 L1278.5,674.2 L1280.0,673.8 L1281.5,673.3 L1283.0,672.9 L1284.5,672.6 L1286.0,672.4 L1287.5,672.4 L1289.0,672.7 L1290.5,673.0 L1292.0,673.4 L1293.5,673.9 L1295.0,674.3 L1296.5,674.7 L1298.0,675.0 L1299.5,675.2 L1301.0,675.4 L1302.5,675.4 L1304.0,675.5 L1305.5,675.5 L1307.0,675.6 L1308.5,675.7 L1310.0,675.7 L1311.5,675.8 L1313.0,675.8 L1314.5,675.8 L1316.0,675.8 L1317.5,675.8 L1319.0,675.8 L1320.5,675.7 L1322.0,675.6 L1323.5,675.5 L1325.0,675.4 L1326.5,675.3 L1328.0,675.2 L1329.5,675.1 L1331.0,675.1 L1332.5,675.2 L1334.0,675.2 L1335.5,675.2 L1337.0,675.2 L1338.5,675.1 L1340.0,674.9 L1341.5,674.8 L1343.0,674.6 L1344.5,674.4 L1346.0,674.2 L1347.5,674.0 L1349.0,673.8 L1350.5,673.7 L1352.0,673.5 L1353.5,673.4 L1355.0,673.2 L1356.5,673.1 L1358.0,672.9 L1359.5,672.8 L1361.0,672.6 L1362.5,672.5 L1364.0,672.4 L1365.5,672.2 L1367.0,672.1 L1368.5,672.0 L1370.0,671.8 L1371.5,671.6 L1373.0,671.5 L1374.5,671.3 L1376.0,671.2 L1377.5,671.1 L1379.0,671.0 L1380.5,670.9 L1382.0,670.9 L1383.5,670.9 L1385.0,671.0 L1386.5,671.2 L1388.0,671.3 L1389.5,671.4 L1391.0,671.4 L1392.5,671.3 L1394.0,671.2 L1395.5,671.0 L1397.0,670.9 L1398.5,670.8 L1400.0,670.9 L1401.5,670.9 L1403.0,670.9 L1404.5,670.9 L1406.0,671.0 L1407.5,671.0 L1409.0,671.1 L1410.5,671.2 L1412.0,671.3 L1413.5,671.4 L1415.0,671.5 L1416.5,671.5 L1418.0,671.7 L1419.5,672.0 L1421.0,672.4 L1422.5,672.9 L1424.0,673.5 L1425.5,674.1 L1427.0,674.7 L1428.5,675.2 L1430.0,675.5 L1431.5,675.7 L1433.0,675.7 L1434.5,675.5 L1436.0,675.3 L1437.5,675.1 L1439.0,674.8 L1440.5,674.6 L1442.0,674.3 L1443.5,674.0 L1445.0,673.6 L1446.5,673.3 L1448.0,673.0 L1449.5,672.8 L1451.0,672.7 L1452.5,672.7 L1454.0,672.8 L1455.5,672.8 L1457.0,672.9 L1458.5,672.9 L1460.0,673.0 L1461.5,673.1 L1463.0,673.2 L1464.5,673.4 L1466.0,673.5 L1467.5,673.7 L1469.0,673.8 L1470.5,673.9 L1472.0,674.0 L1473.5,674.0 L1475.0,674.0 L1476.5,674.0 L1478.0,674.0 L1479.5,674.2 L1481.0,674.3 L1482.5,674.6 L1484.0,674.8 L1485.5,674.9 L1487.0,675.1 L1488.5,675.2 L1490.0,675.2 L1491.5,675.2 L1493.0,675.2 L1494.5,675.1 L1496.0,674.9 L1497.5,674.8 L1499.0,674.8 L1500.5,674.8 L1502.0,674.8 L1503.5,674.9 L1505.0,675.0 L1506.5,675.1 L1508.0,675.2 L1509.5,675.3 L1511.0,675.3 L1512.5,675.3 L1514.0,675.2 L1515.5,675.2 L1517.0,675.1 L1518.5,675.0 L1520.0,674.9 L1521.5,674.9 L1523.0,674.8 L1524.5,674.8 L1526.0,674.9 L1527.5,674.9 L1529.0,674.9 L1530.5,674.9 L1532.0,674.9 L1533.5,674.8 L1535.0,674.7 L1536.5,674.6 L1538.0,674.5 L1539.5,674.5 L1541.0,674.6 L1542.5,674.7 L1544.0,674.8 L1545.5,674.9 L1547.0,675.0 L1548.5,675.0 L1550.0,675.0 L1551.5,674.9 L1553.0,674.9 L1554.5,674.7 L1556.0,674.6 L1557.5,674.4 L1559.0,674.1 L1560.5,674.0 L1562.0,673.9 L1563.5,673.9 L1565.0,674.0 L1566.5,674.1 L1568.0,674.2 L1569.5,674.2 L1571.0,674.1 L1572.5,674.1 L1574.0,674.0 L1575.5,674.0 L1577.0,674.0 L1578.5,674.0 L1580.0,674.1 L1581.5,674.1 L1583.0,674.2 L1584.5,674.3 L1586.0,674.2 L1587.5,674.1 L1589.0,673.9 L1590.5,673.7 L1592.0,673.6 L1593.5,673.4 L1595.0,673.4 L1596.5,673.5 L1598.0,673.6 L1599.5,673.9 L1601.0,674.1 L1602.5,674.1 L1604.0,674.1 L1605.5,674.0 L1607.0,673.8 L1608.5,673.8 L1610.0,673.8 L1611.5,674.0 L1613.0,674.1 L1614.5,674.2 L1616.0,674.3 L1617.5,674.3 L1619.0,674.2 L1620.5,674.0 L1622.0,673.9 L1623.5,673.7 L1625.0,673.6 L1626.5,673.6 L1628.0,673.6 L1629.5,673.7 L1631.0,673.8 L1632.5,674.0 L1634.0,674.1 L1635.5,674.2 L1637.0,674.1 L1638.5,673.9 L1640.0,673.7 L1641.5,673.6 L1643.0,673.6 L1644.5,673.7 L1646.0,673.9 L1647.5,674.1 L1649.0,674.2 L1650.5,674.2 L1652.0,674.0 L1653.5,673.9 L1655.0,673.7 L1656.5,673.7 L1658.0,673.8 L1659.5,674.0 L1661.0,674.2 L1662.5,674.3 L1664.0,674.4 L1665.5,674.4 L1667.0,674.4 L1668.5,674.5 L1670.0,674.6 L1671.5,674.7 L1673.0,674.9 L1674.5,674.9 L1676.0,675.0 L1677.5,674.9 L1679.0,674.8 L1680.5,674.7 L1682.0,674.5 L1683.5,674.4 L1685.0,674.2 L1686.5,674.0 L1688.0,673.8 L1689.5,673.5 L1691.0,673.3 L1692.5,673.2 L1694.0,673.1 L1695.5,673.2 L1697.0,673.2 L1698.5,673.4 L1700.0,673.5 L1701.5,673.6 L1703.0,673.7 L1704.5,673.6 L1706.0,673.6 L1707.5,673.6 L1709.0,673.8 L1710.5,674.2 L1712.0,674.7 L1713.5,675.1 L1715.0,675.4 L1716.5,675.5 L1718.0,675.4 L1719.5,675.3 L1721.0,675.2 L1722.5,675.3 L1724.0,675.4 L1725.5,675.5 L1727.0,675.6 L1728.5,675.6 L1730.0,675.5 L1731.5,675.2 L1733.0,675.0 L1734.5,674.8 L1736.0,674.9 L1737.5,675.1 L1739.0,675.4 L1740.5,675.6 L1742.0,675.7 L1743.5,675.7 L1745.0,675.6 L1746.5,675.4 L1748.0,675.2 L1749.5,675.0 L1751.0,674.7 L1752.5,674.3 L1754.0,674.0 L1755.5,673.9 L1757.0,673.9 L1758.5,674.2 L1760.0,674.6 L1761.5,675.1 L1763.0,675.5 L1764.5,675.7 L1766.0,675.7 L1767.5,675.5 L1769.0,675.2 L1770.5,675.0 L1772.0,674.8 L1773.5,674.9 L1775.0,675.1 L1776.5,675.5 L1778.0,676.0 L1779.5,676.4 L1781.0,676.6 L1782.5,676.6 L1784.0,676.4 L1785.5,676.2 L1787.0,675.9 L1788.5,675.7 L1790.0,675.6 L1791.5,675.6 L1793.0,675.7 L1794.5,675.7 L1796.0,675.6 L1797.5,675.5 L1799.0,675.4 L1800.5,675.2 L1802.0,674.9 L1803.5,674.5 L1805.0,674.2 L1806.5,673.8 L1808.0,673.6 L1809.5,673.5 L1811.0,673.5 L1812.5,673.6 L1814.0,673.6 L1815.5,673.6 L1817.0,673.7 L1818.5,673.7 L1820.0,673.7 L1821.5,673.6 L1823.0,673.3 L1824.5,673.0 L1826.0,672.6 L1827.5,672.4 L1829.0,672.4 L1830.5,672.5 L1832.0,672.6 L1833.5,672.7 L1835.0,672.6 L1836.5,672.5 L1838.0,672.4 L1839.5,672.4 L1841.0,672.4 L1842.5,672.5 L1844.0,672.6 L1845.5,672.5 L1847.0,672.4 L1848.5,672.3 L1850.0,672.2 L1851.5,672.2 L1853.0,672.2 L1854.5,672.2 L1856.0,672.2 L1857.5,672.2 L1859.0,672.1 L1860.5,672.0 L1862.0,671.9 L1863.5,671.8 L1865.0,671.6 L1866.5,671.4 L1868.0,671.3 L1869.5,671.2 L1871.0,671.1 L1872.5,671.1 L1874.0,671.1 L1875.5,671.1 L1877.0,671.0 L1878.5,670.9 L1880.0,670.7 L1881.5,670.4 L1883.0,670.2 L1884.5,669.9 L1886.0,669.8 L1887.5,669.7 L1889.0,669.8 L1890.5,670.0 L1892.0,670.0 L1893.5,669.8 L1895.0,669.5 L1896.5,669.1 L1898.0,668.8 L1899.5,668.7 L1901.0,668.7 L1902.5,668.7 L1904.0,668.7 L1905.5,668.7 L1907.0,668.8 L1908.5,668.9 L1910.0,669.2 L1911.5,669.4 L1913.0,669.5 L1914.5,669.6 L1916.0,669.5 L1917.5,669.3 L1919.0,669.2 L1920.5,669.1 L1922.0,669.1 L1923.5,669.3 L1925.0,669.5 L1926.5,669.6 L1928.0,669.5 L1929.5,669.3 L1931.0,669.1 L1932.5,669.0 L1934.0,669.0 L1935.5,669.1 L1937.0,669.1 L1938.5,669.0 L1940.0,668.7 L1941.5,668.2 L1943.0,667.7 L1944.5,667.3 L1946.0,667.1 L1947.5,667.1 L1949.0,667.3 L1950.5,667.5 L1952.0,667.6 L1953.5,667.7 L1955.0,667.7 L1956.5,667.8 L1958.0,668.0 L1959.5,668.2 L1961.0,668.5 L1962.5,668.7 L1964.0,669.0 L1965.5,669.1 L1967.0,669.2 L1968.5,669.3 L1970.0,669.3 L1971.5,669.3 L1973.0,669.3 L1974.5,669.4 L1976.0,669.5 L1977.5,669.7 L1979.0,669.8 L1980.5,669.8 L1982.0,669.7 L1983.5,669.4 L1985.0,669.2 L1986.5,669.1 L1988.0,669.1 L1989.5,669.2 L1991.0,669.3 L1992.5,669.4 L1994.0,669.4 L1995.5,669.4 L1997.0,669.5 L1998.5,669.7 L2000.0,670.1 L2001.5,670.6 L2003.0,671.1 L2004.5,671.3 L2006.0,671.3 L2007.5,671.0 L2009.0,670.7 L2010.5,670.4 L2012.0,670.4 L2013.5,670.5 L2015.0,670.7 L2016.5,670.8 L2018.0,670.9 L2019.5,670.8 L2021.0,670.7 L2022.5,670.5 L2024.0,670.3 L2025.5,670.2 L2027.0,670.1 L2028.5,670.1 L2030.0,670.2 L2031.5,670.2 L2033.0,670.2 L2034.5,670.2 L2036.0,670.2 L2037.5,670.3 L2039.0,670.5 L2040.5,670.8 L2042.0,671.1 L2043.5,671.5 L2045.0,671.7 L2046.5,671.8 L2048.0,671.8 L2049.5,671.6 L2051.0,671.3 L2052.5,671.0 L2054.0,670.8 L2055.5,670.7 L2057.0,670.7 L2058.5,670.6 L2060.0,670.6 L2061.5,670.5 L2063.0,670.5 L2064.5,670.4 L2066.0,670.4 L2067.5,670.3 L2069.0,670.4 L2070.5,670.4 L2072.0,670.5 L2073.5,670.6 L2075.0,670.6 L2076.5,670.6 L2078.0,670.5 L2079.5,670.5 L2081.0,670.4 L2082.5,670.2 L2084.0,670.0 L2085.5,669.8 L2087.0,669.6 L2088.5,669.6 L2090.0,669.7 L2091.5,669.9 L2093.0,670.3 L2094.5,670.7 L2096.0,671.1 L2097.5,671.5 L2099.0,671.8 L2100.5,672.0 L2102.0,672.0 L2103.5,671.8 L2105.0,671.6 L2106.5,671.3 L2108.0,671.1 L2109.5,671.1 L2111.0,671.1 L2112.5,671.3 L2114.0,671.5 L2115.5,671.7 L2117.0,671.8 L2118.5,671.8 L2120.0,671.7 L2121.5,671.6 L2123.0,671.6 L2124.5,671.7 L2126.0,671.9 L2127.5,672.1 L2129.0,672.8 L2130.5,672.5 L2132.0,672.1 L2133.5,671.5 L2135.0,670.9 L2136.5,670.3 L2138.0,669.7 L2139.5,669.1 L2141.0,668.5 L2142.5,668.0 L2144.0,667.5 L2145.5,667.3 L2147.0,667.1 L2148.5,667.1 L2150.0,667.1 L2151.5,667.1 L2153.0,667.1 L2154.5,667.1 L2156.0,667.2 L2157.5,667.2 L2159.0,667.2 L2160.5,667.2 L2162.0,667.2 L2163.5,667.2 L2165.0,667.3 L2166.5,667.3 L2168.0,667.3 L2169.5,667.3 L2171.0,667.3 L2172.5,667.4 L2174.0,667.4 L2175.5,667.4 L2177.0,667.4 L2178.5,667.4 L2180.0,667.5 L2181.5,667.5 L2183.0,667.5 L2184.5,667.5 L2186.0,667.5 L2187.5,667.6 L2189.0,667.6 L2190.5,667.6 L2192.0,667.6 L2193.5,667.6 L2195.0,667.7 L2196.5,667.7 L2198.0,667.7 L2199.5,667.7 L2201.0,667.7 L2202.5,667.8 L2204.0,667.8 L2205.5,667.8 L2207.0,667.8 L2208.5,667.8 L2210.0,667.9 L2211.5,667.9 L2213.0,667.9 L2214.5,667.9 L2216.0,667.9 L2217.5,668.0 L2219.0,668.0 L2220.5,668.0 L2222.0,668.0 L2223.5,668.0 L2225.0,668.1 L2226.5,668.1 L2228.0,668.1 L2229.5,668.1 L2231.0,668.1 L2232.5,668.2 L2234.0,668.2 L2235.5,668.2 L2237.0,668.2 L2238.5,668.2 L2240.0,668.3 L2241.5,668.3 L2243.0,668.3 L2244.5,668.3 L2246.0,668.3 L2247.5,668.4 L2249.0,668.4 L2250.5,668.4 L2252.0,668.4 L2253.5,668.4 L2255.0,668.5 L2256.5,668.5 L2258.0,668.5 L2259.5,668.5 L2261.0,668.5 L2262.5,668.6 L2264.0,668.6 L2265.5,668.6 L2267.0,668.6 L2268.5,668.6 L2270.0,668.7 L2271.5,668.7 L2273.0,668.7 L2274.5,668.7 L2276.0,668.7 L2277.5,668.8 L2279.0,668.8 L2280.5,668.8 L2282.0,668.8 L2283.5,668.8 L2285.0,668.9 L2286.5,668.9 L2288.0,668.9 L2289.5,668.9 L2291.0,668.9 L2292.5,669.0 L2294.0,669.0 L2295.5,669.0 L2297.0,669.0 L2298.5,669.1 L2300.0,669.1 L2301.5,669.2 L2303.0,669.3 L2304.5,669.3 L2306.0,669.4 L2307.5,669.4 L2309.0,669.5 L2310.5,669.5 L2312.0,669.6 L2313.5,669.6 L2315.0,669.7 L2316.5,669.7 L2318.0,669.8 L2319.5,669.9 L2321.0,669.9 L2322.5,670.0 L2324.0,670.0 L2325.5,670.1 L2327.0,670.1 L2328.5,670.2 L2330.0,670.2 L2331.5,670.3 L2333.0,670.3 L2334.5,670.4 L2336.0,670.5 L2337.5,670.5 L2339.0,670.6 L2340.5,670.6 L2342.0,670.7 L2343.5,670.7 L2345.0,670.8 L2346.5,670.8 L2348.0,670.9 L2349.5,670.9 L2351.0,671.0 L2352.5,671.1 L2354.0,671.1 L2355.5,671.2 L2357.0,671.2 L2358.5,671.3 L2360.0,671.3 L2361.5,671.4 L2363.0,671.4 L2364.5,671.5 L2366.0,671.5 L2367.5,671.6 L2369.0,671.6 L2370.5,671.7 L2372.0,671.8 L2373.5,671.8 L2375.0,671.9 L2376.5,671.9 L2378.0,672.0 L2379.5,672.0 L2381.0,672.1 L2382.5,672.1 L2384.0,672.2 L2385.5,672.2 L2387.0,672.3 L2388.5,672.4 L2390.0,672.4 L2391.5,672.5 L2393.0,672.5 L2394.5,672.6 L2396.0,672.6 L2397.5,672.7 L2399.0,672.7 L2400.5,672.8 L2402.0,672.8 L2403.5,672.9 L2405.0,673.0 L2406.5,673.0 L2408.0,673.1 L2409.5,673.1 L2411.0,673.2 L2412.5,673.2 L2414.0,673.3 L2415.5,673.3 L2417.0,673.4 L2418.5,673.4 L2420.0,673.5 L2421.5,673.6 L2423.0,673.6 L2424.5,673.7 L2426.0,673.7 L2427.5,673.8 L2429.0,673.8 L2430.5,673.9 L2432.0,673.9 L2433.5,674.0 L2435.0,674.0 L2436.5,674.1 L2438.0,674.2 L2439.5,674.3 L2441.0,674.5 L2442.5,674.9 L2444.0,675.5 L2445.5,676.1 L2447.0,676.8 L2448.5,677.2" fill="none" stroke="#e07af5" stroke-width="2.8" stroke-linejoin="round" stroke-linecap="round" opacity="1"/><path d="M1121.0,675.0 L1122.5,674.8 L1124.0,674.5 L1125.5,674.3 L1127.0,674.2 L1128.5,674.1 L1130.0,674.1 L1131.5,674.1 L1133.0,674.1 L1134.5,674.2 L1136.0,674.3 L1137.5,674.3 L1139.0,674.4 L1140.5,674.4 L1142.0,674.3 L1143.5,674.2 L1145.0,674.0 L1146.5,673.9 L1148.0,673.9 L1149.5,673.9 L1151.0,673.9 L1152.5,674.0 L1154.0,674.0 L1155.5,674.0 L1157.0,674.0 L1158.5,674.0 L1160.0,674.0 L1161.5,674.0 L1163.0,674.0 L1164.5,674.0 L1166.0,674.0 L1167.5,673.9 L1169.0,673.7 L1170.5,673.6 L1172.0,673.5 L1173.5,673.4 L1175.0,673.4 L1176.5,673.4 L1178.0,673.5 L1179.5,673.5 L1181.0,673.5 L1182.5,673.5 L1184.0,673.4 L1185.5,673.4 L1187.0,673.3 L1188.5,673.3 L1190.0,673.3 L1191.5,673.4 L1193.0,673.5 L1194.5,673.7 L1196.0,673.8 L1197.5,674.0 L1199.0,674.0 L1200.5,674.0 L1202.0,673.9 L1203.5,673.7 L1205.0,673.5 L1206.5,673.4 L1208.0,673.4 L1209.5,673.4 L1211.0,673.5 L1212.5,673.6 L1214.0,673.7 L1215.5,673.7 L1217.0,673.7 L1218.5,673.6 L1220.0,673.6 L1221.5,673.6 L1223.0,673.6 L1224.5,673.6 L1226.0,673.7 L1227.5,673.7 L1229.0,673.7 L1230.5,673.7 L1232.0,673.7 L1233.5,673.6 L1235.0,673.6 L1236.5,673.4 L1238.0,673.4 L1239.5,673.3 L1241.0,673.2 L1242.5,673.2 L1244.0,673.2 L1245.5,673.2 L1247.0,673.1 L1248.5,673.0 L1250.0,672.9 L1251.5,672.7 L1253.0,672.6 L1254.5,672.6 L1256.0,672.6 L1257.5,672.7 L1259.0,672.8 L1260.5,672.8 L1262.0,672.9 L1263.5,673.0 L1265.0,673.0 L1266.5,673.1 L1268.0,673.1 L1269.5,673.0 L1271.0,672.8 L1272.5,672.4 L1274.0,672.0 L1275.5,671.6 L1277.0,671.2 L1278.5,670.7 L1280.0,670.3 L1281.5,669.8 L1283.0,669.4 L1284.5,669.1 L1286.0,668.9 L1287.5,668.9 L1289.0,669.2 L1290.5,669.5 L1292.0,669.9 L1293.5,670.4 L1295.0,670.8 L1296.5,671.2 L1298.0,671.5 L1299.5,671.7 L1301.0,671.9 L1302.5,671.9 L1304.0,672.0 L1305.5,672.0 L1307.0,672.1 L1308.5,672.2 L1310.0,672.2 L1311.5,672.3 L1313.0,672.3 L1314.5,672.3 L1316.0,672.3 L1317.5,672.3 L1319.0,672.3 L1320.5,672.2 L1322.0,672.1 L1323.5,672.0 L1325.0,671.9 L1326.5,671.8 L1328.0,671.7 L1329.5,671.6 L1331.0,671.6 L1332.5,671.7 L1334.0,671.7 L1335.5,671.7 L1337.0,671.7 L1338.5,671.6 L1340.0,671.4 L1341.5,671.3 L1343.0,671.1 L1344.5,670.9 L1346.0,670.7 L1347.5,670.5 L1349.0,670.3 L1350.5,670.2 L1352.0,670.0 L1353.5,669.9 L1355.0,669.7 L1356.5,669.6 L1358.0,669.4 L1359.5,669.3 L1361.0,669.1 L1362.5,669.0 L1364.0,668.9 L1365.5,668.7 L1367.0,668.6 L1368.5,668.5 L1370.0,668.3 L1371.5,668.1 L1373.0,668.0 L1374.5,667.8 L1376.0,667.7 L1377.5,667.6 L1379.0,667.5 L1380.5,667.4 L1382.0,667.4 L1383.5,667.4 L1385.0,667.5 L1386.5,667.7 L1388.0,667.8 L1389.5,667.9 L1391.0,667.9 L1392.5,667.8 L1394.0,667.7 L1395.5,667.5 L1397.0,667.4 L1398.5,667.3 L1400.0,667.4 L1401.5,667.4 L1403.0,667.4 L1404.5,667.4 L1406.0,667.5 L1407.5,667.5 L1409.0,667.6 L1410.5,667.7 L1412.0,667.8 L1413.5,667.9 L1415.0,668.0 L1416.5,668.0 L1418.0,668.2 L1419.5,668.5 L1421.0,668.9 L1422.5,669.4 L1424.0,670.0 L1425.5,670.6 L1427.0,671.2 L1428.5,671.7 L1430.0,672.0 L1431.5,672.2 L1433.0,672.2 L1434.5,672.0 L1436.0,671.8 L1437.5,671.6 L1439.0,671.3 L1440.5,671.1 L1442.0,670.8 L1443.5,670.5 L1445.0,670.1 L1446.5,669.8 L1448.0,669.5 L1449.5,669.3 L1451.0,669.2 L1452.5,669.2 L1454.0,669.3 L1455.5,669.3 L1457.0,669.4 L1458.5,669.4 L1460.0,669.5 L1461.5,669.6 L1463.0,669.7 L1464.5,669.9 L1466.0,670.0 L1467.5,670.2 L1469.0,670.3 L1470.5,670.4 L1472.0,670.5 L1473.5,670.5 L1475.0,670.5 L1476.5,670.5 L1478.0,670.5 L1479.5,670.7 L1481.0,670.8 L1482.5,671.1 L1484.0,671.3 L1485.5,671.4 L1487.0,671.6 L1488.5,671.7 L1490.0,671.7 L1491.5,671.7 L1493.0,671.7 L1494.5,671.6 L1496.0,671.4 L1497.5,671.3 L1499.0,671.3 L1500.5,671.3 L1502.0,671.3 L1503.5,671.4 L1505.0,671.5 L1506.5,671.6 L1508.0,671.7 L1509.5,671.8 L1511.0,671.8 L1512.5,671.8 L1514.0,671.7 L1515.5,671.7 L1517.0,671.6 L1518.5,671.5 L1520.0,671.4 L1521.5,671.4 L1523.0,671.3 L1524.5,671.3 L1526.0,671.4 L1527.5,671.4 L1529.0,671.4 L1530.5,671.4 L1532.0,671.4 L1533.5,671.3 L1535.0,671.2 L1536.5,671.1 L1538.0,671.0 L1539.5,671.0 L1541.0,671.1 L1542.5,671.2 L1544.0,671.3 L1545.5,671.4 L1547.0,671.5 L1548.5,671.5 L1550.0,671.5 L1551.5,671.4 L1553.0,671.4 L1554.5,671.2 L1556.0,671.1 L1557.5,670.9 L1559.0,670.6 L1560.5,670.5 L1562.0,670.4 L1563.5,670.4 L1565.0,670.5 L1566.5,670.6 L1568.0,670.7 L1569.5,670.7 L1571.0,670.6 L1572.5,670.6 L1574.0,670.5 L1575.5,670.5 L1577.0,670.5 L1578.5,670.5 L1580.0,670.6 L1581.5,670.6 L1583.0,670.7 L1584.5,670.8 L1586.0,670.7 L1587.5,670.6 L1589.0,670.4 L1590.5,670.2 L1592.0,670.1 L1593.5,669.9 L1595.0,669.9 L1596.5,670.0 L1598.0,670.1 L1599.5,670.4 L1601.0,670.6 L1602.5,670.6 L1604.0,670.6 L1605.5,670.5 L1607.0,670.3 L1608.5,670.3 L1610.0,670.3 L1611.5,670.5 L1613.0,670.6 L1614.5,670.7 L1616.0,670.8 L1617.5,670.8 L1619.0,670.7 L1620.5,670.5 L1622.0,670.4 L1623.5,670.2 L1625.0,670.1 L1626.5,670.1 L1628.0,670.1 L1629.5,670.2 L1631.0,670.3 L1632.5,670.5 L1634.0,670.6 L1635.5,670.7 L1637.0,670.6 L1638.5,670.4 L1640.0,670.2 L1641.5,670.1 L1643.0,670.1 L1644.5,670.2 L1646.0,670.4 L1647.5,670.6 L1649.0,670.7 L1650.5,670.7 L1652.0,670.5 L1653.5,670.4 L1655.0,670.2 L1656.5,670.2 L1658.0,670.3 L1659.5,670.5 L1661.0,670.7 L1662.5,670.8 L1664.0,670.9 L1665.5,670.9 L1667.0,670.9 L1668.5,671.0 L1670.0,671.1 L1671.5,671.2 L1673.0,671.4 L1674.5,671.4 L1676.0,671.5 L1677.5,671.4 L1679.0,671.3 L1680.5,671.2 L1682.0,671.0 L1683.5,670.9 L1685.0,670.7 L1686.5,670.5 L1688.0,670.3 L1689.5,670.0 L1691.0,669.8 L1692.5,669.7 L1694.0,669.6 L1695.5,669.7 L1697.0,669.7 L1698.5,669.9 L1700.0,670.0 L1701.5,670.1 L1703.0,670.2 L1704.5,670.1 L1706.0,670.1 L1707.5,670.1 L1709.0,670.3 L1710.5,670.7 L1712.0,671.2 L1713.5,671.6 L1715.0,671.9 L1716.5,672.0 L1718.0,671.9 L1719.5,671.8 L1721.0,671.7 L1722.5,671.8 L1724.0,671.9 L1725.5,672.0 L1727.0,672.1 L1728.5,672.1 L1730.0,672.0 L1731.5,671.7 L1733.0,671.5 L1734.5,671.3 L1736.0,671.4 L1737.5,671.6 L1739.0,671.9 L1740.5,672.1 L1742.0,672.2 L1743.5,672.2 L1745.0,672.1 L1746.5,671.9 L1748.0,671.7 L1749.5,671.5 L1751.0,671.2 L1752.5,670.8 L1754.0,670.5 L1755.5,670.4 L1757.0,670.4 L1758.5,670.7 L1760.0,671.1 L1761.5,671.6 L1763.0,672.0 L1764.5,672.2 L1766.0,672.2 L1767.5,672.0 L1769.0,671.7 L1770.5,671.5 L1772.0,671.3 L1773.5,671.4 L1775.0,671.6 L1776.5,672.0 L1778.0,672.5 L1779.5,672.9 L1781.0,673.1 L1782.5,673.1 L1784.0,672.9 L1785.5,672.7 L1787.0,672.4 L1788.5,672.2 L1790.0,672.1 L1791.5,672.1 L1793.0,672.2 L1794.5,672.2 L1796.0,672.1 L1797.5,672.0 L1799.0,671.9 L1800.5,671.7 L1802.0,671.4 L1803.5,671.0 L1805.0,670.7 L1806.5,670.3 L1808.0,670.1 L1809.5,670.0 L1811.0,670.0 L1812.5,670.1 L1814.0,670.1 L1815.5,670.1 L1817.0,670.2 L1818.5,670.2 L1820.0,670.2 L1821.5,670.1 L1823.0,669.8 L1824.5,669.5 L1826.0,669.1 L1827.5,668.9 L1829.0,668.9 L1830.5,669.0 L1832.0,669.1 L1833.5,669.2 L1835.0,669.1 L1836.5,669.0 L1838.0,668.9 L1839.5,668.9 L1841.0,668.9 L1842.5,669.0 L1844.0,669.1 L1845.5,669.0 L1847.0,668.9 L1848.5,668.8 L1850.0,668.7 L1851.5,668.7 L1853.0,668.7 L1854.5,668.7 L1856.0,668.7 L1857.5,668.7 L1859.0,668.6 L1860.5,668.5 L1862.0,668.4 L1863.5,668.3 L1865.0,668.1 L1866.5,667.9 L1868.0,667.8 L1869.5,667.7 L1871.0,667.6 L1872.5,667.6 L1874.0,667.6 L1875.5,667.6 L1877.0,667.5 L1878.5,667.4 L1880.0,667.2 L1881.5,666.9 L1883.0,666.7 L1884.5,666.4 L1886.0,666.3 L1887.5,666.2 L1889.0,666.3 L1890.5,666.5 L1892.0,666.5 L1893.5,666.3 L1895.0,666.0 L1896.5,665.6 L1898.0,665.3 L1899.5,665.2 L1901.0,665.2 L1902.5,665.2 L1904.0,665.2 L1905.5,665.2 L1907.0,665.3 L1908.5,665.4 L1910.0,665.7 L1911.5,665.9 L1913.0,666.0 L1914.5,666.1 L1916.0,666.0 L1917.5,665.8 L1919.0,665.7 L1920.5,665.6 L1922.0,665.6 L1923.5,665.8 L1925.0,666.0 L1926.5,666.1 L1928.0,666.0 L1929.5,665.8 L1931.0,665.6 L1932.5,665.5 L1934.0,665.5 L1935.5,665.6 L1937.0,665.6 L1938.5,665.5 L1940.0,665.2 L1941.5,664.7 L1943.0,664.2 L1944.5,663.8 L1946.0,663.6 L1947.5,663.6 L1949.0,663.8 L1950.5,664.0 L1952.0,664.1 L1953.5,664.2 L1955.0,664.2 L1956.5,664.3 L1958.0,664.5 L1959.5,664.7 L1961.0,665.0 L1962.5,665.2 L1964.0,665.5 L1965.5,665.6 L1967.0,665.7 L1968.5,665.8 L1970.0,665.8 L1971.5,665.8 L1973.0,665.8 L1974.5,665.9 L1976.0,666.0 L1977.5,666.2 L1979.0,666.3 L1980.5,666.3 L1982.0,666.2 L1983.5,665.9 L1985.0,665.7 L1986.5,665.6 L1988.0,665.6 L1989.5,665.7 L1991.0,665.8 L1992.5,665.9 L1994.0,665.9 L1995.5,665.9 L1997.0,666.0 L1998.5,666.2 L2000.0,666.6 L2001.5,667.1 L2003.0,667.6 L2004.5,667.8 L2006.0,667.8 L2007.5,667.5 L2009.0,667.2 L2010.5,666.9 L2012.0,666.9 L2013.5,667.0 L2015.0,667.2 L2016.5,667.3 L2018.0,667.4 L2019.5,667.3 L2021.0,667.2 L2022.5,667.0 L2024.0,666.8 L2025.5,666.7 L2027.0,666.6 L2028.5,666.6 L2030.0,666.7 L2031.5,666.7 L2033.0,666.7 L2034.5,666.7 L2036.0,666.7 L2037.5,666.8 L2039.0,667.0 L2040.5,667.3 L2042.0,667.6 L2043.5,668.0 L2045.0,668.2 L2046.5,668.3 L2048.0,668.3 L2049.5,668.1 L2051.0,667.8 L2052.5,667.5 L2054.0,667.3 L2055.5,667.2 L2057.0,667.2 L2058.5,667.1 L2060.0,667.1 L2061.5,667.0 L2063.0,667.0 L2064.5,666.9 L2066.0,666.9 L2067.5,666.8 L2069.0,666.9 L2070.5,666.9 L2072.0,667.0 L2073.5,667.1 L2075.0,667.1 L2076.5,667.1 L2078.0,667.0 L2079.5,667.0 L2081.0,666.9 L2082.5,666.7 L2084.0,666.5 L2085.5,666.3 L2087.0,666.1 L2088.5,666.1 L2090.0,666.2 L2091.5,666.4 L2093.0,666.8 L2094.5,667.2 L2096.0,667.6 L2097.5,668.0 L2099.0,668.3 L2100.5,668.5 L2102.0,668.5 L2103.5,668.3 L2105.0,668.1 L2106.5,667.8 L2108.0,667.6 L2109.5,667.6 L2111.0,667.6 L2112.5,667.8 L2114.0,668.0 L2115.5,668.2 L2117.0,668.3 L2118.5,668.3 L2120.0,668.2 L2121.5,668.1 L2123.0,668.1 L2124.5,668.2 L2126.0,668.4 L2127.5,668.6 L2129.0,668.6 L2130.5,668.4 L2132.0,667.9 L2133.5,667.2 L2135.0,666.5 L2136.5,665.6 L2138.0,664.7 L2139.5,663.9 L2141.0,663.2 L2142.5,662.7 L2144.0,662.4 L2145.5,662.4 L2147.0,662.5 L2148.5,662.7 L2150.0,662.8 L2151.5,662.7 L2153.0,662.6 L2154.5,662.5 L2156.0,662.4 L2157.5,662.3 L2159.0,662.2 L2160.5,662.1 L2162.0,662.1 L2163.5,662.2 L2165.0,662.2 L2166.5,662.2 L2168.0,662.2 L2169.5,662.1 L2171.0,662.1 L2172.5,662.1 L2174.0,662.2 L2175.5,662.5 L2177.0,662.8 L2178.5,663.1 L2180.0,663.3 L2181.5,663.3 L2183.0,663.4 L2184.5,663.3 L2186.0,663.3 L2187.5,663.2 L2189.0,663.1 L2190.5,662.9 L2192.0,662.8 L2193.5,662.7 L2195.0,662.6 L2196.5,662.6 L2198.0,662.5 L2199.5,662.5 L2201.0,662.5 L2202.5,662.6 L2204.0,662.5 L2205.5,662.4 L2207.0,662.2 L2208.5,662.0 L2210.0,661.7 L2211.5,661.5 L2213.0,661.3 L2214.5,661.2 L2216.0,661.1 L2217.5,661.0 L2219.0,661.0 L2220.5,661.2 L2222.0,661.4 L2223.5,661.7 L2225.0,661.9 L2226.5,662.0 L2228.0,662.0 L2229.5,662.0 L2231.0,661.8 L2232.5,661.7 L2234.0,661.4 L2235.5,661.2 L2237.0,661.0 L2238.5,660.9 L2240.0,661.0 L2241.5,661.1 L2243.0,661.3 L2244.5,661.6 L2246.0,661.7 L2247.5,661.8 L2249.0,661.7 L2250.5,661.4 L2252.0,661.2 L2253.5,661.0 L2255.0,660.8 L2256.5,660.7 L2258.0,660.6 L2259.5,660.4 L2261.0,660.3 L2262.5,660.4 L2264.0,660.5 L2265.5,660.7 L2267.0,660.8 L2268.5,660.8 L2270.0,660.7 L2271.5,660.5 L2273.0,660.4 L2274.5,660.4 L2276.0,660.5 L2277.5,660.7 L2279.0,661.0 L2280.5,661.1 L2282.0,661.1 L2283.5,660.9 L2285.0,660.7 L2286.5,660.6 L2288.0,660.6 L2289.5,660.6 L2291.0,660.8 L2292.5,660.9 L2294.0,660.9 L2295.5,660.8 L2297.0,660.7 L2298.5,660.7 L2300.0,660.7 L2301.5,660.9 L2303.0,661.0 L2304.5,661.1 L2306.0,661.2 L2307.5,661.2 L2309.0,661.2 L2310.5,661.2 L2312.0,661.1 L2313.5,661.0 L2315.0,661.0 L2316.5,660.9 L2318.0,660.9 L2319.5,661.0 L2321.0,661.1 L2322.5,661.3 L2324.0,661.6 L2325.5,662.0 L2327.0,662.2 L2328.5,662.4 L2330.0,662.5 L2331.5,662.4 L2333.0,662.4 L2334.5,662.5 L2336.0,662.8 L2337.5,663.0 L2339.0,663.3 L2340.5,663.4 L2342.0,663.4 L2343.5,663.3 L2345.0,663.1 L2346.5,663.0 L2348.0,662.8 L2349.5,662.6 L2351.0,662.4 L2352.5,662.1 L2354.0,661.8 L2355.5,661.7 L2357.0,661.8 L2358.5,662.0 L2360.0,662.3 L2361.5,662.5 L2363.0,662.7 L2364.5,662.9 L2366.0,663.0 L2367.5,663.0 L2369.0,662.9 L2370.5,662.8 L2372.0,662.6 L2373.5,662.5 L2375.0,662.4 L2376.5,662.5 L2378.0,662.6 L2379.5,662.8 L2381.0,662.8 L2382.5,662.7 L2384.0,662.4 L2385.5,662.0 L2387.0,661.6 L2388.5,661.3 L2390.0,661.1 L2391.5,660.9 L2393.0,660.9 L2394.5,660.8 L2396.0,660.7 L2397.5,660.7 L2399.0,660.8 L2400.5,660.9 L2402.0,661.0 L2403.5,661.0 L2405.0,661.1 L2406.5,661.4 L2408.0,661.8 L2409.5,662.3 L2411.0,662.7 L2412.5,663.0 L2414.0,663.0 L2415.5,662.9 L2417.0,662.7 L2418.5,662.6 L2420.0,662.7 L2421.5,662.9 L2423.0,663.2 L2424.5,663.5 L2426.0,663.7 L2427.5,663.7 L2429.0,663.7 L2430.5,663.7 L2432.0,664.0 L2433.5,664.4 L2435.0,665.0 L2436.5,665.5 L2438.0,665.9 L2439.5,666.2 L2441.0,666.7 L2442.5,667.6 L2444.0,669.1 L2445.5,670.9 L2447.0,672.7 L2448.5,674.2" fill="none" stroke="#80f5a8" stroke-width="3.2" stroke-linejoin="round" stroke-linecap="round" opacity="1"/><path d="M1121.0,660.8 L1122.5,660.1 L1124.0,659.2 L1125.5,658.3 L1127.0,657.6 L1128.5,657.0 L1130.0,656.5 L1131.5,656.0 L1133.0,655.7 L1134.5,655.6 L1136.0,655.9 L1137.5,656.4 L1139.0,657.0 L1140.5,657.6 L1142.0,658.3 L1143.5,659.0 L1145.0,659.7 L1146.5,660.4 L1148.0,661.2 L1149.5,662.1 L1151.0,663.3 L1152.5,664.4 L1154.0,664.8 L1155.5,664.1 L1157.0,662.4 L1158.5,660.3 L1160.0,658.6 L1161.5,657.7 L1163.0,657.6 L1164.5,657.9 L1166.0,658.4 L1167.5,659.0 L1169.0,659.6 L1170.5,660.4 L1172.0,661.5 L1173.5,662.8 L1175.0,663.0 L1176.5,661.5 L1178.0,660.3 L1179.5,659.9 L1181.0,659.8 L1182.5,659.8 L1184.0,659.7 L1185.5,659.7 L1187.0,659.7 L1188.5,659.6 L1190.0,659.6 L1191.5,659.7 L1193.0,659.9 L1194.5,660.3 L1196.0,661.0 L1197.5,661.8 L1199.0,663.5 L1200.5,664.9 L1202.0,664.9 L1203.5,663.9 L1205.0,662.5 L1206.5,661.4 L1208.0,661.1 L1209.5,661.5 L1211.0,661.9 L1212.5,662.1 L1214.0,661.9 L1215.5,661.6 L1217.0,661.2 L1218.5,660.7 L1220.0,660.1 L1221.5,659.7 L1223.0,659.5 L1224.5,659.4 L1226.0,659.4 L1227.5,659.4 L1229.0,659.5 L1230.5,659.4 L1232.0,659.5 L1233.5,659.6 L1235.0,659.7 L1236.5,659.9 L1238.0,660.1 L1239.5,660.3 L1241.0,660.5 L1242.5,660.7 L1244.0,660.9 L1245.5,661.2 L1247.0,661.5 L1248.5,661.9 L1250.0,662.4 L1251.5,663.1 L1253.0,663.8 L1254.5,664.5 L1256.0,665.1 L1257.5,665.5 L1259.0,665.7 L1260.5,665.5 L1262.0,664.9 L1263.5,664.1 L1265.0,663.2 L1266.5,662.3 L1268.0,661.6 L1269.5,660.9 L1271.0,660.3 L1272.5,659.7 L1274.0,659.2 L1275.5,658.8 L1277.0,658.6 L1278.5,658.6 L1280.0,658.7 L1281.5,658.9 L1283.0,659.1 L1284.5,659.2 L1286.0,659.1 L1287.5,658.7 L1289.0,658.1 L1290.5,657.4 L1292.0,656.8 L1293.5,656.6 L1295.0,656.9 L1296.5,657.2 L1298.0,657.6 L1299.5,658.2 L1301.0,658.9 L1302.5,659.5 L1304.0,660.2 L1305.5,660.8 L1307.0,661.3 L1308.5,661.8 L1310.0,662.2 L1311.5,662.5 L1313.0,662.8 L1314.5,663.0 L1316.0,663.2 L1317.5,663.5 L1319.0,663.8 L1320.5,664.8 L1322.0,666.1 L1323.5,666.4 L1325.0,665.7 L1326.5,664.6 L1328.0,663.5 L1329.5,662.4 L1331.0,661.3 L1332.5,660.3 L1334.0,659.3 L1335.5,658.3 L1337.0,657.5 L1338.5,657.1 L1340.0,657.3 L1341.5,657.7 L1343.0,658.3 L1344.5,658.9 L1346.0,659.4 L1347.5,659.9 L1349.0,660.4 L1350.5,660.9 L1352.0,661.6 L1353.5,662.2 L1355.0,662.8 L1356.5,663.4 L1358.0,663.9 L1359.5,664.4 L1361.0,664.8 L1362.5,665.0 L1364.0,664.9 L1365.5,664.6 L1367.0,664.2 L1368.5,663.7 L1370.0,663.0 L1371.5,662.2 L1373.0,661.4 L1374.5,660.4 L1376.0,659.6 L1377.5,658.9 L1379.0,658.5 L1380.5,658.5 L1382.0,658.8 L1383.5,659.1 L1385.0,659.5 L1386.5,659.8 L1388.0,660.1 L1389.5,660.5 L1391.0,660.9 L1392.5,661.3 L1394.0,661.6 L1395.5,661.9 L1397.0,662.2 L1398.5,662.5 L1400.0,662.8 L1401.5,663.2 L1403.0,663.4 L1404.5,663.2 L1406.0,662.4 L1407.5,661.2 L1409.0,659.9 L1410.5,658.6 L1412.0,657.5 L1413.5,656.4 L1415.0,655.4 L1416.5,654.7 L1418.0,654.5 L1419.5,655.1 L1421.0,656.3 L1422.5,657.7 L1424.0,659.2 L1425.5,660.6 L1427.0,661.9 L1428.5,663.2 L1430.0,664.1 L1431.5,664.3 L1433.0,663.3 L1434.5,661.7 L1436.0,659.9 L1437.5,658.5 L1439.0,657.8 L1440.5,657.7 L1442.0,658.1 L1443.5,658.5 L1445.0,659.0 L1446.5,659.6 L1448.0,660.1 L1449.5,660.5 L1451.0,660.8 L1452.5,661.1 L1454.0,661.3 L1455.5,661.6 L1457.0,661.9 L1458.5,662.1 L1460.0,662.2 L1461.5,662.3 L1463.0,662.5 L1464.5,662.6 L1466.0,662.7 L1467.5,662.8 L1469.0,662.8 L1470.5,662.9 L1472.0,663.0 L1473.5,663.1 L1475.0,663.3 L1476.5,663.6 L1478.0,663.9 L1479.5,664.1 L1481.0,664.3 L1482.5,664.3 L1484.0,664.2 L1485.5,664.1 L1487.0,664.0 L1488.5,663.9 L1490.0,663.9 L1491.5,664.0 L1493.0,664.0 L1494.5,664.0 L1496.0,664.0 L1497.5,664.0 L1499.0,664.0 L1500.5,664.0 L1502.0,663.8 L1503.5,663.7 L1505.0,663.5 L1506.5,663.4 L1508.0,663.5 L1509.5,663.5 L1511.0,663.5 L1512.5,663.4 L1514.0,663.2 L1515.5,663.0 L1517.0,662.8 L1518.5,662.6 L1520.0,662.5 L1521.5,662.6 L1523.0,662.6 L1524.5,662.6 L1526.0,662.6 L1527.5,662.5 L1529.0,662.5 L1530.5,662.4 L1532.0,662.4 L1533.5,662.4 L1535.0,662.4 L1536.5,662.4 L1538.0,662.4 L1539.5,662.5 L1541.0,662.7 L1542.5,662.9 L1544.0,663.2 L1545.5,663.4 L1547.0,663.7 L1548.5,663.9 L1550.0,664.0 L1551.5,664.8 L1553.0,665.8 L1554.5,666.4 L1556.0,666.8 L1557.5,666.9 L1559.0,666.7 L1560.5,666.4 L1562.0,666.0 L1563.5,665.6 L1565.0,665.2 L1566.5,665.0 L1568.0,665.0 L1569.5,665.1 L1571.0,665.4 L1572.5,665.7 L1574.0,666.0 L1575.5,666.3 L1577.0,666.7 L1578.5,667.1 L1580.0,667.2 L1581.5,666.9 L1583.0,666.1 L1584.5,665.4 L1586.0,665.3 L1587.5,665.2 L1589.0,665.0 L1590.5,664.9 L1592.0,664.9 L1593.5,665.1 L1595.0,665.4 L1596.5,665.8 L1598.0,666.3 L1599.5,666.7 L1601.0,667.0 L1602.5,667.2 L1604.0,667.4 L1605.5,667.7 L1607.0,668.0 L1608.5,668.3 L1610.0,668.2 L1611.5,667.9 L1613.0,667.4 L1614.5,666.8 L1616.0,666.2 L1617.5,665.7 L1619.0,665.4 L1620.5,665.2 L1622.0,665.1 L1623.5,665.1 L1625.0,664.9 L1626.5,664.6 L1628.0,664.2 L1629.5,663.8 L1631.0,663.3 L1632.5,662.8 L1634.0,662.4 L1635.5,662.1 L1637.0,661.8 L1638.5,661.7 L1640.0,661.6 L1641.5,661.6 L1643.0,661.7 L1644.5,661.8 L1646.0,662.0 L1647.5,662.1 L1649.0,662.1 L1650.5,662.0 L1652.0,661.9 L1653.5,661.9 L1655.0,661.8 L1656.5,661.9 L1658.0,662.0 L1659.5,662.1 L1661.0,662.2 L1662.5,662.4 L1664.0,662.6 L1665.5,662.8 L1667.0,663.0 L1668.5,663.2 L1670.0,663.3 L1671.5,663.5 L1673.0,663.7 L1674.5,663.9 L1676.0,664.2 L1677.5,664.5 L1679.0,664.9 L1680.5,665.4 L1682.0,665.9 L1683.5,666.4 L1685.0,666.8 L1686.5,667.2 L1688.0,667.5 L1689.5,667.7 L1691.0,667.8 L1692.5,667.7 L1694.0,667.6 L1695.5,667.7 L1697.0,667.7 L1698.5,667.9 L1700.0,668.0 L1701.5,668.1 L1703.0,668.2 L1704.5,668.1 L1706.0,668.1 L1707.5,668.1 L1709.0,668.3 L1710.5,668.2 L1712.0,667.9 L1713.5,667.6 L1715.0,667.3 L1716.5,666.9 L1718.0,666.6 L1719.5,666.2 L1721.0,665.7 L1722.5,665.2 L1724.0,664.7 L1725.5,664.2 L1727.0,663.8 L1728.5,663.6 L1730.0,663.6 L1731.5,663.7 L1733.0,663.8 L1734.5,664.0 L1736.0,664.2 L1737.5,664.4 L1739.0,664.5 L1740.5,664.7 L1742.0,664.7 L1743.5,664.9 L1745.0,665.0 L1746.5,665.3 L1748.0,665.6 L1749.5,665.9 L1751.0,666.2 L1752.5,666.6 L1754.0,666.9 L1755.5,667.3 L1757.0,667.7 L1758.5,667.9 L1760.0,668.0 L1761.5,667.7 L1763.0,666.9 L1764.5,665.9 L1766.0,664.7 L1767.5,663.6 L1769.0,662.6 L1770.5,661.7 L1772.0,660.9 L1773.5,660.2 L1775.0,659.4 L1776.5,658.5 L1778.0,657.6 L1779.5,656.6 L1781.0,655.6 L1782.5,654.8 L1784.0,654.1 L1785.5,653.5 L1787.0,652.9 L1788.5,652.5 L1790.0,652.4 L1791.5,652.8 L1793.0,653.5 L1794.5,654.4 L1796.0,655.3 L1797.5,656.1 L1799.0,656.8 L1800.5,657.5 L1802.0,658.1 L1803.5,658.8 L1805.0,659.4 L1806.5,660.0 L1808.0,660.4 L1809.5,660.7 L1811.0,660.9 L1812.5,660.9 L1814.0,660.8 L1815.5,660.6 L1817.0,660.4 L1818.5,660.3 L1820.0,660.2 L1821.5,660.0 L1823.0,659.8 L1824.5,659.5 L1826.0,659.2 L1827.5,658.8 L1829.0,658.4 L1830.5,658.1 L1832.0,658.1 L1833.5,658.2 L1835.0,658.5 L1836.5,658.9 L1838.0,659.3 L1839.5,659.8 L1841.0,660.3 L1842.5,660.8 L1844.0,661.4 L1845.5,662.0 L1847.0,662.5 L1848.5,663.1 L1850.0,663.6 L1851.5,664.0 L1853.0,664.2 L1854.5,664.2 L1856.0,663.9 L1857.5,663.5 L1859.0,662.9 L1860.5,662.3 L1862.0,661.7 L1863.5,661.0 L1865.0,660.4 L1866.5,659.7 L1868.0,659.1 L1869.5,658.6 L1871.0,658.1 L1872.5,657.5 L1874.0,657.0 L1875.5,656.6 L1877.0,656.2 L1878.5,655.8 L1880.0,655.5 L1881.5,655.1 L1883.0,654.7 L1884.5,654.3 L1886.0,653.9 L1887.5,653.6 L1889.0,653.5 L1890.5,653.4 L1892.0,653.5 L1893.5,653.6 L1895.0,653.7 L1896.5,653.7 L1898.0,653.7 L1899.5,653.6 L1901.0,653.6 L1902.5,653.6 L1904.0,653.7 L1905.5,653.6 L1907.0,653.3 L1908.5,652.6 L1910.0,651.6 L1911.5,650.4 L1913.0,649.3 L1914.5,648.2 L1916.0,647.1 L1917.5,646.1 L1919.0,645.2 L1920.5,644.8 L1922.0,645.3 L1923.5,646.9 L1925.0,649.1 L1926.5,651.0 L1928.0,650.4 L1929.5,643.7 L1931.0,629.6 L1932.5,615.3 L1934.0,613.4 L1935.5,625.7 L1937.0,640.6 L1938.5,649.0 L1940.0,651.6 L1941.5,651.7 L1943.0,651.2 L1944.5,650.7 L1946.0,650.3 L1947.5,649.8 L1949.0,649.4 L1950.5,649.0 L1952.0,648.7 L1953.5,648.5 L1955.0,648.2 L1956.5,648.0 L1958.0,647.8 L1959.5,647.6 L1961.0,647.5 L1962.5,647.5 L1964.0,647.6 L1965.5,647.6 L1967.0,647.7 L1968.5,647.7 L1970.0,647.7 L1971.5,647.6 L1973.0,647.6 L1974.5,647.6 L1976.0,647.5 L1977.5,647.5 L1979.0,647.5 L1980.5,647.6 L1982.0,647.8 L1983.5,648.1 L1985.0,648.6 L1986.5,649.1 L1988.0,649.6 L1989.5,650.2 L1991.0,650.8 L1992.5,651.3 L1994.0,651.8 L1995.5,652.2 L1997.0,652.6 L1998.5,652.9 L2000.0,653.2 L2001.5,653.5 L2003.0,653.8 L2004.5,654.1 L2006.0,654.4 L2007.5,654.8 L2009.0,655.1 L2010.5,655.2 L2012.0,655.2 L2013.5,654.9 L2015.0,654.5 L2016.5,654.0 L2018.0,653.5 L2019.5,653.1 L2021.0,652.6 L2022.5,652.2 L2024.0,651.9 L2025.5,651.6 L2027.0,651.4 L2028.5,651.2 L2030.0,651.2 L2031.5,651.1 L2033.0,651.0 L2034.5,650.9 L2036.0,650.7 L2037.5,650.6 L2039.0,650.4 L2040.5,650.3 L2042.0,650.2 L2043.5,650.2 L2045.0,650.2 L2046.5,650.3 L2048.0,650.3 L2049.5,650.4 L2051.0,650.6 L2052.5,650.8 L2054.0,651.2 L2055.5,651.8 L2057.0,652.5 L2058.5,653.2 L2060.0,654.0 L2061.5,654.7 L2063.0,655.4 L2064.5,656.1 L2066.0,656.7 L2067.5,657.4 L2069.0,657.9 L2070.5,658.2 L2072.0,657.9 L2073.5,657.1 L2075.0,656.0 L2076.5,654.8 L2078.0,653.6 L2079.5,652.4 L2081.0,651.3 L2082.5,650.3 L2084.0,649.5 L2085.5,649.1 L2087.0,649.1 L2088.5,649.2 L2090.0,649.8 L2091.5,649.9 L2093.0,649.6 L2094.5,649.4 L2096.0,649.3 L2097.5,649.4 L2099.0,649.5 L2100.5,649.6 L2102.0,649.8 L2103.5,650.0 L2105.0,650.1 L2106.5,650.3 L2108.0,650.4 L2109.5,650.6 L2111.0,650.7 L2112.5,650.8 L2114.0,650.9 L2115.5,650.8 L2117.0,650.6 L2118.5,650.4 L2120.0,650.2 L2121.5,650.0 L2123.0,650.0 L2124.5,650.4 L2126.0,651.1 L2127.5,652.0 L2129.0,653.1 L2130.5,654.2 L2132.0,655.3 L2133.5,656.5 L2135.0,657.5 L2136.5,658.1 L2138.0,657.9 L2139.5,656.6 L2141.0,654.5 L2142.5,652.1 L2144.0,649.9 L2145.5,648.2 L2147.0,647.5 L2148.5,647.7 L2150.0,648.5 L2151.5,649.3 L2153.0,650.3 L2154.5,651.3 L2156.0,652.4 L2157.5,653.4 L2159.0,654.1 L2160.5,654.3 L2162.0,654.2 L2163.5,653.8 L2165.0,653.4 L2166.5,652.8 L2168.0,652.2 L2169.5,651.6 L2171.0,651.3 L2172.5,651.8 L2174.0,653.3 L2175.5,655.2 L2177.0,656.5 L2178.5,656.6 L2180.0,655.3 L2181.5,653.3 L2183.0,651.5 L2184.5,650.6 L2186.0,651.0 L2187.5,652.4 L2189.0,654.1 L2190.5,655.7 L2192.0,656.7 L2193.5,656.7 L2195.0,656.0 L2196.5,654.8 L2198.0,653.5 L2199.5,652.1 L2201.0,650.8 L2202.5,649.6 L2204.0,648.8 L2205.5,648.3 L2207.0,648.2 L2208.5,648.2 L2210.0,648.1 L2211.5,648.1 L2213.0,648.1 L2214.5,648.1 L2216.0,648.1 L2217.5,648.2 L2219.0,648.2 L2220.5,648.2 L2222.0,648.1 L2223.5,647.9 L2225.0,647.6 L2226.5,647.4 L2228.0,647.2 L2229.5,647.4 L2231.0,648.1 L2232.5,649.3 L2234.0,650.8 L2235.5,652.1 L2237.0,652.6 L2238.5,651.8 L2240.0,649.9 L2241.5,647.4 L2243.0,645.1 L2244.5,643.8 L2246.0,643.6 L2247.5,644.2 L2249.0,645.1 L2250.5,646.0 L2252.0,646.9 L2253.5,647.7 L2255.0,648.5 L2256.5,649.1 L2258.0,649.4 L2259.5,649.2 L2261.0,648.5 L2262.5,647.4 L2264.0,646.2 L2265.5,644.8 L2267.0,643.5 L2268.5,642.3 L2270.0,641.7 L2271.5,641.7 L2273.0,642.6 L2274.5,643.8 L2276.0,645.3 L2277.5,646.7 L2279.0,648.1 L2280.5,649.3 L2282.0,650.2 L2283.5,650.8 L2285.0,651.0 L2286.5,650.8 L2288.0,650.6 L2289.5,650.3 L2291.0,650.1 L2292.5,649.9 L2294.0,649.8 L2295.5,649.6 L2297.0,649.7 L2298.5,649.9 L2300.0,650.4 L2301.5,651.1 L2303.0,651.9 L2304.5,652.8 L2306.0,653.6 L2307.5,654.4 L2309.0,654.9 L2310.5,654.9 L2312.0,654.2 L2313.5,653.0 L2315.0,651.6 L2316.5,650.0 L2318.0,648.4 L2319.5,646.8 L2321.0,645.4 L2322.5,644.3 L2324.0,643.8 L2325.5,644.0 L2327.0,644.7 L2328.5,645.6 L2330.0,646.6 L2331.5,647.7 L2333.0,648.9 L2334.5,649.9 L2336.0,650.6 L2337.5,650.7 L2339.0,650.0 L2340.5,648.8 L2342.0,647.4 L2343.5,646.0 L2345.0,644.6 L2346.5,643.4 L2348.0,642.3 L2349.5,641.6 L2351.0,641.4 L2352.5,641.7 L2354.0,642.4 L2355.5,643.1 L2357.0,643.7 L2358.5,644.2 L2360.0,644.8 L2361.5,645.3 L2363.0,645.8 L2364.5,646.3 L2366.0,646.5 L2367.5,646.5 L2369.0,646.2 L2370.5,645.9 L2372.0,645.6 L2373.5,645.2 L2375.0,644.8 L2376.5,644.3 L2378.0,643.9 L2379.5,643.6 L2381.0,643.2 L2382.5,642.9 L2384.0,642.6 L2385.5,642.3 L2387.0,641.9 L2388.5,641.4 L2390.0,640.9 L2391.5,640.4 L2393.0,639.9 L2394.5,639.7 L2396.0,639.9 L2397.5,640.7 L2399.0,642.2 L2400.5,644.1 L2402.0,646.1 L2403.5,647.9 L2405.0,649.4 L2406.5,650.2 L2408.0,650.3 L2409.5,649.9 L2411.0,649.3 L2412.5,648.8 L2414.0,648.2 L2415.5,647.8 L2417.0,647.3 L2418.5,646.9 L2420.0,646.5 L2421.5,646.1 L2423.0,645.6 L2424.5,645.2 L2426.0,644.7 L2427.5,644.1 L2429.0,643.7 L2430.5,643.6 L2432.0,643.8 L2433.5,644.4 L2435.0,645.1 L2436.5,645.8 L2438.0,646.5 L2439.5,647.4 L2441.0,648.9 L2442.5,651.7 L2444.0,656.1 L2445.5,661.6 L2447.0,667.3 L2448.5,671.6" fill="none" stroke="#f5b800" stroke-width="3.2" stroke-linejoin="round" stroke-linecap="round" opacity="1"/><path d="M1121.0,657.6 L1122.5,656.7 L1124.0,655.6 L1125.5,654.7 L1127.0,654.0 L1128.5,653.5 L1130.0,653.0 L1131.5,652.5 L1133.0,652.0 L1134.5,651.9 L1136.0,652.3 L1137.5,652.9 L1139.0,653.5 L1140.5,654.1 L1142.0,654.8 L1143.5,655.4 L1145.0,656.2 L1146.5,656.9 L1148.0,657.6 L1149.5,658.4 L1151.0,659.7 L1152.5,661.3 L1154.0,662.1 L1155.5,661.2 L1157.0,659.0 L1158.5,656.6 L1160.0,654.6 L1161.5,653.8 L1163.0,653.8 L1164.5,654.3 L1166.0,654.8 L1167.5,655.4 L1169.0,656.1 L1170.5,656.8 L1172.0,657.7 L1173.5,659.1 L1175.0,662.4 L1176.5,669.3 L1178.0,677.9 L1179.5,683.0 L1181.0,684.6 L1182.5,684.7 L1184.0,684.5 L1185.5,684.2 L1187.0,683.9 L1188.5,683.6 L1190.0,683.2 L1191.5,682.8 L1193.0,682.5 L1194.5,682.3 L1196.0,682.3 L1197.5,682.2 L1199.0,682.1 L1200.5,681.9 L1202.0,681.6 L1203.5,681.2 L1205.0,680.7 L1206.5,679.9 L1208.0,677.2 L1209.5,671.4 L1211.0,665.6 L1212.5,663.0 L1214.0,662.2 L1215.5,661.6 L1217.0,661.1 L1218.5,660.4 L1220.0,659.7 L1221.5,659.1 L1223.0,658.5 L1224.5,658.3 L1226.0,658.3 L1227.5,658.5 L1229.0,658.7 L1230.5,658.8 L1232.0,659.0 L1233.5,659.9 L1235.0,663.3 L1236.5,669.8 L1238.0,676.6 L1239.5,679.5 L1241.0,680.0 L1242.5,680.2 L1244.0,680.4 L1245.5,680.5 L1247.0,680.4 L1248.5,680.4 L1250.0,680.3 L1251.5,680.3 L1253.0,680.3 L1254.5,680.3 L1256.0,680.3 L1257.5,680.4 L1259.0,680.5 L1260.5,680.5 L1262.0,680.6 L1263.5,680.6 L1265.0,680.7 L1266.5,680.7 L1268.0,680.8 L1269.5,680.7 L1271.0,680.6 L1272.5,680.5 L1274.0,680.4 L1275.5,680.4 L1277.0,680.6 L1278.5,680.9 L1280.0,681.2 L1281.5,681.3 L1283.0,681.3 L1284.5,681.1 L1286.0,680.8 L1287.5,680.4 L1289.0,680.3 L1290.5,680.3 L1292.0,680.4 L1293.5,680.6 L1295.0,680.7 L1296.5,680.7 L1298.0,680.6 L1299.5,680.5 L1301.0,680.5 L1302.5,680.5 L1304.0,680.4 L1305.5,679.3 L1307.0,675.1 L1308.5,665.6 L1310.0,647.3 L1311.5,623.1 L1313.0,610.3 L1314.5,621.6 L1316.0,644.0 L1317.5,659.0 L1319.0,664.0 L1320.5,664.6 L1322.0,664.1 L1323.5,663.3 L1325.0,662.3 L1326.5,661.1 L1328.0,660.0 L1329.5,658.8 L1331.0,657.8 L1332.5,656.8 L1334.0,655.8 L1335.5,654.8 L1337.0,653.8 L1338.5,653.3 L1340.0,653.6 L1341.5,654.2 L1343.0,654.8 L1344.5,655.4 L1346.0,655.9 L1347.5,656.4 L1349.0,656.9 L1350.5,657.4 L1352.0,658.1 L1353.5,658.7 L1355.0,659.3 L1356.5,659.9 L1358.0,660.4 L1359.5,660.9 L1361.0,661.4 L1362.5,661.7 L1364.0,661.5 L1365.5,661.1 L1367.0,660.7 L1368.5,660.2 L1370.0,659.6 L1371.5,658.8 L1373.0,657.9 L1374.5,656.9 L1376.0,656.0 L1377.5,655.2 L1379.0,654.8 L1380.5,654.9 L1382.0,655.3 L1383.5,655.6 L1385.0,656.0 L1386.5,656.3 L1388.0,656.6 L1389.5,657.0 L1391.0,657.4 L1392.5,657.8 L1394.0,658.2 L1395.5,658.4 L1397.0,658.7 L1398.5,658.9 L1400.0,659.3 L1401.5,659.7 L1403.0,660.1 L1404.5,660.0 L1406.0,659.1 L1407.5,657.8 L1409.0,656.4 L1410.5,655.1 L1412.0,653.9 L1413.5,652.9 L1415.0,651.8 L1416.5,650.9 L1418.0,650.5 L1419.5,651.3 L1421.0,652.8 L1422.5,654.3 L1424.0,655.7 L1425.5,657.1 L1427.0,658.4 L1428.5,659.8 L1430.0,661.1 L1431.5,661.4 L1433.0,660.2 L1434.5,658.2 L1436.0,656.2 L1437.5,654.6 L1439.0,653.9 L1440.5,654.1 L1442.0,654.5 L1443.5,655.0 L1445.0,655.5 L1446.5,656.1 L1448.0,656.6 L1449.5,657.0 L1451.0,657.3 L1452.5,657.6 L1454.0,657.8 L1455.5,658.1 L1457.0,658.4 L1458.5,658.6 L1460.0,658.7 L1461.5,658.8 L1463.0,659.0 L1464.5,659.1 L1466.0,659.2 L1467.5,659.3 L1469.0,659.3 L1470.5,659.4 L1472.0,659.4 L1473.5,659.5 L1475.0,659.7 L1476.5,660.0 L1478.0,660.4 L1479.5,660.7 L1481.0,660.8 L1482.5,660.9 L1484.0,660.7 L1485.5,660.6 L1487.0,660.4 L1488.5,660.4 L1490.0,660.5 L1491.5,660.5 L1493.0,660.4 L1494.5,660.5 L1496.0,660.5 L1497.5,660.5 L1499.0,660.5 L1500.5,660.5 L1502.0,660.4 L1503.5,660.2 L1505.0,660.0 L1506.5,659.9 L1508.0,659.9 L1509.5,660.0 L1511.0,660.1 L1512.5,660.0 L1514.0,659.8 L1515.5,659.5 L1517.0,659.2 L1518.5,659.1 L1520.0,659.0 L1521.5,659.0 L1523.0,659.1 L1524.5,659.2 L1526.0,659.1 L1527.5,659.0 L1529.0,658.9 L1530.5,658.9 L1532.0,658.9 L1533.5,658.9 L1535.0,658.9 L1536.5,658.9 L1538.0,658.9 L1539.5,659.0 L1541.0,659.2 L1542.5,659.4 L1544.0,659.7 L1545.5,660.0 L1547.0,660.2 L1548.5,660.4 L1550.0,660.5 L1551.5,660.7 L1553.0,660.8 L1554.5,661.0 L1556.0,661.0 L1557.5,661.0 L1559.0,660.8 L1560.5,660.7 L1562.0,660.5 L1563.5,660.4 L1565.0,660.3 L1566.5,660.4 L1568.0,660.5 L1569.5,660.7 L1571.0,660.9 L1572.5,661.0 L1574.0,661.1 L1575.5,661.2 L1577.0,661.2 L1578.5,661.4 L1580.0,661.6 L1581.5,661.8 L1583.0,661.9 L1584.5,662.0 L1586.0,661.9 L1587.5,661.7 L1589.0,661.5 L1590.5,661.4 L1592.0,661.4 L1593.5,661.5 L1595.0,661.8 L1596.5,662.3 L1598.0,662.8 L1599.5,663.2 L1601.0,663.5 L1602.5,663.7 L1604.0,663.9 L1605.5,664.2 L1607.0,664.6 L1608.5,664.9 L1610.0,664.9 L1611.5,664.6 L1613.0,663.9 L1614.5,663.2 L1616.0,662.6 L1617.5,662.1 L1619.0,661.8 L1620.5,661.7 L1622.0,661.7 L1623.5,661.6 L1625.0,661.4 L1626.5,661.2 L1628.0,660.8 L1629.5,660.3 L1631.0,659.8 L1632.5,659.3 L1634.0,658.9 L1635.5,658.5 L1637.0,658.3 L1638.5,658.2 L1640.0,658.1 L1641.5,658.1 L1643.0,658.2 L1644.5,658.3 L1646.0,658.5 L1647.5,658.6 L1649.0,658.6 L1650.5,658.5 L1652.0,658.4 L1653.5,658.3 L1655.0,658.3 L1656.5,658.3 L1658.0,658.5 L1659.5,658.6 L1661.0,658.7 L1662.5,658.9 L1664.0,659.1 L1665.5,659.3 L1667.0,659.5 L1668.5,659.7 L1670.0,659.8 L1671.5,660.0 L1673.0,660.2 L1674.5,660.4 L1676.0,660.7 L1677.5,661.0 L1679.0,661.3 L1680.5,661.9 L1682.0,662.4 L1683.5,662.9 L1685.0,663.4 L1686.5,663.7 L1688.0,664.0 L1689.5,664.3 L1691.0,664.5 L1692.5,664.5 L1694.0,664.6 L1695.5,664.7 L1697.0,664.9 L1698.5,665.2 L1700.0,665.6 L1701.5,665.9 L1703.0,666.0 L1704.5,665.9 L1706.0,665.6 L1707.5,665.3 L1709.0,665.0 L1710.5,664.7 L1712.0,664.4 L1713.5,664.1 L1715.0,663.8 L1716.5,663.4 L1718.0,663.1 L1719.5,662.7 L1721.0,662.2 L1722.5,661.7 L1724.0,661.2 L1725.5,660.7 L1727.0,660.2 L1728.5,660.0 L1730.0,660.0 L1731.5,660.2 L1733.0,660.3 L1734.5,660.5 L1736.0,660.7 L1737.5,660.9 L1739.0,661.1 L1740.5,661.2 L1742.0,661.2 L1743.5,661.3 L1745.0,661.5 L1746.5,661.7 L1748.0,662.1 L1749.5,662.4 L1751.0,662.8 L1752.5,663.1 L1754.0,663.4 L1755.5,663.8 L1757.0,664.2 L1758.5,664.5 L1760.0,664.7 L1761.5,664.4 L1763.0,663.6 L1764.5,662.4 L1766.0,661.2 L1767.5,660.0 L1769.0,659.0 L1770.5,658.1 L1772.0,657.4 L1773.5,656.7 L1775.0,656.0 L1776.5,655.1 L1778.0,654.1 L1779.5,653.0 L1781.0,652.0 L1782.5,651.2 L1784.0,650.5 L1785.5,650.0 L1787.0,649.4 L1788.5,648.8 L1790.0,648.6 L1791.5,649.1 L1793.0,649.9 L1794.5,650.9 L1796.0,651.8 L1797.5,652.7 L1799.0,653.4 L1800.5,654.0 L1802.0,654.6 L1803.5,655.3 L1805.0,656.0 L1806.5,656.5 L1808.0,656.9 L1809.5,657.3 L1811.0,657.5 L1812.5,657.5 L1814.0,657.3 L1815.5,657.1 L1817.0,656.9 L1818.5,656.8 L1820.0,656.7 L1821.5,656.6 L1823.0,656.4 L1824.5,656.1 L1826.0,655.7 L1827.5,655.2 L1829.0,654.8 L1830.5,654.5 L1832.0,654.4 L1833.5,654.6 L1835.0,655.0 L1836.5,655.4 L1838.0,655.8 L1839.5,656.2 L1841.0,656.8 L1842.5,657.3 L1844.0,657.9 L1845.5,658.5 L1847.0,659.1 L1848.5,659.6 L1850.0,660.1 L1851.5,660.6 L1853.0,660.9 L1854.5,660.8 L1856.0,660.5 L1857.5,660.0 L1859.0,659.5 L1860.5,658.9 L1862.0,658.2 L1863.5,657.5 L1865.0,656.8 L1866.5,656.2 L1868.0,655.6 L1869.5,655.1 L1871.0,654.6 L1872.5,654.0 L1874.0,653.5 L1875.5,653.0 L1877.0,652.7 L1878.5,652.4 L1880.0,652.0 L1881.5,651.6 L1883.0,651.2 L1884.5,650.8 L1886.0,650.4 L1887.5,650.1 L1889.0,649.9 L1890.5,649.9 L1892.0,650.0 L1893.5,650.1 L1895.0,650.2 L1896.5,650.2 L1898.0,650.2 L1899.5,650.1 L1901.0,650.1 L1902.5,650.1 L1904.0,650.2 L1905.5,650.3 L1907.0,650.0 L1908.5,649.2 L1910.0,648.1 L1911.5,646.9 L1913.0,645.8 L1914.5,644.7 L1916.0,643.6 L1917.5,642.5 L1919.0,641.4 L1920.5,640.7 L1922.0,641.2 L1923.5,643.1 L1925.0,645.6 L1926.5,648.3 L1928.0,649.8 L1929.5,645.9 L1931.0,628.6 L1932.5,602.5 L1934.0,598.8 L1935.5,622.7 L1937.0,642.6 L1938.5,648.5 L1940.0,648.8 L1941.5,648.3 L1943.0,647.7 L1944.5,647.2 L1946.0,646.8 L1947.5,646.3 L1949.0,645.9 L1950.5,645.5 L1952.0,645.2 L1953.5,644.9 L1955.0,644.8 L1956.5,644.5 L1958.0,644.2 L1959.5,644.0 L1961.0,643.9 L1962.5,644.0 L1964.0,644.1 L1965.5,644.2 L1967.0,644.2 L1968.5,644.2 L1970.0,644.2 L1971.5,644.1 L1973.0,644.1 L1974.5,644.1 L1976.0,644.0 L1977.5,643.9 L1979.0,643.9 L1980.5,644.0 L1982.0,644.2 L1983.5,644.6 L1985.0,645.0 L1986.5,645.5 L1988.0,646.1 L1989.5,646.7 L1991.0,647.3 L1992.5,647.8 L1994.0,648.3 L1995.5,648.7 L1997.0,649.1 L1998.5,649.4 L2000.0,649.7 L2001.5,650.0 L2003.0,650.3 L2004.5,650.5 L2006.0,650.9 L2007.5,651.3 L2009.0,651.7 L2010.5,651.8 L2012.0,651.7 L2013.5,651.5 L2015.0,651.0 L2016.5,650.5 L2018.0,650.0 L2019.5,649.5 L2021.0,649.1 L2022.5,648.7 L2024.0,648.4 L2025.5,648.0 L2027.0,647.8 L2028.5,647.7 L2030.0,647.7 L2031.5,647.6 L2033.0,647.5 L2034.5,647.4 L2036.0,647.2 L2037.5,647.1 L2039.0,646.9 L2040.5,646.8 L2042.0,646.7 L2043.5,646.7 L2045.0,646.7 L2046.5,646.8 L2048.0,646.8 L2049.5,646.9 L2051.0,647.0 L2052.5,647.2 L2054.0,647.6 L2055.5,648.2 L2057.0,649.0 L2058.5,649.7 L2060.0,650.5 L2061.5,651.2 L2063.0,651.9 L2064.5,652.6 L2066.0,653.2 L2067.5,653.9 L2069.0,654.6 L2070.5,655.0 L2072.0,654.8 L2073.5,653.8 L2075.0,652.5 L2076.5,651.2 L2078.0,650.1 L2079.5,648.9 L2081.0,647.8 L2082.5,646.7 L2084.0,645.8 L2085.5,645.4 L2087.0,645.5 L2088.5,645.7 L2090.0,645.9 L2091.5,645.9 L2093.0,645.9 L2094.5,645.8 L2096.0,645.8 L2097.5,645.8 L2099.0,646.0 L2100.5,646.1 L2102.0,646.3 L2103.5,646.5 L2105.0,646.6 L2106.5,646.8 L2108.0,646.9 L2109.5,647.1 L2111.0,647.2 L2112.5,647.4 L2114.0,647.4 L2115.5,647.4 L2117.0,647.2 L2118.5,646.9 L2120.0,646.6 L2121.5,646.4 L2123.0,646.4 L2124.5,646.7 L2126.0,647.4 L2127.5,648.5 L2129.0,649.5 L2130.5,650.7 L2132.0,651.8 L2133.5,653.0 L2135.0,654.1 L2136.5,655.1 L2138.0,655.1 L2139.5,653.6 L2141.0,651.1 L2142.5,648.5 L2144.0,646.0 L2145.5,644.1 L2147.0,643.5 L2148.5,644.0 L2150.0,644.9 L2151.5,645.8 L2153.0,646.8 L2154.5,647.8 L2156.0,648.9 L2157.5,650.0 L2159.0,650.9 L2160.5,651.1 L2162.0,650.8 L2163.5,650.4 L2165.0,649.9 L2166.5,649.4 L2168.0,648.7 L2169.5,648.0 L2171.0,647.4 L2172.5,647.7 L2174.0,649.5 L2175.5,652.0 L2177.0,653.8 L2178.5,653.9 L2180.0,652.2 L2181.5,649.7 L2183.0,647.5 L2184.5,646.3 L2186.0,647.0 L2187.5,648.8 L2189.0,650.7 L2190.5,652.5 L2192.0,653.7 L2193.5,653.7 L2195.0,652.7 L2196.5,651.3 L2198.0,650.0 L2199.5,648.6 L2201.0,647.2 L2202.5,646.0 L2204.0,645.1 L2205.5,644.7 L2207.0,644.6 L2208.5,644.7 L2210.0,644.6 L2211.5,644.6 L2213.0,644.5 L2214.5,644.5 L2216.0,644.6 L2217.5,644.7 L2219.0,644.7 L2220.5,644.7 L2222.0,644.6 L2223.5,644.4 L2225.0,644.1 L2226.5,643.8 L2228.0,643.6 L2229.5,643.6 L2231.0,644.2 L2232.5,645.6 L2234.0,647.4 L2235.5,649.0 L2237.0,649.9 L2238.5,649.0 L2240.0,646.6 L2241.5,643.8 L2243.0,641.1 L2244.5,639.6 L2246.0,639.7 L2247.5,640.6 L2249.0,641.6 L2250.5,642.5 L2252.0,643.4 L2253.5,644.2 L2255.0,645.0 L2256.5,645.7 L2258.0,646.2 L2259.5,646.0 L2261.0,645.2 L2262.5,644.0 L2264.0,642.7 L2265.5,641.3 L2267.0,639.9 L2268.5,638.6 L2270.0,637.7 L2271.5,637.8 L2273.0,638.8 L2274.5,640.3 L2276.0,641.8 L2277.5,643.3 L2279.0,644.7 L2280.5,645.9 L2282.0,647.0 L2283.5,647.5 L2285.0,647.6 L2286.5,647.4 L2288.0,647.1 L2289.5,646.8 L2291.0,646.6 L2292.5,646.4 L2294.0,646.2 L2295.5,646.1 L2297.0,646.0 L2298.5,646.3 L2300.0,646.8 L2301.5,647.5 L2303.0,648.4 L2304.5,649.3 L2306.0,650.2 L2307.5,651.0 L2309.0,651.6 L2310.5,651.8 L2312.0,651.0 L2313.5,649.6 L2315.0,648.1 L2316.5,646.5 L2318.0,644.9 L2319.5,643.3 L2321.0,641.8 L2322.5,640.5 L2324.0,639.8 L2325.5,640.2 L2327.0,641.1 L2328.5,642.1 L2330.0,643.1 L2331.5,644.2 L2333.0,645.4 L2334.5,646.6 L2336.0,647.5 L2337.5,647.6 L2339.0,646.7 L2340.5,645.3 L2342.0,643.8 L2343.5,642.4 L2345.0,641.1 L2346.5,639.8 L2348.0,638.6 L2349.5,637.8 L2351.0,637.6 L2352.5,638.1 L2354.0,638.9 L2355.5,639.6 L2357.0,640.2 L2358.5,640.7 L2360.0,641.3 L2361.5,641.8 L2363.0,642.4 L2364.5,642.9 L2366.0,643.2 L2367.5,643.1 L2369.0,642.7 L2370.5,642.4 L2372.0,642.1 L2373.5,641.7 L2375.0,641.3 L2376.5,640.8 L2378.0,640.4 L2379.5,640.1 L2381.0,639.7 L2382.5,639.4 L2384.0,639.1 L2385.5,638.8 L2387.0,638.4 L2388.5,637.9 L2390.0,637.4 L2391.5,636.8 L2393.0,636.4 L2394.5,636.0 L2396.0,636.0 L2397.5,636.8 L2399.0,638.5 L2400.5,640.6 L2402.0,642.6 L2403.5,644.6 L2405.0,646.3 L2406.5,647.2 L2408.0,647.1 L2409.5,646.5 L2411.0,645.8 L2412.5,645.2 L2414.0,644.7 L2415.5,644.2 L2417.0,643.8 L2418.5,643.4 L2420.0,643.0 L2421.5,642.6 L2423.0,642.2 L2424.5,641.7 L2426.0,641.2 L2427.5,640.6 L2429.0,640.0 L2430.5,639.8 L2432.0,640.2 L2433.5,640.8 L2435.0,641.6 L2436.5,642.3 L2438.0,643.0 L2439.5,643.6 L2441.0,644.7 L2442.5,647.3 L2444.0,651.9 L2445.5,657.8 L2447.0,664.6 L2448.5,670.2" fill="none" stroke="#80f5a8" stroke-width="3.2" stroke-linejoin="round" stroke-linecap="round" opacity="1"/><path d="M1121.0,653.2 L1122.5,652.2 L1124.0,651.3 L1125.5,650.6 L1127.0,650.4 L1128.5,650.4 L1130.0,650.4 L1131.5,650.3 L1133.0,650.0 L1134.5,649.7 L1136.0,649.5 L1137.5,649.3 L1139.0,648.9 L1140.5,648.4 L1142.0,649.1 L1143.5,649.8 L1145.0,650.6 L1146.5,651.2 L1148.0,651.7 L1149.5,651.7 L1151.0,651.3 L1152.5,650.7 L1154.0,649.8 L1155.5,648.7 L1157.0,647.4 L1158.5,646.2 L1160.0,645.4 L1161.5,645.2 L1163.0,645.7 L1164.5,646.7 L1166.0,647.9 L1167.5,649.1 L1169.0,650.3 L1170.5,651.4 L1172.0,652.4 L1173.5,652.9 L1175.0,653.1 L1176.5,653.0 L1178.0,652.7 L1179.5,652.5 L1181.0,652.4 L1182.5,652.4 L1184.0,652.3 L1185.5,652.2 L1187.0,652.4 L1188.5,652.9 L1190.0,653.3 L1191.5,653.7 L1193.0,654.2 L1194.5,654.7 L1196.0,655.7 L1197.5,658.5 L1199.0,661.0 L1200.5,662.4 L1202.0,662.4 L1203.5,661.4 L1205.0,660.0 L1206.5,658.9 L1208.0,658.3 L1209.5,658.3 L1211.0,658.6 L1212.5,658.9 L1214.0,659.2 L1215.5,659.1 L1217.0,658.7 L1218.5,658.2 L1220.0,657.6 L1221.5,657.1 L1223.0,656.8 L1224.5,656.7 L1226.0,656.7 L1227.5,656.9 L1229.0,657.0 L1230.5,656.9 L1232.0,656.7 L1233.5,656.3 L1235.0,656.0 L1236.5,655.7 L1238.0,655.6 L1239.5,655.6 L1241.0,655.8 L1242.5,656.3 L1244.0,656.8 L1245.5,657.4 L1247.0,658.1 L1248.5,658.8 L1250.0,659.6 L1251.5,660.4 L1253.0,661.0 L1254.5,661.1 L1256.0,660.7 L1257.5,660.0 L1259.0,659.2 L1260.5,658.4 L1262.0,657.9 L1263.5,657.4 L1265.0,656.9 L1266.5,656.5 L1268.0,656.1 L1269.5,655.8 L1271.0,655.6 L1272.5,655.3 L1274.0,655.1 L1275.5,655.0 L1277.0,655.2 L1278.5,655.5 L1280.0,655.9 L1281.5,656.2 L1283.0,656.4 L1284.5,656.2 L1286.0,655.5 L1287.5,654.4 L1289.0,653.6 L1290.5,653.7 L1292.0,653.9 L1293.5,654.1 L1295.0,654.4 L1296.5,654.7 L1298.0,655.0 L1299.5,655.4 L1301.0,655.8 L1302.5,656.2 L1304.0,656.6 L1305.5,656.6 L1307.0,655.6 L1308.5,650.7 L1310.0,638.4 L1311.5,621.5 L1313.0,613.0 L1314.5,621.6 L1316.0,638.6 L1317.5,651.1 L1319.0,656.4 L1320.5,657.9 L1322.0,658.3 L1323.5,658.3 L1325.0,657.8 L1326.5,656.7 L1328.0,655.3 L1329.5,653.8 L1331.0,652.3 L1332.5,650.9 L1334.0,649.5 L1335.5,648.1 L1337.0,646.7 L1338.5,645.4 L1340.0,644.7 L1341.5,645.6 L1343.0,646.7 L1344.5,647.8 L1346.0,648.7 L1347.5,649.6 L1349.0,650.3 L1350.5,651.1 L1352.0,651.7 L1353.5,652.3 L1355.0,652.6 L1356.5,652.7 L1358.0,652.9 L1359.5,653.2 L1361.0,653.5 L1362.5,653.2 L1364.0,652.4 L1365.5,651.0 L1367.0,649.5 L1368.5,647.9 L1370.0,646.2 L1371.5,644.3 L1373.0,643.3 L1374.5,642.8 L1376.0,642.3 L1377.5,641.9 L1379.0,641.7 L1380.5,641.8 L1382.0,642.7 L1383.5,645.6 L1385.0,647.5 L1386.5,648.1 L1388.0,647.7 L1389.5,646.9 L1391.0,646.5 L1392.5,646.8 L1394.0,646.8 L1395.5,646.4 L1397.0,647.1 L1398.5,647.9 L1400.0,648.9 L1401.5,649.8 L1403.0,650.7 L1404.5,651.0 L1406.0,650.8 L1407.5,650.0 L1409.0,648.9 L1410.5,648.0 L1412.0,647.3 L1413.5,646.8 L1415.0,646.4 L1416.5,646.3 L1418.0,646.4 L1419.5,646.8 L1421.0,647.6 L1422.5,648.5 L1424.0,649.4 L1425.5,650.3 L1427.0,651.2 L1428.5,652.0 L1430.0,652.6 L1431.5,652.8 L1433.0,652.3 L1434.5,651.4 L1436.0,650.4 L1437.5,649.5 L1439.0,649.2 L1440.5,649.6 L1442.0,649.8 L1443.5,650.1 L1445.0,650.5 L1446.5,650.8 L1448.0,651.0 L1449.5,651.1 L1451.0,651.2 L1452.5,651.4 L1454.0,652.3 L1455.5,653.5 L1457.0,654.7 L1458.5,655.9 L1460.0,656.8 L1461.5,657.5 L1463.0,658.0 L1464.5,658.0 L1466.0,657.5 L1467.5,656.5 L1469.0,655.2 L1470.5,654.0 L1472.0,653.2 L1473.5,652.9 L1475.0,653.0 L1476.5,653.2 L1478.0,653.4 L1479.5,653.6 L1481.0,653.5 L1482.5,653.3 L1484.0,653.0 L1485.5,652.7 L1487.0,652.6 L1488.5,652.6 L1490.0,652.6 L1491.5,652.3 L1493.0,651.3 L1494.5,649.6 L1496.0,649.3 L1497.5,650.2 L1499.0,651.4 L1500.5,652.6 L1502.0,653.6 L1503.5,654.1 L1505.0,654.4 L1506.5,654.5 L1508.0,654.6 L1509.5,654.6 L1511.0,654.6 L1512.5,654.5 L1514.0,654.5 L1515.5,654.5 L1517.0,654.5 L1518.5,654.4 L1520.0,654.4 L1521.5,654.4 L1523.0,654.1 L1524.5,652.6 L1526.0,646.6 L1527.5,632.1 L1529.0,611.0 L1530.5,595.6 L1532.0,598.8 L1533.5,617.7 L1535.0,637.2 L1536.5,648.6 L1538.0,652.8 L1539.5,654.1 L1541.0,654.6 L1542.5,655.1 L1544.0,655.9 L1545.5,657.0 L1547.0,658.3 L1548.5,659.7 L1550.0,661.1 L1551.5,662.3 L1553.0,663.3 L1554.5,663.9 L1556.0,664.3 L1557.5,664.4 L1559.0,664.2 L1560.5,663.9 L1562.0,663.5 L1563.5,663.1 L1565.0,662.7 L1566.5,662.5 L1568.0,662.5 L1569.5,662.6 L1571.0,662.9 L1572.5,663.2 L1574.0,663.5 L1575.5,663.8 L1577.0,664.2 L1578.5,664.6 L1580.0,664.7 L1581.5,664.4 L1583.0,663.6 L1584.5,662.1 L1586.0,660.2 L1587.5,658.1 L1589.0,656.4 L1590.5,655.2 L1592.0,654.7 L1593.5,654.7 L1595.0,655.1 L1596.5,655.6 L1598.0,656.1 L1599.5,656.3 L1601.0,656.2 L1602.5,656.1 L1604.0,656.1 L1605.5,656.3 L1607.0,656.6 L1608.5,656.8 L1610.0,656.6 L1611.5,656.0 L1613.0,655.1 L1614.5,654.2 L1616.0,653.5 L1617.5,653.2 L1619.0,653.3 L1620.5,653.5 L1622.0,653.6 L1623.5,653.5 L1625.0,653.2 L1626.5,652.8 L1628.0,652.2 L1629.5,651.6 L1631.0,651.0 L1632.5,650.5 L1634.0,650.1 L1635.5,650.1 L1637.0,650.5 L1638.5,651.4 L1640.0,652.8 L1641.5,654.2 L1643.0,655.5 L1644.5,656.4 L1646.0,656.6 L1647.5,656.3 L1649.0,655.6 L1650.5,654.7 L1652.0,653.8 L1653.5,653.1 L1655.0,652.7 L1656.5,652.3 L1658.0,652.0 L1659.5,651.7 L1661.0,651.6 L1662.5,651.4 L1664.0,650.3 L1665.5,646.5 L1667.0,638.6 L1668.5,629.9 L1670.0,627.2 L1671.5,633.4 L1673.0,642.7 L1674.5,649.1 L1676.0,651.7 L1677.5,652.6 L1679.0,653.2 L1680.5,653.9 L1682.0,654.8 L1683.5,655.6 L1685.0,656.3 L1686.5,656.9 L1688.0,657.5 L1689.5,658.2 L1691.0,659.1 L1692.5,660.1 L1694.0,661.0 L1695.5,662.0 L1697.0,663.1 L1698.5,664.1 L1700.0,664.9 L1701.5,665.3 L1703.0,665.4 L1704.5,665.3 L1706.0,665.1 L1707.5,664.8 L1709.0,664.6 L1710.5,664.6 L1712.0,664.6 L1713.5,664.5 L1715.0,664.3 L1716.5,663.8 L1718.0,663.3 L1719.5,662.6 L1721.0,661.7 L1722.5,660.7 L1724.0,659.7 L1725.5,658.8 L1727.0,658.1 L1728.5,657.5 L1730.0,656.9 L1731.5,656.3 L1733.0,655.6 L1734.5,655.0 L1736.0,654.5 L1737.5,654.2 L1739.0,653.8 L1740.5,653.4 L1742.0,652.9 L1743.5,652.5 L1745.0,652.3 L1746.5,652.4 L1748.0,652.6 L1749.5,652.5 L1751.0,652.2 L1752.5,651.6 L1754.0,651.1 L1755.5,650.7 L1757.0,650.3 L1758.5,649.9 L1760.0,649.3 L1761.5,648.4 L1763.0,647.4 L1764.5,646.2 L1766.0,645.1 L1767.5,644.0 L1769.0,643.0 L1770.5,642.1 L1772.0,641.3 L1773.5,640.6 L1775.0,640.1 L1776.5,639.7 L1778.0,639.8 L1779.5,640.3 L1781.0,641.1 L1782.5,642.0 L1784.0,643.1 L1785.5,643.8 L1787.0,644.0 L1788.5,643.3 L1790.0,641.6 L1791.5,639.2 L1793.0,636.9 L1794.5,635.5 L1796.0,635.3 L1797.5,636.2 L1799.0,637.5 L1800.5,638.9 L1802.0,639.9 L1803.5,640.4 L1805.0,640.6 L1806.5,640.4 L1808.0,640.2 L1809.5,640.2 L1811.0,640.9 L1812.5,642.2 L1814.0,643.6 L1815.5,644.5 L1817.0,644.5 L1818.5,643.9 L1820.0,643.2 L1821.5,642.7 L1823.0,642.7 L1824.5,643.1 L1826.0,643.4 L1827.5,643.4 L1829.0,642.7 L1830.5,641.5 L1832.0,640.0 L1833.5,638.7 L1835.0,637.8 L1836.5,637.7 L1838.0,638.4 L1839.5,639.5 L1841.0,640.8 L1842.5,642.3 L1844.0,643.9 L1845.5,645.7 L1847.0,647.7 L1848.5,649.7 L1850.0,651.6 L1851.5,653.0 L1853.0,653.9 L1854.5,654.0 L1856.0,653.4 L1857.5,652.4 L1859.0,651.4 L1860.5,650.5 L1862.0,649.8 L1863.5,649.7 L1865.0,650.0 L1866.5,650.3 L1868.0,650.1 L1869.5,649.0 L1871.0,647.2 L1872.5,645.0 L1874.0,643.2 L1875.5,642.1 L1877.0,641.6 L1878.5,641.7 L1880.0,641.9 L1881.5,641.8 L1883.0,641.3 L1884.5,640.2 L1886.0,638.6 L1887.5,636.7 L1889.0,634.8 L1890.5,633.3 L1892.0,632.2 L1893.5,631.4 L1895.0,630.8 L1896.5,630.2 L1898.0,629.5 L1899.5,628.9 L1901.0,628.3 L1902.5,627.8 L1904.0,627.3 L1905.5,626.7 L1907.0,625.8 L1908.5,624.5 L1910.0,623.1 L1911.5,621.7 L1913.0,620.5 L1914.5,619.5 L1916.0,618.5 L1917.5,617.4 L1919.0,616.5 L1920.5,616.2 L1922.0,616.9 L1923.5,618.8 L1925.0,621.5 L1926.5,623.9 L1928.0,623.4 L1929.5,614.7 L1931.0,595.0 L1932.5,574.7 L1934.0,572.5 L1935.5,591.0 L1937.0,612.7 L1938.5,624.8 L1940.0,628.3 L1941.5,628.3 L1943.0,627.5 L1944.5,626.7 L1946.0,625.8 L1947.5,624.9 L1949.0,623.9 L1950.5,623.0 L1952.0,622.3 L1953.5,621.6 L1955.0,620.9 L1956.5,620.1 L1958.0,619.3 L1959.5,618.7 L1961.0,618.6 L1962.5,618.8 L1964.0,619.1 L1965.5,619.3 L1967.0,619.4 L1968.5,619.3 L1970.0,618.9 L1971.5,618.3 L1973.0,617.7 L1974.5,617.3 L1976.0,617.1 L1977.5,616.9 L1979.0,617.1 L1980.5,617.8 L1982.0,619.4 L1983.5,621.7 L1985.0,624.1 L1986.5,626.0 L1988.0,627.2 L1989.5,627.6 L1991.0,627.7 L1992.5,628.0 L1994.0,628.9 L1995.5,630.4 L1997.0,632.2 L1998.5,633.6 L2000.0,634.3 L2001.5,634.3 L2003.0,633.8 L2004.5,633.2 L2006.0,632.7 L2007.5,632.4 L2009.0,632.6 L2010.5,633.1 L2012.0,633.7 L2013.5,634.3 L2015.0,634.6 L2016.5,634.8 L2018.0,634.7 L2019.5,634.4 L2021.0,633.9 L2022.5,633.2 L2024.0,632.5 L2025.5,631.8 L2027.0,631.0 L2028.5,630.1 L2030.0,629.3 L2031.5,628.6 L2033.0,628.3 L2034.5,628.2 L2036.0,628.4 L2037.5,628.7 L2039.0,629.2 L2040.5,630.1 L2042.0,631.4 L2043.5,632.9 L2045.0,634.4 L2046.5,635.6 L2048.0,636.4 L2049.5,636.8 L2051.0,637.0 L2052.5,637.2 L2054.0,637.5 L2055.5,638.2 L2057.0,639.1 L2058.5,640.3 L2060.0,641.5 L2061.5,643.0 L2063.0,644.5 L2064.5,646.0 L2066.0,647.4 L2067.5,648.7 L2069.0,650.0 L2070.5,651.1 L2072.0,651.9 L2073.5,652.3 L2075.0,652.3 L2076.5,651.8 L2078.0,650.4 L2079.5,647.9 L2081.0,645.2 L2082.5,643.2 L2084.0,642.8 L2085.5,643.7 L2087.0,645.2 L2088.5,646.5 L2090.0,647.3 L2091.5,647.4 L2093.0,647.1 L2094.5,646.5 L2096.0,645.9 L2097.5,645.5 L2099.0,645.2 L2100.5,645.0 L2102.0,644.6 L2103.5,644.2 L2105.0,643.9 L2106.5,643.8 L2108.0,644.1 L2109.5,645.0 L2111.0,646.1 L2112.5,647.0 L2114.0,647.2 L2115.5,646.7 L2117.0,645.7 L2118.5,644.6 L2120.0,643.6 L2121.5,643.2 L2123.0,643.3 L2124.5,643.8 L2126.0,644.5 L2127.5,645.3 L2129.0,646.3 L2130.5,647.2 L2132.0,648.1 L2133.5,649.0 L2135.0,649.9 L2136.5,650.4 L2138.0,650.3 L2139.5,649.3 L2141.0,647.2 L2142.5,644.4 L2144.0,641.8 L2145.5,639.8 L2147.0,638.8 L2148.5,638.9 L2150.0,639.5 L2151.5,640.3 L2153.0,641.3 L2154.5,642.4 L2156.0,643.7 L2157.5,644.9 L2159.0,646.0 L2160.5,646.7 L2162.0,647.1 L2163.5,647.0 L2165.0,645.3 L2166.5,638.8 L2168.0,623.7 L2169.5,600.7 L2171.0,581.6 L2172.5,580.9 L2174.0,599.1 L2175.5,622.0 L2177.0,637.4 L2178.5,643.7 L2180.0,644.8 L2181.5,643.9 L2183.0,642.4 L2184.5,641.2 L2186.0,640.8 L2187.5,641.3 L2189.0,642.8 L2190.5,644.6 L2192.0,646.0 L2193.5,646.6 L2195.0,646.1 L2196.5,644.3 L2198.0,640.4 L2199.5,632.0 L2201.0,616.3 L2202.5,595.1 L2204.0,577.7 L2205.5,575.2 L2207.0,588.6 L2208.5,608.0 L2210.0,622.9 L2211.5,630.3 L2213.0,632.9 L2214.5,633.8 L2216.0,634.4 L2217.5,635.0 L2219.0,635.6 L2220.5,636.1 L2222.0,636.3 L2223.5,636.1 L2225.0,635.8 L2226.5,635.5 L2228.0,635.6 L2229.5,636.3 L2231.0,637.6 L2232.5,639.4 L2234.0,641.4 L2235.5,642.8 L2237.0,643.3 L2238.5,642.4 L2240.0,640.6 L2241.5,638.2 L2243.0,636.1 L2244.5,634.9 L2246.0,634.9 L2247.5,635.9 L2249.0,637.3 L2250.5,638.7 L2252.0,639.8 L2253.5,640.7 L2255.0,641.4 L2256.5,641.9 L2258.0,641.9 L2259.5,641.5 L2261.0,640.7 L2262.5,639.7 L2264.0,638.3 L2265.5,636.6 L2267.0,634.6 L2268.5,632.6 L2270.0,631.2 L2271.5,630.5 L2273.0,630.5 L2274.5,631.1 L2276.0,631.9 L2277.5,632.9 L2279.0,634.1 L2280.5,635.6 L2282.0,637.5 L2283.5,639.5 L2285.0,641.2 L2286.5,642.2 L2288.0,642.5 L2289.5,642.3 L2291.0,641.8 L2292.5,641.3 L2294.0,640.9 L2295.5,640.5 L2297.0,640.3 L2298.5,640.4 L2300.0,640.8 L2301.5,641.7 L2303.0,642.9 L2304.5,644.1 L2306.0,645.1 L2307.5,645.8 L2309.0,646.3 L2310.5,646.2 L2312.0,645.4 L2313.5,644.0 L2315.0,642.2 L2316.5,640.1 L2318.0,637.9 L2319.5,635.6 L2321.0,633.5 L2322.5,631.9 L2324.0,631.2 L2325.5,631.7 L2327.0,633.1 L2328.5,635.0 L2330.0,636.9 L2331.5,638.8 L2333.0,640.5 L2334.5,641.7 L2336.0,641.9 L2337.5,640.9 L2339.0,638.9 L2340.5,636.4 L2342.0,633.7 L2343.5,630.9 L2345.0,628.2 L2346.5,625.9 L2348.0,624.6 L2349.5,624.6 L2351.0,626.0 L2352.5,628.2 L2354.0,630.5 L2355.5,632.2 L2357.0,633.1 L2358.5,633.2 L2360.0,632.9 L2361.5,632.5 L2363.0,631.9 L2364.5,631.2 L2366.0,630.5 L2367.5,629.7 L2369.0,629.1 L2370.5,628.8 L2372.0,628.5 L2373.5,628.2 L2375.0,627.8 L2376.5,627.6 L2378.0,627.5 L2379.5,627.6 L2381.0,627.7 L2382.5,628.1 L2384.0,628.6 L2385.5,629.2 L2387.0,629.6 L2388.5,629.9 L2390.0,629.7 L2391.5,629.2 L2393.0,628.5 L2394.5,627.6 L2396.0,626.7 L2397.5,626.0 L2399.0,625.6 L2400.5,625.8 L2402.0,626.5 L2403.5,628.0 L2405.0,630.1 L2406.5,632.3 L2408.0,634.3 L2409.5,635.7 L2411.0,636.3 L2412.5,636.2 L2414.0,635.5 L2415.5,634.7 L2417.0,634.0 L2418.5,633.8 L2420.0,634.2 L2421.5,634.9 L2423.0,635.5 L2424.5,635.4 L2426.0,634.5 L2427.5,633.1 L2429.0,631.8 L2430.5,631.4 L2432.0,632.1 L2433.5,633.7 L2435.0,635.4 L2436.5,636.7 L2438.0,637.6 L2439.5,638.3 L2441.0,639.7 L2442.5,642.3 L2444.0,646.5 L2445.5,653.6 L2447.0,661.4 L2448.5,668.0" fill="none" stroke="#f5a11f" stroke-width="3.2" stroke-linejoin="round" stroke-linecap="round" opacity="1"/><path d="M1121.0,649.0 L1122.5,648.9 L1124.0,649.0 L1125.5,649.1 L1127.0,648.8 L1128.5,648.0 L1130.0,646.9 L1131.5,645.8 L1133.0,644.8 L1134.5,644.4 L1136.0,644.6 L1137.5,645.3 L1139.0,646.2 L1140.5,646.9 L1142.0,647.6 L1143.5,648.3 L1145.0,649.1 L1146.5,649.7 L1148.0,650.2 L1149.5,650.2 L1151.0,649.8 L1152.5,649.2 L1154.0,648.3 L1155.5,647.2 L1157.0,645.9 L1158.5,644.7 L1160.0,643.9 L1161.5,643.7 L1163.0,644.2 L1164.5,645.2 L1166.0,646.4 L1167.5,647.6 L1169.0,648.8 L1170.5,649.9 L1172.0,650.9 L1173.5,651.4 L1175.0,651.6 L1176.5,651.5 L1178.0,651.2 L1179.5,651.0 L1181.0,650.9 L1182.5,650.9 L1184.0,650.8 L1185.5,650.7 L1187.0,650.4 L1188.5,650.1 L1190.0,649.8 L1191.5,649.9 L1193.0,650.5 L1194.5,651.9 L1196.0,654.2 L1197.5,657.0 L1199.0,659.5 L1200.5,660.9 L1202.0,660.9 L1203.5,659.9 L1205.0,658.5 L1206.5,657.4 L1208.0,656.8 L1209.5,656.8 L1211.0,657.1 L1212.5,657.4 L1214.0,657.7 L1215.5,657.6 L1217.0,657.2 L1218.5,656.7 L1220.0,656.1 L1221.5,655.6 L1223.0,655.3 L1224.5,655.2 L1226.0,655.2 L1227.5,655.4 L1229.0,655.5 L1230.5,655.4 L1232.0,655.2 L1233.5,654.8 L1235.0,654.5 L1236.5,654.2 L1238.0,654.1 L1239.5,654.1 L1241.0,654.3 L1242.5,654.8 L1244.0,655.3 L1245.5,655.9 L1247.0,656.6 L1248.5,657.3 L1250.0,658.1 L1251.5,658.9 L1253.0,659.5 L1254.5,659.6 L1256.0,659.2 L1257.5,658.5 L1259.0,657.7 L1260.5,656.9 L1262.0,656.4 L1263.5,655.9 L1265.0,655.4 L1266.5,655.0 L1268.0,654.6 L1269.5,654.3 L1271.0,654.1 L1272.5,653.8 L1274.0,653.6 L1275.5,653.5 L1277.0,653.7 L1278.5,654.0 L1280.0,654.4 L1281.5,654.7 L1283.0,654.9 L1284.5,654.7 L1286.0,654.0 L1287.5,652.9 L1289.0,651.6 L1290.5,650.5 L1292.0,649.7 L1293.5,649.5 L1295.0,649.9 L1296.5,650.5 L1298.0,651.3 L1299.5,652.1 L1301.0,653.0 L1302.5,653.8 L1304.0,654.6 L1305.5,654.8 L1307.0,652.8 L1308.5,644.9 L1310.0,627.0 L1311.5,604.4 L1313.0,593.5 L1314.5,604.9 L1316.0,627.9 L1317.5,646.0 L1319.0,654.2 L1320.5,656.4 L1322.0,656.4 L1323.5,655.6 L1325.0,654.4 L1326.5,653.0 L1328.0,651.4 L1329.5,649.7 L1331.0,648.2 L1332.5,646.8 L1334.0,645.5 L1335.5,644.2 L1337.0,643.2 L1338.5,642.8 L1340.0,643.2 L1341.5,644.1 L1343.0,645.2 L1344.5,646.3 L1346.0,647.2 L1347.5,648.1 L1349.0,648.8 L1350.5,649.6 L1352.0,650.2 L1353.5,650.8 L1355.0,651.1 L1356.5,651.2 L1358.0,651.4 L1359.5,651.7 L1361.0,652.0 L1362.5,651.7 L1364.0,650.9 L1365.5,649.5 L1367.0,648.0 L1368.5,646.4 L1370.0,644.7 L1371.5,642.8 L1373.0,640.6 L1374.5,638.4 L1376.0,636.5 L1377.5,635.6 L1379.0,636.2 L1380.5,638.2 L1382.0,641.2 L1383.5,644.1 L1385.0,646.0 L1386.5,646.6 L1388.0,646.2 L1389.5,645.4 L1391.0,644.7 L1392.5,644.3 L1394.0,644.4 L1395.5,644.9 L1397.0,645.6 L1398.5,646.4 L1400.0,647.4 L1401.5,648.3 L1403.0,649.2 L1404.5,649.5 L1406.0,649.3 L1407.5,648.5 L1409.0,647.4 L1410.5,646.5 L1412.0,645.8 L1413.5,645.3 L1415.0,644.9 L1416.5,644.8 L1418.0,644.9 L1419.5,645.3 L1421.0,646.1 L1422.5,647.0 L1424.0,647.9 L1425.5,648.8 L1427.0,649.7 L1428.5,650.5 L1430.0,651.1 L1431.5,651.3 L1433.0,650.8 L1434.5,649.9 L1436.0,648.9 L1437.5,648.0 L1439.0,647.4 L1440.5,647.1 L1442.0,647.0 L1443.5,647.0 L1445.0,647.1 L1446.5,647.3 L1448.0,647.5 L1449.5,647.9 L1451.0,648.6 L1452.5,649.6 L1454.0,650.8 L1455.5,652.0 L1457.0,653.2 L1458.5,654.4 L1460.0,655.3 L1461.5,656.0 L1463.0,656.5 L1464.5,656.5 L1466.0,656.0 L1467.5,655.0 L1469.0,653.7 L1470.5,652.5 L1472.0,651.7 L1473.5,651.4 L1475.0,651.5 L1476.5,651.7 L1478.0,651.9 L1479.5,652.1 L1481.0,652.0 L1482.5,651.8 L1484.0,651.5 L1485.5,651.2 L1487.0,651.1 L1488.5,651.1 L1490.0,651.1 L1491.5,650.8 L1493.0,649.8 L1494.5,648.1 L1496.0,646.3 L1497.5,645.1 L1499.0,645.4 L1500.5,646.8 L1502.0,648.7 L1503.5,650.2 L1505.0,650.6 L1506.5,650.0 L1508.0,648.9 L1509.5,647.8 L1511.0,647.2 L1512.5,647.2 L1514.0,647.7 L1515.5,648.5 L1517.0,649.2 L1518.5,650.0 L1520.0,650.5 L1521.5,650.7 L1523.0,650.2 L1524.5,647.8 L1526.0,640.2 L1527.5,623.8 L1529.0,601.4 L1530.5,585.8 L1532.0,589.4 L1533.5,609.1 L1535.0,630.5 L1536.5,643.7 L1538.0,649.1 L1539.5,650.6 L1541.0,650.8 L1542.5,650.6 L1544.0,650.3 L1545.5,650.0 L1547.0,649.6 L1548.5,649.5 L1550.0,649.8 L1551.5,651.0 L1553.0,652.9 L1554.5,655.1 L1556.0,657.2 L1557.5,658.5 L1559.0,658.8 L1560.5,658.3 L1562.0,657.6 L1563.5,657.1 L1565.0,657.3 L1566.5,658.0 L1568.0,658.9 L1569.5,659.4 L1571.0,659.3 L1572.5,658.5 L1574.0,657.1 L1575.5,655.5 L1577.0,653.9 L1578.5,652.6 L1580.0,651.7 L1581.5,651.3 L1583.0,651.1 L1584.5,650.7 L1586.0,650.2 L1587.5,649.4 L1589.0,648.6 L1590.5,647.7 L1592.0,646.9 L1593.5,646.5 L1595.0,646.3 L1596.5,646.4 L1598.0,646.4 L1599.5,646.4 L1601.0,646.3 L1602.5,646.4 L1604.0,646.7 L1605.5,647.2 L1607.0,647.9 L1608.5,648.6 L1610.0,649.3 L1611.5,649.8 L1613.0,650.2 L1614.5,650.5 L1616.0,650.5 L1617.5,650.4 L1619.0,650.1 L1620.5,649.7 L1622.0,649.4 L1623.5,649.2 L1625.0,649.0 L1626.5,648.8 L1628.0,648.6 L1629.5,648.4 L1631.0,647.9 L1632.5,647.3 L1634.0,646.5 L1635.5,645.7 L1637.0,645.0 L1638.5,644.3 L1640.0,643.6 L1641.5,642.9 L1643.0,642.3 L1644.5,642.1 L1646.0,642.0 L1647.5,642.0 L1649.0,641.9 L1650.5,641.6 L1652.0,641.5 L1653.5,641.7 L1655.0,642.0 L1656.5,642.5 L1658.0,642.9 L1659.5,643.3 L1661.0,643.3 L1662.5,642.0 L1664.0,637.1 L1665.5,624.6 L1667.0,603.4 L1668.5,582.2 L1670.0,575.6 L1671.5,588.8 L1673.0,610.8 L1674.5,627.8 L1676.0,636.0 L1677.5,638.6 L1679.0,639.4 L1680.5,640.0 L1682.0,640.8 L1683.5,641.9 L1685.0,643.1 L1686.5,644.6 L1688.0,646.2 L1689.5,647.8 L1691.0,649.5 L1692.5,651.2 L1694.0,652.9 L1695.5,654.6 L1697.0,656.4 L1698.5,658.1 L1700.0,659.2 L1701.5,659.6 L1703.0,659.4 L1704.5,659.0 L1706.0,658.5 L1707.5,658.3 L1709.0,658.1 L1710.5,658.1 L1712.0,658.2 L1713.5,658.4 L1715.0,658.6 L1716.5,658.9 L1718.0,659.0 L1719.5,658.7 L1721.0,657.6 L1722.5,654.2 L1724.0,645.1 L1725.5,626.4 L1727.0,601.0 L1728.5,583.0 L1730.0,585.7 L1731.5,606.1 L1733.0,628.1 L1734.5,641.2 L1736.0,645.8 L1737.5,646.3 L1739.0,645.2 L1740.5,643.4 L1742.0,641.0 L1743.5,638.5 L1745.0,636.1 L1746.5,634.1 L1748.0,632.3 L1749.5,630.5 L1751.0,628.7 L1752.5,627.1 L1754.0,626.5 L1755.5,627.0 L1757.0,628.4 L1758.5,629.8 L1760.0,630.2 L1761.5,629.1 L1763.0,626.5 L1764.5,623.0 L1766.0,619.4 L1767.5,616.9 L1769.0,616.3 L1770.5,617.9 L1772.0,620.4 L1773.5,622.5 L1775.0,622.8 L1776.5,621.3 L1778.0,618.7 L1779.5,616.0 L1781.0,614.0 L1782.5,612.9 L1784.0,613.0 L1785.5,613.8 L1787.0,614.8 L1788.5,615.9 L1790.0,616.7 L1791.5,617.4 L1793.0,618.2 L1794.5,619.3 L1796.0,620.7 L1797.5,622.1 L1799.0,623.5 L1800.5,624.4 L1802.0,624.5 L1803.5,623.6 L1805.0,622.0 L1806.5,620.1 L1808.0,618.9 L1809.5,618.8 L1811.0,620.1 L1812.5,622.2 L1814.0,624.2 L1815.5,625.4 L1817.0,625.5 L1818.5,624.9 L1820.0,624.4 L1821.5,624.3 L1823.0,624.8 L1824.5,625.6 L1826.0,625.6 L1827.5,622.6 L1829.0,613.2 L1830.5,594.4 L1832.0,567.1 L1833.5,538.5 L1835.0,519.4 L1836.5,518.2 L1838.0,535.4 L1839.5,563.2 L1841.0,590.9 L1842.5,611.0 L1844.0,622.6 L1845.5,628.6 L1847.0,632.2 L1848.5,635.2 L1850.0,637.8 L1851.5,640.0 L1853.0,641.4 L1854.5,641.6 L1856.0,640.7 L1857.5,639.0 L1859.0,637.0 L1860.5,635.3 L1862.0,634.4 L1863.5,634.5 L1865.0,635.3 L1866.5,636.0 L1868.0,636.2 L1869.5,635.6 L1871.0,634.3 L1872.5,632.4 L1874.0,630.4 L1875.5,628.7 L1877.0,627.7 L1878.5,627.4 L1880.0,627.7 L1881.5,628.1 L1883.0,628.4 L1884.5,628.3 L1886.0,627.4 L1887.5,625.4 L1889.0,621.9 L1890.5,617.2 L1892.0,612.4 L1893.5,608.9 L1895.0,607.5 L1896.5,607.7 L1898.0,608.4 L1899.5,608.6 L1901.0,607.6 L1902.5,605.4 L1904.0,602.7 L1905.5,600.3 L1907.0,599.0 L1908.5,599.0 L1910.0,599.6 L1911.5,600.2 L1913.0,599.9 L1914.5,598.6 L1916.0,596.5 L1917.5,594.0 L1919.0,591.9 L1920.5,591.1 L1922.0,592.1 L1923.5,595.1 L1925.0,599.0 L1926.5,601.7 L1928.0,599.1 L1929.5,586.2 L1931.0,563.5 L1932.5,542.8 L1934.0,540.0 L1935.5,557.2 L1937.0,580.3 L1938.5,595.7 L1940.0,601.3 L1941.5,601.2 L1943.0,599.0 L1944.5,596.3 L1946.0,593.6 L1947.5,590.9 L1949.0,588.4 L1950.5,586.3 L1952.0,584.9 L1953.5,584.4 L1955.0,584.5 L1956.5,585.2 L1958.0,586.0 L1959.5,586.7 L1961.0,587.3 L1962.5,587.8 L1964.0,588.1 L1965.5,588.1 L1967.0,587.8 L1968.5,587.2 L1970.0,586.7 L1971.5,586.3 L1973.0,586.2 L1974.5,586.1 L1976.0,586.3 L1977.5,587.0 L1979.0,588.7 L1980.5,591.7 L1982.0,595.6 L1983.5,599.7 L1985.0,603.2 L1986.5,605.9 L1988.0,607.6 L1989.5,608.8 L1991.0,609.7 L1992.5,610.8 L1994.0,612.4 L1995.5,614.5 L1997.0,616.9 L1998.5,618.9 L2000.0,620.2 L2001.5,620.6 L2003.0,620.3 L2004.5,619.5 L2006.0,618.7 L2007.5,617.9 L2009.0,617.6 L2010.5,618.0 L2012.0,619.0 L2013.5,620.3 L2015.0,621.5 L2016.5,622.1 L2018.0,621.7 L2019.5,620.3 L2021.0,617.9 L2022.5,615.2 L2024.0,612.8 L2025.5,611.1 L2027.0,610.0 L2028.5,609.3 L2030.0,608.9 L2031.5,608.4 L2033.0,606.3 L2034.5,599.0 L2036.0,581.9 L2037.5,556.7 L2039.0,537.2 L2040.5,539.5 L2042.0,562.9 L2043.5,590.6 L2045.0,609.3 L2046.5,617.6 L2048.0,620.0 L2049.5,620.1 L2051.0,619.5 L2052.5,619.1 L2054.0,619.3 L2055.5,620.6 L2057.0,622.9 L2058.5,626.0 L2060.0,629.4 L2061.5,632.7 L2063.0,635.3 L2064.5,637.0 L2066.0,637.9 L2067.5,638.3 L2069.0,638.6 L2070.5,638.9 L2072.0,639.2 L2073.5,639.6 L2075.0,640.1 L2076.5,640.5 L2078.0,640.8 L2079.5,640.5 L2081.0,639.2 L2082.5,637.0 L2084.0,634.7 L2085.5,633.0 L2087.0,632.3 L2088.5,632.4 L2090.0,633.0 L2091.5,633.6 L2093.0,634.0 L2094.5,634.2 L2096.0,634.2 L2097.5,634.2 L2099.0,634.4 L2100.5,634.6 L2102.0,634.9 L2103.5,635.2 L2105.0,635.4 L2106.5,635.5 L2108.0,635.4 L2109.5,635.2 L2111.0,634.8 L2112.5,634.4 L2114.0,633.9 L2115.5,633.5 L2117.0,633.3 L2118.5,633.4 L2120.0,633.8 L2121.5,634.7 L2123.0,635.8 L2124.5,636.9 L2126.0,637.7 L2127.5,638.3 L2129.0,638.6 L2130.5,638.9 L2132.0,639.2 L2133.5,639.5 L2135.0,639.6 L2136.5,639.1 L2138.0,637.8 L2139.5,635.6 L2141.0,632.6 L2142.5,629.6 L2144.0,627.2 L2145.5,625.6 L2147.0,624.9 L2148.5,624.8 L2150.0,624.9 L2151.5,624.9 L2153.0,624.9 L2154.5,624.9 L2156.0,625.1 L2157.5,625.6 L2159.0,626.4 L2160.5,627.2 L2162.0,628.0 L2163.5,628.3 L2165.0,626.8 L2166.5,620.5 L2168.0,605.5 L2169.5,583.0 L2171.0,564.6 L2172.5,564.8 L2174.0,584.2 L2175.5,608.2 L2177.0,624.4 L2178.5,630.8 L2180.0,631.1 L2181.5,629.0 L2183.0,626.5 L2184.5,624.9 L2186.0,624.8 L2187.5,626.0 L2189.0,627.8 L2190.5,629.6 L2192.0,630.7 L2193.5,630.9 L2195.0,630.2 L2196.5,628.5 L2198.0,624.8 L2199.5,616.4 L2201.0,600.6 L2202.5,579.2 L2204.0,561.4 L2205.5,558.3 L2207.0,571.2 L2208.5,590.2 L2210.0,604.9 L2211.5,612.3 L2213.0,615.1 L2214.5,616.0 L2216.0,616.5 L2217.5,616.9 L2219.0,617.1 L2220.5,617.3 L2222.0,617.4 L2223.5,617.7 L2225.0,618.3 L2226.5,619.3 L2228.0,620.6 L2229.5,622.1 L2231.0,623.6 L2232.5,624.9 L2234.0,626.0 L2235.5,626.5 L2237.0,626.3 L2238.5,625.2 L2240.0,623.2 L2241.5,620.7 L2243.0,618.5 L2244.5,617.1 L2246.0,617.0 L2247.5,618.1 L2249.0,619.6 L2250.5,621.2 L2252.0,622.4 L2253.5,623.5 L2255.0,624.2 L2256.5,624.5 L2258.0,624.2 L2259.5,623.5 L2261.0,622.4 L2262.5,621.2 L2264.0,619.8 L2265.5,618.1 L2267.0,616.4 L2268.5,614.7 L2270.0,613.3 L2271.5,612.3 L2273.0,611.7 L2274.5,611.5 L2276.0,611.9 L2277.5,613.3 L2279.0,615.5 L2280.5,618.2 L2282.0,620.8 L2283.5,622.5 L2285.0,623.0 L2286.5,622.5 L2288.0,621.5 L2289.5,620.5 L2291.0,619.8 L2292.5,619.6 L2294.0,619.5 L2295.5,619.3 L2297.0,619.2 L2298.5,619.1 L2300.0,619.5 L2301.5,620.7 L2303.0,622.5 L2304.5,624.8 L2306.0,627.4 L2307.5,629.8 L2309.0,631.6 L2310.5,632.3 L2312.0,631.6 L2313.5,629.9 L2315.0,627.4 L2316.5,624.6 L2318.0,621.7 L2319.5,619.1 L2321.0,617.1 L2322.5,615.9 L2324.0,615.5 L2325.5,615.3 L2327.0,615.4 L2328.5,615.4 L2330.0,615.7 L2331.5,616.3 L2333.0,617.3 L2334.5,618.4 L2336.0,619.5 L2337.5,619.9 L2339.0,619.4 L2340.5,617.9 L2342.0,615.7 L2343.5,613.2 L2345.0,610.5 L2346.5,608.1 L2348.0,606.3 L2349.5,605.8 L2351.0,606.9 L2352.5,609.4 L2354.0,612.3 L2355.5,614.7 L2357.0,616.0 L2358.5,616.3 L2360.0,615.8 L2361.5,615.0 L2363.0,614.0 L2364.5,612.9 L2366.0,611.8 L2367.5,610.8 L2369.0,610.1 L2370.5,609.4 L2372.0,608.6 L2373.5,607.8 L2375.0,607.1 L2376.5,606.7 L2378.0,606.6 L2379.5,606.7 L2381.0,606.9 L2382.5,607.3 L2384.0,607.7 L2385.5,608.1 L2387.0,608.4 L2388.5,608.6 L2390.0,608.7 L2391.5,608.7 L2393.0,608.7 L2394.5,608.7 L2396.0,608.9 L2397.5,609.2 L2399.0,609.6 L2400.5,610.1 L2402.0,610.4 L2403.5,610.8 L2405.0,611.0 L2406.5,611.0 L2408.0,610.9 L2409.5,610.8 L2411.0,610.7 L2412.5,610.7 L2414.0,610.9 L2415.5,611.4 L2417.0,612.5 L2418.5,614.1 L2420.0,615.7 L2421.5,617.0 L2423.0,617.5 L2424.5,616.9 L2426.0,615.6 L2427.5,614.2 L2429.0,613.4 L2430.5,613.9 L2432.0,616.1 L2433.5,619.5 L2435.0,623.2 L2436.5,626.6 L2438.0,629.4 L2439.5,632.1 L2441.0,635.2 L2442.5,639.3 L2444.0,645.0 L2445.5,652.1 L2447.0,659.9 L2448.5,666.5" fill="none" stroke="#19d6f5" stroke-width="3.2" stroke-linejoin="round" stroke-linecap="round" opacity="1"/><path d="M1121.0,646.0 L1122.5,645.9 L1124.0,646.0 L1125.5,646.1 L1127.0,645.8 L1128.5,645.0 L1130.0,643.9 L1131.5,642.8 L1133.0,641.8 L1134.5,641.4 L1136.0,641.6 L1137.5,642.3 L1139.0,643.2 L1140.5,643.9 L1142.0,644.6 L1143.5,645.3 L1145.0,646.1 L1146.5,646.7 L1148.0,647.2 L1149.5,647.2 L1151.0,646.8 L1152.5,646.2 L1154.0,645.3 L1155.5,644.2 L1157.0,642.9 L1158.5,641.7 L1160.0,640.9 L1161.5,640.7 L1163.0,641.2 L1164.5,642.2 L1166.0,643.4 L1167.5,644.6 L1169.0,645.8 L1170.5,646.9 L1172.0,647.9 L1173.5,648.4 L1175.0,648.6 L1176.5,648.5 L1178.0,648.2 L1179.5,648.0 L1181.0,647.9 L1182.5,647.9 L1184.0,647.8 L1185.5,647.7 L1187.0,647.4 L1188.5,647.1 L1190.0,646.8 L1191.5,646.9 L1193.0,647.5 L1194.5,648.9 L1196.0,651.2 L1197.5,654.0 L1199.0,656.5 L1200.5,657.9 L1202.0,657.9 L1203.5,656.9 L1205.0,655.5 L1206.5,654.4 L1208.0,653.8 L1209.5,653.8 L1211.0,654.1 L1212.5,654.4 L1214.0,654.7 L1215.5,654.6 L1217.0,654.2 L1218.5,653.7 L1220.0,653.1 L1221.5,652.6 L1223.0,652.3 L1224.5,652.2 L1226.0,652.2 L1227.5,652.4 L1229.0,652.5 L1230.5,652.4 L1232.0,652.2 L1233.5,651.8 L1235.0,651.5 L1236.5,651.2 L1238.0,651.1 L1239.5,651.1 L1241.0,651.3 L1242.5,651.8 L1244.0,652.3 L1245.5,652.9 L1247.0,653.6 L1248.5,654.3 L1250.0,655.1 L1251.5,655.9 L1253.0,656.5 L1254.5,656.6 L1256.0,656.2 L1257.5,655.5 L1259.0,654.7 L1260.5,653.9 L1262.0,653.4 L1263.5,652.9 L1265.0,652.4 L1266.5,652.0 L1268.0,651.6 L1269.5,651.3 L1271.0,651.1 L1272.5,650.8 L1274.0,650.6 L1275.5,650.5 L1277.0,650.7 L1278.5,651.0 L1280.0,651.4 L1281.5,651.7 L1283.0,651.9 L1284.5,651.7 L1286.0,651.0 L1287.5,649.9 L1289.0,648.6 L1290.5,647.5 L1292.0,646.7 L1293.5,646.5 L1295.0,646.9 L1296.5,647.5 L1298.0,648.3 L1299.5,649.1 L1301.0,650.0 L1302.5,650.8 L1304.0,651.6 L1305.5,651.8 L1307.0,649.8 L1308.5,641.9 L1310.0,624.0 L1311.5,601.4 L1313.0,590.5 L1314.5,601.9 L1316.0,624.9 L1317.5,643.0 L1319.0,651.2 L1320.5,653.4 L1322.0,653.4 L1323.5,652.6 L1325.0,651.4 L1326.5,650.0 L1328.0,648.4 L1329.5,646.7 L1331.0,645.2 L1332.5,643.8 L1334.0,642.5 L1335.5,641.2 L1337.0,640.2 L1338.5,639.8 L1340.0,640.2 L1341.5,641.1 L1343.0,642.2 L1344.5,643.3 L1346.0,644.2 L1347.5,645.1 L1349.0,645.8 L1350.5,646.6 L1352.0,647.2 L1353.5,647.8 L1355.0,648.1 L1356.5,648.2 L1358.0,648.4 L1359.5,648.7 L1361.0,649.0 L1362.5,648.7 L1364.0,647.9 L1365.5,646.5 L1367.0,645.0 L1368.5,643.4 L1370.0,641.7 L1371.5,639.8 L1373.0,637.6 L1374.5,635.4 L1376.0,633.5 L1377.5,632.6 L1379.0,633.2 L1380.5,635.2 L1382.0,638.2 L1383.5,641.1 L1385.0,643.0 L1386.5,643.6 L1388.0,643.2 L1389.5,642.4 L1391.0,641.7 L1392.5,641.3 L1394.0,641.4 L1395.5,641.9 L1397.0,642.6 L1398.5,643.4 L1400.0,644.4 L1401.5,645.3 L1403.0,646.2 L1404.5,646.5 L1406.0,646.3 L1407.5,645.5 L1409.0,644.4 L1410.5,643.5 L1412.0,642.8 L1413.5,642.3 L1415.0,641.9 L1416.5,641.8 L1418.0,641.9 L1419.5,642.3 L1421.0,643.1 L1422.5,644.0 L1424.0,644.9 L1425.5,645.8 L1427.0,646.7 L1428.5,647.5 L1430.0,648.1 L1431.5,648.3 L1433.0,647.8 L1434.5,646.9 L1436.0,645.9 L1437.5,645.0 L1439.0,644.4 L1440.5,644.1 L1442.0,644.0 L1443.5,644.0 L1445.0,644.1 L1446.5,644.3 L1448.0,644.5 L1449.5,644.9 L1451.0,645.6 L1452.5,646.6 L1454.0,647.8 L1455.5,649.0 L1457.0,650.2 L1458.5,651.4 L1460.0,652.3 L1461.5,653.0 L1463.0,653.5 L1464.5,653.5 L1466.0,653.0 L1467.5,652.0 L1469.0,650.7 L1470.5,649.5 L1472.0,648.7 L1473.5,648.4 L1475.0,648.5 L1476.5,648.7 L1478.0,648.9 L1479.5,649.1 L1481.0,649.0 L1482.5,648.8 L1484.0,648.5 L1485.5,648.2 L1487.0,648.1 L1488.5,648.1 L1490.0,648.1 L1491.5,647.8 L1493.0,646.8 L1494.5,645.1 L1496.0,643.3 L1497.5,642.1 L1499.0,642.4 L1500.5,643.8 L1502.0,645.7 L1503.5,647.2 L1505.0,647.6 L1506.5,647.0 L1508.0,645.9 L1509.5,644.8 L1511.0,644.2 L1512.5,644.2 L1514.0,644.7 L1515.5,645.5 L1517.0,646.2 L1518.5,647.0 L1520.0,647.5 L1521.5,647.7 L1523.0,647.2 L1524.5,644.8 L1526.0,637.2 L1527.5,620.8 L1529.0,598.4 L1530.5,582.8 L1532.0,586.4 L1533.5,606.1 L1535.0,627.5 L1536.5,640.7 L1538.0,646.1 L1539.5,647.6 L1541.0,647.8 L1542.5,647.6 L1544.0,647.3 L1545.5,647.0 L1547.0,646.6 L1548.5,646.5 L1550.0,646.8 L1551.5,648.0 L1553.0,649.9 L1554.5,652.1 L1556.0,654.2 L1557.5,655.5 L1559.0,655.8 L1560.5,655.3 L1562.0,654.6 L1563.5,654.1 L1565.0,654.3 L1566.5,655.0 L1568.0,655.9 L1569.5,656.4 L1571.0,656.3 L1572.5,655.5 L1574.0,654.1 L1575.5,652.5 L1577.0,650.9 L1578.5,649.6 L1580.0,648.7 L1581.5,648.3 L1583.0,648.1 L1584.5,647.7 L1586.0,647.2 L1587.5,646.4 L1589.0,645.6 L1590.5,644.7 L1592.0,643.9 L1593.5,643.5 L1595.0,643.3 L1596.5,643.4 L1598.0,643.4 L1599.5,643.4 L1601.0,643.3 L1602.5,643.4 L1604.0,643.7 L1605.5,644.2 L1607.0,644.9 L1608.5,645.6 L1610.0,646.3 L1611.5,646.8 L1613.0,647.2 L1614.5,647.5 L1616.0,647.5 L1617.5,647.4 L1619.0,647.1 L1620.5,646.7 L1622.0,646.4 L1623.5,646.2 L1625.0,646.0 L1626.5,645.8 L1628.0,645.6 L1629.5,645.4 L1631.0,644.9 L1632.5,644.3 L1634.0,643.5 L1635.5,642.7 L1637.0,642.0 L1638.5,641.3 L1640.0,640.6 L1641.5,639.9 L1643.0,639.3 L1644.5,639.1 L1646.0,639.0 L1647.5,639.0 L1649.0,638.9 L1650.5,638.6 L1652.0,638.5 L1653.5,638.7 L1655.0,639.0 L1656.5,639.5 L1658.0,639.9 L1659.5,640.3 L1661.0,640.3 L1662.5,639.0 L1664.0,634.1 L1665.5,621.6 L1667.0,600.4 L1668.5,579.2 L1670.0,572.6 L1671.5,585.8 L1673.0,607.8 L1674.5,624.8 L1676.0,633.0 L1677.5,635.6 L1679.0,636.4 L1680.5,637.0 L1682.0,637.8 L1683.5,638.9 L1685.0,640.1 L1686.5,641.6 L1688.0,643.2 L1689.5,644.8 L1691.0,646.5 L1692.5,648.2 L1694.0,649.9 L1695.5,651.6 L1697.0,653.4 L1698.5,655.1 L1700.0,656.2 L1701.5,656.6 L1703.0,656.4 L1704.5,656.0 L1706.0,655.5 L1707.5,655.3 L1709.0,655.1 L1710.5,655.1 L1712.0,655.2 L1713.5,655.4 L1715.0,655.6 L1716.5,655.9 L1718.0,656.0 L1719.5,655.7 L1721.0,654.6 L1722.5,651.2 L1724.0,642.1 L1725.5,623.4 L1727.0,598.0 L1728.5,580.0 L1730.0,582.7 L1731.5,603.1 L1733.0,625.1 L1734.5,638.2 L1736.0,642.8 L1737.5,643.3 L1739.0,642.2 L1740.5,640.4 L1742.0,638.0 L1743.5,635.5 L1745.0,633.1 L1746.5,631.1 L1748.0,629.3 L1749.5,627.5 L1751.0,625.7 L1752.5,624.1 L1754.0,623.5 L1755.5,624.0 L1757.0,625.4 L1758.5,626.8 L1760.0,627.2 L1761.5,626.1 L1763.0,623.5 L1764.5,620.0 L1766.0,616.4 L1767.5,613.9 L1769.0,613.3 L1770.5,614.9 L1772.0,617.4 L1773.5,619.5 L1775.0,619.8 L1776.5,618.3 L1778.0,615.7 L1779.5,613.0 L1781.0,611.0 L1782.5,609.9 L1784.0,610.0 L1785.5,610.8 L1787.0,611.8 L1788.5,612.9 L1790.0,613.7 L1791.5,614.4 L1793.0,615.2 L1794.5,616.3 L1796.0,617.7 L1797.5,619.1 L1799.0,620.5 L1800.5,621.4 L1802.0,621.5 L1803.5,620.6 L1805.0,619.0 L1806.5,617.1 L1808.0,615.9 L1809.5,615.8 L1811.0,617.1 L1812.5,619.2 L1814.0,621.2 L1815.5,622.4 L1817.0,622.5 L1818.5,621.9 L1820.0,621.4 L1821.5,621.3 L1823.0,621.8 L1824.5,622.4 L1826.0,621.9 L1827.5,616.3 L1829.0,598.7 L1830.5,559.9 L1832.0,496.8 L1833.5,423.7 L1835.0,371.6 L1836.5,369.3 L1838.0,417.8 L1839.5,490.1 L1841.0,554.5 L1842.5,595.6 L1844.0,616.0 L1845.5,624.8 L1847.0,629.1 L1848.5,632.1 L1850.0,634.8 L1851.5,637.0 L1853.0,638.4 L1854.5,638.6 L1856.0,637.7 L1857.5,636.0 L1859.0,634.0 L1860.5,632.3 L1862.0,631.4 L1863.5,631.5 L1865.0,632.3 L1866.5,633.0 L1868.0,633.2 L1869.5,632.6 L1871.0,631.3 L1872.5,629.4 L1874.0,627.4 L1875.5,625.7 L1877.0,624.7 L1878.5,624.4 L1880.0,624.7 L1881.5,625.1 L1883.0,625.4 L1884.5,625.3 L1886.0,624.4 L1887.5,622.4 L1889.0,618.9 L1890.5,614.2 L1892.0,609.4 L1893.5,605.9 L1895.0,604.5 L1896.5,604.7 L1898.0,605.4 L1899.5,605.6 L1901.0,604.6 L1902.5,602.4 L1904.0,599.7 L1905.5,597.3 L1907.0,596.0 L1908.5,596.0 L1910.0,596.6 L1911.5,597.2 L1913.0,596.9 L1914.5,595.6 L1916.0,593.5 L1917.5,591.0 L1919.0,588.9 L1920.5,588.1 L1922.0,589.1 L1923.5,592.1 L1925.0,596.0 L1926.5,598.7 L1928.0,596.1 L1929.5,583.2 L1931.0,560.5 L1932.5,539.8 L1934.0,537.0 L1935.5,554.2 L1937.0,577.3 L1938.5,592.7 L1940.0,598.3 L1941.5,598.2 L1943.0,596.0 L1944.5,593.3 L1946.0,590.6 L1947.5,587.9 L1949.0,585.4 L1950.5,583.3 L1952.0,581.9 L1953.5,581.4 L1955.0,581.5 L1956.5,582.2 L1958.0,583.0 L1959.5,583.7 L1961.0,584.3 L1962.5,584.8 L1964.0,585.1 L1965.5,585.1 L1967.0,584.8 L1968.5,584.2 L1970.0,583.7 L1971.5,583.3 L1973.0,583.2 L1974.5,583.1 L1976.0,583.3 L1977.5,584.0 L1979.0,585.7 L1980.5,588.7 L1982.0,592.6 L1983.5,596.7 L1985.0,600.2 L1986.5,602.9 L1988.0,604.6 L1989.5,605.8 L1991.0,606.7 L1992.5,607.8 L1994.0,609.4 L1995.5,611.5 L1997.0,613.9 L1998.5,615.9 L2000.0,617.2 L2001.5,617.6 L2003.0,617.3 L2004.5,616.5 L2006.0,615.7 L2007.5,614.9 L2009.0,614.6 L2010.5,615.0 L2012.0,616.0 L2013.5,617.3 L2015.0,618.5 L2016.5,619.1 L2018.0,618.7 L2019.5,617.3 L2021.0,614.9 L2022.5,612.2 L2024.0,609.8 L2025.5,608.1 L2027.0,607.0 L2028.5,606.3 L2030.0,605.9 L2031.5,605.4 L2033.0,603.3 L2034.5,596.0 L2036.0,578.9 L2037.5,553.7 L2039.0,534.2 L2040.5,536.5 L2042.0,559.9 L2043.5,587.6 L2045.0,606.3 L2046.5,614.6 L2048.0,617.0 L2049.5,617.1 L2051.0,616.5 L2052.5,616.1 L2054.0,616.3 L2055.5,617.6 L2057.0,619.9 L2058.5,623.0 L2060.0,626.4 L2061.5,629.7 L2063.0,632.3 L2064.5,634.0 L2066.0,634.9 L2067.5,635.3 L2069.0,635.6 L2070.5,635.9 L2072.0,636.2 L2073.5,636.6 L2075.0,637.1 L2076.5,637.5 L2078.0,637.8 L2079.5,637.5 L2081.0,636.2 L2082.5,634.0 L2084.0,631.7 L2085.5,630.0 L2087.0,629.3 L2088.5,629.4 L2090.0,630.0 L2091.5,630.6 L2093.0,631.0 L2094.5,631.2 L2096.0,631.2 L2097.5,631.2 L2099.0,631.4 L2100.5,631.6 L2102.0,631.9 L2103.5,632.2 L2105.0,632.4 L2106.5,632.5 L2108.0,632.4 L2109.5,632.2 L2111.0,631.8 L2112.5,631.4 L2114.0,630.9 L2115.5,630.5 L2117.0,630.3 L2118.5,630.4 L2120.0,630.8 L2121.5,631.7 L2123.0,632.8 L2124.5,633.9 L2126.0,634.7 L2127.5,635.3 L2129.0,635.6 L2130.5,635.9 L2132.0,636.2 L2133.5,636.5 L2135.0,636.6 L2136.5,636.1 L2138.0,634.8 L2139.5,632.6 L2141.0,629.6 L2142.5,626.6 L2144.0,624.2 L2145.5,622.6 L2147.0,621.9 L2148.5,621.8 L2150.0,621.9 L2151.5,621.9 L2153.0,621.9 L2154.5,621.9 L2156.0,622.1 L2157.5,622.6 L2159.0,623.4 L2160.5,624.2 L2162.0,625.0 L2163.5,625.3 L2165.0,623.8 L2166.5,617.5 L2168.0,602.5 L2169.5,580.0 L2171.0,561.6 L2172.5,561.8 L2174.0,581.2 L2175.5,605.2 L2177.0,621.4 L2178.5,627.8 L2180.0,628.1 L2181.5,626.0 L2183.0,623.5 L2184.5,621.9 L2186.0,621.8 L2187.5,623.0 L2189.0,624.8 L2190.5,626.6 L2192.0,627.7 L2193.5,627.9 L2195.0,627.2 L2196.5,625.5 L2198.0,621.8 L2199.5,613.4 L2201.0,597.6 L2202.5,576.2 L2204.0,558.4 L2205.5,555.3 L2207.0,568.2 L2208.5,587.2 L2210.0,601.9 L2211.5,609.3 L2213.0,612.1 L2214.5,613.0 L2216.0,613.5 L2217.5,613.9 L2219.0,614.1 L2220.5,614.3 L2222.0,614.4 L2223.5,614.7 L2225.0,615.3 L2226.5,616.3 L2228.0,617.6 L2229.5,619.1 L2231.0,620.6 L2232.5,621.9 L2234.0,623.0 L2235.5,623.5 L2237.0,623.3 L2238.5,622.2 L2240.0,620.2 L2241.5,617.7 L2243.0,615.5 L2244.5,614.1 L2246.0,614.0 L2247.5,615.1 L2249.0,616.6 L2250.5,618.2 L2252.0,619.4 L2253.5,620.5 L2255.0,621.2 L2256.5,621.5 L2258.0,621.2 L2259.5,620.5 L2261.0,619.4 L2262.5,618.2 L2264.0,616.8 L2265.5,615.1 L2267.0,613.4 L2268.5,611.7 L2270.0,610.3 L2271.5,609.3 L2273.0,608.7 L2274.5,608.5 L2276.0,608.9 L2277.5,610.3 L2279.0,612.5 L2280.5,615.2 L2282.0,617.8 L2283.5,619.5 L2285.0,620.0 L2286.5,619.5 L2288.0,618.5 L2289.5,617.5 L2291.0,616.8 L2292.5,616.6 L2294.0,616.5 L2295.5,616.3 L2297.0,616.2 L2298.5,616.1 L2300.0,616.5 L2301.5,617.7 L2303.0,619.5 L2304.5,621.8 L2306.0,624.4 L2307.5,626.8 L2309.0,628.6 L2310.5,629.3 L2312.0,628.6 L2313.5,626.9 L2315.0,624.4 L2316.5,621.6 L2318.0,618.7 L2319.5,616.1 L2321.0,614.1 L2322.5,612.9 L2324.0,612.5 L2325.5,612.3 L2327.0,612.4 L2328.5,612.4 L2330.0,612.7 L2331.5,613.3 L2333.0,614.3 L2334.5,615.4 L2336.0,616.5 L2337.5,616.9 L2339.0,616.4 L2340.5,614.9 L2342.0,612.7 L2343.5,610.2 L2345.0,607.5 L2346.5,605.1 L2348.0,603.3 L2349.5,602.8 L2351.0,603.9 L2352.5,606.4 L2354.0,609.3 L2355.5,611.7 L2357.0,613.0 L2358.5,613.3 L2360.0,612.8 L2361.5,612.0 L2363.0,611.0 L2364.5,609.9 L2366.0,608.8 L2367.5,607.8 L2369.0,607.1 L2370.5,606.4 L2372.0,605.6 L2373.5,604.8 L2375.0,604.1 L2376.5,603.7 L2378.0,603.6 L2379.5,603.7 L2381.0,603.9 L2382.5,604.3 L2384.0,604.7 L2385.5,605.1 L2387.0,605.4 L2388.5,605.6 L2390.0,605.7 L2391.5,605.7 L2393.0,605.7 L2394.5,605.7 L2396.0,605.9 L2397.5,606.2 L2399.0,606.6 L2400.5,607.1 L2402.0,607.4 L2403.5,607.8 L2405.0,608.0 L2406.5,608.0 L2408.0,607.9 L2409.5,607.8 L2411.0,607.7 L2412.5,607.7 L2414.0,607.9 L2415.5,608.4 L2417.0,609.5 L2418.5,611.1 L2420.0,612.7 L2421.5,614.0 L2423.0,614.5 L2424.5,613.9 L2426.0,612.6 L2427.5,611.2 L2429.0,610.4 L2430.5,610.9 L2432.0,613.1 L2433.5,616.5 L2435.0,620.2 L2436.5,623.6 L2438.0,626.4 L2439.5,629.1 L2441.0,632.2 L2442.5,636.3 L2444.0,642.0 L2445.5,649.1 L2447.0,656.9 L2448.5,663.5" fill="none" stroke="#c3a5e0" stroke-width="3.4" stroke-linejoin="round" stroke-linecap="round" opacity="1"/><circle cx="1121.0" cy="646.0" r="3.6" fill="#c3a5e0"/><circle cx="1121.0" cy="657.6" r="3.6" fill="#80f5a8"/><circle cx="1121.0" cy="675.0" r="3.6" fill="#80f5a8"/><circle cx="1121.0" cy="680.3" r="3.6" fill="#19d6f5"/></svg>
<div class="b" style="left:965.0px;top:865.0px;width:193.0px;height:54.0px;background:#1e293b;border-radius:10px;"></div>
<div class="b" style="left:968.0px;top:869.0px;width:90.0px;height:46.0px;background:#1e293b;border:1px solid #1b2436;border-radius:9px;box-sizing:border-box;box-shadow:0 1px 2px rgba(0,0,0,.3);"></div>
<div class="t" style="left:981.7px;top:883.0px;font-size:20px;color:#f8fafc;-webkit-text-stroke:0.25px #f8fafc;letter-spacing:1.2px;">Direct</div>
<div class="t" style="left:1065.5px;top:883.0px;font-size:20px;color:#94a3b8;-webkit-text-stroke:0.25px #94a3b8;letter-spacing:0.1px;">Reverse</div>
<div class="t" style="left:976.6px;top:951.7px;font-size:20px;color:#94a3b8;-webkit-text-stroke:0.25px #94a3b8;letter-spacing:0.42px;">Série</div>
<div class="t" style="left:1272.4px;top:951.7px;font-size:20px;color:#94a3b8;-webkit-text-stroke:0.25px #94a3b8;letter-spacing:0.67px;">Moyenne</div>
<div class="t" style="left:1420.4px;top:951.7px;font-size:20px;color:#94a3b8;-webkit-text-stroke:0.25px #94a3b8;letter-spacing:1.85px;">Min</div>
<div class="t" style="left:1563.3px;top:951.7px;font-size:20px;color:#94a3b8;-webkit-text-stroke:0.25px #94a3b8;letter-spacing:1.5px;">Max</div>
<div class="t" style="left:1710.4px;top:951.7px;font-size:20px;color:#94a3b8;-webkit-text-stroke:0.25px #94a3b8;letter-spacing:1.12px;">Dernier</div>
<div class="t" style="left:1854.8px;top:951.7px;font-size:20px;color:#94a3b8;-webkit-text-stroke:0.25px #94a3b8;letter-spacing:0.36px;">95e Centile</div>
<div class="b" style="left:965.0px;top:991.0px;width:1023.0px;height:1.0px;background:#1e293b;"></div>
<div class="b" style="left:965.0px;top:1046.0px;width:1023.0px;height:1.0px;background:#1e293b;"></div>
<div class="b" style="left:965.0px;top:1101.0px;width:1023.0px;height:1.0px;background:#1e293b;"></div>
<div class="b" style="left:965.0px;top:1156.0px;width:1023.0px;height:1.0px;background:#1e293b;"></div>
<div class="b" style="left:965.0px;top:1211.0px;width:1023.0px;height:1.0px;background:#1e293b;"></div>
<div class="b" style="left:965.0px;top:1266.0px;width:1023.0px;height:1.0px;background:#1e293b;"></div>
<div class="t" style="left:976.9px;top:1010.4px;font-size:20px;color:#f8fafc;letter-spacing:0.66px;">32590: Valve Corporation</div>
<div class="t" style="left:1272.7px;top:1010.4px;font-size:20px;color:#f8fafc;letter-spacing:0.57px;">706.26 Kbps</div>
<div class="t" style="left:1420.5px;top:1010.4px;font-size:20px;color:#f8fafc;letter-spacing:0.14px;">130.62 Kbps</div>
<div class="t" style="left:1562.7px;top:1010.4px;font-size:20px;color:#f8fafc;letter-spacing:-0.15px;">1.47 Mbps</div>
<div class="t" style="left:1710.4px;top:1010.4px;font-size:20px;color:#f8fafc;letter-spacing:0.14px;">1.02 Mbps</div>
<div class="t" style="left:1853.9px;top:1010.4px;font-size:20px;color:#f8fafc;letter-spacing:-0.09px;">1.23 Mbps</div>
<div class="t" style="left:976.9px;top:1065.4px;font-size:20px;color:#f8fafc;letter-spacing:0.17px;">3215: Orange France</div>
<div class="t" style="left:1272.7px;top:1065.4px;font-size:20px;color:#f8fafc;letter-spacing:-0.12px;">685.51 Kbps</div>
<div class="t" style="left:1421.2px;top:1065.4px;font-size:20px;color:#f8fafc;letter-spacing:0.97px;">560.00 bps</div>
<div class="t" style="left:1563.2px;top:1065.4px;font-size:20px;color:#f8fafc;letter-spacing:-0.08px;">6.21 Mbps</div>
<div class="t" style="left:1710.4px;top:1065.4px;font-size:20px;color:#f8fafc;letter-spacing:0.08px;">116.40 Kbps</div>
<div class="t" style="left:1853.9px;top:1065.4px;font-size:20px;color:#f8fafc;letter-spacing:0.05px;">1.46 Mbps</div>
<div class="t" style="left:976.2px;top:1120.4px;font-size:20px;color:#f8fafc;letter-spacing:-0.41px;">12322: Free SAS</div>
<div class="t" style="left:1272.9px;top:1120.4px;font-size:20px;color:#f8fafc;letter-spacing:-0.42px;">525.17 Kbps</div>
<div class="t" style="left:1421.2px;top:1120.4px;font-size:20px;color:#f8fafc;letter-spacing:0.02px;">33.79 Kbps</div>
<div class="t" style="left:1563.4px;top:1120.4px;font-size:20px;color:#f8fafc;letter-spacing:0.45px;">3.54 Mbps</div>
<div class="t" style="left:1711.1px;top:1120.4px;font-size:20px;color:#f8fafc;letter-spacing:0.16px;">510.86 Kbps</div>
<div class="t" style="left:1853.9px;top:1120.4px;font-size:20px;color:#f8fafc;">1.29 Mbps</div>
<div class="t" style="left:976.2px;top:1175.4px;font-size:20px;color:#f8fafc;letter-spacing:-0.32px;">15557: SFR Group</div>
<div class="t" style="left:1272.7px;top:1175.4px;font-size:20px;color:#f8fafc;letter-spacing:-0.47px;">210.19 Kbps</div>
<div class="t" style="left:1420.5px;top:1175.4px;font-size:20px;color:#f8fafc;letter-spacing:-0.28px;">17.94 Kbps</div>
<div class="t" style="left:1563.3px;top:1175.4px;font-size:20px;color:#f8fafc;letter-spacing:0.46px;">8.29 Mbps</div>
<div class="t" style="left:1710.9px;top:1175.4px;font-size:20px;color:#f8fafc;letter-spacing:0.2px;">63.47 Kbps</div>
<div class="t" style="left:1854.6px;top:1175.4px;font-size:20px;color:#f8fafc;letter-spacing:0.12px;">373.45 Kbps</div>
<div class="t" style="left:976.9px;top:1230.4px;font-size:20px;color:#f8fafc;letter-spacing:-0.1px;">5410: Bouygues Telecom ISP</div>
<div class="t" style="left:1272.2px;top:1230.4px;font-size:20px;color:#f8fafc;letter-spacing:-0.35px;">129.73 Kbps</div>
<div class="t" style="left:1421.0px;top:1230.4px;font-size:20px;color:#f8fafc;letter-spacing:0.6px;">732.00 bps</div>
<div class="t" style="left:1563.4px;top:1230.4px;font-size:20px;color:#f8fafc;letter-spacing:0.69px;">3.40 Mbps</div>
<div class="t" style="left:1710.9px;top:1230.4px;font-size:20px;color:#f8fafc;letter-spacing:0.07px;">25.97 Kbps</div>
<div class="t" style="left:1854.6px;top:1230.4px;font-size:20px;color:#f8fafc;letter-spacing:-0.36px;">311.69 Kbps</div>
<div class="t" style="left:976.7px;top:1285.4px;font-size:20px;color:#f8fafc;letter-spacing:0.07px;">24634: Transmog Inc S.A.L</div>
<div class="t" style="left:1272.8px;top:1285.4px;font-size:20px;color:#f8fafc;letter-spacing:0.52px;">84.06 Kbps</div>
<div class="t" style="left:1421.0px;top:1285.4px;font-size:20px;color:#f8fafc;letter-spacing:0.35px;">2.70 Kbps</div>
<div class="t" style="left:1563.4px;top:1285.4px;font-size:20px;color:#f8fafc;letter-spacing:-0.26px;">312.75 Kbps</div>
<div class="t" style="left:1710.9px;top:1285.4px;font-size:20px;color:#f8fafc;letter-spacing:0.73px;">23.00 Kbps</div>
<div class="t" style="left:1853.9px;top:1285.4px;font-size:20px;color:#f8fafc;letter-spacing:0.07px;">170.29 Kbps</div>
<svg class="i" style="left:0;top:0;width:2560px;height:1300px" viewBox="0 0 2560 1300"><path d="M2261.00,1095.00 A168,168 0 0 1 2428.33,1277.93 L2356.62,1271.53 A96,96 0 0 0 2261.00,1167.00 Z" fill="#4992ff" stroke="#020617" stroke-width="0.4"/><path d="M2428.33,1277.93 A168,168 0 0 1 2261.00,1431.00 L2261.00,1359.00 A96,96 0 0 0 2356.62,1271.53 Z" fill="#7cffb2" stroke="#020617" stroke-width="0.4"/><path d="M2261.00,1431.00 A168,168 0 0 1 2096.43,1296.78 L2166.96,1282.30 A96,96 0 0 0 2261.00,1359.00 Z" fill="#fddd60" stroke="#020617" stroke-width="0.4"/><path d="M2096.43,1296.78 A168,168 0 0 1 2100.60,1213.04 L2169.34,1234.45 A96,96 0 0 0 2166.96,1282.30 Z" fill="#ff6e76" stroke="#020617" stroke-width="0.4"/><path d="M2100.60,1213.04 A168,168 0 0 1 2122.88,1167.36 L2182.07,1208.35 A96,96 0 0 0 2169.34,1234.45 Z" fill="#58d9f9" stroke="#020617" stroke-width="0.4"/><path d="M2122.88,1167.36 A168,168 0 0 1 2144.30,1142.15 L2194.31,1193.94 A96,96 0 0 0 2182.07,1208.35 Z" fill="#05c091" stroke="#020617" stroke-width="0.4"/><path d="M2144.30,1142.15 A168,168 0 0 1 2165.60,1124.71 L2206.49,1183.98 A96,96 0 0 0 2194.31,1193.94 Z" fill="#ff8a45" stroke="#020617" stroke-width="0.4"/><path d="M2165.60,1124.71 A168,168 0 0 1 2182.13,1114.66 L2215.93,1178.24 A96,96 0 0 0 2206.49,1183.98 Z" fill="#8d48e3" stroke="#020617" stroke-width="0.4"/><path d="M2182.13,1114.66 A168,168 0 0 1 2192.67,1109.52 L2221.95,1175.30 A96,96 0 0 0 2215.93,1178.24 Z" fill="#dd79ff" stroke="#020617" stroke-width="0.4"/><path d="M2192.67,1109.52 A168,168 0 0 1 2206.03,1104.25 L2229.59,1172.28 A96,96 0 0 0 2221.95,1175.30 Z" fill="#4992ff" stroke="#020617" stroke-width="0.4"/><path d="M2206.03,1104.25 A168,168 0 0 1 2261.00,1095.00 L2261.00,1167.00 A96,96 0 0 0 2229.59,1172.28 Z" fill="#7cffb2" stroke="#020617" stroke-width="0.4"/><text x="2261" y="1065.3" text-anchor="middle" font-family="Liberation Sans, sans-serif" font-weight="700" font-size="25" fill="#eef1fa">Direct - Moyenne</text></svg>
</body></html>
